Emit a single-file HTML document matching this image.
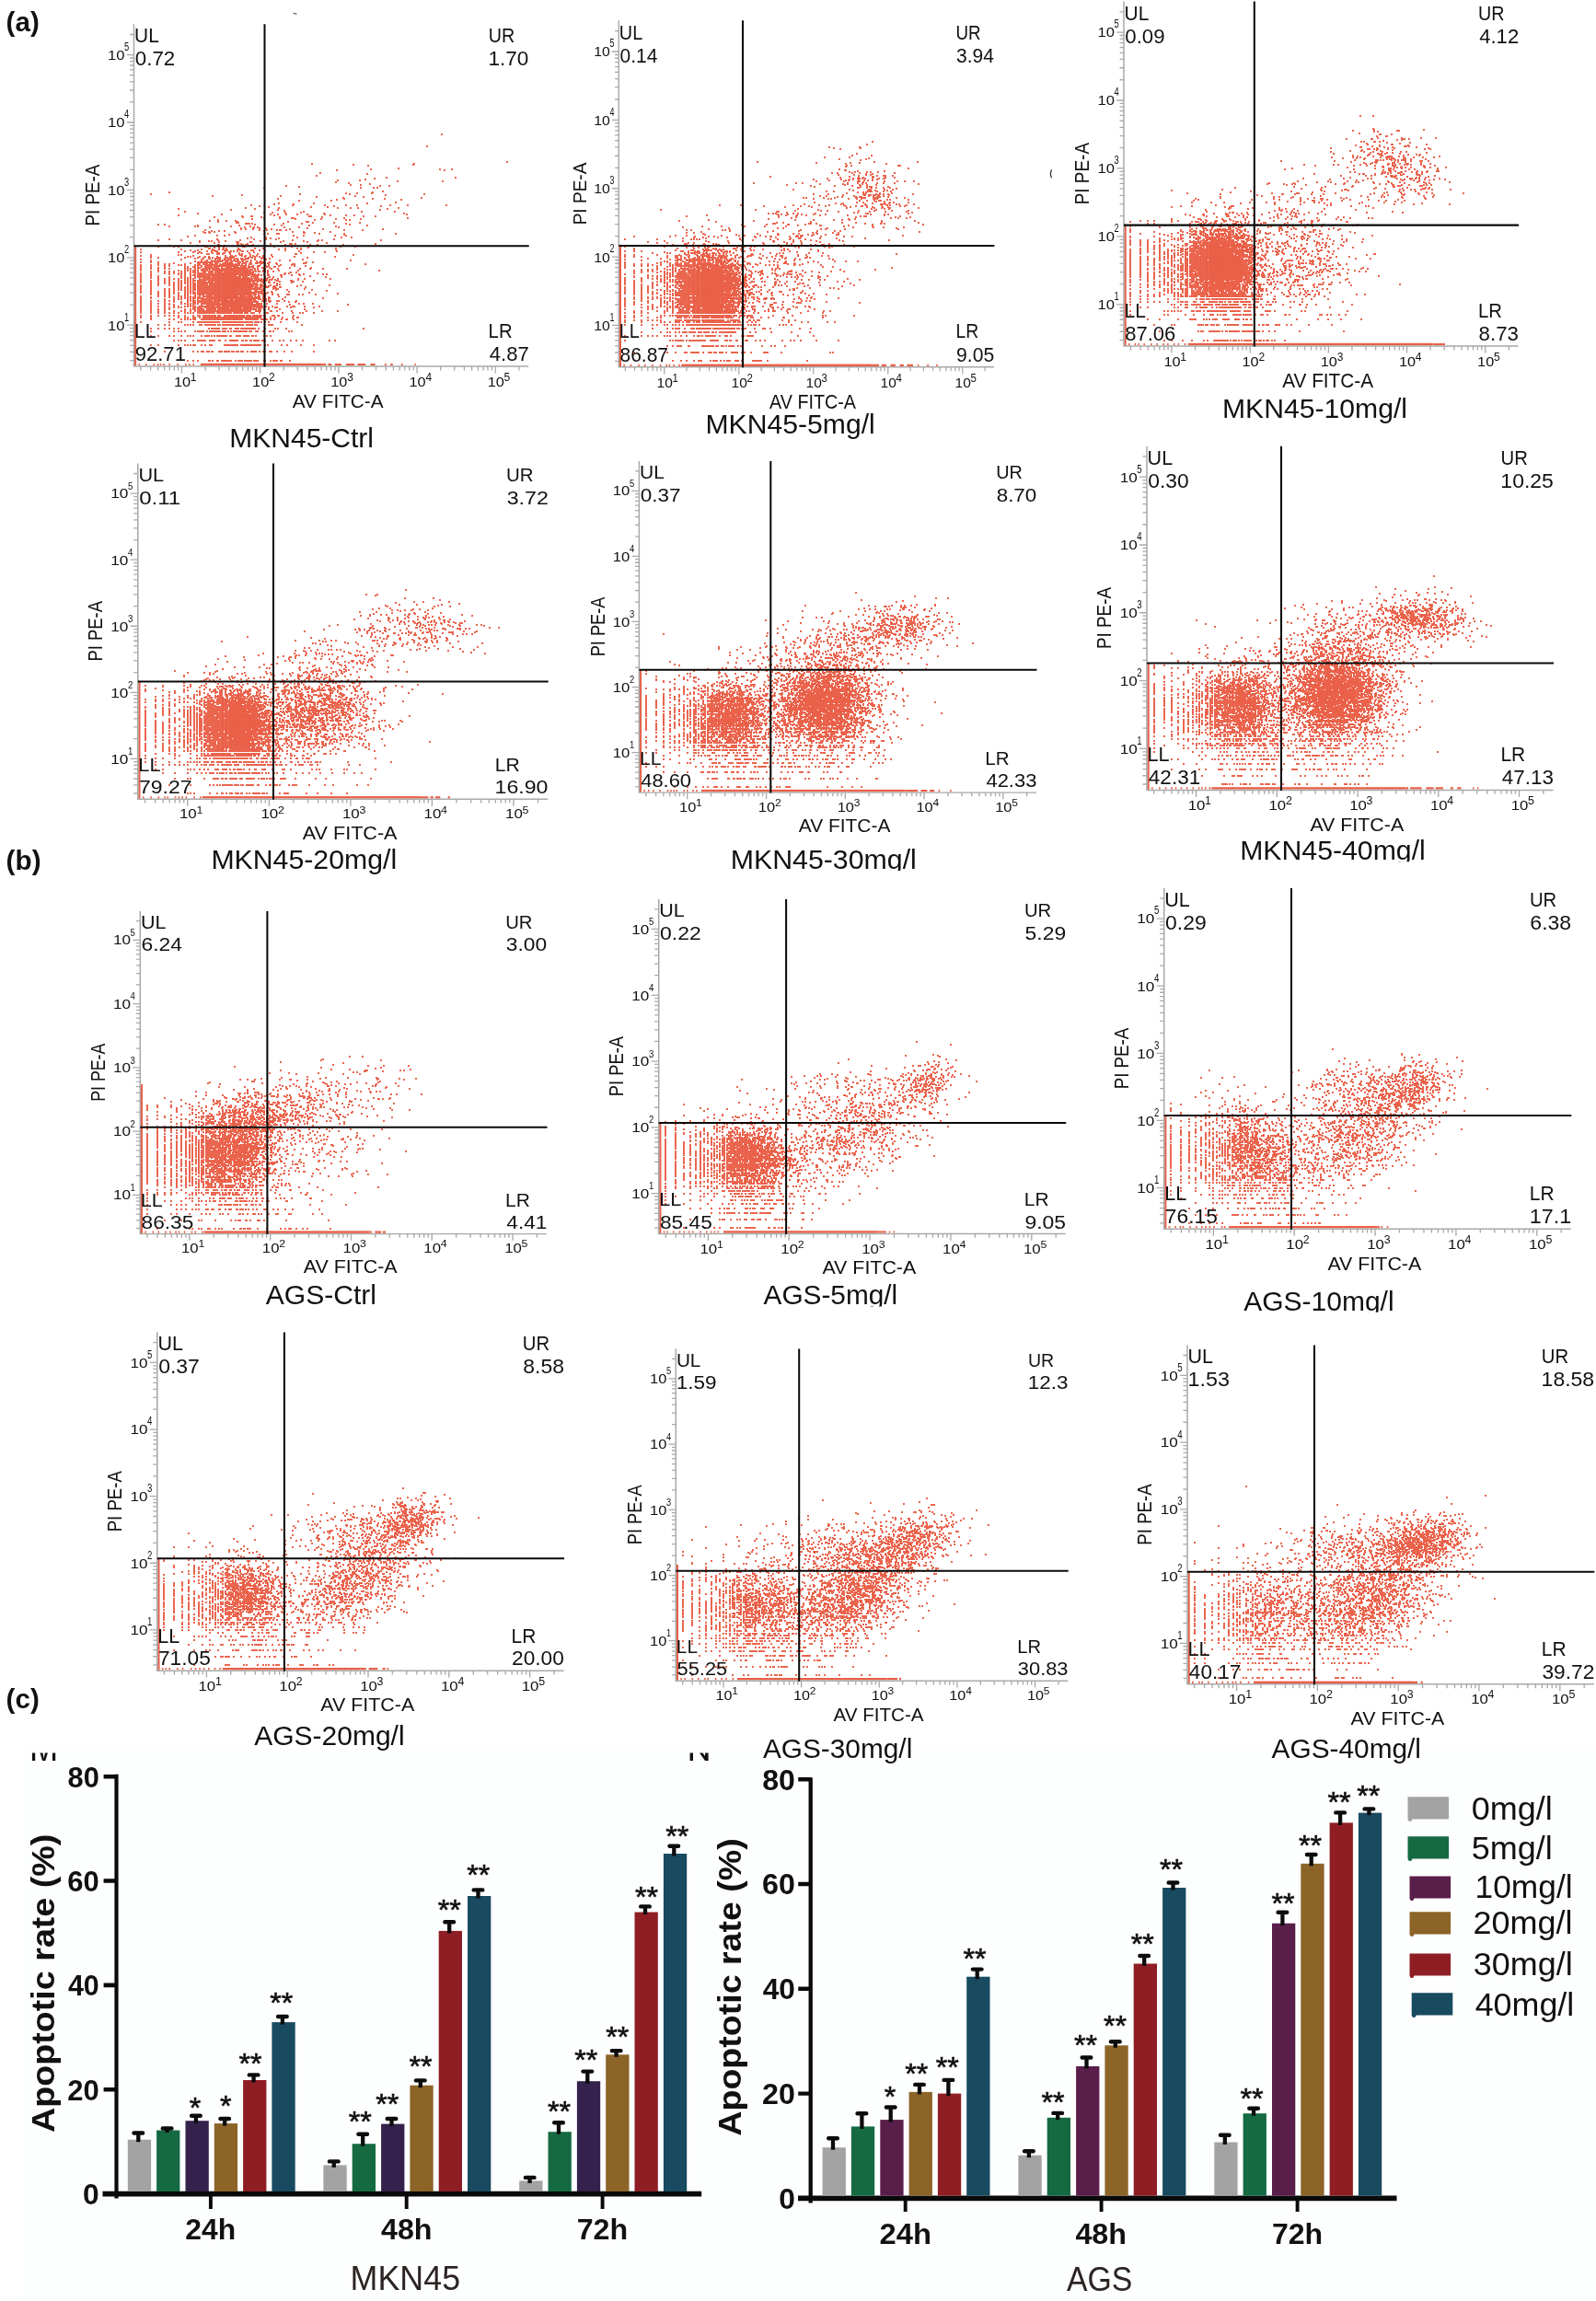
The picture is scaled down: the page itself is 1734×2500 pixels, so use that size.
<!DOCTYPE html>
<html><head><meta charset="utf-8"><title>Figure</title>
<style>html,body{margin:0;padding:0;background:#fff}body{width:1734px;height:2500px;overflow:hidden}svg{display:block;font-family:"Liberation Sans", sans-serif;will-change:transform}</style>
</head><body>
<svg width="1734" height="2500" viewBox="0 0 1734 2500">
<rect width="1734" height="2500" fill="#fff"/>
<defs><g id="tpl">
<path d="M0 0V371.7 H428.7" fill="none" stroke="#a9a9a9" stroke-width="1.5"/>
<path d="M7.4 371.7v4.4M0 365.3h-4.4M18.1 371.7v4.4M0 356.1h-4.4M26.3 371.7v4.4M0 349h-4.4M33.1 371.7v4.4M0 343.2h-4.4M38.8 371.7v4.4M0 338.3h-4.4M43.7 371.7v4.4M0 334h-4.4M48.1 371.7v4.4M0 330.3h-4.4M52 371.7v7.5M0 326.9h-7.8M77.6 371.7v4.4M0 304.8h-4.4M92.6 371.7v4.4M0 291.9h-4.4M103.3 371.7v4.4M0 282.7h-4.4M111.5 371.7v4.4M0 275.6h-4.4M118.3 371.7v4.4M0 269.8h-4.4M124 371.7v4.4M0 264.9h-4.4M128.9 371.7v4.4M0 260.6h-4.4M133.3 371.7v4.4M0 256.9h-4.4M137.2 371.7v7.5M0 253.5h-7.8M162.8 371.7v4.4M0 231.4h-4.4M177.8 371.7v4.4M0 218.5h-4.4M188.5 371.7v4.4M0 209.3h-4.4M196.7 371.7v4.4M0 202.2h-4.4M203.5 371.7v4.4M0 196.4h-4.4M209.2 371.7v4.4M0 191.5h-4.4M214.1 371.7v4.4M0 187.2h-4.4M218.5 371.7v4.4M0 183.5h-4.4M222.4 371.7v7.5M0 180.1h-7.8M248 371.7v4.4M0 158h-4.4M263 371.7v4.4M0 145.1h-4.4M273.7 371.7v4.4M0 135.9h-4.4M281.9 371.7v4.4M0 128.8h-4.4M288.7 371.7v4.4M0 123h-4.4M294.4 371.7v4.4M0 118.1h-4.4M299.3 371.7v4.4M0 113.8h-4.4M303.7 371.7v4.4M0 110.1h-4.4M307.6 371.7v7.5M0 106.7h-7.8M333.2 371.7v4.4M0 84.6h-4.4M348.2 371.7v4.4M0 71.7h-4.4M358.9 371.7v4.4M0 62.5h-4.4M367.1 371.7v4.4M0 55.4h-4.4M373.9 371.7v4.4M0 49.6h-4.4M379.6 371.7v4.4M0 44.7h-4.4M384.5 371.7v4.4M0 40.4h-4.4M388.9 371.7v4.4M0 36.7h-4.4M392.8 371.7v7.5M0 33.3h-7.8M418.4 371.7v4.4M0 11.2h-4.4" fill="none" stroke="#a9a9a9" stroke-width="1.3"/>
<text x="43.4" y="393.3" font-size="15" fill="#111" textLength="18.13" lengthAdjust="spacingAndGlyphs">10</text>
<text x="61.3" y="387.3" font-size="12" fill="#111">1</text>
<text x="-28.5" y="332.3" font-size="15" fill="#111" textLength="18.46" lengthAdjust="spacingAndGlyphs">10</text>
<text x="-10.4" y="322.3" font-size="12" fill="#111" textLength="5.2" lengthAdjust="spacingAndGlyphs">1</text>
<text x="128.6" y="393.3" font-size="15" fill="#111" textLength="18.13" lengthAdjust="spacingAndGlyphs">10</text>
<text x="146.5" y="387.3" font-size="12" fill="#111">2</text>
<text x="-28.5" y="258.9" font-size="15" fill="#111" textLength="18.46" lengthAdjust="spacingAndGlyphs">10</text>
<text x="-10.4" y="248.9" font-size="12" fill="#111" textLength="5.2" lengthAdjust="spacingAndGlyphs">2</text>
<text x="213.8" y="393.3" font-size="15" fill="#111" textLength="18.13" lengthAdjust="spacingAndGlyphs">10</text>
<text x="231.7" y="387.3" font-size="12" fill="#111">3</text>
<text x="-28.5" y="185.5" font-size="15" fill="#111" textLength="18.46" lengthAdjust="spacingAndGlyphs">10</text>
<text x="-10.4" y="175.5" font-size="12" fill="#111" textLength="5.2" lengthAdjust="spacingAndGlyphs">3</text>
<text x="299" y="393.3" font-size="15" fill="#111" textLength="18.13" lengthAdjust="spacingAndGlyphs">10</text>
<text x="316.9" y="387.3" font-size="12" fill="#111">4</text>
<text x="-28.5" y="112.1" font-size="15" fill="#111" textLength="18.46" lengthAdjust="spacingAndGlyphs">10</text>
<text x="-10.4" y="102.1" font-size="12" fill="#111" textLength="5.2" lengthAdjust="spacingAndGlyphs">4</text>
<text x="384.2" y="393.3" font-size="15" fill="#111" textLength="18.13" lengthAdjust="spacingAndGlyphs">10</text>
<text x="402.1" y="387.3" font-size="12" fill="#111">5</text>
<text x="-28.5" y="38.7" font-size="15" fill="#111" textLength="18.46" lengthAdjust="spacingAndGlyphs">10</text>
<text x="-10.4" y="28.7" font-size="12" fill="#111" textLength="5.2" lengthAdjust="spacingAndGlyphs">5</text>
<text x="172.3" y="416.5" font-size="21" fill="#111" textLength="98.79" lengthAdjust="spacingAndGlyphs">AV FITC-A</text>
<g transform="translate(-37.6 185) rotate(-90)"><text x="-34.2" y="0" font-size="21.4" fill="#111" textLength="66.84" lengthAdjust="spacingAndGlyphs">PI PE-A</text></g>
</g></defs>
<rect x="24" y="1899" width="1710" height="601" fill="#fdfefe"/>
<path d="M35 1904.5h3.2v8.5h-3.2z M57 1904.5h3.2v8.5h-3.2z M43.5 1904.5h3l1.2 6 1.2-6h3l-2.6 8.5h-3.2z" fill="#111"/>
<path d="M749.6 1904.5h3.4v8.6h-3.4z M766.2 1904.5h3.4v8.6h-3.6l-6-8.6h3.6l2.4 3.4z" fill="#111"/>
<path d="M126.5 1927.8V2388.5" stroke="#0a0a0a" stroke-width="4.2" fill="none"/>
<path d="M111.5 2383.6H762.2" stroke="#0a0a0a" stroke-width="5.6" fill="none"/>
<path d="M112.6 2270.2H126.5M112.6 2156.9H126.5M112.6 2043.5H126.5M112.6 1930.2H126.5" stroke="#0a0a0a" stroke-width="4.6" fill="none"/>
<path d="M228.9 2383.6V2400M441.7 2383.6V2400M654.6 2383.6V2400" stroke="#0a0a0a" stroke-width="3.9" fill="none"/>
<text x="90.1" y="2395" font-size="31" font-weight="bold" fill="#111" textLength="17.68" lengthAdjust="spacingAndGlyphs">0</text>
<text x="73.3" y="2281.6" font-size="31" font-weight="bold" fill="#111" textLength="34.50" lengthAdjust="spacingAndGlyphs">20</text>
<text x="73.9" y="2168.3" font-size="31" font-weight="bold" fill="#111" textLength="33.84" lengthAdjust="spacingAndGlyphs">40</text>
<text x="73.3" y="2054.9" font-size="31" font-weight="bold" fill="#111" textLength="34.50" lengthAdjust="spacingAndGlyphs">60</text>
<text x="73.5" y="1941.6" font-size="31" font-weight="bold" fill="#111" textLength="34.33" lengthAdjust="spacingAndGlyphs">80</text>
<text x="201.2" y="2433.1" font-size="31.2" font-weight="bold" fill="#111" textLength="54.93" lengthAdjust="spacingAndGlyphs">24h</text>
<text x="414" y="2433.1" font-size="31.2" font-weight="bold" fill="#111" textLength="55.52" lengthAdjust="spacingAndGlyphs">48h</text>
<text x="626.7" y="2433.1" font-size="31.2" font-weight="bold" fill="#111" textLength="55.53" lengthAdjust="spacingAndGlyphs">72h</text>
<g transform="translate(59 2155.2) rotate(-90)"><text x="-161.8" y="0" font-size="34.8" font-weight="bold" fill="#111" textLength="324.38" lengthAdjust="spacingAndGlyphs">Apoptotic rate (%)</text></g>
<text x="380.6" y="2487.6" font-size="37.5" fill="#2b2422" textLength="119.49" lengthAdjust="spacingAndGlyphs">MKN45</text>
<rect x="138.8" y="2324.7" width="25.3" height="56.3" fill="#a3a3a3"/>
<path d="M145.5 2317.5h9.6" stroke="#0c0c0c" stroke-width="4.4" stroke-linecap="round" fill="none"/><path d="M150.3 2317.3V2327.2" stroke="#0c0c0c" stroke-width="4.3" fill="none"/>
<rect x="170.1" y="2314.5" width="25.3" height="66.5" fill="#166a42"/>
<path d="M176.8 2312.5h9.6" stroke="#0c0c0c" stroke-width="4.4" stroke-linecap="round" fill="none"/><path d="M181.6 2312.3V2317" stroke="#0c0c0c" stroke-width="4.3" fill="none"/>
<rect x="201.5" y="2304.2" width="25.3" height="76.8" fill="#34214c"/>
<path d="M208.1 2298.7h9.6" stroke="#0c0c0c" stroke-width="4.4" stroke-linecap="round" fill="none"/><path d="M212.9 2298.5V2306.7" stroke="#0c0c0c" stroke-width="4.3" fill="none"/>
<text x="205.7" y="2301.2" font-size="32.2" fill="#111" stroke="#111" stroke-width=".6">*</text>
<rect x="232.8" y="2307.1" width="25.3" height="73.9" fill="#8c6428"/>
<path d="M239.4 2302h9.6" stroke="#0c0c0c" stroke-width="4.4" stroke-linecap="round" fill="none"/><path d="M244.2 2301.8V2309.6" stroke="#0c0c0c" stroke-width="4.3" fill="none"/>
<text x="239" y="2298.7" font-size="32.2" fill="#111" stroke="#111" stroke-width=".6">*</text>
<rect x="264.1" y="2260" width="25.3" height="121" fill="#8e1e24"/>
<path d="M270.8 2254.4h9.6" stroke="#0c0c0c" stroke-width="4.4" stroke-linecap="round" fill="none"/><path d="M275.6 2254.2V2262.5" stroke="#0c0c0c" stroke-width="4.3" fill="none"/>
<text x="259.6" y="2252.8" font-size="32.2" fill="#111" stroke="#111" stroke-width=".6">**</text>
<rect x="295.4" y="2197.1" width="25.3" height="183.9" fill="#184a60"/>
<path d="M302.1 2191h9.6" stroke="#0c0c0c" stroke-width="4.4" stroke-linecap="round" fill="none"/><path d="M306.9 2190.8V2199.6" stroke="#0c0c0c" stroke-width="4.3" fill="none"/>
<text x="293.3" y="2186.9" font-size="32.2" fill="#111" stroke="#111" stroke-width=".6">**</text>
<rect x="351.4" y="2352.4" width="25.3" height="28.6" fill="#a3a3a3"/>
<path d="M358 2348.4h9.6" stroke="#0c0c0c" stroke-width="4.4" stroke-linecap="round" fill="none"/><path d="M362.8 2348.2V2354.9" stroke="#0c0c0c" stroke-width="4.3" fill="none"/>
<rect x="382.7" y="2329.2" width="25.3" height="51.8" fill="#166a42"/>
<path d="M389.4 2318.8h9.6" stroke="#0c0c0c" stroke-width="4.4" stroke-linecap="round" fill="none"/><path d="M394.2 2318.6V2331.7" stroke="#0c0c0c" stroke-width="4.3" fill="none"/>
<text x="378.8" y="2316.2" font-size="32.2" fill="#111" stroke="#111" stroke-width=".6">**</text>
<rect x="414.1" y="2307.6" width="25.3" height="73.4" fill="#34214c"/>
<path d="M420.7 2302h9.6" stroke="#0c0c0c" stroke-width="4.4" stroke-linecap="round" fill="none"/><path d="M425.5 2301.8V2310.1" stroke="#0c0c0c" stroke-width="4.3" fill="none"/>
<text x="408.2" y="2297.4" font-size="32.2" fill="#111" stroke="#111" stroke-width=".6">**</text>
<rect x="445.4" y="2265.7" width="25.3" height="115.3" fill="#8c6428"/>
<path d="M452 2260.4h9.6" stroke="#0c0c0c" stroke-width="4.4" stroke-linecap="round" fill="none"/><path d="M456.8 2260.2V2268.2" stroke="#0c0c0c" stroke-width="4.3" fill="none"/>
<text x="444.5" y="2256.1" font-size="32.2" fill="#111" stroke="#111" stroke-width=".6">**</text>
<rect x="476.7" y="2097.9" width="25.3" height="283.1" fill="#8e1e24"/>
<path d="M483.4 2088.2h9.6" stroke="#0c0c0c" stroke-width="4.4" stroke-linecap="round" fill="none"/><path d="M488.2 2088V2100.4" stroke="#0c0c0c" stroke-width="4.3" fill="none"/>
<text x="475.8" y="2086.4" font-size="32.2" fill="#111" stroke="#111" stroke-width=".6">**</text>
<rect x="508" y="2060" width="25.3" height="321" fill="#184a60"/>
<path d="M514.7 2053.4h9.6" stroke="#0c0c0c" stroke-width="4.4" stroke-linecap="round" fill="none"/><path d="M519.5 2053.2V2062.5" stroke="#0c0c0c" stroke-width="4.3" fill="none"/>
<text x="507.2" y="2047.6" font-size="32.2" fill="#111" stroke="#111" stroke-width=".6">**</text>
<rect x="564.2" y="2369.4" width="25.3" height="11.6" fill="#a3a3a3"/>
<path d="M570.9 2365.9h9.6" stroke="#0c0c0c" stroke-width="4.4" stroke-linecap="round" fill="none"/><path d="M575.6 2365.7V2371.9" stroke="#0c0c0c" stroke-width="4.3" fill="none"/>
<rect x="595.5" y="2316.2" width="25.3" height="64.8" fill="#166a42"/>
<path d="M602.2 2306.2h9.6" stroke="#0c0c0c" stroke-width="4.4" stroke-linecap="round" fill="none"/><path d="M607 2306V2318.7" stroke="#0c0c0c" stroke-width="4.3" fill="none"/>
<text x="594.9" y="2305" font-size="32.2" fill="#111" stroke="#111" stroke-width=".6">**</text>
<rect x="626.9" y="2261.2" width="25.3" height="119.8" fill="#34214c"/>
<path d="M633.5 2250.6h9.6" stroke="#0c0c0c" stroke-width="4.4" stroke-linecap="round" fill="none"/><path d="M638.3 2250.4V2263.7" stroke="#0c0c0c" stroke-width="4.3" fill="none"/>
<text x="624.2" y="2248.6" font-size="32.2" fill="#111" stroke="#111" stroke-width=".6">**</text>
<rect x="658.2" y="2232.3" width="25.3" height="148.7" fill="#8c6428"/>
<path d="M664.8 2228.1h9.6" stroke="#0c0c0c" stroke-width="4.4" stroke-linecap="round" fill="none"/><path d="M669.6 2227.9V2234.8" stroke="#0c0c0c" stroke-width="4.3" fill="none"/>
<text x="658.3" y="2223.5" font-size="32.2" fill="#111" stroke="#111" stroke-width=".6">**</text>
<rect x="689.5" y="2077.5" width="25.3" height="303.5" fill="#8e1e24"/>
<path d="M696.2 2071.4h9.6" stroke="#0c0c0c" stroke-width="4.4" stroke-linecap="round" fill="none"/><path d="M701 2071.2V2080" stroke="#0c0c0c" stroke-width="4.3" fill="none"/>
<text x="690.1" y="2071.9" font-size="32.2" fill="#111" stroke="#111" stroke-width=".6">**</text>
<rect x="720.9" y="2014" width="25.3" height="367" fill="#184a60"/>
<path d="M727.5 2005.8h9.6" stroke="#0c0c0c" stroke-width="4.4" stroke-linecap="round" fill="none"/><path d="M732.3 2005.6V2016.5" stroke="#0c0c0c" stroke-width="4.3" fill="none"/>
<text x="723.2" y="2006.2" font-size="32.2" fill="#111" stroke="#111" stroke-width=".6">**</text>
<path d="M880.7 1931.2V2393.4" stroke="#0a0a0a" stroke-width="4.3" fill="none"/>
<path d="M867 2388.4H1517.5" stroke="#0a0a0a" stroke-width="5.8" fill="none"/>
<path d="M867.2 2274.6H880.7M867.2 2160.8H880.7M867.2 2047H880.7M867.2 1933.2H880.7" stroke="#0a0a0a" stroke-width="4.4" fill="none"/>
<path d="M983.7 2388.4V2403M1196.6 2388.4V2403M1409.6 2388.4V2403" stroke="#0a0a0a" stroke-width="3.9" fill="none"/>
<text x="846.2" y="2399.8" font-size="31" font-weight="bold" fill="#111" textLength="17.68" lengthAdjust="spacingAndGlyphs">0</text>
<text x="828.1" y="2286" font-size="31" font-weight="bold" fill="#111" textLength="35.90" lengthAdjust="spacingAndGlyphs">20</text>
<text x="828.7" y="2172.2" font-size="31" font-weight="bold" fill="#111" textLength="35.22" lengthAdjust="spacingAndGlyphs">40</text>
<text x="828.1" y="2058.4" font-size="31" font-weight="bold" fill="#111" textLength="35.90" lengthAdjust="spacingAndGlyphs">60</text>
<text x="828.2" y="1944.6" font-size="31" font-weight="bold" fill="#111" textLength="35.72" lengthAdjust="spacingAndGlyphs">80</text>
<text x="955.6" y="2438.1" font-size="31.2" font-weight="bold" fill="#111" textLength="56.42" lengthAdjust="spacingAndGlyphs">24h</text>
<text x="1168.4" y="2438.1" font-size="31.2" font-weight="bold" fill="#111" textLength="55.62" lengthAdjust="spacingAndGlyphs">48h</text>
<text x="1381.9" y="2438.1" font-size="31.2" font-weight="bold" fill="#111" textLength="55.21" lengthAdjust="spacingAndGlyphs">72h</text>
<g transform="translate(805.2 2159.4) rotate(-90)"><text x="-161.3" y="0" font-size="34.8" font-weight="bold" fill="#111" textLength="323.47" lengthAdjust="spacingAndGlyphs">Apoptotic rate (%)</text></g>
<text x="1158.9" y="2489" font-size="37.5" fill="#2b2422" textLength="71.28" lengthAdjust="spacingAndGlyphs">AGS</text>
<rect x="893.6" y="2333.2" width="25.3" height="52.4" fill="#a3a3a3"/>
<path d="M900.2 2323.3h9.6" stroke="#0c0c0c" stroke-width="4.4" stroke-linecap="round" fill="none"/><path d="M905 2323.1V2335.7" stroke="#0c0c0c" stroke-width="4.3" fill="none"/>
<rect x="924.9" y="2310.4" width="25.3" height="75.2" fill="#166a42"/>
<path d="M931.6 2296.2h9.6" stroke="#0c0c0c" stroke-width="4.4" stroke-linecap="round" fill="none"/><path d="M936.4 2296V2312.9" stroke="#0c0c0c" stroke-width="4.3" fill="none"/>
<rect x="956.3" y="2303.1" width="25.3" height="82.5" fill="#5a1e4b"/>
<path d="M962.9 2289.5h9.6" stroke="#0c0c0c" stroke-width="4.4" stroke-linecap="round" fill="none"/><path d="M967.7 2289.3V2305.6" stroke="#0c0c0c" stroke-width="4.3" fill="none"/>
<text x="960.7" y="2289.2" font-size="32.2" fill="#111" stroke="#111" stroke-width=".6">*</text>
<rect x="987.6" y="2272.9" width="25.3" height="112.7" fill="#8c6428"/>
<path d="M994.2 2264.9h9.6" stroke="#0c0c0c" stroke-width="4.4" stroke-linecap="round" fill="none"/><path d="M999 2264.7V2275.4" stroke="#0c0c0c" stroke-width="4.3" fill="none"/>
<text x="983.2" y="2263.6" font-size="32.2" fill="#111" stroke="#111" stroke-width=".6">**</text>
<rect x="1018.9" y="2274.6" width="25.3" height="111" fill="#8e1e24"/>
<path d="M1025.6 2259.9h9.6" stroke="#0c0c0c" stroke-width="4.4" stroke-linecap="round" fill="none"/><path d="M1030.4 2259.7V2277.1" stroke="#0c0c0c" stroke-width="4.3" fill="none"/>
<text x="1016.8" y="2256.6" font-size="32.2" fill="#111" stroke="#111" stroke-width=".6">**</text>
<rect x="1050.2" y="2147.7" width="25.3" height="237.9" fill="#184a60"/>
<path d="M1056.9 2139.6h9.6" stroke="#0c0c0c" stroke-width="4.4" stroke-linecap="round" fill="none"/><path d="M1061.7 2139.4V2150.2" stroke="#0c0c0c" stroke-width="4.3" fill="none"/>
<text x="1046.4" y="2139" font-size="32.2" fill="#111" stroke="#111" stroke-width=".6">**</text>
<rect x="1106.4" y="2341.7" width="25.3" height="43.9" fill="#a3a3a3"/>
<path d="M1113.1 2337.3h9.6" stroke="#0c0c0c" stroke-width="4.4" stroke-linecap="round" fill="none"/><path d="M1117.9 2337.1V2344.2" stroke="#0c0c0c" stroke-width="4.3" fill="none"/>
<rect x="1137.7" y="2300.8" width="25.3" height="84.8" fill="#166a42"/>
<path d="M1144.4 2295.9h9.6" stroke="#0c0c0c" stroke-width="4.4" stroke-linecap="round" fill="none"/><path d="M1149.2 2295.7V2303.3" stroke="#0c0c0c" stroke-width="4.3" fill="none"/>
<text x="1131.4" y="2295.1" font-size="32.2" fill="#111" stroke="#111" stroke-width=".6">**</text>
<rect x="1169.1" y="2245" width="25.3" height="140.6" fill="#5a1e4b"/>
<path d="M1175.7 2235.5h9.6" stroke="#0c0c0c" stroke-width="4.4" stroke-linecap="round" fill="none"/><path d="M1180.5 2235.3V2247.5" stroke="#0c0c0c" stroke-width="4.3" fill="none"/>
<text x="1167.1" y="2233.2" font-size="32.2" fill="#111" stroke="#111" stroke-width=".6">**</text>
<rect x="1200.4" y="2222.3" width="25.3" height="163.3" fill="#8c6428"/>
<path d="M1207 2218.2h9.6" stroke="#0c0c0c" stroke-width="4.4" stroke-linecap="round" fill="none"/><path d="M1211.8 2218V2224.8" stroke="#0c0c0c" stroke-width="4.3" fill="none"/>
<text x="1198.9" y="2212.4" font-size="32.2" fill="#111" stroke="#111" stroke-width=".6">**</text>
<rect x="1231.7" y="2133.5" width="25.3" height="252.1" fill="#8e1e24"/>
<path d="M1238.4 2125h9.6" stroke="#0c0c0c" stroke-width="4.4" stroke-linecap="round" fill="none"/><path d="M1243.2 2124.8V2136" stroke="#0c0c0c" stroke-width="4.3" fill="none"/>
<text x="1228.7" y="2123.4" font-size="32.2" fill="#111" stroke="#111" stroke-width=".6">**</text>
<rect x="1263.1" y="2051" width="25.3" height="334.6" fill="#184a60"/>
<path d="M1269.7 2045.5h9.6" stroke="#0c0c0c" stroke-width="4.4" stroke-linecap="round" fill="none"/><path d="M1274.5 2045.3V2053.5" stroke="#0c0c0c" stroke-width="4.3" fill="none"/>
<text x="1259.9" y="2041.6" font-size="32.2" fill="#111" stroke="#111" stroke-width=".6">**</text>
<rect x="1319.3" y="2327.5" width="25.3" height="58.1" fill="#a3a3a3"/>
<path d="M1326 2319.7h9.6" stroke="#0c0c0c" stroke-width="4.4" stroke-linecap="round" fill="none"/><path d="M1330.8 2319.5V2330" stroke="#0c0c0c" stroke-width="4.3" fill="none"/>
<rect x="1350.6" y="2296.2" width="25.3" height="89.4" fill="#166a42"/>
<path d="M1357.3 2290.7h9.6" stroke="#0c0c0c" stroke-width="4.4" stroke-linecap="round" fill="none"/><path d="M1362.1 2290.5V2298.7" stroke="#0c0c0c" stroke-width="4.3" fill="none"/>
<text x="1347.4" y="2290.9" font-size="32.2" fill="#111" stroke="#111" stroke-width=".6">**</text>
<rect x="1382" y="2089.7" width="25.3" height="295.9" fill="#5a1e4b"/>
<path d="M1388.6 2077.7h9.6" stroke="#0c0c0c" stroke-width="4.4" stroke-linecap="round" fill="none"/><path d="M1393.4 2077.5V2092.2" stroke="#0c0c0c" stroke-width="4.3" fill="none"/>
<text x="1381.5" y="2079.4" font-size="32.2" fill="#111" stroke="#111" stroke-width=".6">**</text>
<rect x="1413.3" y="2024.8" width="25.3" height="360.8" fill="#8c6428"/>
<path d="M1419.9 2015h9.6" stroke="#0c0c0c" stroke-width="4.4" stroke-linecap="round" fill="none"/><path d="M1424.7 2014.8V2027.3" stroke="#0c0c0c" stroke-width="4.3" fill="none"/>
<text x="1411.1" y="2016.2" font-size="32.2" fill="#111" stroke="#111" stroke-width=".6">**</text>
<rect x="1444.6" y="1980.4" width="25.3" height="405.2" fill="#8e1e24"/>
<path d="M1451.3 1969.4h9.6" stroke="#0c0c0c" stroke-width="4.4" stroke-linecap="round" fill="none"/><path d="M1456.1 1969.2V1982.9" stroke="#0c0c0c" stroke-width="4.3" fill="none"/>
<text x="1442.4" y="1968.6" font-size="32.2" fill="#111" stroke="#111" stroke-width=".6">**</text>
<rect x="1475.9" y="1969.6" width="25.3" height="416" fill="#184a60"/>
<path d="M1482.6 1965.4h9.6" stroke="#0c0c0c" stroke-width="4.4" stroke-linecap="round" fill="none"/><path d="M1487.4 1965.2V1972.1" stroke="#0c0c0c" stroke-width="4.3" fill="none"/>
<text x="1474.3" y="1961.6" font-size="32.2" fill="#111" stroke="#111" stroke-width=".6">**</text>
<path d="M1529.5 1952.2h44.6v24.2h-39.6q-.6 2.6-2.6 2.6t-2.4-2.6z" fill="#a3a3a3"/>
<text x="1598.8" y="1976.5" font-size="35.6" fill="#111" textLength="87.99" lengthAdjust="spacingAndGlyphs">0mg/l</text>
<path d="M1529.5 1995.3h44.6v24.2h-39.6q-.6 2.6-2.6 2.6t-2.4-2.6z" fill="#166a42"/>
<text x="1598.8" y="2019.6" font-size="35.6" fill="#111" textLength="87.99" lengthAdjust="spacingAndGlyphs">5mg/l</text>
<path d="M1531.5 2038.4h44.6v24.2h-39.6q-.6 2.6-2.6 2.6t-2.4-2.6z" fill="#5a1e4b"/>
<text x="1602.6" y="2062.2" font-size="35.6" fill="#111" textLength="106.00" lengthAdjust="spacingAndGlyphs">10mg/l</text>
<path d="M1531.5 2077.2h44.6v24.2h-39.6q-.6 2.6-2.6 2.6t-2.4-2.6z" fill="#8c6428"/>
<text x="1600.4" y="2101" font-size="35.6" fill="#111" textLength="108.20" lengthAdjust="spacingAndGlyphs">20mg/l</text>
<path d="M1531.5 2122.4h44.6v24.2h-39.6q-.6 2.6-2.6 2.6t-2.4-2.6z" fill="#8e1e24"/>
<text x="1600.8" y="2146.2" font-size="35.6" fill="#111" textLength="107.83" lengthAdjust="spacingAndGlyphs">30mg/l</text>
<path d="M1533.7 2165.2h44.6v24.2h-39.6q-.6 2.6-2.6 2.6t-2.4-2.6z" fill="#184a60"/>
<text x="1602.7" y="2189.5" font-size="35.6" fill="#111" textLength="107.60" lengthAdjust="spacingAndGlyphs">40mg/l</text>
<text x="828.9" y="1909.6" font-size="29.2" fill="#111" textLength="162.38" lengthAdjust="spacingAndGlyphs">AGS-30mg/l</text>
<text x="1381.6" y="1909.6" font-size="29.2" fill="#111" textLength="162.38" lengthAdjust="spacingAndGlyphs">AGS-40mg/l</text>
<path d="m480 146h0m-16 13h0m87 17h0m-212 2h0m111 0h0m-66 1h0m65 0h0m-49 1h0m33 3h0m-30 1h0m75 0h0m13 0h0m-125 1h0m117 0h0m-135 3h0m51 1h0m-55 2h0m76 2h0m75 0h0m-88 1h0m-10 1h0m-30 1h0m24 0h0m41 1h0m49 0h0m-116 1h0m14 1h0m23 1h0m-21 1h0m11 0h0m-81 1h0m102 0h0m10 0h0m-98 1h0m-38 1h0m105 0h0m14 0h0m4 0h0m6 4h0m-232 1h0m221 0h0m-29 1h0m12 0h0m16 0h0m-240 1h0m162 0h0m54 0h0m81 0h0m-198 1h0m156 0h0m-188 1h0m74 0h0m81 0h0m-42 1h0m51 0h0m-22 1h0m85 0h0m-156 1h0m72 0h0m31 0h0m13 0h0m-52 1h0m70 0h0m-111 1h0m35 0h0m70 2h0m-127 1h0m38 0h0m58 0h0m-101 1h0m21 0h0m-46 1h0m45 0h0m35 0h0m23 0h0m12 0h0m36 0h0m19 0h0m42 0h0m-203 1h0m81 0h0m51 0h0m-122 1h0m46 0h0m18 0h0m-89 1h0m36 0h0m64 0h0m14 0h0m8 0h0m44 0h0m-239 1h0m83 0h0m144 0h0m-170 1h0m51 0h0m111 0h0m-104 1h0m-108 1h0m129 0h0m63 0h0m36 0h0m-142 1h0m9 0h0m14 0h0m17 0h0m-112 1h0m137 0h0m87 0h0m-198 1h0m53 0h0m8 0h0m9 0h0m12 0h0m11 0h0m19 0h0m89 0h0m-248 1h0m104 0h0m61 0h0m17 0h0m9 0h0m-122 1h0m10 0h1m62 0h0m2 0h0m57 0h0m13 0h0m-175 1h0m31 0h0m20 0h0m20 0h0m46 0h0m-63 1h0m17 0h0m13 0h0m2 0h0m55 0h0m69 0h0m-169 1h0m47 0h0m28 0h0m16 0h0m27 0h0m-155 1h0m105 0h0m34 0h0m4 0h0m-152 1h0m18 0h0m10 0h0m-19 1h0m21 0h0m55 0h0m20 0h0m2 0h0m-78 1h0m2 0h0m81 0h0m23 0h0m28 0h0m-124 1h0m2 0h0m2 0h0m3 0h0m34 0h0m20 0h0m48 0h0m-204 1h0m7 0h0m98 0h0m21 0h0m82 0h0m-165 1h0m45 0h0m46 0h0m30 0h0m63 0h0m-215 1h0m28 0h0m3 0h0m36 0h0m21 0h0m93 0h0m-137 1h0m38 0h0m10 0h0m4 0h0m29 0h0m16 0h0m43 0h0m-106 1h0m13 0h0m7 0h0m7 0h0m45 0h0m-72 1h0m5 0h0m8 0h0m20 0h0m20 0h0m36 0h0m65 0h0m-193 1h0m59 0h0m8 0h0m11 0h0m3 0h1m6 0h0m63 0h0m20 0h0m-164 1h0m8 0h0m6 0h0m43 0h0m-66 1h0m6 0h0m6 0h0m22 0h0m63 0h0m12 0h0m29 0h0m-136 1h0m5 0h0m28 0h0m74 0h1m11 0h0m-55 1h0m4 0h0m10 0h0m2 0h0m44 0h0m27 0h0m56 0h0m-181 1h0m125 0h0m-162 1h0m24 0h0m8 0h0m75 0h0m11 0h0m34 0h0m12 0h0m-172 1h0m69 1h0m16 0h0m34 0h0m48 0h0m11 0h0m-113 1h0m25 0h0m9 0h0m-119 1h0m52 0h0m40 0h0m13 0h0m11 0h0m63 0h0m-191 1h0m25 0h0m40 0h0m24 0h0m57 0h0m28 0h0m4 0h0m64 0h0m-197 1h0m10 0h0m3 0h0m15 0h0m38 0h0m25 0h0m22 0h0m15 0h0m-128 1h0m21 0h0m19 0h0m2 0h0m13 0h1m32 0h0m29 0h0m-127 1h0m26 0h0m122 0h0m-97 1h1m3 0h0m7 0h0m25 0h0m21 0h0m2 0h0m4 0h0m87 0h0m-171 1h1m25 0h1m3 0h0m8 0h0m35 0h0m27 0h0m8 0h0m28 0h0m-189 1h0m31 0h0m6 0h0m16 0h0m7 0h0m15 0h0m12 0h0m2 0h0m2 0h0m70 0h0m-173 1h0m17 0h0m5 0h0m29 0h0m2 0h0m39 0h0m2 0h0m32 0h0m19 0h0m53 0h0m16 0h0m-153 1h0m5 0h0m5 0h0m92 0h0m-108 1h1m10 0h0m5 0h0m3 0h0m13 0h0m18 0h0m9 0h0m24 0h0m13 0h0m4 0h0m38 0h0m-212 1h0m44 0h0m22 0h0m12 0h0m7 0h0m4 0h0m18 0h0m43 0h0m24 0h0m38 0h0m-158 1h0m8 0h0m16 0h0m2 0h0m11 0h0m2 0h1m11 0h0m3 0h0m12 0h0m2 0h0m7 0h0m6 0h0m22 0h0m-109 1h0m11 0h0m13 0h0m5 0h0m4 0h0m2 0h0m9 0h0m6 0h0m3 0h0m4 0h0m5 0h1m5 0h0m56 0h0m41 0h0m-213 1h0m41 0h0m16 0h0m7 0h0m13 0h0m19 0h1m26 0h0m65 0h0m12 0h0m-138 1h0m4 0h0m12 0h0m5 0h2m5 0h1m16 0h0m11 0h0m56 0h0m-102 1h0m2 0h0m9 0h0m2 0h0m4 0h0m8 0h0m10 0h0m3 0h0m17 0h0m41 0h1m-158 1h0m30 0h0m3 0h0m64 0h1m10 0h0m23 0h0m89 0h0m-231 1h0m11 0h0m46 0h0m35 0h0m6 0h1m4 0h0m7 0h0m4 0h0m8 0h0m4 0h0m7 0h0m-82 1h0m3 0h0m10 0h0m6 0h0m4 0h0m9 0h0m9 0h0m5 0h2m2 0h0m12 0h0m6 0h0m5 0h0m5 0h0m14 0h0m24 0h0m44 0h0m-200 1h0m8 0h0m29 0h0m14 0h0m6 0h0m6 0h1m3 0h0m6 0h0m2 0h0m7 0h1m3 0h1m2 0h1m16 0h0m4 0h0m11 0h1m48 0h0m-122 1h0m9 0h0m6 0h1m6 0h0m2 0h0m3 0h0m5 0h0m4 0h0m3 0h0m6 0h1m4 0h1m4 0h3m7 0h0m7 0h0m3 0h1m5 0h0m-140 1h0m44 0h0m22 0h0m15 0h0m3 0h0m7 0h1m4 0h0m2 0h0m4 0h0m10 0h1m11 0h0m12 0h0m40 0h0m-165 1h0m61 0h0m5 0h0m9 0h0m3 0h0m3 0h0m2 0h1m3 0h0m3 0h0m4 0h1m4 0h0m10 0h0m31 0h0m11 0h0m66 0h0m-217 1h0m48 0h0m7 0h0m4 0h0m2 0h0m5 0h1m2 0h1m2 0h1m2 0h0m2 0h0m4 0h0m2 0h0m4 0h1m4 0h0m2 0h0m6 0h0m4 0h1m10 0h0m4 0h1m-131 1h0m11 0h0m8 0h0m43 0h0m2 0h0m2 0h0m2 0h0m2 0h0m2 0h0m2 0h1m2 0h0m7 0h0m8 0h2m3 0h2m8 0h1m3 0h0m3 0h0m5 0h0m7 0h0m3 0h0m4 0h1m6 0h0m40 0h0m7 0h0m-151 1h0m18 0h0m10 0h0m4 0h0m2 0h0m2 0h0m3 0h0m2 0h0m4 0h0m2 0h0m7 0h0m2 0h0m3 0h1m2 0h0m8 0h0m5 0h0m2 0h0m6 0h1m5 0h0m2 0h0m4 0h1m3 0h0m3 0h0m9 0h0m30 0h0m2 0h0m-160 1h0m7 0h0m5 0h0m17 0h0m14 0h0m2 0h0m4 0h0m2 0h0m2 0h0m3 0h0m2 0h1m5 0h0m3 0h0m3 0h0m2 0h4m2 0h1m2 0h0m3 0h0m2 0h0m2 0h0m3 0h0m4 0h0m4 0h0m2 0h0m10 0h0m9 0h0m9 0h0m17 0h0m2 0h0m77 0h0m-244 1h0m11 0h0m8 0h0m22 0h0m3 0h0m4 0h0m11 0h0m5 0h0m6 0h0m2 0h0m2 0h0m4 0h0m2 0h1m2 0h0m5 0h0m2 0h0m4 0h3m2 0h2m2 0h0m2 0h0m2 0h0m7 0h0m21 0h0m17 0h0m12 0h0m-164 1h0m26 0h0m5 0h0m17 0h0m14 0h0m4 0h0m4 0h0m4 0h1m2 0h0m4 0h0m2 0h3m2 0h4m2 0h1m3 0h3m2 0h0m6 0h0m2 0h0m2 0h0m4 0h0m5 0h0m5 0h2m6 0h1m3 0h0m11 0h0m17 0h0m12 0h0m-168 1h0m40 0h0m6 0h0m2 0h0m3 0h0m4 0h0m4 0h0m2 0h0m2 0h1m2 0h0m3 0h1m2 0h1m4 0h0m8 0h0m6 0h0m3 0h0m4 0h0m4 0h1m4 0h0m2 0h1m6 0h0m10 0h0m8 0h1m-146 1h0m11 0h0m8 0h0m7 0h0m22 0h0m11 0h0m3 0h0m2 0h0m8 0h0m5 0h1m2 0h1m2 0h0m5 0h0m5 0h3m2 0h0m3 0h0m2 0h0m2 0h1m2 0h0m3 0h2m4 0h1m4 0h0m10 0h0m2 0h0m6 0h0m22 0h0m23 0h0m-185 1h0m11 0h0m15 0h0m5 0h0m17 0h0m3 0h0m3 0h0m14 0h0m2 0h0m2 0h0m2 0h1m3 0h0m3 0h0m3 0h1m4 0h0m2 0h0m3 0h1m2 0h3m4 0h1m4 0h1m4 0h0m2 0h0m8 0h0m3 0h0m7 0h1m7 0h0m7 0h0m24 0h0m11 0h0m14 0h0m26 0h0m-224 1h0m19 0h0m29 0h0m6 0h0m5 0h0m3 0h0m4 0h0m4 0h0m2 0h0m6 0h0m2 0h1m2 0h0m3 0h0m2 0h0m2 0h1m2 0h2m2 0h0m5 0h0m4 0h0m2 0h0m4 0h2m2 0h0m3 0h0m2 0h0m6 0h0m8 0h0m-135 1h0m19 0h0m22 0h0m10 0h0m3 0h0m3 0h0m2 0h0m3 0h0m4 0h0m2 0h0m2 0h0m2 0h0m3 0h0m3 0h0m3 0h0m2 0h3m2 0h1m2 0h0m3 0h0m3 0h1m2 0h5m3 0h0m2 0h1m2 0h0m3 0h0m2 0h0m6 0h0m9 0h0m5 0h0m12 0h0m21 0h0m88 0h0m-248 1h0m8 0h0m7 0h0m5 0h0m5 0h0m8 0h0m4 0h0m6 0h0m3 0h0m2 0h0m9 0h0m6 0h1m2 0h1m5 0h2m3 0h0m4 0h0m2 0h2m2 0h0m2 0h1m2 0h2m2 0h1m2 0h0m2 0h0m2 0h2m3 0h0m3 0h0m3 0h0m3 0h1m4 0h0m2 0h0m3 0h0m6 0h0m-133 1h0m15 0h0m5 0h0m13 0h0m4 0h0m9 0h0m2 0h0m3 0h0m6 0h0m2 0h0m4 0h1m2 0h1m3 0h0m2 0h0m2 0h1m2 0h0m3 0h0m3 0h2m2 0h3m3 0h1m2 0h1m2 0h0m3 0h3m2 0h0m2 0h2m41 0h0m6 0h0m-169 1h0m26 0h0m5 0h0m5 0h0m5 0h0m7 0h0m6 0h0m5 0h0m3 0h0m2 0h0m2 0h0m2 0h0m2 0h0m7 0h1m3 0h0m2 0h3m2 0h9m2 0h5m4 0h0m2 0h0m2 0h1m2 0h1m2 0h0m3 0h0m17 0h0m19 0h0m4 0h0m31 0h0m-192 1h0m11 0h0m20 0h0m10 0h0m3 0h0m4 0h0m6 0h0m5 0h0m3 0h0m2 0h0m2 0h0m2 0h0m2 0h0m2 0h0m2 0h1m2 0h1m2 0h1m2 0h3m2 0h7m2 0h7m2 0h0m2 0h1m2 0h2m7 0h0m2 0h0m2 0h0m4 0h0m6 0h0m22 0h0m16 0h0m5 0h0m21 0h0m4 0h0m-202 1h0m11 0h0m33 0h0m13 0h0m2 0h0m3 0h0m2 0h0m2 0h0m2 0h0m2 0h0m2 0h0m3 0h0m2 0h1m2 0h1m2 0h2m3 0h1m2 0h0m2 0h5m2 0h0m2 0h1m4 0h3m2 0h0m2 0h4m3 0h1m4 0h2m3 0h0m7 0h1m13 0h1m11 0h0m9 0h0m-173 1h0m11 0h0m8 0h0m29 0h0m6 0h0m5 0h0m9 0h0m6 0h1m3 0h0m3 0h0m4 0h1m4 0h0m3 0h0m2 0h2m2 0h1m2 0h0m5 0h1m4 0h0m2 0h0m8 0h0m2 0h0m60 0h0m-184 1h0m31 0h0m13 0h0m4 0h0m6 0h0m5 0h0m3 0h0m2 0h0m2 0h0m2 0h0m2 0h0m2 0h0m2 0h0m4 0h0m2 0h1m2 0h3m2 0h10m2 0h8m3 0h0m2 0h2m5 0h0m5 0h0m2 0h0m8 0h0m5 0h0m4 0h0m9 0h0m48 0h0m-201 1h0m11 0h0m8 0h0m25 0h0m7 0h0m3 0h0m5 0h0m5 0h0m4 0h0m4 0h0m3 0h0m2 0h1m3 0h0m2 0h0m2 0h0m5 0h1m2 0h6m4 0h1m3 0h1m3 0h1m2 0h0m3 0h0m6 0h0m15 0h0m-138 1h0m26 0h0m5 0h0m5 0h0m5 0h0m7 0h0m6 0h0m3 0h0m11 0h0m2 0h0m2 0h0m2 0h1m2 0h1m2 0h1m2 0h3m2 0h11m2 0h18m2 0h0m3 0h2m2 0h0m3 0h0m5 0h1m6 0h0m6 0h0m22 0h0m7 0h0m28 0h0m-187 1h0m22 0h0m7 0h0m3 0h0m3 0h0m10 0h0m2 0h0m2 0h0m2 0h0m2 0h0m2 0h0m4 0h0m2 0h1m2 0h3m2 0h1m2 0h1m2 0h4m2 0h1m2 0h5m2 0h1m2 0h0m2 0h0m4 0h1m9 0h0m4 0h0m4 0h0m3 0h0m2 0h0m4 0h0m25 0h0m-171 1h0m11 0h0m8 0h0m7 0h0m5 0h0m13 0h0m4 0h0m3 0h0m3 0h0m3 0h0m2 0h0m3 0h0m2 0h0m2 0h0m2 0h0m2 0h0m4 0h1m2 0h1m2 0h1m2 0h3m2 0h10m2 0h12m2 0h7m2 0h0m2 0h0m2 0h1m2 0h1m2 0h1m2 0h0m12 0h1m14 0h1m24 0h0m-188 1h0m11 0h0m15 0h0m5 0h0m10 0h0m3 0h0m4 0h0m9 0h0m5 0h0m2 0h0m4 0h0m2 0h0m4 0h0m3 0h1m3 0h0m2 0h0m2 0h1m2 0h0m3 0h3m2 0h7m6 0h4m2 0h0m3 0h1m4 0h0m4 0h0m4 0h0m8 0h0m12 0h0m15 0h0m10 0h0m-176 1h0m11 0h0m8 0h0m17 0h0m5 0h0m10 0h0m3 0h0m3 0h0m5 0h0m2 0h0m2 0h0m2 0h0m2 0h0m2 0h0m2 0h1m2 0h1m3 0h0m2 0h3m2 0h26m2 0h0m2 0h1m3 0h1m10 0h0m6 0h1m5 0h0m19 0h0m-153 1h0m8 0h0m7 0h0m5 0h0m5 0h0m5 0h0m3 0h0m4 0h0m9 0h0m2 0h0m3 0h0m2 0h0m2 0h0m2 0h0m2 0h0m2 0h0m3 0h0m2 0h1m2 0h1m2 0h3m2 0h2m2 0h2m2 0h9m2 0h0m3 0h2m2 0h2m7 0h1m2 0h0m8 0h0m14 0h0m-97 1h0m3 0h0m3 0h0m2 0h0m3 0h0m4 0h0m2 0h0m2 0h0m2 0h0m3 0h0m2 0h1m2 0h1m2 0h0m2 0h1m2 0h6m2 0h2m2 0h8m2 0h4m2 0h0m2 0h0m2 0h1m2 0h1m2 0h0m4 0h1m4 0h0m16 0h0m-151 1h0m11 0h0m8 0h0m12 0h0m5 0h0m5 0h0m3 0h0m7 0h0m3 0h0m5 0h0m3 0h0m2 0h0m2 0h0m4 0h0m2 0h0m3 0h0m2 0h1m2 0h1m2 0h3m2 0h4m2 0h5m2 0h0m3 0h0m2 0h1m2 0h0m2 0h0m2 0h0m5 0h2m2 0h0m5 0h0m3 0h0m2 0h0m3 0h0m6 0h0m7 0h0m26 0h0m31 0h0m-194 1h0m40 0h0m3 0h0m3 0h0m2 0h0m3 0h0m2 0h0m2 0h0m2 0h0m2 0h0m2 0h0m2 0h1m2 0h0m3 0h1m2 0h3m2 0h15m2 0h8m2 0h2m2 0h0m2 0h1m3 0h0m7 0h0m4 0h0m3 0h0m6 0h1m24 0h0m-170 1h0m11 0h0m25 0h0m5 0h0m3 0h0m4 0h0m3 0h0m3 0h0m3 0h0m2 0h0m3 0h0m2 0h0m2 0h0m2 0h0m2 0h0m2 0h0m2 0h1m2 0h1m2 0h1m2 0h3m2 0h23m2 0h7m4 0h2m4 0h1m3 0h0m2 0h0m2 0h0m6 0h0m7 0h1m27 0h0m-168 1h0m25 0h0m5 0h0m3 0h0m4 0h0m3 0h0m6 0h0m2 0h0m3 0h0m2 0h0m2 0h0m2 0h0m2 0h0m2 0h0m2 0h1m3 0h0m2 0h0m3 0h2m3 0h1m2 0h8m2 0h0m2 0h0m2 0h12m2 0h0m2 0h0m4 0h3m18 0h1m-147 1h0m26 0h0m5 0h0m10 0h0m7 0h0m6 0h0m3 0h0m2 0h0m3 0h0m2 0h0m2 0h0m2 0h0m2 0h0m2 0h0m2 0h1m2 0h1m2 0h1m2 0h3m2 0h12m2 0h4m2 0h7m4 0h3m2 0h1m3 0h2m3 0h1m10 0h0m5 0h0m29 0h0m-167 1h0m20 0h0m5 0h0m5 0h0m3 0h0m4 0h0m3 0h0m3 0h0m3 0h0m2 0h0m3 0h0m4 0h0m2 0h0m2 0h0m4 0h1m2 0h1m2 0h1m3 0h1m3 0h11m4 0h3m2 0h3m2 0h0m3 0h0m2 0h0m8 0h0m5 0h1m15 0h0m12 0h0m27 0h0m-186 1h0m11 0h0m15 0h0m5 0h0m5 0h0m12 0h0m3 0h0m6 0h0m5 0h0m2 0h0m2 0h0m2 0h0m2 0h0m2 0h0m2 0h1m2 0h1m2 0h1m2 0h3m3 0h4m2 0h0m2 0h9m2 0h0m2 0h1m3 0h3m2 0h0m5 0h0m8 0h1m69 0h0m-202 1h0m11 0h0m8 0h0m7 0h0m5 0h0m5 0h0m15 0h0m3 0h0m8 0h0m2 0h0m2 0h0m2 0h0m2 0h0m2 0h0m2 0h1m2 0h1m2 0h1m2 0h3m2 0h7m2 0h6m2 0h0m3 0h0m2 0h1m2 0h3m2 0h0m2 0h0m6 0h4m2 0h0m10 0h0m19 0h0m-161 1h0m11 0h0m8 0h0m12 0h0m5 0h0m5 0h0m7 0h0m3 0h0m3 0h0m3 0h0m2 0h0m3 0h0m2 0h0m2 0h0m2 0h0m2 0h0m2 0h0m2 0h1m2 0h1m2 0h1m2 0h3m2 0h0m2 0h13m2 0h0m2 0h1m2 0h5m3 0h2m2 0h1m2 0h0m3 0h0m2 0h1m4 0h0m3 0h0m5 0h0m40 0h0m-172 1h0m15 0h0m5 0h0m5 0h0m15 0h0m3 0h0m3 0h0m2 0h0m3 0h0m2 0h0m6 0h0m2 0h0m2 0h1m2 0h1m2 0h1m2 0h3m2 0h11m2 0h7m2 0h1m5 0h2m2 0h0m2 0h1m8 0h2m3 0h0m7 0h0m71 0h0m-203 1h0m8 0h0m7 0h0m5 0h0m10 0h0m7 0h0m3 0h0m8 0h0m3 0h0m2 0h0m2 0h0m2 0h0m4 0h0m2 0h1m2 0h1m2 0h1m2 0h3m2 0h18m2 0h10m2 0h0m3 0h2m3 0h0m5 0h0m2 0h0m8 0h0m6 0h0m10 0h0m2 0h0m11 0h0m4 0h0m14 0h0m-190 2h0m19 0h0m7 0h0m5 0h0m10 0h0m3 0h0m4 0h0m3 0h0m3 0h0m5 0h0m5 0h0m4 0h0m2 0h0m2 0h0m2 0h1m2 0h0m3 0h1m2 0h3m2 0h17m3 0h3m2 0h0m3 0h0m2 0h3m3 0h0m4 0h1m4 0h0m2 0h0m15 0h0m-150 1h0m11 0h0m20 0h0m5 0h0m8 0h0m4 0h0m3 0h0m3 0h0m3 0h0m5 0h0m2 0h0m4 0h0m4 0h0m2 0h1m2 0h1m2 0h1m2 0h3m2 0h8m2 0h8m3 0h3m2 0h1m2 0h0m3 0h1m3 0h0m2 0h0m2 0h0m5 0h1m5 0h0m18 0h0m-157 1h0m11 0h0m25 0h0m5 0h0m7 0h0m6 0h0m3 0h0m2 0h0m5 0h0m2 0h0m2 0h0m4 0h0m2 0h1m2 0h0m3 0h1m2 0h3m2 0h2m2 0h6m2 0h6m2 0h4m2 0h1m2 0h1m3 0h2m2 0h0m2 0h0m2 0h0m6 0h0m5 0h0m58 0h0m-198 1h0m26 0h0m10 0h0m5 0h0m3 0h0m7 0h0m3 0h0m3 0h0m5 0h0m4 0h0m2 0h0m2 0h0m2 0h0m2 0h1m2 0h1m2 0h1m2 0h3m2 0h6m3 0h3m3 0h6m2 0h0m2 0h1m2 0h8m4 0h0m2 0h0m3 0h0m3 0h0m3 0h0m15 0h0m-154 2h0m11 0h0m8 0h0m7 0h0m5 0h0m5 0h0m15 0h0m3 0h0m3 0h0m2 0h0m3 0h0m2 0h0m2 0h0m2 0h0m2 0h0m2 0h0m2 0h1m2 0h0m3 0h1m2 0h0m2 0h1m2 0h22m2 0h8m3 0h0m2 0h0m7 0h1m3 0h0m3 0h0m2 0h0m7 0h0m2 0h0m6 0h0m13 0h0m-169 1h0m11 0h0m15 0h0m10 0h0m8 0h0m7 0h0m6 0h0m2 0h0m3 0h0m2 0h0m2 0h0m2 0h0m2 0h0m2 0h0m2 0h1m2 0h1m2 0h1m2 0h2m3 0h10m2 0h5m2 0h0m2 0h2m2 0h1m2 0h2m2 0h2m2 0h0m2 0h1m7 0h0m6 0h0m21 0h0m7 0h0m-168 2h0m11 0h0m8 0h0m7 0h0m5 0h0m13 0h0m4 0h0m3 0h0m3 0h0m3 0h0m2 0h0m3 0h0m4 0h0m2 0h0m2 0h0m2 0h0m2 0h1m2 0h1m2 0h1m2 0h0m2 0h1m2 0h23m2 0h0m2 0h4m2 0h0m5 0h0m2 0h1m2 0h0m6 0h0m11 0h0m24 0h0m5 0h0m10 0h0m-187 1h0m11 0h0m15 0h0m5 0h0m5 0h0m15 0h0m3 0h0m3 0h0m9 0h0m6 0h0m2 0h1m2 0h1m2 0h1m2 0h3m2 0h7m2 0h13m2 0h0m2 0h1m2 0h0m2 0h1m2 0h2m2 0h1m2 0h0m2 0h0m31 0h0m63 0h0m-225 2h0m11 0h0m8 0h0m7 0h0m10 0h0m5 0h0m7 0h0m3 0h0m3 0h0m3 0h0m2 0h0m5 0h0m2 0h0m2 0h0m2 0h0m2 0h0m2 0h1m2 0h1m2 0h0m3 0h3m3 0h22m2 0h3m2 0h1m2 0h4m2 0h0m2 0h1m2 0h0m3 0h1m7 0h0m16 0h0m6 0h0m2 0h0m11 0h0m16 0h0m-194 1h0m11 0h0m15 0h0m5 0h0m5 0h0m5 0h0m3 0h0m13 0h0m2 0h0m3 0h0m2 0h0m2 0h0m4 0h0m2 0h0m2 0h1m2 0h1m2 0h1m2 0h0m2 0h1m2 0h7m3 0h5m2 0h4m3 0h5m2 0h1m3 0h0m3 0h0m2 0h0m2 0h0m2 0h0m7 0h0m7 0h2m15 0h0m25 0h0m-188 2h0m11 0h0m8 0h0m7 0h0m5 0h0m17 0h0m6 0h0m3 0h0m2 0h0m3 0h0m2 0h0m2 0h0m2 0h0m4 0h0m2 0h1m2 0h1m2 0h1m3 0h2m2 0h5m2 0h6m2 0h7m2 0h4m2 0h4m2 0h1m3 0h2m4 0h0m5 0h0m12 0h0m27 0h0m-178 2h0m11 0h0m8 0h0m7 0h0m10 0h0m8 0h0m4 0h0m6 0h0m5 0h0m3 0h0m2 0h0m2 0h0m2 0h0m2 0h0m2 0h0m2 0h1m2 0h1m2 0h1m2 0h3m2 0h5m2 0h1m2 0h3m2 0h6m2 0h1m2 0h1m2 0h2m6 0h1m2 0h2m11 0h1m6 0h0m16 0h0m16 0h0m17 0h0m17 0h0m-214 2h0m11 0h0m8 0h0m7 0h0m5 0h0m5 0h0m5 0h0m7 0h0m3 0h0m3 0h0m3 0h0m5 0h0m2 0h0m2 0h0m2 0h0m2 0h0m2 0h0m2 0h1m2 0h1m2 0h0m3 0h0m2 0h1m2 0h2m2 0h0m2 0h4m3 0h0m2 0h3m2 0h2m3 0h3m4 0h1m2 0h0m6 0h0m7 0h0m2 0h0m16 0h0m11 0h0m8 0h0m3 0h0m12 0h0m-188 3h0m11 0h0m8 0h0m7 0h0m5 0h0m5 0h0m5 0h0m7 0h0m9 0h0m5 0h0m2 0h0m4 0h0m2 0h0m2 0h0m2 0h1m2 0h1m2 0h1m3 0h2m5 0h3m2 0h7m2 0h2m2 0h3m3 0h0m2 0h2m3 0h2m2 0h1m2 0h2m3 0h1m8 0h0m2 0h0m4 0h1m16 0h0m-166 2h0m11 0h0m30 0h0m7 0h0m3 0h0m6 0h0m2 0h0m5 0h0m4 0h0m2 0h0m2 0h0m2 0h1m2 0h1m2 0h1m2 0h3m2 0h13m2 0h11m2 0h0m2 0h4m2 0h3m2 0h1m5 0h0m6 0h0m5 0h0m8 0h0m11 0h0m5 0h1m-160 2h0m20 0h0m5 0h0m8 0h0m4 0h0m3 0h0m3 0h0m3 0h0m2 0h0m7 0h0m2 0h0m2 0h0m2 0h0m2 0h1m2 0h1m2 0h1m2 0h3m2 0h4m2 0h4m2 0h6m2 0h2m4 0h0m2 0h0m2 0h1m2 0h0m2 0h2m2 0h0m4 0h2m3 0h1m4 0h0m4 0h0m8 0h0m5 0h1m7 0h0m-166 3h0m31 0h0m10 0h0m3 0h0m13 0h0m5 0h0m2 0h0m2 0h0m2 0h0m2 0h0m2 0h0m2 0h1m2 0h1m2 0h1m2 0h2m4 0h16m2 0h4m2 0h3m2 0h0m2 0h1m3 0h1m2 0h1m3 0h0m4 0h0m4 0h0m13 0h0m18 0h0m-151 3h0m7 0h0m5 0h0m17 0h0m3 0h0m3 0h0m3 0h0m7 0h0m2 0h0m4 0h0m2 0h0m2 0h1m2 0h1m2 0h1m3 0h0m2 0h0m3 0h2m2 0h8m2 0h0m2 0h2m2 0h0m2 0h0m4 0h0m2 0h4m3 0h0m2 0h0m13 0h0m2 0h0m2 0h0m32 0h0m-164 4h0m8 0h0m7 0h0m5 0h0m5 0h0m5 0h0m33 0h0m3 0h1m2 0h1m2 0h2m4 0h0m2 0h0m2 0h0m4 0h1m5 0h3m3 0h1m2 0h5m2 0h5m4 0h0m7 0h0m11 0h0m3 0h0m9 0h0m84 0h0m-231 3h0m25 0h0m5 0h0m3 0h0m4 0h0m11 0h0m3 0h0m2 0h0m2 0h0m2 0h0m4 0h0m3 0h0m2 0h1m2 0h1m2 0h3m3 0h3m3 0h0m3 0h0m3 0h2m2 0h0m2 0h2m2 0h1m2 0h1m3 0h0m2 0h0m5 0h0m2 0h0m6 0h1m6 0h1m3 0h0m17 0h0m3 0h0m-153 5h0m8 0h0m12 0h0m5 0h0m8 0h0m7 0h0m3 0h0m3 0h0m9 0h0m4 0h0m2 0h0m2 0h0m3 0h0m3 0h0m3 0h0m2 0h1m2 0h1m2 0h0m2 0h0m4 0h1m6 0h1m2 0h1m4 0h2m2 0h1m4 0h1m3 0h0m9 0h0m3 0h0m4 0h0m-105 5h0m5 0h0m3 0h0m4 0h0m9 0h0m5 0h0m2 0h0m2 0h0m2 0h0m2 0h0m5 0h0m2 0h1m2 0h0m5 0h1m6 0h0m5 0h6m2 0h0m5 0h1m3 0h1m4 0h1m3 0h2m2 0h1m4 0h1m2 0h0m8 0h0m8 0h0m4 0h0m8 0h0m6 0h0m7 0h0m29 0h0m6 0h0m-200 5h0m8 0h0m22 0h0m7 0h0m3 0h0m3 0h0m3 0h0m2 0h0m7 0h0m4 0h0m5 0h0m2 0h0m14 0h5m2 0h0m2 0h5m4 0h1m2 0h5m2 0h1m2 0h1m2 0h0m2 0h1m2 0h0m5 0h0m3 0h0m15 0h0m6 0h0m15 0h0m14 0h0m-162 7h0m31 0h0m5 0h0m4 0h0m2 0h0m4 0h0m2 0h0m3 0h1m7 0h1m2 0h0m3 0h5m3 0h0m2 0h0m3 0h2m3 0h0m2 0h0m5 0h0m4 0h3m2 0h0m4 0h0m4 0h0m2 0h0m5 0h0m2 0h0m6 0h0m8 0h0m8 0h0m24 0h0m-137 10h0m6 0h0m5 0h0m12 0h1m3 0h0m5 0h1m4 0h0m2 0h2m2 0h0m2 0h0m2 0h0m5 0h0m3 0h0m2 0h0m2 0h0m3 0h0m2 0h5m3 0h0m2 0h0m2 0h0m7 0h1m6 0h0m3 0h0m2 0h0m2 0h0m4 0h1m9 0h0" fill="none" stroke="#ea5f47" stroke-width="1.9" stroke-linecap="square"/>
<rect x="146" y="267.3" width="2.2" height="130.2" fill="#ea5f47"/>
<rect x="217.9" y="394.8" width="132.9" height="2.4" fill="#ea5f47"/>
<path d="M350.8 396h3.4M356.4 396h4M363.7 396h7.1M376 396h9.2M388.4 396h8.8M402.5 396h5.1M417.9 396h1.8M424.2 396h2.6M435.9 396h1.7M450.3 396h1.5M150.5 396h1.6M158 396h1.6M166.6 396h1.6M170.7 396h1.6M173.7 396h1.6M177.1 396h1.6M183.3 396h1.6M192.3 396h1.6M201 396h1.6M205 396h1.6M209.5 396h1.6" stroke="#ea5f47" stroke-width="2.2" fill="none"/>
<g transform="translate(145.5 26.3) scale(1.0000 1.0000)">
<use href="#tpl"/>
<g>
<text x="0.6" y="20" font-size="21.4" fill="#111" textLength="26.66" lengthAdjust="spacingAndGlyphs">UL</text>
<text x="1.3" y="45.1" font-size="21.4" fill="#111" textLength="43.44" lengthAdjust="spacingAndGlyphs">0.72</text>
<text x="385.2" y="20" font-size="21.4" fill="#111" textLength="28.45" lengthAdjust="spacingAndGlyphs">UR</text>
<text x="385" y="45.1" font-size="21.4" fill="#111" textLength="43.91" lengthAdjust="spacingAndGlyphs">1.70</text>
<text x="0.5" y="340.7" font-size="21.4" fill="#111" textLength="23.36" lengthAdjust="spacingAndGlyphs">LL</text>
<text x="1.2" y="365.7" font-size="21.4" fill="#111" textLength="55.24" lengthAdjust="spacingAndGlyphs">92.71</text>
<text x="385.1" y="340.7" font-size="21.4" fill="#111" textLength="26.01" lengthAdjust="spacingAndGlyphs">LR</text>
<text x="386.3" y="365.7" font-size="21.4" fill="#111" textLength="42.97" lengthAdjust="spacingAndGlyphs">4.87</text>
</g></g>
<path d="M287.5 26.3V398.5 M145.5 267.3H574.7" stroke="#0a0a0a" stroke-width="2.05" fill="none"/>
<g><text x="249.3" y="486.4" font-size="29.5" fill="#111" textLength="156.74" lengthAdjust="spacingAndGlyphs">MKN45-Ctrl</text></g>
<path d="m948 154h0m-6 3h0m-41 3h0m33 0h0m-28 1h0m29 0h0m-22 1h0m18 5h0m-5 2h0m21 0h0m-51 2h0m27 0h0m21 1h0m-32 1h0m29 0h0m-6 1h0m-112 2h0m127 0h0m47 0h0m-110 1h0m37 0h0m10 0h0m-15 1h0m44 0h0m-43 2h0m5 0h0m51 0h0m2 0h0m-59 1h0m68 2h0m-75 1h0m6 1h1m13 1h0m29 0h0m-38 1h0m6 0h0m13 0h0m4 0h0m8 0h0m-50 1h0m6 0h0m16 0h0m8 0h0m38 0h0m-31 1h0m7 0h0m-37 1h0m17 0h0m13 0h0m5 0h0m-13 1h0m20 0h0m7 0h0m2 0h0m8 0h0m-133 1h0m86 0h0m25 0h1m-36 1h0m20 0h0m5 0h0m10 0h0m14 0h0m10 0h0m-73 1h0m28 0h0m5 0h0m2 0h0m3 0h0m3 0h0m8 0h0m7 0h0m5 0h1m-77 1h0m30 0h0m9 0h0m4 0h0m26 0h0m-52 1h0m18 0h0m3 0h0m11 0h0m6 0h0m4 0h0m5 0h0m-61 1h0m30 0h0m15 0h0m2 0h0m27 0h0m14 0h0m8 0h0m10 0h0m-55 1h0m-119 1h0m46 0h0m7 0h0m49 0h0m11 0h0m5 0h0m4 0h0m12 0h0m7 0h0m12 0h0m-81 1h0m25 0h0m5 0h0m16 0h0m61 0h0m-143 1h0m63 0h0m16 0h0m8 0h0m10 0h0m-71 1h0m26 0h0m19 0h0m9 0h0m-50 1h0m50 0h0m7 0h0m3 0h2m18 0h0m-33 1h1m9 0h0m5 0h0m5 0h0m8 0h0m7 0h0m7 1h0m-112 1h0m61 0h0m21 0h0m2 0h0m15 0h0m9 0h0m-43 1h0m16 0h0m8 0h0m13 0h0m-66 1h0m8 0h0m37 0h0m2 0h2m6 0h0m7 0h0m8 0h0m-36 1h0m6 0h0m3 0h0m-21 1h0m21 0h0m15 0h0m13 0h0m-85 1h0m16 0h0m38 0h0m2 0h0m12 0h0m4 0h0m4 0h0m5 0h0m27 0h0m-76 1h0m23 0h1m4 0h0m2 0h0m3 0h0m2 0h0m3 0h1m11 0h0m-75 1h0m7 0h0m30 0h0m16 0h0m16 0h0m-50 1h0m5 0h0m15 0h0m4 0h0m2 0h0m13 0h0m4 0h0m2 0h1m9 0h0m-92 1h0m3 0h0m19 0h0m12 0h0m23 0h1m5 0h1m2 0h1m9 0h0m2 0h0m3 0h0m20 0h0m9 0h0m-99 1h0m16 0h0m3 0h0m19 0h0m9 0h0m5 0h0m13 0h2m2 0h0m11 1h0m3 0h0m20 0h0m-53 1h0m8 0h0m8 0h0m5 0h0m2 0h0m-5 1h0m9 0h0m-76 1h0m46 0h0m7 0h0m29 0h0m4 0h0m16 0h0m-79 1h0m8 0h0m32 0h0m13 0h0m5 0h0m-92 1h0m40 0h0m26 0h0m17 0h0m2 0h0m3 0h0m12 0h0m3 0h0m16 0h0m-211 1h0m23 0h0m57 0h0m28 0h0m11 0h0m16 0h0m24 0h0m17 0h0m6 0h0m3 0h0m18 0h0m-155 1h0m40 0h0m9 0h0m18 0h0m22 0h0m11 0h0m6 0h1m5 0h0m36 0h0m5 0h0m-130 1h0m29 0h0m42 0h0m18 0h0m6 0h0m11 0h0m6 0h0m-45 1h0m30 0h0m8 0h0m9 0h0m31 0h0m-131 1h0m80 0h0m14 0h0m5 0h0m-248 1h0m103 0h0m68 0h0m63 0h0m-88 1h0m28 0h0m7 0h0m34 0h0m17 0h0m19 0h0m18 0h0m-143 1h0m2 0h0m65 0h0m34 0h0m17 0h0m23 0h0m-130 1h0m73 0h0m4 0h0m59 0h0m-156 1h0m5 0h0m3 0h0m19 0h0m5 0h0m19 0h0m55 0h0m2 0h0m44 0h0m-142 1h0m4 0h0m7 0h0m15 0h0m13 0h0m13 0h0m49 0h0m15 0h0m4 0h0m-197 1h0m78 0h0m8 0h0m12 0h0m10 0h0m15 0h0m30 0h0m40 0h0m-215 1h0m119 0h0m70 0h0m4 0h0m2 0h0m37 0h0m-132 1h0m19 0h0m65 0h0m43 0h0m16 0h0m-129 1h0m108 0h0m8 0h0m9 0h0m-150 1h0m87 0h0m7 0h0m-159 1h0m94 0h0m20 0h0m22 0h0m9 0h0m8 0h0m-185 1h0m81 0h0m139 0h0m36 0h0m-216 1h0m103 0h0m-37 1h0m7 0h0m64 0h0m15 0h0m28 0h0m40 0h0m-158 1h0m2 0h0m37 0h0m2 0h0m6 0h0m53 0h0m17 0h0m4 0h0m-155 1h0m27 0h0m23 0h1m18 0h0m73 0h0m55 0h0m-136 1h0m24 0h1m30 0h0m-159 1h0m21 0h0m25 0h0m22 0h0m23 0h0m63 0h0m31 0h0m-206 1h0m65 0h0m120 0h0m22 0h0m11 0h0m22 0h0m-190 1h0m53 0h0m6 0h0m48 0h0m75 0h0m-204 1h0m122 0h0m5 0h0m21 0h0m58 0h0m-230 1h0m5 0h0m34 0h0m3 0h0m5 0h0m77 0h0m-77 1h0m47 0h0m28 0h0m20 0h0m19 0h0m6 0h0m-151 1h0m72 0h0m165 0h0m-253 1h0m8 0h0m129 0h0m4 0h0m18 0h0m6 0h0m-147 1h0m59 0h0m22 0h0m17 0h0m6 0h0m20 0h0m-122 1h0m34 0h0m45 0h1m32 0h0m6 0h0m13 0h0m12 0h0m2 0h0m-177 1h0m12 0h0m38 0h0m19 0h0m6 0h0m17 0h0m40 0h0m4 0h0m2 0h0m10 0h0m99 0h0m-292 1h0m39 0h0m27 0h0m15 0h0m6 0h0m44 0h0m12 0h0m5 0h1m20 0h0m7 0h0m2 0h0m25 0h0m25 0h0m9 0h0m-172 1h0m10 0h0m16 0h0m10 0h0m31 0h0m22 0h0m27 0h0m-128 1h0m25 0h0m37 0h0m55 0h0m9 0h1m22 0h0m18 0h0m31 0h0m-261 1h0m35 0h0m37 0h0m3 0h0m3 0h0m3 0h0m44 0h0m33 0h0m8 0h0m13 0h0m17 0h0m-69 1h0m12 0h0m44 0h0m19 0h0m31 0h0m54 0h0m-244 1h0m20 0h0m25 0h0m24 0h0m49 0h1m29 0h0m17 0h0m29 0h0m-212 1h0m66 0h0m71 0h0m11 0h0m10 0h0m29 0h0m-177 1h0m11 0h0m23 0h0m6 0h0m38 0h0m37 0h0m26 0h0m16 0h0m-127 1h0m2 0h0m19 0h0m10 0h0m3 0h0m52 0h0m30 0h0m11 0h0m30 0h0m-170 1h0m22 0h0m11 0h0m2 0h0m14 0h1m65 0h0m9 0h0m26 0h0m5 0h0m7 0h0m2 0h0m22 0h0m-228 1h0m69 0h0m4 0h0m24 0h0m42 0h0m28 0h0m12 0h0m-189 1h0m43 0h0m31 0h0m16 0h0m2 0h0m15 0h0m23 0h0m7 0h0m4 0h0m28 0h1m15 0h0m32 0h0m8 0h0m24 0h0m-182 1h0m13 0h0m7 0h0m35 0h0m5 0h0m62 0h0m33 0h0m-212 1h0m47 0h0m18 0h0m15 0h0m6 0h0m3 0h0m19 0h0m2 0h0m16 0h0m37 0h0m-88 1h0m3 0h0m10 0h1m4 0h0m4 0h0m19 0h0m24 0h0m27 0h0m25 0h0m-192 1h0m45 0h0m17 0h0m2 0h0m13 0h0m3 0h0m2 0h0m2 0h0m7 0h0m3 0h1m16 0h0m16 0h0m3 0h0m30 0h0m3 0h0m37 0h0m-210 1h0m10 0h0m8 0h0m43 0h0m2 0h0m6 0h0m7 0h0m3 0h1m6 0h0m3 0h0m12 0h0m4 0h0m4 0h0m2 0h0m3 0h0m13 0h0m3 0h0m49 0h0m31 0h0m-167 1h0m26 0h0m9 0h0m3 0h0m26 0h1m3 0h0m3 0h0m73 0h0m-157 1h0m16 0h0m3 0h0m16 0h0m7 0h0m2 0h2m3 0h0m2 0h0m4 0h0m3 0h1m6 0h2m5 0h0m16 0h0m40 0h0m10 0h0m4 0h0m28 0h0m15 0h0m-150 1h0m4 0h0m7 0h0m9 0h1m6 0h0m4 0h0m3 0h0m4 0h0m4 0h0m3 0h0m28 0h0m9 0h0m18 0h0m130 0h0m-295 1h0m10 0h0m25 0h0m24 0h0m8 0h0m11 0h0m5 0h0m2 0h0m4 0h0m2 0h0m8 0h0m4 0h0m12 0h0m7 0h0m15 0h0m2 0h0m49 0h0m9 0h0m-187 1h0m36 0h0m9 0h0m2 0h0m4 0h0m9 0h0m9 0h0m5 0h0m3 0h0m3 0h0m2 0h0m3 0h1m6 0h1m2 0h1m2 0h0m3 0h0m9 0h0m14 0h0m2 0h1m13 0h0m14 0h0m5 0h0m2 0h0m17 0h0m26 0h0m7 0h0m-221 1h0m10 0h0m8 0h0m37 0h0m2 0h0m12 0h0m12 0h0m4 0h0m4 0h0m2 0h0m11 0h1m7 0h0m16 0h0m7 0h0m27 0h0m38 0h0m-152 1h0m9 0h0m6 0h0m4 0h0m11 0h0m3 0h0m5 0h0m6 0h1m2 0h0m2 0h1m2 0h0m3 0h0m3 0h2m2 0h0m12 0h0m4 0h0m22 0h0m8 0h0m17 0h0m4 0h0m21 0h1m4 0h0m-176 1h0m14 0h0m18 0h0m4 0h0m4 0h0m5 0h0m4 0h0m2 0h0m5 0h0m3 0h1m6 0h0m4 0h1m3 0h2m4 0h0m4 0h1m6 0h1m11 0h1m19 0h0m15 0h0m11 0h0m11 0h0m37 0h0m-222 1h0m49 0h0m10 0h0m8 0h0m3 0h0m2 0h0m3 0h1m2 0h1m2 0h0m2 0h0m4 0h0m4 0h1m3 0h1m5 0h0m2 0h0m2 0h0m6 0h0m3 0h1m53 0h0m22 0h0m36 0h0m-208 1h0m37 0h0m2 0h0m4 0h0m6 0h0m2 0h0m5 0h1m3 0h3m2 0h0m2 0h2m3 0h0m3 0h0m3 0h0m3 0h0m3 0h0m6 0h0m3 0h0m2 0h0m2 0h0m4 0h1m64 0h0m-141 1h0m3 0h0m17 0h0m7 0h0m2 0h0m2 0h0m2 0h0m4 0h1m2 0h0m8 0h0m8 0h1m2 0h1m2 0h0m4 0h0m4 0h0m7 0h0m3 0h0m7 0h0m27 0h0m5 0h0m13 0h0m30 0h0m23 0h0m12 0h0m13 0h0m-253 1h0m39 0h0m7 0h0m11 0h0m8 0h0m5 0h0m4 0h0m7 0h0m5 0h1m9 0h0m3 0h0m2 0h0m2 0h3m2 0h0m4 0h0m54 0h0m8 0h0m25 0h0m11 0h0m-210 1h0m35 0h0m4 0h0m10 0h0m6 0h0m2 0h0m4 0h0m6 0h0m2 0h0m7 0h0m3 0h2m2 0h0m2 0h0m2 0h0m2 0h0m2 0h2m6 0h0m2 0h0m4 0h0m2 0h0m3 0h1m6 0h0m5 0h0m11 0h0m2 0h0m12 0h0m26 0h0m2 0h0m9 0h0m-174 1h0m8 0h0m7 0h0m24 0h0m10 0h0m6 0h0m9 0h2m4 0h1m2 0h2m2 0h0m2 0h3m3 0h0m9 0h0m3 0h0m8 0h0m8 0h0m10 0h0m3 0h0m6 0h0m35 0h0m8 0h0m8 0h0m-193 1h0m25 0h0m5 0h0m9 0h0m10 0h0m3 0h0m3 0h0m2 0h0m4 0h0m4 0h0m2 0h0m2 0h1m2 0h0m2 0h1m3 0h1m4 0h5m2 0h1m2 0h1m2 0h0m2 0h1m2 0h0m4 0h1m3 0h0m4 0h0m2 0h0m2 0h0m2 0h1m4 0h2m3 0h0m15 0h0m9 0h0m4 0h0m5 0h0m4 0h0m18 0h0m6 0h0m23 0h0m-213 1h0m10 0h0m8 0h0m7 0h0m10 0h0m14 0h0m8 0h0m2 0h0m2 0h0m2 0h0m4 0h0m2 0h1m2 0h0m3 0h1m2 0h2m3 0h0m2 0h1m7 0h0m3 0h0m2 0h2m2 0h0m3 0h0m3 0h0m2 0h0m2 0h0m3 0h0m2 0h1m8 0h0m4 0h0m36 0h0m-120 1h0m6 0h0m9 0h0m4 0h0m5 0h0m4 0h1m4 0h2m3 0h4m3 0h1m2 0h0m2 0h0m3 0h0m2 0h1m2 0h4m5 0h1m2 0h0m4 0h0m2 0h0m17 0h0m76 0h0m11 0h0m-226 1h0m35 0h0m20 0h0m6 0h0m8 0h0m3 0h0m3 0h0m3 0h1m2 0h0m2 0h0m3 0h0m2 0h0m3 0h0m3 0h0m2 0h3m2 0h2m2 0h0m2 0h2m2 0h1m10 0h0m2 0h0m3 0h0m4 0h0m35 0h0m124 0h0m-255 1h0m8 0h0m9 0h0m9 0h0m2 0h0m2 0h0m2 0h0m5 0h0m4 0h0m4 0h1m2 0h0m2 0h6m4 0h1m2 0h6m2 0h0m4 0h0m3 0h3m3 0h1m40 0h0m4 0h0m4 0h0m-150 1h0m7 0h0m5 0h0m5 0h0m11 0h0m3 0h0m3 0h0m3 0h0m4 0h0m4 0h0m2 0h0m2 0h0m2 0h1m2 0h0m2 0h2m3 0h0m2 0h0m3 0h7m2 0h0m2 0h1m2 0h0m3 0h1m3 0h0m4 0h1m11 0h2m4 0h0m5 0h0m28 0h0m74 0h0m38 0h0m-262 1h0m8 0h0m7 0h0m5 0h0m25 0h0m4 0h0m4 0h0m2 0h0m4 0h0m3 0h0m3 0h1m2 0h3m3 0h0m2 0h2m2 0h5m3 0h3m2 0h1m2 0h1m3 0h1m3 0h1m2 0h0m6 0h0m5 0h0m7 0h0m14 0h0m14 0h0m18 0h0m12 0h0m-175 1h0m7 0h0m5 0h0m9 0h0m4 0h0m9 0h0m3 0h0m6 0h0m2 0h0m2 0h0m4 0h1m2 0h0m2 0h2m3 0h0m2 0h0m3 0h2m3 0h1m3 0h5m3 0h2m2 0h2m2 0h1m2 0h0m2 0h0m4 0h0m5 0h0m5 0h0m9 0h0m5 0h0m5 0h0m31 0h0m2 0h1m22 0h0m21 0h0m14 0h0m-228 1h0m8 0h0m17 0h0m11 0h0m6 0h0m7 0h0m4 0h0m6 0h1m2 0h0m2 0h0m2 0h0m2 0h0m2 0h1m2 0h0m2 0h7m2 0h0m2 0h1m3 0h1m2 0h1m3 0h1m6 0h0m3 0h0m4 0h0m4 0h0m20 0h0m4 0h0m28 0h0m9 0h0m10 0h0m15 0h0m-201 1h0m33 0h0m6 0h0m8 0h0m4 0h0m2 0h0m2 0h0m2 0h0m3 0h0m2 0h0m3 0h1m2 0h1m2 0h0m2 0h3m2 0h3m2 0h1m2 0h5m2 0h0m3 0h1m3 0h2m3 0h1m2 0h0m2 0h0m4 0h0m14 0h0m10 0h0m12 0h0m3 0h0m10 0h0m4 0h0m-177 1h0m43 0h0m3 0h0m6 0h0m5 0h0m2 0h0m4 0h0m2 0h0m2 0h0m3 0h0m2 0h0m2 0h2m2 0h3m2 0h3m2 0h0m3 0h5m2 0h7m2 0h0m4 0h3m2 0h0m2 0h0m4 0h0m5 0h1m3 0h0m19 0h0m14 0h0m12 0h0m3 0h0m2 0h0m9 0h1m-166 1h0m24 0h0m8 0h0m2 0h0m2 0h0m8 0h0m5 0h1m3 0h2m4 0h6m2 0h0m3 0h2m3 0h0m2 0h0m2 0h2m3 0h0m2 0h2m2 0h0m3 0h1m2 0h0m10 0h0m4 0h0m2 0h0m10 0h0m18 0h1m6 0h0m15 0h0m-177 1h0m20 0h0m5 0h0m4 0h0m4 0h0m6 0h0m3 0h0m3 0h0m2 0h0m2 0h0m4 0h0m2 0h0m2 0h0m2 0h0m3 0h0m2 0h2m3 0h2m2 0h9m2 0h2m2 0h14m2 0h1m3 0h0m2 0h0m4 0h1m3 0h0m37 0h0m4 0h0m24 0h0m10 0h0m7 0h0m10 0h0m-210 1h0m15 0h0m10 0h0m8 0h0m3 0h0m3 0h0m6 0h0m2 0h0m2 0h0m2 0h0m2 0h0m2 0h0m2 0h0m2 0h1m2 0h0m2 0h2m2 0h0m3 0h0m2 0h6m2 0h5m2 0h13m2 0h0m2 0h0m2 0h1m2 0h0m8 0h4m5 0h0m18 0h0m21 0h0m5 0h0m4 0h0m3 0h0m24 0h0m-212 1h0m18 0h0m7 0h0m18 0h0m3 0h0m11 0h0m4 0h0m2 0h0m4 0h0m3 0h0m2 0h0m2 0h0m2 0h0m2 0h1m2 0h0m2 0h2m2 0h0m2 0h4m3 0h0m2 0h3m2 0h2m4 0h0m3 0h1m4 0h2m3 0h0m3 0h0m5 0h0m19 0h0m61 0h0m-210 1h0m30 0h0m5 0h0m4 0h0m4 0h0m3 0h0m11 0h0m2 0h0m2 0h0m4 0h0m2 0h0m2 0h1m2 0h0m2 0h2m2 0h3m2 0h18m2 0h0m2 0h7m2 0h0m2 0h0m5 0h0m2 0h0m2 0h0m4 0h0m2 0h0m4 0h0m5 0h0m8 0h0m15 0h0m24 0h0m55 0h0m-224 1h0m21 0h0m4 0h0m6 0h0m3 0h0m3 0h0m8 0h0m2 0h0m2 0h0m3 0h0m2 0h0m2 0h2m5 0h0m2 0h1m2 0h2m2 0h0m3 0h3m3 0h0m4 0h2m2 0h1m2 0h1m2 0h0m2 0h0m2 0h3m3 0h0m2 0h0m4 0h0m37 0h0m26 0h0m8 0h0m12 0h0m5 0h0m38 0h0m-255 1h0m10 0h0m33 0h0m6 0h0m3 0h0m7 0h0m4 0h0m2 0h0m4 0h0m3 0h0m2 0h0m2 0h0m2 0h0m2 0h1m3 0h0m2 0h5m2 0h0m3 0h6m2 0h3m4 0h0m2 0h0m2 0h2m3 0h1m2 0h2m4 0h0m2 0h1m-132 1h0m10 0h0m8 0h0m17 0h0m4 0h0m10 0h0m3 0h0m3 0h0m2 0h0m4 0h0m2 0h0m2 0h0m2 0h0m3 0h0m2 0h0m2 0h2m2 0h3m2 0h24m3 0h3m2 0h1m2 0h2m3 0h0m15 0h0m2 0h0m9 0h0m3 0h0m12 0h0m4 0h0m8 0h0m9 0h0m46 0h0m7 0h0m-228 1h0m20 0h0m13 0h0m3 0h0m9 0h0m4 0h0m8 0h0m2 0h0m3 0h0m2 0h2m2 0h3m2 0h0m3 0h2m2 0h0m2 0h0m2 0h1m2 0h2m2 0h2m2 0h0m3 0h7m5 0h1m2 0h0m3 0h0m4 0h0m6 0h0m27 0h0m48 0h0m-211 1h0m10 0h0m33 0h0m3 0h0m11 0h0m4 0h0m4 0h0m5 0h0m2 0h0m2 0h2m2 0h3m2 0h1m2 0h0m3 0h2m3 0h0m4 0h0m2 0h0m3 0h9m3 0h1m6 0h1m9 0h0m32 0h0m10 0h0m16 0h0m3 0h1m51 0h0m-245 1h0m10 0h0m8 0h0m12 0h0m5 0h0m11 0h0m11 0h0m4 0h0m4 0h0m2 0h0m2 0h1m2 0h0m3 0h1m2 0h3m2 0h11m2 0h1m3 0h0m2 0h1m3 0h4m2 0h1m2 0h0m2 0h1m2 0h0m4 0h0m2 0h0m4 0h0m33 0h0m25 0h0m-178 1h0m8 0h0m12 0h0m5 0h0m11 0h0m6 0h0m3 0h0m4 0h0m2 0h0m2 0h0m2 0h0m2 0h0m2 0h1m2 0h0m2 0h0m2 0h0m2 0h3m2 0h6m2 0h22m2 0h3m4 0h1m5 0h1m4 0h0m8 0h0m2 0h0m9 0h0m11 0h0m4 0h0m3 0h0m29 0h0m13 0h0m37 0h0m-231 1h0m7 0h0m5 0h0m13 0h0m6 0h0m6 0h0m4 0h0m4 0h0m2 0h0m2 0h0m2 0h1m2 0h0m2 0h1m3 0h1m2 0h0m2 0h3m2 0h0m2 0h9m2 0h0m2 0h3m2 0h2m4 0h1m2 0h0m3 0h0m4 0h0m6 0h0m2 0h0m7 0h0m37 0h0m19 0h0m41 0h0m-236 1h0m10 0h0m20 0h0m16 0h0m3 0h0m6 0h0m6 0h0m2 0h0m2 0h0m2 0h0m2 0h1m2 0h0m4 0h0m2 0h3m2 0h9m2 0h5m2 0h4m2 0h0m2 0h1m2 0h3m3 0h0m2 0h0m3 0h0m8 0h0m4 0h0m5 0h0m5 0h0m3 0h0m13 0h0m-161 1h0m18 0h0m7 0h0m5 0h0m27 0h0m4 0h0m4 0h0m2 0h0m2 0h1m2 0h0m2 0h2m2 0h0m2 0h1m2 0h1m2 0h11m2 0h5m2 0h1m2 0h4m2 0h0m2 0h0m2 0h0m2 0h2m4 0h0m60 0h0m14 0h0m22 0h0m4 0h0m-227 1h0m10 0h0m8 0h0m28 0h0m13 0h0m4 0h0m2 0h0m2 0h0m2 0h1m2 0h0m2 0h2m2 0h3m2 0h0m2 0h6m2 0h13m7 0h5m2 0h0m3 0h0m2 0h0m13 0h0m45 0h1m48 0h0m-232 1h0m10 0h0m8 0h0m7 0h0m10 0h0m4 0h0m13 0h0m7 0h0m4 0h0m2 0h0m2 0h0m2 0h1m2 0h0m2 0h2m2 0h3m2 0h4m2 0h5m5 0h5m2 0h1m2 0h2m2 0h0m2 0h0m3 0h0m5 0h0m13 0h0m12 0h0m9 0h0m22 0h0m4 0h1m-184 1h0m10 0h0m8 0h0m7 0h0m18 0h0m3 0h0m3 0h0m3 0h0m3 0h0m6 0h0m2 0h0m4 0h0m2 0h1m2 0h0m2 0h2m2 0h3m2 0h3m2 0h1m2 0h10m2 0h0m2 0h2m2 0h1m2 0h0m3 0h0m3 0h2m2 0h1m5 0h1m3 0h2m59 0h0m-193 1h0m10 0h0m8 0h0m7 0h0m5 0h0m13 0h0m6 0h0m6 0h0m4 0h0m2 0h0m2 0h0m2 0h0m2 0h0m2 0h1m2 0h0m2 0h2m2 0h2m3 0h13m2 0h3m2 0h3m5 0h1m2 0h0m7 0h0m4 0h0m8 0h0m10 0h0m3 0h0m9 0h0m13 0h0m2 0h0m-152 1h0m7 0h0m10 0h0m20 0h0m2 0h0m2 0h0m2 0h0m4 0h0m4 0h1m2 0h0m2 0h2m2 0h3m2 0h4m2 0h7m2 0h3m2 0h0m2 0h2m3 0h0m2 0h2m3 0h2m2 0h0m3 0h0m5 0h0m4 0h0m3 0h0m2 0h0m22 0h0m31 0h1m-192 1h0m10 0h0m8 0h0m12 0h0m5 0h0m8 0h0m3 0h0m6 0h0m3 0h0m2 0h0m2 0h0m2 0h0m2 0h0m2 0h0m2 0h0m2 0h1m2 0h0m2 0h2m2 0h3m2 0h0m2 0h4m2 0h4m2 0h3m2 0h1m2 0h5m3 0h0m4 0h0m3 0h0m6 0h0m3 0h0m6 0h1m2 0h0m10 0h0m11 0h0m37 0h0m9 0h0m-195 1h0m8 0h0m12 0h0m13 0h0m6 0h0m3 0h0m3 0h0m2 0h0m4 0h0m2 0h0m2 0h0m2 0h0m2 0h1m2 0h0m2 0h2m2 0h3m2 0h2m2 0h0m2 0h8m2 0h2m2 0h6m2 0h0m2 0h3m3 0h4m3 0h1m3 0h1m5 0h0m4 0h0m8 0h0m24 0h0m11 0h0m36 0h0m-201 1h0m21 0h0m13 0h0m3 0h0m2 0h0m2 0h0m2 0h0m2 0h0m2 0h0m2 0h0m2 0h0m5 0h1m3 0h3m2 0h3m2 0h18m2 0h8m2 0h3m3 0h0m5 0h2m4 0h0m25 0h0m17 0h0m23 0h0m-190 2h0m8 0h0m7 0h0m5 0h0m5 0h0m8 0h0m6 0h0m12 0h0m2 0h0m2 0h0m2 0h0m2 0h1m2 0h0m2 0h2m2 0h0m2 0h1m2 0h14m2 0h4m2 0h2m2 0h0m2 0h2m2 0h0m3 0h0m3 0h0m3 0h0m2 0h0m5 0h0m7 0h0m2 0h0m4 0h0m45 0h0m14 0h0m-203 1h0m10 0h0m15 0h0m5 0h0m5 0h0m4 0h0m4 0h0m3 0h0m6 0h0m3 0h0m6 0h0m2 0h0m2 0h0m4 0h1m2 0h0m2 0h2m2 0h0m2 0h1m2 0h0m2 0h18m2 0h3m2 0h0m2 0h2m2 0h1m2 0h1m3 0h0m3 0h0m8 0h0m10 0h0m8 0h0m2 0h0m5 0h0m2 0h0m28 0h0m9 0h0m4 0h0m30 0h0m-232 1h0m10 0h0m8 0h0m12 0h0m9 0h0m10 0h0m6 0h0m2 0h0m2 0h0m2 0h0m2 0h0m2 0h0m2 0h0m2 0h1m4 0h2m2 0h3m2 0h8m2 0h7m2 0h1m2 0h2m2 0h2m4 0h3m3 0h0m2 0h0m2 0h0m2 0h0m4 0h0m9 0h0m6 0h0m5 0h0m2 0h0m6 0h0m3 0h0m22 0h0m7 0h0m15 0h0m-206 2h0m18 0h0m7 0h0m14 0h0m4 0h0m6 0h0m3 0h0m5 0h0m2 0h0m2 0h0m2 0h0m2 0h0m2 0h0m2 0h1m2 0h0m2 0h2m2 0h3m2 0h6m2 0h3m2 0h0m2 0h1m2 0h2m2 0h2m2 0h4m2 0h1m2 0h0m6 0h1m5 0h2m12 0h0m48 0h0m5 0h0m4 0h0m-191 1h0m15 0h0m18 0h0m3 0h0m6 0h0m5 0h0m2 0h0m2 0h0m6 0h0m2 0h1m2 0h0m2 0h2m2 0h3m2 0h11m2 0h7m2 0h5m2 0h1m4 0h2m4 0h0m2 0h1m2 0h0m3 0h0m15 0h0m26 0h0m11 0h0m36 0h0m-219 1h0m10 0h0m15 0h0m14 0h0m4 0h0m3 0h0m6 0h0m3 0h0m4 0h0m2 0h0m2 0h0m2 0h0m2 0h0m2 0h1m2 0h0m2 0h2m2 0h3m2 0h1m2 0h2m2 0h1m2 0h10m2 0h5m3 0h0m2 0h0m3 0h3m2 0h1m3 0h0m8 0h0m4 0h0m13 0h0m10 0h0m2 0h0m23 0h0m2 0h0m2 0h0m64 0h0m-255 2h0m10 0h0m8 0h0m12 0h0m9 0h0m7 0h0m6 0h0m5 0h0m2 0h0m2 0h0m2 0h0m2 0h0m2 0h0m2 0h1m5 0h1m2 0h3m2 0h10m2 0h4m2 0h6m3 0h4m2 0h2m5 0h1m6 0h0m28 0h2m11 0h0m-171 2h0m25 0h0m5 0h0m9 0h0m4 0h0m6 0h0m3 0h0m3 0h0m2 0h0m4 0h0m4 0h0m2 0h0m2 0h1m2 0h0m2 0h2m2 0h1m2 0h0m2 0h14m2 0h2m2 0h8m2 0h1m2 0h1m2 0h1m2 0h1m6 0h0m4 0h0m5 0h0m2 0h1m9 0h0m8 0h0m25 0h0m13 0h0m4 0h0m-182 1h0m7 0h0m5 0h0m5 0h0m11 0h0m3 0h0m3 0h0m3 0h0m2 0h0m2 0h0m4 0h0m2 0h0m2 0h0m2 0h1m2 0h0m2 0h2m2 0h3m4 0h4m2 0h21m2 0h0m3 0h0m3 0h0m3 0h0m4 0h0m3 0h0m8 0h0m22 0h1m5 0h0m6 0h0m14 0h1m14 0h0m-201 2h0m25 0h0m5 0h0m16 0h0m6 0h0m7 0h0m2 0h0m2 0h0m4 0h0m2 0h1m4 0h2m2 0h3m2 0h0m2 0h0m2 0h3m2 0h2m2 0h3m2 0h2m2 0h1m3 0h3m2 0h0m2 0h0m2 0h0m2 0h1m6 0h0m3 0h0m9 0h2m15 0h0m5 0h0m9 0h0m7 0h0m2 0h0m27 0h0m-196 2h0m8 0h0m17 0h0m8 0h0m3 0h0m6 0h0m7 0h0m2 0h0m2 0h0m2 0h0m2 0h0m2 0h0m3 0h0m2 0h2m2 0h3m2 0h0m2 0h9m2 0h10m2 0h4m2 0h5m2 0h0m2 0h0m3 0h0m6 0h0m3 0h0m6 0h0m11 0h0m4 0h0m5 0h0m2 0h0m13 0h0m23 0h0m17 0h0m7 0h0m-223 2h0m10 0h0m8 0h0m7 0h0m18 0h0m9 0h0m5 0h0m2 0h0m2 0h0m2 0h0m2 0h0m2 0h0m2 0h1m4 0h2m2 0h3m2 0h3m2 0h1m2 0h6m2 0h1m2 0h4m2 0h0m2 0h0m2 0h2m2 0h0m2 0h1m5 0h0m2 0h0m4 0h0m10 0h0m5 0h0m32 0h0m14 0h0m24 0h0m-215 3h0m10 0h0m8 0h0m21 0h0m4 0h0m6 0h0m3 0h0m3 0h0m2 0h0m2 0h0m2 0h0m2 0h0m2 0h0m2 0h0m2 0h0m3 0h0m3 0h1m2 0h3m2 0h20m2 0h2m2 0h6m3 0h3m4 0h2m2 0h1m3 0h3m2 0h0m23 0h0m21 0h0m33 0h0m3 0h0m31 0h0m-249 2h0m10 0h0m15 0h0m10 0h0m4 0h0m18 0h0m2 0h0m2 0h0m4 0h0m2 0h0m3 0h0m4 0h0m2 0h0m2 0h3m3 0h2m2 0h3m3 0h5m2 0h1m2 0h1m2 0h0m3 0h3m2 0h0m2 0h0m7 0h0m4 0h0m5 0h0m4 0h0m2 0h0m9 0h0m8 0h0m16 0h1m42 0h0m-215 3h0m10 0h0m8 0h0m7 0h0m5 0h0m5 0h0m4 0h0m16 0h0m2 0h0m2 0h0m2 0h0m4 0h0m2 0h0m2 0h1m2 0h0m2 0h2m2 0h0m2 0h1m3 0h2m2 0h0m2 0h1m2 0h5m2 0h5m2 0h0m5 0h0m3 0h1m2 0h3m2 0h1m4 0h0m7 0h1m4 0h0m4 0h0m2 0h0m25 0h0m7 0h0m7 0h0m-185 2h0m18 0h0m21 0h0m4 0h0m6 0h0m6 0h0m2 0h0m2 0h0m4 0h0m4 0h0m2 0h1m5 0h0m3 0h3m4 0h1m2 0h1m2 0h8m2 0h0m2 0h2m2 0h0m2 0h2m2 0h1m4 0h0m2 0h0m3 0h0m2 0h0m8 0h0m5 0h0m4 0h0m36 0h0m14 0h0m7 0h0m21 0h0m8 0h0m-228 3h0m18 0h0m12 0h0m5 0h0m8 0h0m3 0h0m6 0h0m3 0h0m4 0h0m4 0h0m4 0h0m2 0h1m2 0h0m2 0h2m2 0h3m2 0h0m2 0h2m2 0h0m2 0h0m2 0h1m2 0h2m2 0h1m2 0h0m2 0h10m2 0h3m2 0h0m2 0h0m2 0h0m2 0h0m6 0h0m3 0h0m3 0h0m2 0h0m4 0h0m22 0h0m4 0h0m3 0h0m6 0h0m-151 4h0m16 0h0m6 0h0m3 0h0m2 0h0m2 0h0m6 0h0m7 0h0m2 0h1m3 0h3m2 0h0m2 0h8m3 0h0m2 0h3m2 0h0m2 0h0m2 0h0m2 0h0m2 0h2m2 0h4m3 0h0m2 0h0m3 0h0m3 0h1m10 0h0m9 0h0m2 0h0m6 0h0m32 0h0m12 0h0m-184 4h0m21 0h0m7 0h0m3 0h0m6 0h0m4 0h0m4 0h0m2 0h0m2 0h0m3 0h0m2 0h0m2 0h2m4 0h1m2 0h0m3 0h1m2 0h0m2 0h0m4 0h1m3 0h0m4 0h0m2 0h0m2 0h0m2 0h0m2 0h7m2 0h0m16 0h0m6 0h0m17 0h0m22 0h0m20 0h0m-201 4h0m18 0h0m7 0h0m5 0h0m5 0h0m8 0h0m3 0h0m3 0h0m6 0h0m6 0h0m6 0h0m8 0h0m4 0h0m2 0h0m3 0h0m4 0h3m2 0h3m2 0h0m5 0h0m6 0h2m4 0h0m12 0h0m2 0h0m4 0h0m2 0h2m2 0h0m49 0h0m17 0h0m-205 5h0m49 0h0m3 0h0m3 0h0m2 0h0m2 0h0m2 0h0m2 0h0m4 0h0m3 0h0m2 0h0m2 0h0m2 0h0m2 0h0m2 0h1m2 0h0m2 0h0m2 0h0m6 0h0m2 0h2m2 0h0m2 0h0m8 0h0m2 0h0m3 0h1m6 0h1m6 0h0m3 0h2m9 0h0m5 0h0m5 0h0m19 0h0m9 0h0m4 0h0m7 0h0m17 0h0m24 0h0m-186 6h0m6 0h0m5 0h0m2 0h0m2 0h0m8 0h1m14 0h4m2 0h0m2 0h0m2 0h2m3 0h0m2 0h0m4 0h0m2 0h0m3 0h0m3 0h0m2 0h0m2 0h1m5 0h0m3 0h0m23 0h0m10 0h0m4 0h0m11 0h0m-164 7h0m33 0h0m3 0h0m9 0h0m10 0h0m2 0h0m5 0h0m2 0h2m2 0h2m5 0h0m6 0h1m2 0h0m3 0h0m2 0h0m4 0h3m4 0h0m6 0h0m2 0h2m2 0h0m5 0h0m3 0h0m7 0h0m14 0h0m2 0h0m2 0h0m15 0h0m53 0h0m3 0h0m-174 9h0m9 0h0m6 0h0m8 0h0m5 0h1m2 0h0m10 0h0m3 0h0m2 0h2m4 0h0m4 0h0m3 0h1m2 0h0m6 0h1m2 0h0m4 0h0m12 0h1m2 0h0m2 0h0m2 0h0m2 0h0m7 0h0m43 0h0" fill="none" stroke="#ea5f47" stroke-width="1.9" stroke-linecap="square"/>
<rect x="672.8" y="267" width="2.2" height="131.3" fill="#ea5f47"/>
<rect x="740.3" y="395.6" width="207.4" height="2.4" fill="#ea5f47"/>
<path d="M947.7 396.8h7.3M957.7 396.8h5.2M967.5 396.8h5.4M977.7 396.8h4.1M985.4 396.8h6.6M996.8 396.8h1.5M1007.3 396.8h1.7M1017.3 396.8h1.5M677.3 396.8h1.6M684.6 396.8h1.6M693.3 396.8h1.6M699.9 396.8h1.6M708.2 396.8h1.6M716.8 396.8h1.6M723.4 396.8h1.6M726.6 396.8h1.6M731.5 396.8h1.6M737.1 396.8h1.6" stroke="#ea5f47" stroke-width="2.2" fill="none"/>
<g transform="translate(672.3 22.3) scale(0.9508 1.0129)">
<use href="#tpl"/>
<g>
<text x="0.6" y="20" font-size="21.4" fill="#111" textLength="26.66" lengthAdjust="spacingAndGlyphs">UL</text>
<text x="1.3" y="45.1" font-size="21.4" fill="#111" textLength="42.97" lengthAdjust="spacingAndGlyphs">0.14</text>
<text x="385.2" y="20" font-size="21.4" fill="#111" textLength="28.45" lengthAdjust="spacingAndGlyphs">UR</text>
<text x="385.8" y="45.1" font-size="21.4" fill="#111" textLength="42.97" lengthAdjust="spacingAndGlyphs">3.94</text>
<text x="0.5" y="340.7" font-size="21.4" fill="#111" textLength="23.36" lengthAdjust="spacingAndGlyphs">LL</text>
<text x="1.2" y="365.7" font-size="21.4" fill="#111" textLength="55.36" lengthAdjust="spacingAndGlyphs">86.87</text>
<text x="385.1" y="340.7" font-size="21.4" fill="#111" textLength="26.01" lengthAdjust="spacingAndGlyphs">LR</text>
<text x="385.7" y="365.7" font-size="21.4" fill="#111" textLength="43.32" lengthAdjust="spacingAndGlyphs">9.05</text>
</g></g>
<path d="M807 22.3V399.3 M672.3 267H1080.4" stroke="#0a0a0a" stroke-width="2.05" fill="none"/>
<g><text x="766.5" y="471.4" font-size="29.5" fill="#111" textLength="184.26" lengthAdjust="spacingAndGlyphs">MKN45-5mg/l</text></g>
<path d="m1478 126h0m14 0h0m0 14h0m1 1h0m54 0h0m-77 1h0m48 0h0m2 0h0m-27 1h0m4 0h0m-20 2h0m22 1h1m12 0h0m-16 2h0m10 0h1m-10 2h0m26 0h0m21 0h0m16 0h0m-97 1h0m27 0h1m34 0h1m5 0h0m-13 1h0m5 0h0m-20 1h0m-24 1h0m3 0h0m11 0h1m5 0h0m8 1h0m25 0h0m-47 1h0m36 0h0m-35 1h0m26 0h1m37 0h0m-77 1h0m26 0h0m31 0h0m-39 1h0m8 0h0m27 0h0m2 0h0m3 0h0m-53 1h1m25 0h0m9 0h0m26 0h0m-93 1h0m50 0h0m12 0h0m7 0h0m37 0h0m-66 1h0m2 0h0m5 0h0m4 0h0m11 0h0m40 0h0m6 0h0m-74 1h0m16 0h0m17 0h0m-46 1h0m12 0h0m21 0h0m-54 1h0m36 0h0m10 0h0m10 0h0m20 0h0m6 0h0m-39 1h0m18 0h0m6 0h0m37 0h0m-101 1h0m48 0h1m3 0h0m4 0h0m16 0h0m-34 1h1m11 0h0m31 0h0m9 0h0m4 0h0m-73 1h0m16 0h0m15 0h1m23 0h0m17 0h0m-67 1h0m17 0h0m16 0h0m2 0h0m2 0h0m8 0h0m44 0h0m-117 1h0m23 0h0m8 0h0m22 0h0m6 0h0m2 0h1m3 0h0m13 0h0m11 0h0m10 0h0m12 0h0m-99 1h0m15 0h0m9 0h0m24 0h0m7 0h0m11 0h0m2 0h0m-45 1h0m25 0h0m3 0h0m2 0h0m3 0h0m18 0h0m16 0h0m-77 1h0m23 0h0m2 0h0m3 0h0m3 0h0m9 0h0m4 0h0m3 0h0m4 0h0m2 0h0m2 0h0m-135 1h0m58 0h0m69 0h0m14 0h0m10 0h0m2 0h0m7 0h0m-84 1h0m26 0h2m19 0h0m4 0h0m8 0h0m-45 1h0m9 0h0m4 0h0m18 0h0m2 0h0m29 0h0m-60 1h0m5 0h0m19 0h1m4 0h0m8 0h0m7 0h2m24 0h0m-137 1h0m32 0h0m5 0h0m24 0h0m30 0h0m8 0h0m10 0h0m3 0h0m4 0h0m11 0h0m-115 1h0m42 0h0m14 0h0m9 0h0m19 0h1m2 0h0m31 0h0m12 0h0m-57 1h1m12 0h0m8 0h0m24 0h1m-84 1h0m39 0h0m12 0h0m3 0h0m4 0h0m5 0h0m6 0h0m15 0h0m6 0h0m17 0h0m-167 1h0m90 0h0m15 0h0m2 0h0m12 0h0m39 0h0m-166 1h0m75 0h0m40 0h0m3 0h0m17 0h0m6 0h0m25 0h0m-59 1h0m6 0h1m0 1h1m5 0h0m11 0h0m13 0h0m11 0h0m10 0h0m2 0h0m-96 1h0m5 0h0m30 0h0m3 0h0m17 0h1m11 0h0m5 0h0m6 0h0m5 0h0m-48 1h0m2 0h0m4 0h0m3 0h0m8 0h2m-93 1h0m49 0h0m4 0h1m12 0h0m7 0h0m7 0h0m17 0h0m14 0h1m5 0h0m-51 1h0m28 0h1m17 0h0m2 0h0m-85 1h0m27 0h0m6 0h0m21 0h2m3 0h1m26 0h0m16 0h0m-53 1h0m6 0h0m2 0h0m2 0h0m13 0h0m23 0h0m-85 1h0m49 0h0m23 0h0m3 0h0m7 0h0m-133 1h0m44 0h0m26 0h0m4 0h0m28 0h0m14 0h0m2 0h0m4 0h0m26 0h0m-119 1h0m77 0h0m4 0h0m7 0h0m9 0h0m6 0h0m10 0h0m12 0h0m-96 1h0m7 0h0m43 0h0m12 0h0m17 0h0m-143 1h0m33 0h0m21 0h0m44 0h0m34 0h0m-111 1h0m15 0h0m27 0h0m3 0h0m16 0h0m17 0h0m12 0h0m19 0h0m7 0h0m28 0h0m-196 1h0m27 0h0m55 0h0m32 0h0m19 0h0m14 0h0m23 0h0m4 0h0m-176 1h0m18 0h0m9 0h0m3 0h0m44 0h0m9 0h0m39 0h0m7 0h0m-108 1h0m21 0h0m94 0h1m9 0h0m8 0h0m16 0h0m3 0h0m5 0h0m-85 1h0m49 0h0m2 0h0m22 0h0m2 0h0m-139 1h0m34 0h0m29 0h0m45 0h1m-173 1h0m94 0h0m59 0h0m34 0h0m20 0h0m4 0h0m-139 1h0m79 0h0m12 0h0m19 0h0m22 0h0m2 0h0m4 0h0m-224 1h0m107 0h0m26 0h0m2 0h0m58 0h0m12 0h0m4 0h0m7 0h0m12 0h0m20 0h0m-303 1h0m163 0h0m22 0h0m7 0h0m60 0h0m-166 1h0m44 0h0m36 0h0m81 0h0m18 0h0m-201 1h0m89 0h0m81 0h0m15 0h0m28 0h0m-260 1h0m92 0h0m27 0h0m2 0h0m40 0h0m42 0h0m11 0h0m37 0h0m15 0h0m34 0h0m-264 1h0m67 0h1m13 0h0m18 0h0m13 0h0m51 0h0m34 0h0m3 0h0m16 0h0m-176 1h0m136 0h0m6 0h0m17 0h0m33 0h0m-187 1h0m64 0h0m44 0h0m68 0h0m-221 1h0m58 0h0m6 0h0m15 0h0m81 0h0m15 0h0m3 0h0m19 0h0m34 0h0m-231 1h0m77 0h0m10 0h0m15 0h0m29 0h0m6 0h0m61 0h0m24 0h0m-249 1h0m85 0h0m37 0h0m14 0h0m2 0h0m23 0h0m89 0h0m-247 1h0m58 0h0m30 0h0m23 0h0m29 0h0m25 0h0m20 0h0m32 0h0m-222 1h0m129 0h0m2 0h0m8 0h0m22 0h0m40 0h0m8 0h0m20 0h0m-127 1h0m14 0h0m103 0h0m-221 1h0m21 0h0m14 0h0m28 0h0m18 0h0m9 0h0m32 0h0m11 0h0m5 0h0m47 0h0m24 0h0m19 0h0m-175 1h0m91 0h0m7 0h0m31 0h0m68 0h0m-160 1h0m28 0h0m102 0h0m21 0h0m39 0h0m-254 1h0m121 0h0m4 0h0m-163 1h0m12 0h0m43 0h2m128 0h0m16 0h0m3 0h0m-214 1h0m58 0h0m5 0h0m1 1h0m24 0h0m29 0h0m102 0h0m-157 1h0m21 0h0m41 0h0m9 0h0m33 0h0m-129 1h0m80 0h0m3 0h0m80 0h0m-88 1h0m7 0h0m12 0h0m6 0h0m-99 1h0m87 0h0m38 0h0m77 0h0m-177 1h0m3 0h1m15 0h0m24 0h0m24 0h0m3 0h0m16 0h0m63 0h0m39 0h0m-205 1h0m13 0h0m12 0h0m5 0h0m59 0h0m3 0h0m21 0h0m-144 1h0m19 0h1m24 0h0m2 0h0m22 0h0m15 0h0m17 0h0m4 0h0m10 0h0m15 0h0m23 0h0m-147 1h0m15 0h0m38 0h0m5 0h0m11 0h0m46 0h0m-97 1h0m22 0h0m2 0h0m53 0h0m16 0h0m3 0h0m-110 1h0m25 0h0m20 0h0m9 0h0m4 0h0m29 0h0m15 0h0m10 0h0m45 0h0m6 0h0m-80 1h0m9 0h0m42 0h0m36 0h0m20 0h0m4 0h0m-218 1h0m29 0h0m2 0h0m24 0h0m8 0h0m17 0h0m44 0h0m6 0h0m49 0h0m-147 1h0m5 0h0m19 0h0m8 0h0m16 0h0m15 0h0m49 0h0m16 0h0m24 0h0m-218 1h0m8 0h0m7 0h0m19 0h0m7 0h0m31 0h0m10 0h1m8 0h0m2 0h0m8 0h0m28 0h0m16 0h0m30 0h0m11 0h1m6 0h0m-204 1h0m45 0h0m22 0h0m4 0h1m2 0h0m5 0h0m13 0h0m10 0h0m13 0h0m2 0h0m3 0h0m9 0h0m6 0h0m49 0h0m14 0h0m37 0h1m-154 1h0m6 0h0m4 0h1m32 0h0m10 0h0m10 0h0m2 0h0m24 0h0m15 0h0m11 0h0m-178 1h0m7 0h0m39 0h0m11 0h1m3 0h0m6 0h0m5 0h0m8 0h0m13 0h0m2 0h1m6 0h0m7 0h0m14 0h0m26 0h0m29 0h0m-171 1h0m19 0h0m29 0h0m31 0h0m7 0h0m6 0h0m20 0h0m55 0h0m17 0h0m37 0h0m-247 1h0m37 0h0m35 0h0m11 0h0m6 0h0m9 0h0m4 0h0m10 0h0m9 0h0m43 0h0m54 0h0m3 0h0m21 0h0m-242 1h0m65 0h0m12 0h0m12 0h1m7 0h0m2 0h0m8 0h0m2 0h0m3 0h0m10 0h0m31 0h0m24 0h0m21 0h0m10 0h0m-176 1h0m33 0h0m14 0h0m10 0h0m18 0h0m5 0h0m6 0h0m2 0h0m30 0h0m12 0h0m2 0h0m7 0h0m19 0h0m-118 1h0m7 0h1m2 0h0m7 0h0m18 0h2m6 0h0m48 0h0m15 0h0m43 0h0m-221 1h0m67 0h0m13 0h0m15 0h0m2 0h1m3 0h0m2 0h0m4 0h2m8 0h0m8 0h0m14 0h0m23 0h0m3 0h0m10 0h0m5 0h0m36 0h0m12 0h0m-173 1h0m10 0h0m15 0h0m3 0h1m3 0h1m4 0h2m2 0h1m3 0h5m4 0h0m3 0h0m7 0h0m5 0h0m11 0h0m27 0h0m3 0h0m34 0h0m2 0h0m25 0h0m-226 1h0m55 0h0m10 0h0m4 0h0m2 0h0m5 0h0m16 0h1m2 0h1m3 0h0m3 0h0m2 0h0m7 0h0m5 0h0m4 0h1m4 0h0m13 0h0m3 0h0m21 0h0m44 0h0m-206 1h0m26 0h0m31 0h0m10 0h0m4 0h1m4 0h1m2 0h1m7 0h0m4 0h0m5 0h0m10 0h1m2 0h0m2 0h1m9 0h0m7 0h0m41 0h0m2 0h0m16 0h0m8 0h1m3 0h0m40 0h0m-187 1h0m10 0h0m15 0h0m3 0h0m7 0h1m15 0h0m6 0h0m9 0h1m22 0h0m6 0h0m5 0h0m92 0h0m-233 1h0m21 0h0m13 0h0m20 0h0m4 0h0m2 0h0m5 0h0m6 0h0m7 0h1m3 0h0m3 0h0m2 0h0m2 0h2m5 0h0m5 0h0m3 0h0m4 0h0m4 0h0m15 0h0m10 0h0m2 0h0m14 0h0m25 0h0m17 0h0m2 0h0m-171 1h0m18 0h0m2 0h0m10 0h0m2 0h0m2 0h1m5 0h0m2 0h0m5 0h0m3 0h0m3 0h0m3 0h1m5 0h0m5 0h0m3 0h2m2 0h0m4 0h1m9 0h0m10 0h0m21 0h0m14 0h0m8 0h0m12 0h0m12 0h0m-161 1h0m39 0h0m2 0h0m2 0h0m5 0h0m5 0h3m3 0h1m6 0h0m2 0h0m5 0h0m7 0h1m2 0h0m3 0h0m2 0h0m64 0h0m22 0h0m15 0h0m33 0h0m-263 1h0m26 0h0m19 0h0m10 0h0m10 0h0m9 0h0m20 0h0m3 0h0m6 0h0m2 0h0m2 0h0m2 0h0m3 0h1m2 0h2m3 0h0m4 0h0m5 0h0m3 0h0m2 0h0m39 0h0m8 0h0m5 0h0m2 0h0m7 0h0m10 0h0m-205 1h0m65 0h0m4 0h0m7 0h0m6 0h0m2 0h0m2 0h0m2 0h0m2 0h0m2 0h1m2 0h2m3 0h0m5 0h5m4 0h0m3 0h1m2 0h0m2 0h0m7 0h0m5 0h0m13 0h0m-115 1h0m16 0h0m4 0h0m3 0h0m2 0h0m14 0h1m2 0h0m2 0h0m11 0h1m4 0h1m3 0h1m2 0h3m4 0h1m2 0h0m5 0h1m2 0h0m2 0h0m2 0h2m5 0h0m8 0h0m39 0h0m3 0h0m8 0h0m3 0h0m4 0h0m21 0h0m-169 1h0m3 0h0m7 0h0m17 0h0m8 0h0m3 0h1m2 0h0m2 0h2m2 0h1m4 0h0m2 0h0m2 0h3m3 0h1m8 0h0m10 0h1m4 0h0m13 0h0m5 0h0m2 0h0m36 0h0m22 0h0m8 0h0m13 0h0m5 0h0m18 0h0m-253 1h0m11 0h0m8 0h0m13 0h0m5 0h0m15 0h0m22 0h0m5 0h0m4 0h1m4 0h1m2 0h0m4 0h0m2 0h2m2 0h0m3 0h0m4 0h1m2 0h1m5 0h0m10 0h0m2 0h0m6 0h0m5 0h1m51 0h0m-192 1h0m41 0h0m16 0h0m8 0h0m4 0h0m5 0h0m3 0h0m3 0h0m2 0h0m6 0h0m5 0h0m2 0h1m2 0h1m3 0h1m3 0h3m2 0h0m10 0h0m2 0h0m4 0h0m5 0h0m5 0h0m7 0h0m27 0h0m9 0h0m20 0h0m21 0h0m14 0h0m-235 1h0m11 0h0m8 0h0m7 0h0m6 0h0m33 0h0m2 0h0m4 0h1m4 0h1m3 0h0m2 0h1m3 0h0m2 0h4m2 0h2m2 0h0m3 0h3m3 0h0m2 0h0m2 0h1m2 0h0m2 0h0m6 0h2m16 0h0m14 0h0m6 0h0m10 0h0m33 0h0m29 0h0m20 0h0m-252 1h0m11 0h0m8 0h0m50 0h0m3 0h0m2 0h0m2 0h0m3 0h1m2 0h2m4 0h0m3 0h0m3 0h2m2 0h2m2 0h0m2 0h0m2 0h0m2 0h0m5 0h0m11 0h0m2 0h0m16 0h0m6 0h0m17 0h0m3 0h0m37 0h0m4 0h0m4 0h0m-213 1h0m11 0h0m8 0h0m18 0h0m23 0h0m2 0h0m9 0h1m4 0h0m4 0h0m2 0h0m2 0h0m2 0h1m2 0h0m2 0h0m2 0h8m2 0h4m2 0h0m2 0h0m2 0h0m3 0h4m3 0h2m14 0h0m13 0h0m8 0h0m6 0h0m5 0h0m21 0h0m11 0h0m17 0h0m-220 1h0m19 0h0m13 0h0m13 0h0m7 0h0m8 0h0m2 0h0m7 0h0m3 0h0m4 0h1m2 0h0m3 0h0m4 0h0m6 0h0m3 0h0m2 0h0m3 0h1m2 0h3m3 0h0m2 0h1m2 0h1m2 0h0m6 0h0m3 0h0m2 0h0m2 0h0m2 0h0m16 0h0m38 0h0m20 0h0m6 0h0m17 0h0m-218 1h0m15 0h0m11 0h0m11 0h0m9 0h0m3 0h0m7 0h0m4 0h1m2 0h0m3 0h0m2 0h1m3 0h1m2 0h11m3 0h4m3 0h1m2 0h4m2 0h3m2 0h2m2 0h0m4 0h0m4 0h0m9 0h0m26 0h0m4 0h0m14 0h0m16 0h0m11 0h0m18 0h0m-212 1h0m13 0h0m16 0h0m17 0h0m4 0h0m2 0h0m3 0h0m3 0h0m3 0h0m3 0h1m3 0h6m2 0h0m2 0h0m2 0h7m4 0h2m2 0h3m2 0h0m3 0h0m2 0h0m3 0h0m5 0h0m4 0h0m13 0h0m5 0h0m7 0h0m2 0h0m11 0h0m42 0h0m-190 1h0m26 0h0m13 0h0m6 0h1m2 0h0m2 0h1m3 0h0m3 0h1m2 0h2m2 0h8m3 0h1m2 0h0m2 0h1m3 0h1m2 0h0m5 0h0m3 0h5m4 0h2m4 0h0m3 0h0m9 0h0m2 0h0m29 0h0m29 0h0m4 0h0m30 0h0m-231 1h0m8 0h0m7 0h0m6 0h0m23 0h0m2 0h0m5 0h0m3 0h0m2 0h0m2 0h0m2 0h1m4 0h0m3 0h1m3 0h1m2 0h1m2 0h5m2 0h1m2 0h2m2 0h1m4 0h0m2 0h0m2 0h3m6 0h1m5 0h0m6 0h0m2 0h0m23 0h0m11 0h0m9 0h0m5 0h0m5 0h0m2 0h0m36 0h0m-226 1h0m11 0h0m15 0h0m15 0h0m16 0h0m3 0h0m2 0h0m5 0h0m2 0h0m2 0h0m3 0h0m2 0h1m2 0h1m2 0h2m2 0h0m2 0h8m3 0h2m2 0h4m2 0h0m3 0h0m2 0h2m3 0h0m3 0h0m4 0h1m2 0h2m2 0h0m2 0h0m8 0h0m17 0h0m6 0h0m12 0h0m9 0h0m16 0h0m-203 1h0m11 0h0m8 0h0m13 0h0m9 0h0m4 0h0m3 0h0m4 0h0m3 0h0m10 0h0m2 0h0m2 0h0m2 0h0m3 0h0m2 0h0m3 0h0m3 0h0m2 0h0m2 0h2m3 0h0m2 0h2m2 0h1m2 0h2m2 0h3m2 0h2m4 0h1m2 0h1m2 0h0m2 0h1m2 0h0m2 0h0m3 0h2m2 0h0m72 0h1m-208 1h0m11 0h0m8 0h0m13 0h0m9 0h0m4 0h0m12 0h0m3 0h0m5 0h0m2 0h0m2 0h0m2 0h1m2 0h0m3 0h0m2 0h1m2 0h2m2 0h0m2 0h0m2 0h0m2 0h7m2 0h6m2 0h0m2 0h1m2 0h0m2 0h2m2 0h1m3 0h1m2 0h0m4 0h1m12 0h0m4 0h1m6 0h0m3 0h0m3 0h1m3 0h0m13 0h0m3 0h0m4 0h0m5 0h1m7 0h0m6 0h1m10 0h0m6 0h0m-221 1h0m19 0h0m7 0h0m6 0h0m5 0h0m4 0h0m14 0h0m7 0h0m5 0h0m2 0h0m3 0h0m2 0h0m2 0h1m2 0h1m2 0h2m3 0h3m2 0h9m2 0h4m2 0h3m3 0h4m2 0h1m5 0h1m2 0h1m2 0h0m16 0h0m10 0h0m6 0h0m25 0h0m26 0h0m-216 1h0m11 0h0m15 0h0m6 0h0m16 0h0m4 0h0m8 0h0m14 0h0m5 0h1m3 0h1m2 0h1m2 0h0m2 0h1m3 0h0m2 0h7m2 0h0m3 0h0m2 0h0m3 0h0m3 0h0m4 0h0m2 0h0m8 0h0m3 0h0m3 0h0m2 0h0m21 0h0m6 0h0m-155 1h0m15 0h0m6 0h0m5 0h0m4 0h0m7 0h0m4 0h0m5 0h0m3 0h0m2 0h0m3 0h0m2 0h0m2 0h0m2 0h1m2 0h0m2 0h1m2 0h1m2 0h2m2 0h15m2 0h4m2 0h0m2 0h0m4 0h3m2 0h0m3 0h0m7 0h1m7 0h0m9 0h0m13 0h1m6 0h0m21 0h0m6 0h0m10 0h0m16 0h0m45 0h1m-266 1h0m32 0h0m16 0h0m4 0h0m3 0h0m5 0h0m2 0h0m3 0h0m2 0h0m2 0h0m2 0h1m2 0h0m3 0h0m2 0h1m2 0h2m2 0h26m3 0h0m3 0h5m2 0h0m2 0h0m5 0h2m2 0h0m7 0h0m4 0h0m12 0h0m16 0h0m5 0h0m13 0h0m64 0h0m-257 1h0m32 0h0m9 0h0m4 0h0m20 0h0m2 0h0m4 0h0m6 0h0m2 0h1m2 0h0m2 0h0m2 0h1m2 0h1m3 0h4m2 0h0m3 0h0m2 0h7m3 0h1m3 0h0m3 0h0m2 0h0m2 0h0m2 0h0m3 0h0m6 0h0m9 0h0m52 0h0m17 0h0m-214 1h0m11 0h0m8 0h0m13 0h0m5 0h0m4 0h0m4 0h0m3 0h0m9 0h0m3 0h0m5 0h0m2 0h0m2 0h0m3 0h0m2 0h0m2 0h0m3 0h1m2 0h2m3 0h17m2 0h7m3 0h3m4 0h3m2 0h0m3 0h0m4 0h1m10 0h0m36 0h0m3 0h0m16 0h0m23 0h0m14 0h0m-238 1h0m11 0h0m21 0h0m16 0h0m17 0h0m2 0h0m2 0h0m2 0h1m2 0h0m2 0h1m2 0h1m2 0h2m2 0h0m3 0h1m2 0h0m2 0h1m2 0h0m2 0h4m2 0h1m3 0h0m3 0h0m2 0h1m3 0h0m3 0h0m8 0h2m2 0h0m6 0h0m2 0h0m64 0h0m12 0h1m-218 1h0m11 0h0m8 0h0m7 0h0m6 0h0m5 0h0m4 0h0m4 0h0m10 0h0m5 0h0m2 0h0m3 0h0m2 0h0m2 0h0m2 0h1m2 0h0m2 0h1m2 0h1m2 0h2m2 0h5m2 0h3m2 0h21m2 0h1m7 0h0m3 0h0m7 0h0m4 0h0m4 0h0m18 0h0m16 0h0m4 0h0m19 0h0m3 0h0m4 0h0m34 0h0m16 0h0m-261 1h0m19 0h0m7 0h0m6 0h0m5 0h0m18 0h0m5 0h0m5 0h0m2 0h0m2 0h0m2 0h1m2 0h0m3 0h0m2 0h0m3 0h1m3 0h1m2 0h0m2 0h7m2 0h5m2 0h5m2 0h0m2 0h2m3 0h0m5 0h0m3 0h0m3 0h0m2 0h0m2 0h0m6 0h0m2 0h0m62 0h0m-206 1h0m11 0h0m8 0h0m7 0h0m6 0h0m13 0h0m3 0h0m4 0h0m3 0h0m7 0h0m3 0h0m2 0h0m2 0h0m2 0h1m2 0h0m2 0h1m2 0h1m2 0h1m3 0h19m2 0h8m2 0h2m3 0h0m2 0h1m3 0h0m2 0h1m11 0h0m8 0h0m14 0h0m7 0h0m2 0h0m2 0h1m12 0h0m7 0h0m3 0h0m16 0h0m2 0h0m-216 1h0m11 0h0m30 0h0m4 0h0m15 0h0m2 0h0m3 0h0m2 0h0m2 0h0m2 0h0m3 0h0m2 0h1m2 0h1m2 0h2m2 0h11m2 0h2m3 0h0m2 0h3m2 0h1m2 0h4m2 0h2m2 0h0m3 0h0m3 0h0m4 0h1m34 0h0m14 0h0m13 0h1m2 0h0m8 0h0m-196 1h0m15 0h0m19 0h0m10 0h0m7 0h0m5 0h0m4 0h1m2 0h0m3 0h0m2 0h0m3 0h1m3 0h7m2 0h0m3 0h0m2 0h7m2 0h0m2 0h2m2 0h0m2 0h2m3 0h0m3 0h0m4 0h0m3 0h0m66 0h0m-198 1h0m11 0h0m8 0h0m7 0h0m11 0h0m4 0h0m4 0h0m10 0h0m5 0h0m2 0h0m3 0h0m2 0h0m2 0h0m2 0h1m2 0h0m2 0h1m2 0h1m2 0h2m2 0h6m2 0h13m2 0h0m2 0h6m2 0h4m2 0h1m3 0h2m4 0h0m4 0h0m29 0h0m15 0h0m3 0h0m2 0h0m3 0h0m4 0h0m11 0h0m20 0h0m-194 1h0m13 0h0m12 0h0m3 0h0m7 0h0m2 0h0m2 0h1m2 0h0m2 0h1m2 0h1m2 0h0m2 0h0m2 0h2m3 0h0m2 0h4m2 0h10m2 0h4m2 0h2m3 0h0m4 0h1m2 0h0m7 0h0m2 0h0m9 0h0m8 0h0m11 0h0m7 0h0m11 0h0m13 0h0m2 0h0m11 0h0m2 0h0m23 0h0m-235 1h0m11 0h0m8 0h0m7 0h0m6 0h0m13 0h0m3 0h0m4 0h0m8 0h0m2 0h0m5 0h0m2 0h0m3 0h0m2 0h0m2 0h1m2 0h1m3 0h1m2 0h1m3 0h12m2 0h0m3 0h2m2 0h1m2 0h3m3 0h3m2 0h0m2 0h0m6 0h0m5 0h0m3 0h1m4 0h0m27 0h0m3 0h0m30 0h0m14 0h0m7 0h1m-183 1h0m7 0h0m3 0h0m2 0h0m3 0h0m2 0h0m3 0h0m2 0h0m2 0h0m2 0h0m3 0h0m2 0h1m2 0h1m2 0h2m2 0h15m2 0h3m2 0h4m2 0h5m2 0h1m2 0h0m3 0h0m4 0h0m11 0h0m6 0h0m3 0h0m16 0h0m2 0h0m5 0h0m6 0h0m33 0h0m3 0h1m-217 1h0m11 0h0m21 0h0m16 0h0m9 0h0m8 0h0m2 0h0m2 0h0m3 0h0m2 0h0m2 0h1m2 0h1m2 0h2m2 0h13m2 0h8m2 0h1m3 0h0m2 0h2m2 0h2m2 0h0m3 0h0m4 0h0m3 0h0m9 0h0m29 0h0m10 0h1m5 0h1m12 0h0m-202 1h0m11 0h0m15 0h0m11 0h0m4 0h0m11 0h0m3 0h0m2 0h0m3 0h0m2 0h0m3 0h0m2 0h0m2 0h0m2 0h0m3 0h0m2 0h0m4 0h0m2 0h2m3 0h3m2 0h5m3 0h1m2 0h6m3 0h0m2 0h1m4 0h0m2 0h0m3 0h1m2 0h1m2 0h2m2 0h0m9 0h0m10 0h0m15 0h1m12 0h0m4 0h0m2 0h0m66 0h0m-234 1h0m7 0h0m6 0h0m9 0h0m11 0h0m3 0h0m2 0h0m3 0h0m7 0h0m2 0h0m2 0h1m2 0h0m2 0h1m2 0h1m2 0h2m2 0h2m2 0h1m2 0h11m2 0h2m2 0h5m2 0h2m3 0h0m9 0h0m2 0h1m2 0h0m20 0h0m36 0h0m20 0h0m6 0h0m2 0h0m4 0h0m7 0h0m20 0h0m7 0h0m-258 1h0m11 0h0m8 0h0m7 0h0m11 0h0m8 0h0m7 0h0m8 0h0m2 0h0m3 0h0m2 0h0m2 0h0m3 0h0m2 0h0m2 0h1m3 0h0m2 0h0m2 0h0m2 0h6m2 0h13m2 0h2m2 0h2m2 0h1m2 0h1m2 0h0m2 0h2m3 0h3m13 0h0m10 0h0m7 0h0m6 0h0m4 0h0m34 0h0m3 0h0m27 0h0m-237 1h0m11 0h0m26 0h0m4 0h0m7 0h0m7 0h0m2 0h0m3 0h0m2 0h0m3 0h0m2 0h0m2 0h0m3 0h0m5 0h0m2 0h1m2 0h2m2 0h8m2 0h5m2 0h6m2 0h6m2 0h3m3 0h0m4 0h0m4 0h1m3 0h0m4 0h0m6 0h0m9 0h0m12 0h0m7 0h0m13 0h0m8 0h0m10 0h0m8 0h1m29 0h0m-244 1h0m11 0h0m21 0h0m16 0h0m12 0h0m5 0h0m2 0h0m2 0h0m2 0h0m3 0h0m2 0h1m2 0h1m2 0h1m3 0h11m2 0h2m2 0h2m2 0h6m2 0h0m3 0h3m2 0h0m2 0h0m2 0h0m2 0h0m3 0h0m6 0h1m20 0h0m6 0h0m38 0h0m6 0h0m8 0h0m32 0h0m7 0h0m-256 1h0m11 0h0m8 0h0m7 0h0m6 0h0m9 0h0m4 0h0m17 0h0m3 0h0m2 0h0m4 0h0m3 0h0m2 0h1m2 0h1m2 0h2m2 0h9m2 0h8m2 0h12m3 0h0m2 0h2m4 0h0m14 0h0m12 0h0m4 0h0m15 0h0m19 0h0m5 0h0m6 0h0m3 0h0m-208 1h0m11 0h0m15 0h0m11 0h0m8 0h0m3 0h0m9 0h0m8 0h0m2 0h0m4 0h1m2 0h0m2 0h1m3 0h0m2 0h2m2 0h2m2 0h2m2 0h2m2 0h4m2 0h19m4 0h0m2 0h0m3 0h0m7 0h0m5 0h0m8 0h0m3 0h0m11 0h0m2 0h0m6 0h0m28 0h0m25 0h0m9 0h0m-236 1h0m11 0h0m8 0h0m7 0h0m11 0h0m4 0h0m4 0h0m7 0h0m3 0h0m5 0h0m2 0h0m3 0h0m2 0h0m2 0h0m3 0h0m4 0h1m2 0h1m2 0h2m3 0h11m2 0h4m2 0h8m2 0h4m3 0h2m2 0h0m3 0h0m10 0h0m3 0h0m2 0h0m5 0h1m14 0h0m9 0h0m3 0h0m21 0h0m27 0h0m2 0h0m-227 1h0m11 0h0m8 0h0m7 0h0m11 0h0m15 0h0m5 0h0m5 0h0m3 0h0m2 0h0m2 0h0m2 0h1m2 0h0m2 0h1m2 0h1m2 0h0m2 0h0m2 0h1m2 0h3m2 0h8m2 0h3m4 0h1m2 0h0m2 0h1m3 0h0m2 0h0m2 0h0m4 0h0m2 0h1m5 0h0m2 0h0m2 0h0m5 0h0m6 0h0m8 0h0m4 0h0m10 0h0m20 0h1m2 0h0m10 0h0m15 0h0m7 0h0m-217 1h0m8 0h0m13 0h0m5 0h0m4 0h0m4 0h0m7 0h0m5 0h0m5 0h0m3 0h0m4 0h0m2 0h1m2 0h0m3 0h0m2 0h1m2 0h2m2 0h6m2 0h16m2 0h0m2 0h1m2 0h3m5 0h1m5 0h0m3 0h0m2 0h0m2 0h0m5 0h0m3 0h0m10 0h0m4 0h0m21 0h0m2 0h0m8 0h0m12 0h0m67 0h0m-270 1h0m11 0h0m8 0h0m7 0h0m15 0h0m11 0h0m3 0h0m2 0h0m10 0h0m2 0h0m2 0h0m5 0h1m2 0h1m2 0h2m2 0h1m2 0h9m2 0h5m2 0h0m2 0h6m2 0h5m3 0h1m2 0h1m3 0h3m9 0h0m2 0h0m4 0h0m3 0h0m21 0h0m10 0h0m3 0h0m28 0h0m-196 2h0m7 0h0m11 0h0m8 0h0m3 0h0m9 0h0m5 0h0m5 0h0m2 0h0m3 0h0m4 0h1m2 0h1m2 0h0m2 0h0m2 0h15m2 0h1m2 0h3m2 0h10m3 0h0m2 0h1m2 0h0m3 0h0m4 0h1m18 0h0m15 0h0m18 0h0m3 0h1m17 0h0m27 0h0m-236 1h0m11 0h0m8 0h0m18 0h0m8 0h0m7 0h0m3 0h0m5 0h0m2 0h0m3 0h0m2 0h0m2 0h0m3 0h0m2 0h0m2 0h1m2 0h1m2 0h0m2 0h0m3 0h0m2 0h3m2 0h15m2 0h0m3 0h1m2 0h0m2 0h6m2 0h0m2 0h0m2 0h0m18 0h0m2 0h0m20 0h0m8 0h2m2 0h0m51 0h0m-234 2h0m19 0h0m7 0h0m6 0h0m5 0h0m8 0h0m3 0h0m4 0h0m8 0h0m2 0h0m5 0h0m2 0h0m2 0h1m4 0h1m2 0h0m3 0h1m3 0h4m2 0h3m2 0h4m4 0h2m3 0h11m3 0h0m3 0h4m2 0h0m23 0h0m4 0h0m18 0h1m3 0h0m-182 1h0m26 0h0m11 0h0m4 0h0m7 0h0m7 0h0m5 0h0m2 0h0m3 0h0m2 0h0m4 0h1m2 0h0m2 0h1m3 0h0m2 0h0m2 0h0m2 0h4m3 0h4m2 0h13m2 0h0m2 0h2m6 0h1m2 0h0m2 0h1m5 0h1m2 0h0m11 0h0m4 0h0m10 0h2m7 0h0m5 0h0m33 0h0m9 0h0m9 0h0m10 0h0m-227 2h0m8 0h0m7 0h0m6 0h0m5 0h0m4 0h0m4 0h0m10 0h0m2 0h0m3 0h0m2 0h0m3 0h0m4 0h0m2 0h1m2 0h0m3 0h0m2 0h1m2 0h2m2 0h1m2 0h9m2 0h7m2 0h10m3 0h0m4 0h1m3 0h2m3 0h0m4 0h1m2 0h0m3 0h0m6 0h0m2 0h0m5 0h0m11 0h0m31 0h0m5 0h0m2 0h0m2 0h0m7 0h2m75 0h0m-293 1h0m19 0h0m7 0h0m6 0h0m9 0h0m4 0h0m3 0h0m7 0h0m5 0h0m2 0h0m3 0h0m2 0h0m2 0h0m2 0h1m2 0h0m5 0h1m2 0h2m3 0h0m2 0h4m2 0h9m2 0h3m2 0h1m2 0h1m3 0h1m4 0h2m2 0h0m13 0h1m27 0h0m7 0h0m3 0h0m4 0h0m2 0h0m2 0h1m12 0h0m41 0h0m-229 2h0m8 0h0m13 0h0m13 0h0m10 0h0m7 0h0m3 0h0m2 0h0m2 0h0m2 0h1m2 0h0m2 0h1m2 0h1m2 0h2m2 0h3m2 0h2m2 0h12m2 0h0m2 0h8m3 0h0m2 0h1m3 0h0m5 0h1m2 0h0m4 0h1m16 0h0m17 0h0m26 0h0m3 0h0m-203 2h0m26 0h0m11 0h0m4 0h0m4 0h0m3 0h0m4 0h0m3 0h0m2 0h0m3 0h0m2 0h0m5 0h0m4 0h0m3 0h0m2 0h1m3 0h0m2 0h2m2 0h5m2 0h1m2 0h6m2 0h3m2 0h0m2 0h8m3 0h0m2 0h1m2 0h0m4 0h0m6 0h0m3 0h4m4 0h0m8 0h0m4 0h0m14 0h0m10 0h0m4 0h0m21 0h0m5 0h0m-203 2h0m8 0h0m18 0h0m4 0h0m4 0h0m12 0h0m3 0h0m2 0h0m5 0h0m2 0h0m3 0h0m2 0h0m2 0h0m3 0h1m2 0h2m2 0h0m2 0h3m2 0h0m3 0h0m2 0h3m3 0h0m2 0h3m2 0h0m5 0h0m3 0h0m2 0h0m3 0h3m8 0h0m4 0h0m3 0h0m2 0h0m4 0h0m24 0h0m18 0h0m3 0h0m5 0h0m5 0h0m-203 2h0m11 0h0m21 0h0m9 0h0m4 0h0m3 0h0m4 0h0m5 0h0m3 0h0m2 0h0m5 0h0m2 0h0m2 0h1m2 0h0m2 0h1m2 0h1m2 0h1m3 0h4m2 0h4m3 0h5m3 0h0m2 0h1m2 0h0m2 0h0m4 0h0m2 0h0m2 0h2m3 0h0m5 0h0m7 0h0m14 0h0m12 0h0m8 0h0m12 0h0m6 0h0m14 0h0m12 0h0m-217 2h0m19 0h0m7 0h0m6 0h0m5 0h0m11 0h0m4 0h0m3 0h0m5 0h0m2 0h0m5 0h0m2 0h0m2 0h1m2 0h0m2 0h1m2 0h1m2 0h2m3 0h0m2 0h2m2 0h0m2 0h11m2 0h1m2 0h5m2 0h1m2 0h2m2 0h0m7 0h2m2 0h1m3 0h0m3 0h0m6 0h0m18 0h0m7 0h0m4 0h0m6 0h0m5 0h0m4 0h0m2 0h0m6 0h0m4 0h0m41 0h0m9 0h0m-255 2h0m11 0h0m8 0h0m7 0h0m6 0h0m16 0h0m4 0h0m3 0h0m2 0h0m3 0h0m2 0h0m3 0h0m2 0h0m2 0h0m2 0h1m5 0h0m2 0h1m3 0h1m2 0h7m2 0h4m2 0h1m2 0h3m2 0h0m2 0h0m2 0h0m2 0h4m2 0h1m2 0h0m2 0h6m2 0h0m4 0h0m2 0h2m15 0h0m13 0h2m8 0h0m11 0h0m9 0h0m11 0h0m-211 3h0m11 0h0m8 0h0m22 0h0m7 0h0m4 0h0m20 0h0m4 0h1m2 0h1m3 0h1m2 0h0m3 0h0m2 0h0m2 0h1m2 0h0m2 0h1m2 0h3m2 0h3m2 0h1m2 0h4m2 0h0m2 0h0m3 0h1m7 0h0m4 0h0m2 0h0m3 0h1m13 0h1m30 0h0m10 0h0m18 0h0m-215 3h0m11 0h0m8 0h0m7 0h0m6 0h0m9 0h0m11 0h0m3 0h0m2 0h0m3 0h0m2 0h0m7 0h0m2 0h0m6 0h0m2 0h1m6 0h3m2 0h1m2 0h0m3 0h3m3 0h0m4 0h2m4 0h4m3 0h0m2 0h1m2 0h0m2 0h1m2 0h0m7 0h0m2 0h0m10 0h1m5 0h0m3 0h0m16 0h0m4 0h0m9 0h0m44 0h0m-231 3h0m45 0h0m3 0h0m7 0h0m5 0h0m2 0h0m5 0h0m2 0h0m2 0h1m2 0h0m2 0h0m4 0h0m2 0h2m2 0h0m2 0h1m4 0h1m2 0h1m3 0h0m2 0h1m2 0h0m3 0h0m2 0h1m2 0h2m2 0h0m6 0h3m3 0h0m2 0h0m3 0h0m8 0h0m6 0h0m3 0h0m2 0h0m13 0h0m18 0h1m7 0h0m10 0h0m39 0h0m-230 3h0m8 0h0m29 0h0m4 0h0m8 0h0m2 0h0m10 0h0m4 0h1m2 0h1m2 0h1m6 0h0m5 0h0m3 0h0m2 0h8m2 0h3m2 0h1m2 0h3m5 0h0m4 0h2m3 0h0m3 0h1m6 0h0m30 0h0m17 0h0m26 0h0m-217 4h0m37 0h0m4 0h0m4 0h0m3 0h0m4 0h0m3 0h0m12 0h0m2 0h0m3 0h0m2 0h0m2 0h0m4 0h0m4 0h0m2 0h0m2 0h0m2 0h1m2 0h1m2 0h0m2 0h0m2 0h1m2 0h1m5 0h3m2 0h0m2 0h1m2 0h0m5 0h1m2 0h0m2 0h1m5 0h0m12 0h0m2 0h0m2 0h1m5 0h0m29 0h0m4 0h0m46 0h0m-236 4h0m37 0h0m4 0h0m19 0h0m9 0h0m11 0h0m7 0h3m5 0h0m3 0h0m3 0h0m2 0h1m8 0h0m2 0h2m2 0h0m2 0h0m3 0h0m2 0h2m2 0h0m2 0h0m5 0h0m6 0h0m2 0h0m5 0h0m19 0h1m4 0h0m33 0h0m2 0h0m6 0h0m4 0h0m9 0h0m7 0h0m-215 5h0m13 0h0m20 0h0m13 0h0m2 0h0m2 0h0m2 0h0m9 0h0m3 0h0m3 0h0m4 0h0m2 0h0m2 0h0m7 0h2m2 0h0m2 0h0m7 0h2m2 0h0m5 0h0m3 0h1m4 0h0m4 0h0m46 0h0m23 0h0m11 0h0m14 0h0m22 0h0m-225 6h0m19 0h0m3 0h0m26 0h0m2 0h1m2 0h0m3 0h2m4 0h1m2 0h0m3 0h0m2 0h0m7 0h0m3 0h1m2 0h1m2 0h2m2 0h1m6 0h1m2 0h1m2 0h0m2 0h1m3 0h0m5 0h0m4 0h1m3 0h2m8 0h0m2 0h0m2 0h0m8 0h0m5 0h0m19 0h0m25 0h0m-187 7h0m42 0h0m3 0h0m2 0h0m7 0h1m2 0h2m2 0h0m2 0h2m3 0h0m4 0h1m3 0h1m2 0h1m2 0h2m2 0h0m4 0h1m2 0h1m2 0h2m2 0h0m2 0h0m3 0h0m2 0h1m4 0h0m7 0h0m6 0h0m27 0h0m48 0h0m-195 10h0m8 0h0m12 0h0m10 0h0m13 0h0m4 0h0m7 0h0m2 0h0m2 0h4m2 0h1m2 0h0m2 0h0m3 0h0m3 0h3m3 0h0m3 0h0m3 0h1m2 0h0m2 0h0m2 0h0m6 0h0m3 0h0m2 0h0m3 0h0m3 0h0m2 0h0m4 0h0m3 0h0m11 0h0" fill="none" stroke="#ea5f47" stroke-width="1.9" stroke-linecap="square"/>
<rect x="1221.5" y="244.6" width="2.2" height="130.9" fill="#ea5f47"/>
<rect x="1290.8" y="372.8" width="265.8" height="2.4" fill="#ea5f47"/>
<path d="M1556.6 374h13.4M1226 374h1.6M1232.6 374h1.6M1236.3 374h1.6M1242.4 374h1.6M1250 374h1.6M1256.3 374h1.6M1263.3 374h1.6M1268 374h1.6M1274.8 374h1.6M1279.7 374h1.6M1286.7 374h1.6" stroke="#ea5f47" stroke-width="2.2" fill="none"/>
<g transform="translate(1221 1.5) scale(0.9998 1.0075)">
<use href="#tpl"/>
<g>
<text x="0.6" y="20" font-size="21.4" fill="#111" textLength="26.66" lengthAdjust="spacingAndGlyphs">UL</text>
<text x="1.3" y="45.1" font-size="21.4" fill="#111" textLength="43.32" lengthAdjust="spacingAndGlyphs">0.09</text>
<text x="385.2" y="20" font-size="21.4" fill="#111" textLength="28.45" lengthAdjust="spacingAndGlyphs">UR</text>
<text x="386.3" y="45.1" font-size="21.4" fill="#111" textLength="42.97" lengthAdjust="spacingAndGlyphs">4.12</text>
<text x="0.5" y="340.7" font-size="21.4" fill="#111" textLength="23.36" lengthAdjust="spacingAndGlyphs">LL</text>
<text x="1.2" y="365.7" font-size="21.4" fill="#111" textLength="55.13" lengthAdjust="spacingAndGlyphs">87.06</text>
<text x="385.1" y="340.7" font-size="21.4" fill="#111" textLength="26.01" lengthAdjust="spacingAndGlyphs">LR</text>
<text x="385.7" y="365.7" font-size="21.4" fill="#111" textLength="43.32" lengthAdjust="spacingAndGlyphs">8.73</text>
</g></g>
<path d="M1362.8 1.5V376.5 M1221 244.6H1650.1" stroke="#0a0a0a" stroke-width="2.05" fill="none"/>
<g><text x="1328" y="453.7" font-size="29.5" fill="#111" textLength="201.00" lengthAdjust="spacingAndGlyphs">MKN45-10mg/l</text></g>
<path d="m441 641h0m-43 5h0m12 0h0m-2 1h0m32 3h0m31 0h0m7 2h0m-28 2h0m10 0h0m28 0h0m-58 1h0m69 1h0m-65 1h0m19 0h0m27 0h0m-61 1h0m57 0h0m-55 1h0m51 0h0m17 0h0m-77 2h0m12 0h0m46 0h0m-65 1h0m44 0h0m7 0h0m-30 1h0m6 0h0m8 0h0m7 0h0m18 0h0m-30 1h0m-44 1h0m18 0h0m53 0h0m-36 1h0m24 0h0m29 0h0m-73 1h0m39 0h0m6 0h0m14 0h0m-63 1h0m12 0h0m6 0h0m20 0h0m4 0h0m58 0h0m-110 1h0m10 0h0m61 0h0m50 0h0m-70 1h0m11 0h0m9 0h0m7 0h0m12 0h0m-60 1h0m10 0h0m12 0h0m16 0h0m6 0h0m11 0h0m-77 1h0m23 0h0m9 0h0m8 0h0m21 0h1m-77 1h0m37 0h0m32 0h0m8 0h0m16 0h0m11 0h0m-79 1h0m12 0h0m5 0h0m5 0h0m40 0h0m10 0h1m-70 1h0m23 0h0m8 0h0m5 0h0m20 0h0m18 0h0m18 0h0m-81 1h0m11 0h0m4 0h0m11 0h0m6 0h0m9 0h0m3 0h0m4 0h0m11 0h0m5 0h0m5 0h0m-42 1h0m3 0h0m20 0h0m5 0h0m16 0h0m5 0h0m2 0h0m-99 1h0m31 0h0m6 0h0m13 0h0m4 0h0m23 0h0m-113 1h0m86 0h0m4 0h0m3 0h0m6 0h0m3 0h0m4 0h0m14 0h0m12 0h0m19 0h0m5 0h0m-165 1h0m47 0h0m39 0h0m18 0h0m27 0h0m11 0h0m26 0h0m-97 1h0m27 0h0m36 0h0m-90 1h0m2 0h0m14 0h0m34 0h1m6 0h0m13 0h0m60 0h0m10 0h0m-152 1h0m12 0h0m4 0h0m13 0h0m23 0h0m21 0h0m3 0h0m15 0h0m2 0h0m14 0h1m2 0h0m6 0h0m4 0h0m-158 1h0m34 0h0m5 0h0m5 0h0m27 0h0m43 0h0m3 0h0m15 0h0m16 0h0m-109 1h0m10 0h0m9 0h0m8 0h0m17 0h0m22 0h0m10 0h0m5 0h0m3 0h0m-144 1h0m68 0h0m14 0h0m6 0h0m25 0h0m23 0h0m37 0h0m14 0h0m-130 1h0m19 0h0m37 0h0m3 0h0m13 0h0m4 0h1m23 0h1m2 0h1m24 0h0m-117 1h0m5 0h0m12 0h0m12 0h1m8 0h0m4 0h0m5 0h0m5 0h0m8 0h0m9 0h0m13 0h0m11 1h0m11 0h0m4 0h0m6 0h0m-109 1h0m29 0h0m11 0h0m6 0h2m17 0h0m-76 1h0m28 0h1m51 0h0m24 0h0m-228 1h0m134 0h0m5 0h0m13 0h0m48 0h0m9 0h0m-140 1h0m75 0h0m22 0h0m20 0h0m7 0h0m7 0h0m5 0h0m11 0h0m-132 1h0m64 0h0m3 0h0m14 0h0m22 0h0m4 0h0m12 0h0m14 0h0m-51 1h0m13 0h0m16 0h0m22 0h0m-165 1h0m26 0h0m13 0h0m5 0h0m40 0h0m2 0h0m3 0h0m40 0h0m19 0h0m6 0h0m10 0h0m-244 1h0m110 0h0m3 0h0m61 0h0m35 0h0m12 0h0m2 0h0m34 0h0m-123 1h0m12 0h0m41 0h0m15 0h0m7 0h0m13 0h0m7 0h0m5 0h0m-135 1h0m3 0h0m35 0h0m32 0h0m20 0h0m25 0h0m34 0h0m35 0h0m-176 1h0m41 0h0m30 0h0m10 0h0m9 0h0m4 0h0m-86 1h0m56 0h0m15 0h0m27 0h0m3 0h0m-97 1h0m52 0h0m6 0h0m19 0h0m35 0h0m-77 1h0m67 0h0m30 0h0m27 0h0m-188 1h0m5 0h0m68 0h0m62 0h0m-10 1h0m20 0h0m24 0h0m-155 1h0m12 0h0m3 0h0m6 0h0m4 0h0m76 0h0m7 0h0m62 0h0m-194 1h0m9 0h0m8 0h0m50 0h0m17 0h0m12 0h0m46 0h0m24 0h0m-155 1h0m42 0h0m17 0h0m19 0h0m93 0h0m-160 1h0m36 0h0m20 0h0m113 0h0m-226 1h0m34 0h0m13 0h0m14 0h0m3 0h0m31 0h0m146 0h0m-183 1h0m9 0h0m4 0h0m4 0h0m-80 1h0m41 0h0m3 0h0m7 0h0m54 0h0m3 0h0m3 0h1m32 0h0m2 0h0m-182 1h0m63 0h0m13 0h0m29 0h0m22 0h0m15 0h0m9 0h0m11 0h0m-142 1h0m37 0h0m13 0h1m51 0h0m-53 1h0m7 0h0m21 0h0m62 0h0m-167 1h0m77 0h0m29 0h0m6 0h0m9 0h0m8 0h0m30 0h0m6 0h0m-136 1h0m135 0h0m4 0h0m-95 1h0m5 0h0m67 0h0m2 0h0m7 0h0m12 0h0m18 0h0m-174 1h0m113 0h0m3 0h0m12 0h0m8 0h0m12 0h0m5 0h0m39 0h0m-121 1h0m8 0h0m3 0h0m7 0h0m31 0h0m12 0h0m9 0h0m4 0h0m-91 1h0m61 0h0m26 0h0m6 0h0m-160 1h0m53 0h0m8 0h0m74 0h0m35 0h0m-62 1h0m29 0h0m4 0h0m24 0h0m6 0h0m-181 1h0m116 0h0m-85 1h0m10 0h0m17 0h0m44 0h0m29 0h0m21 0h0m8 0h0m23 0h0m15 0h0m-132 1h0m3 0h0m32 0h0m9 0h0m13 0h0m13 0h0m-118 1h0m101 0h0m31 0h0m17 0h0m-65 1h0m15 0h0m6 0h0m22 0h0m7 0h0m3 0h0m18 0h0m36 0h0m-243 1h0m46 0h0m103 0h0m4 0h0m2 0h1m2 0h0m23 0h0m5 0h0m-142 1h0m55 0h0m43 0h1m5 0h0m2 0h0m22 0h0m3 0h0m9 0h0m14 0h0m33 0h0m21 0h0m-238 1h0m18 0h0m6 0h0m38 0h0m28 0h0m24 0h0m12 0h0m4 0h0m37 0h0m-139 1h0m26 0h0m5 0h0m27 0h0m17 0h0m8 0h0m25 0h0m5 0h0m15 0h0m6 0h0m6 0h0m-144 1h0m67 0h0m29 0h0m12 0h0m14 0h0m5 0h0m26 0h0m-181 1h0m67 0h0m31 0h0m18 0h0m9 0h0m3 0h0m16 0h0m9 0h0m14 0h0m-167 1h0m52 0h0m72 0h0m2 0h0m9 0h0m2 0h0m21 0h0m7 0h0m10 0h0m28 0h0m-167 1h0m13 0h0m6 0h0m28 0h0m4 0h0m37 0h0m17 0h0m8 0h0m6 0h0m35 0h0m14 0h0m-178 1h0m27 0h0m17 0h0m6 0h0m48 0h0m9 0h1m2 0h0m8 0h1m8 0h0m5 0h0m-134 1h0m15 0h0m11 0h0m12 0h0m31 0h0m19 0h0m13 0h0m22 0h0m5 0h0m7 0h0m-137 1h0m6 0h0m4 0h0m36 0h0m30 0h0m9 0h0m13 0h0m11 0h0m5 0h0m6 0h0m16 0h0m4 0h0m16 0h0m10 0h0m-169 1h0m33 0h0m6 0h0m13 0h0m21 0h0m5 0h0m12 0h0m8 0h0m11 0h0m32 0h0m11 0h0m37 0h0m-174 1h0m5 0h0m19 0h0m4 0h1m12 0h0m17 0h0m13 0h0m10 0h0m16 0h0m16 0h0m6 0h0m4 0h0m12 0h0m8 0h0m5 0h0m14 0h0m-196 1h0m109 0h0m7 0h0m8 0h0m4 0h0m28 0h0m6 0h0m3 0h0m18 0h0m2 0h0m6 0h0m-167 1h0m13 0h0m5 0h0m27 0h0m9 0h0m21 0h0m9 0h0m12 0h0m5 0h0m24 0h0m42 0h0m-184 1h0m53 0h0m4 0h0m21 0h0m6 0h0m6 0h0m16 0h0m11 0h1m5 0h0m20 0h0m4 0h0m100 0h0m-296 1h0m19 0h0m23 0h0m7 0h0m12 0h0m3 0h0m23 0h0m4 0h1m3 0h0m59 0h0m12 0h0m31 0h1m2 0h0m9 0h0m2 0h0m3 0h0m8 0h0m10 0h0m40 0h0m-253 1h0m30 0h0m29 0h0m3 0h0m2 0h1m5 0h0m3 0h0m2 0h0m10 0h0m13 0h0m8 0h0m4 0h0m23 0h1m9 0h0m2 0h0m10 0h0m4 0h0m11 0h0m20 0h1m6 0h0m10 0h0m4 0h0m49 0h0m-233 1h0m13 0h0m7 0h0m39 0h0m14 0h1m13 0h0m8 0h0m2 0h1m7 0h0m7 0h0m4 0h0m5 0h0m6 0h0m4 0h0m17 0h0m7 0h0m4 0h0m4 0h3m49 0h0m-250 1h0m68 0h0m6 0h0m2 0h0m8 0h0m26 0h0m8 0h0m30 0h0m4 0h0m11 0h0m4 0h0m3 0h0m8 0h0m3 0h0m12 0h0m7 0h0m16 0h1m7 0h0m24 0h0m-259 1h0m42 0h0m22 0h0m6 0h0m6 0h0m7 0h0m5 0h0m11 0h1m3 0h0m10 0h1m8 0h0m15 0h0m15 0h0m18 0h0m4 0h0m2 0h0m11 0h0m12 0h1m2 0h0m4 0h0m7 0h0m6 0h0m9 0h0m6 0h0m56 0h0m-271 1h0m23 0h0m4 0h0m24 0h0m4 0h0m2 0h0m5 0h0m2 0h0m4 0h0m5 0h0m5 0h0m3 0h0m2 0h0m2 0h0m5 0h0m4 0h0m11 0h1m17 0h0m8 0h0m4 0h0m2 0h0m9 0h0m16 0h0m2 0h0m4 0h0m2 0h1m2 0h0m2 0h1m5 0h2m7 0h0m50 0h0m-259 1h0m32 0h0m24 0h0m3 0h0m15 0h0m7 0h0m2 0h0m10 0h0m3 0h0m4 0h0m11 0h3m9 0h0m25 0h0m2 0h0m2 0h0m9 0h0m7 0h0m16 0h1m19 0h0m24 0h2m29 0h0m-233 1h0m16 0h0m30 0h0m4 0h0m2 0h0m3 0h0m6 0h0m6 0h0m11 0h0m3 0h0m2 0h0m2 0h0m10 0h1m14 0h0m14 0h0m2 0h0m4 0h0m5 0h0m15 0h1m4 0h1m19 0h0m8 0h0m28 0h0m5 0h0m13 0h0m-223 1h0m27 0h0m5 0h0m12 0h0m5 0h0m2 0h0m12 0h0m6 0h0m7 0h0m3 0h1m9 0h0m4 0h0m4 0h0m27 0h0m3 0h0m3 0h0m3 0h0m5 0h0m20 0h0m11 0h0m2 0h0m9 0h0m12 0h0m18 0h0m44 0h0m-218 1h0m13 0h0m2 0h0m4 0h0m4 0h2m9 0h0m2 0h0m2 0h0m5 0h0m3 0h0m7 0h0m3 0h0m20 0h1m4 0h0m2 0h0m4 0h0m12 0h0m2 0h0m21 0h0m4 0h1m16 0h0m3 0h0m27 0h0m82 0h0m-297 1h0m27 0h0m3 0h0m3 0h0m28 0h0m2 0h0m3 0h1m3 0h0m2 0h0m2 0h0m4 0h0m2 0h0m7 0h0m11 0h0m39 0h1m6 0h1m6 0h0m6 0h0m2 0h1m5 0h0m4 0h0m2 0h0m4 0h0m12 0h0m3 0h0m12 0h0m10 0h0m-219 1h0m7 0h0m20 0h0m22 0h0m2 0h0m6 0h0m3 0h0m2 0h0m2 0h0m5 0h1m5 0h0m7 0h1m2 0h1m7 0h0m5 0h0m3 0h2m7 0h0m2 0h0m13 0h0m8 0h0m11 0h0m5 0h1m10 0h0m9 0h1m2 0h1m5 0h0m2 0h0m2 0h0m6 0h0m7 0h1m16 0h0m29 0h0m-249 1h0m26 0h0m16 0h0m13 0h0m12 0h1m4 0h0m5 0h1m7 0h0m3 0h1m2 0h0m2 0h0m3 0h1m3 0h0m4 0h0m3 0h0m7 0h1m2 0h0m5 0h0m12 0h0m7 0h0m11 0h0m6 0h1m4 0h0m3 0h0m4 0h0m7 0h0m22 0h1m27 0h0m3 0h0m-195 1h0m18 0h0m2 0h0m4 0h0m2 0h0m4 0h0m5 0h0m3 0h0m5 0h0m5 0h0m3 0h1m2 0h0m4 0h0m10 0h0m9 0h0m3 0h0m19 0h0m9 0h0m10 0h0m2 0h0m15 0h0m16 0h1m2 0h0m13 0h0m5 0h1m11 0h0m5 0h0m-209 1h0m16 0h0m7 0h0m4 0h0m8 0h0m7 0h0m11 0h0m4 0h0m2 0h0m4 0h0m3 0h0m2 0h1m4 0h0m2 0h3m2 0h0m2 0h2m3 0h0m3 0h0m3 0h0m2 0h0m2 0h0m6 0h0m9 0h0m20 0h0m10 0h3m7 0h0m3 0h0m11 0h0m2 0h1m4 0h0m2 0h0m22 0h1m3 0h0m15 0h0m4 0h0m-246 1h0m11 0h0m8 0h0m13 0h0m5 0h0m24 0h0m11 0h0m6 0h0m3 0h0m2 0h2m2 0h1m6 0h1m3 0h0m3 0h1m3 0h0m7 0h1m3 0h0m6 0h1m7 0h1m4 0h0m8 0h0m2 0h0m3 0h0m5 0h2m4 0h1m12 0h0m26 0h1m4 0h0m4 0h0m8 0h0m2 0h1m4 0h0m11 0h0m13 0h0m4 0h0m-239 1h0m21 0h0m24 0h0m5 0h0m3 0h0m4 0h0m2 0h0m4 0h0m5 0h0m4 0h0m2 0h0m4 0h0m2 0h0m4 0h0m2 0h0m4 0h0m3 0h0m3 0h0m6 0h2m4 0h0m5 0h0m18 0h0m17 0h0m4 0h0m3 0h1m6 0h0m7 0h0m9 0h0m5 0h2m4 0h0m3 0h0m8 0h1m11 0h1m15 0h0m-228 1h0m8 0h0m23 0h0m17 0h0m2 0h0m3 0h0m8 0h0m2 0h0m4 0h1m2 0h0m3 0h0m3 0h1m3 0h0m2 0h2m2 0h1m3 0h5m2 0h1m2 0h0m6 0h0m2 0h0m20 0h1m27 0h2m5 0h0m3 0h1m2 0h0m11 0h0m3 0h0m16 0h0m70 0h0m-280 1h0m26 0h0m11 0h0m5 0h0m4 0h0m7 0h0m6 0h0m7 0h0m2 0h0m2 0h0m4 0h0m2 0h0m2 0h1m2 0h0m2 0h2m2 0h0m2 0h0m2 0h0m3 0h1m2 0h3m2 0h3m2 0h1m2 0h3m2 0h1m5 0h0m2 0h1m2 0h0m4 0h1m3 0h0m3 0h0m8 0h3m2 0h0m3 0h0m10 0h1m5 0h0m4 0h0m2 0h0m4 0h4m4 0h1m2 0h0m5 0h0m6 0h1m2 0h0m2 0h0m3 0h0m2 0h0m3 0h0m4 0h0m2 0h0m2 0h0m7 0h0m4 0h0m4 0h0m-181 1h0m8 0h0m4 0h0m2 0h0m4 0h0m5 0h0m2 0h0m2 0h2m2 0h1m5 0h1m2 0h0m7 0h0m3 0h2m3 0h0m2 0h0m2 0h0m4 0h1m9 0h1m6 0h0m2 0h0m5 0h1m13 0h0m7 0h0m9 0h1m10 0h0m8 0h0m3 0h0m9 0h0m4 0h1m3 0h0m43 0h0m4 0h0m-233 1h0m6 0h0m27 0h0m11 0h0m2 0h0m2 0h0m4 0h1m4 0h0m2 0h0m2 0h1m3 0h0m2 0h1m2 0h8m4 0h0m9 0h0m2 0h0m3 0h0m9 0h0m13 0h0m5 0h0m7 0h0m8 0h0m3 0h0m2 0h1m2 0h2m9 0h0m4 0h0m6 0h0m4 0h0m6 0h0m3 0h1m7 0h0m2 0h1m4 0h2m3 0h0m8 0h0m11 0h0m11 0h0m-245 1h0m8 0h0m13 0h0m29 0h0m3 0h0m2 0h0m2 0h0m6 0h0m9 0h1m3 0h2m2 0h1m2 0h2m2 0h0m2 0h3m5 0h0m2 0h4m3 0h0m2 0h0m2 0h2m2 0h1m2 0h0m5 0h0m3 0h0m18 0h1m13 0h1m4 0h0m6 0h0m5 0h0m9 0h2m4 0h3m4 0h0m3 0h1m2 0h0m7 0h0m2 0h0m6 0h0m10 0h0m19 0h0m-245 1h0m15 0h0m6 0h0m21 0h0m17 0h0m2 0h0m2 0h0m2 0h0m7 0h2m2 0h2m2 0h2m2 0h0m3 0h2m2 0h4m2 0h0m2 0h3m2 0h0m2 0h1m4 0h3m2 0h0m2 0h0m7 0h0m10 0h1m7 0h0m2 0h0m8 0h0m3 0h0m12 0h0m12 0h0m12 0h0m2 0h1m2 0h0m8 0h0m3 0h0m6 0h1m-226 1h0m11 0h0m31 0h0m4 0h0m3 0h0m4 0h0m11 0h0m4 0h0m2 0h0m2 0h0m2 0h0m4 0h1m2 0h0m3 0h1m2 0h2m3 0h0m4 0h2m3 0h0m3 0h2m2 0h1m2 0h0m5 0h3m3 0h1m2 0h1m4 0h0m11 0h0m2 0h0m9 0h0m6 0h0m5 0h1m2 0h0m8 0h0m5 0h1m2 0h0m2 0h0m3 0h0m12 0h1m4 0h0m6 0h0m3 0h0m8 0h0m7 0h0m8 0h0m-236 1h0m11 0h0m8 0h0m30 0h0m7 0h0m3 0h0m7 0h0m2 0h0m4 0h0m4 0h0m2 0h1m2 0h0m2 0h2m2 0h2m3 0h3m3 0h3m2 0h3m2 0h1m2 0h0m2 0h0m2 0h0m4 0h2m5 0h0m3 0h0m14 0h0m12 0h1m2 0h0m5 0h0m8 0h0m4 0h0m3 0h0m6 0h0m16 0h1m2 0h0m4 0h1m2 0h0m2 0h0m2 0h0m7 0h0m17 0h0m-212 1h0m27 0h0m13 0h0m2 0h0m2 0h0m4 0h0m2 0h0m2 0h1m2 0h0m2 0h2m2 0h2m3 0h0m2 0h3m3 0h9m2 0h4m2 0h1m2 0h0m4 0h0m4 0h0m11 0h0m8 0h0m3 0h0m4 0h0m3 0h0m7 0h0m5 0h3m3 0h0m3 0h0m3 0h4m6 0h1m3 0h0m2 0h0m8 0h1m8 0h0m2 0h0m4 0h0m2 0h1m6 0h0m11 0h1m-222 1h0m18 0h0m5 0h0m7 0h0m7 0h0m3 0h0m11 0h0m2 0h0m2 0h0m4 0h0m6 0h0m4 0h0m4 0h6m3 0h0m2 0h0m2 0h2m6 0h1m7 0h0m4 0h0m2 0h0m28 0h1m3 0h0m2 0h1m8 0h0m5 0h0m8 0h0m3 0h0m6 0h2m40 0h0m-234 1h0m19 0h0m7 0h0m11 0h0m9 0h0m7 0h0m6 0h0m2 0h0m7 0h0m2 0h0m4 0h0m2 0h0m2 0h1m2 0h0m2 0h0m2 0h0m2 0h1m3 0h6m2 0h0m2 0h8m3 0h1m3 0h2m2 0h0m3 0h0m2 0h0m6 0h4m4 0h0m25 0h1m4 0h0m2 0h0m2 0h0m3 0h0m2 0h3m3 0h4m2 0h0m2 0h0m2 0h0m3 0h0m2 0h0m4 0h0m4 0h0m2 0h0m4 0h0m2 0h0m5 0h0m4 0h1m5 0h0m18 0h2m-250 1h0m26 0h0m11 0h0m5 0h0m7 0h0m10 0h0m2 0h0m3 0h0m4 0h0m2 0h0m2 0h0m2 0h0m2 0h0m2 0h0m3 0h0m2 0h0m4 0h2m2 0h4m2 0h25m8 0h0m7 0h1m9 0h0m3 0h0m3 0h1m2 0h0m2 0h0m5 0h2m4 0h0m4 0h0m4 0h1m4 0h0m2 0h0m2 0h0m3 0h0m7 0h0m4 0h0m3 0h1m19 0h0m10 0h0m7 0h0m-221 1h0m7 0h0m16 0h0m4 0h0m3 0h0m4 0h0m11 0h0m8 0h0m2 0h0m2 0h0m2 0h0m3 0h0m2 0h1m4 0h1m4 0h1m2 0h0m2 0h0m2 0h1m2 0h1m2 0h0m5 0h2m2 0h0m2 0h1m9 0h0m5 0h0m2 0h0m5 0h0m10 0h0m5 0h0m10 0h0m3 0h0m3 0h0m12 0h0m6 0h0m16 0h0m2 0h0m7 0h0m2 0h1m2 0h0m8 0h0m-226 1h0m11 0h0m8 0h0m13 0h0m10 0h0m4 0h0m3 0h0m4 0h0m3 0h0m5 0h0m3 0h0m2 0h0m2 0h0m2 0h0m2 0h0m2 0h0m2 0h0m2 0h1m2 0h0m2 0h2m2 0h2m2 0h5m3 0h3m2 0h2m2 0h4m3 0h0m2 0h2m2 0h0m4 0h6m3 0h0m3 0h0m6 0h0m2 0h0m6 0h0m8 0h0m5 0h2m5 0h0m6 0h1m2 0h0m4 0h1m3 0h0m3 0h0m3 0h1m2 0h0m2 0h1m2 0h0m8 0h0m8 0h0m12 0h0m7 0h0m12 0h0m-249 1h0m26 0h0m16 0h0m4 0h0m7 0h0m6 0h0m2 0h0m5 0h0m2 0h0m2 0h0m4 0h0m2 0h0m2 0h1m4 0h2m2 0h1m3 0h2m3 0h0m2 0h3m3 0h4m3 0h0m4 0h0m2 0h1m3 0h1m2 0h0m5 0h0m3 0h0m9 0h0m2 0h1m7 0h0m7 0h0m3 0h0m7 0h0m11 0h0m4 0h1m3 0h1m4 0h0m5 0h0m17 0h1m5 0h0m-220 1h0m11 0h0m8 0h0m7 0h0m16 0h0m7 0h0m4 0h0m3 0h0m3 0h0m2 0h0m5 0h0m2 0h0m2 0h0m2 0h0m2 0h0m4 0h1m2 0h0m2 0h2m2 0h0m2 0h0m3 0h7m2 0h12m2 0h4m2 0h3m3 0h0m3 0h0m2 0h0m4 0h1m2 0h0m7 0h1m13 0h0m4 0h0m3 0h0m2 0h0m4 0h0m8 0h1m3 0h0m2 0h1m8 0h1m6 0h0m4 0h1m6 0h0m2 0h1m5 0h0m7 0h1m3 0h0m7 0h0m-240 1h0m46 0h0m7 0h0m3 0h0m8 0h0m4 0h0m2 0h0m2 0h0m2 0h0m5 0h0m2 0h0m2 0h1m3 0h0m2 0h0m2 0h2m2 0h2m5 0h3m3 0h0m6 0h1m2 0h0m2 0h3m12 0h1m13 0h0m7 0h0m3 0h0m4 0h0m2 0h0m5 0h0m9 0h0m28 0h0m5 0h0m7 0h0m19 0h0m4 0h0m46 0h0m-287 1h0m11 0h0m31 0h0m4 0h0m3 0h0m4 0h0m3 0h0m3 0h0m5 0h0m2 0h0m2 0h0m2 0h0m2 0h0m2 0h0m2 0h0m2 0h1m2 0h0m2 0h2m2 0h2m2 0h13m2 0h9m2 0h1m2 0h1m2 0h2m2 0h0m2 0h2m7 0h1m20 0h0m3 0h0m2 0h0m3 0h0m4 0h2m2 0h0m2 0h0m2 0h0m2 0h1m15 0h0m3 0h0m3 0h1m17 0h1m16 0h0m2 0h0m2 0h0m-242 1h0m32 0h0m14 0h0m3 0h0m7 0h0m3 0h0m9 0h0m2 0h0m2 0h0m2 0h0m4 0h1m2 0h0m2 0h2m3 0h1m2 0h11m3 0h0m2 0h0m2 0h0m2 0h0m3 0h1m2 0h0m2 0h0m8 0h0m2 0h0m3 0h0m3 0h0m8 0h0m8 0h0m9 0h0m8 0h0m9 0h0m3 0h1m8 0h0m3 0h1m4 0h0m4 0h0m9 0h0m2 0h0m5 0h0m6 0h0m3 0h0m22 0h0m-248 1h0m26 0h0m6 0h0m5 0h0m9 0h0m3 0h0m4 0h0m3 0h0m3 0h0m2 0h0m3 0h0m2 0h0m2 0h0m2 0h0m4 0h0m2 0h0m5 0h0m2 0h0m2 0h0m3 0h0m3 0h1m2 0h3m2 0h2m2 0h1m2 0h0m2 0h0m3 0h2m2 0h0m2 0h1m3 0h0m3 0h0m11 0h0m3 0h0m8 0h0m12 0h0m3 0h0m5 0h0m10 0h0m2 0h2m5 0h0m5 0h0m7 0h0m6 0h0m4 0h0m2 0h0m13 0h2m10 0h0m9 0h0m-243 1h0m26 0h0m11 0h0m9 0h0m13 0h0m2 0h0m3 0h0m4 0h0m2 0h0m2 0h0m4 0h0m2 0h0m3 0h0m2 0h0m2 0h0m2 0h2m2 0h0m2 0h0m2 0h0m2 0h1m2 0h4m2 0h0m2 0h0m2 0h1m2 0h1m2 0h3m2 0h1m2 0h0m7 0h1m2 0h0m7 0h0m8 0h0m15 0h0m2 0h0m3 0h2m5 0h0m3 0h1m11 0h1m6 0h0m10 0h0m15 0h1m11 0h0m5 0h0m-240 1h0m11 0h0m15 0h0m6 0h0m14 0h0m3 0h0m4 0h0m3 0h0m5 0h0m5 0h0m2 0h0m2 0h0m2 0h0m2 0h0m2 0h0m2 0h1m2 0h0m2 0h2m2 0h2m2 0h17m2 0h3m2 0h2m2 0h0m2 0h5m3 0h0m2 0h3m6 0h1m5 0h0m3 0h1m3 0h2m4 0h0m2 0h0m3 0h0m2 0h0m3 0h0m3 0h0m3 0h4m2 0h0m3 0h0m4 0h0m2 0h0m3 0h1m3 0h0m4 0h3m3 0h0m2 0h0m2 0h1m7 0h1m17 0h0m2 0h0m18 0h0m3 0h0m17 0h0m-277 1h0m32 0h0m10 0h0m17 0h0m2 0h0m3 0h0m2 0h0m2 0h0m4 0h0m4 0h0m2 0h1m2 0h0m2 0h0m2 0h0m2 0h0m2 0h0m2 0h3m3 0h8m2 0h1m2 0h6m2 0h0m2 0h0m2 0h2m2 0h1m3 0h1m3 0h1m2 0h1m4 0h0m4 0h0m8 0h0m2 0h0m4 0h0m11 0h0m2 0h0m9 0h1m10 0h0m16 0h0m7 0h0m4 0h0m27 0h0m7 0h0m25 0h0m-268 1h0m8 0h0m7 0h0m6 0h0m10 0h0m4 0h0m3 0h0m4 0h0m3 0h0m5 0h0m7 0h0m2 0h0m2 0h0m2 0h0m2 0h0m2 0h1m4 0h2m2 0h2m2 0h0m3 0h11m2 0h0m2 0h0m2 0h9m5 0h0m2 0h2m6 0h0m8 0h0m5 0h0m3 0h0m3 0h0m15 0h0m5 0h0m4 0h0m5 0h0m2 0h0m6 0h1m-192 1h0m11 0h0m8 0h0m30 0h0m4 0h0m3 0h0m3 0h0m2 0h0m3 0h0m2 0h0m2 0h0m2 0h0m4 0h0m2 0h0m2 0h1m2 0h0m2 0h2m2 0h2m2 0h1m2 0h4m4 0h8m2 0h4m2 0h1m2 0h1m2 0h1m2 0h1m28 0h0m6 0h0m7 0h0m7 0h0m2 0h0m3 0h0m13 0h0m4 0h0m12 0h0m11 0h0m12 0h0m-233 1h0m11 0h0m8 0h0m27 0h0m3 0h0m7 0h0m3 0h0m2 0h0m5 0h0m2 0h0m4 0h0m2 0h0m2 0h0m2 0h1m2 0h0m2 0h2m2 0h2m3 0h16m2 0h13m5 0h0m2 0h0m4 0h1m3 0h0m4 0h0m15 0h0m3 0h0m5 0h1m4 0h0m4 0h0m4 0h0m6 0h0m9 0h0m5 0h1m6 0h0m5 0h0m2 0h1m5 0h0m22 0h0m35 0h0m-275 1h0m11 0h0m8 0h0m7 0h0m20 0h0m3 0h0m4 0h0m3 0h0m3 0h0m2 0h0m5 0h0m2 0h0m2 0h0m2 0h0m2 0h0m2 0h0m2 0h1m4 0h2m2 0h2m2 0h6m2 0h10m3 0h4m2 0h1m2 0h3m2 0h0m2 0h0m3 0h1m2 0h1m5 0h0m5 0h1m3 0h0m2 0h0m3 0h0m7 0h1m6 0h0m3 0h0m21 0h0m2 0h1m8 0h1m3 0h0m3 0h0m3 0h0m12 0h0m3 0h0m7 0h0m19 0h0m11 0h0m-265 1h0m11 0h0m15 0h0m11 0h0m5 0h0m4 0h0m7 0h0m3 0h0m3 0h0m2 0h0m3 0h0m2 0h0m2 0h0m4 0h0m2 0h0m2 0h0m2 0h1m2 0h0m2 0h2m2 0h2m2 0h7m3 0h10m2 0h1m3 0h0m2 0h2m3 0h1m2 0h0m2 0h0m3 0h0m3 0h4m2 0h1m6 0h0m14 0h0m2 0h1m5 0h0m2 0h0m8 0h0m2 0h0m5 0h0m3 0h0m6 0h0m28 0h0m8 0h1m28 0h0m-250 1h0m8 0h0m34 0h0m6 0h0m2 0h0m3 0h0m4 0h0m4 0h0m2 0h0m2 0h0m2 0h1m2 0h0m2 0h2m2 0h2m2 0h14m2 0h0m2 0h10m4 0h0m6 0h0m4 0h2m12 0h0m2 0h1m4 0h0m3 0h0m2 0h0m3 0h0m2 0h0m4 0h1m4 0h1m2 0h0m3 0h1m4 0h1m2 0h0m8 0h0m11 0h0m10 0h1m5 0h0m32 0h0m12 0h0m-255 1h0m8 0h0m7 0h0m6 0h0m21 0h0m3 0h0m3 0h0m2 0h0m3 0h0m2 0h0m2 0h0m2 0h0m4 0h0m2 0h0m2 0h1m2 0h0m2 0h2m2 0h0m4 0h7m2 0h4m2 0h1m2 0h2m2 0h0m2 0h0m2 0h5m3 0h0m4 0h0m3 0h0m4 0h0m9 0h0m26 0h2m7 0h0m4 0h0m2 0h0m6 0h2m10 0h0m2 0h0m4 0h0m17 0h0m12 0h0m9 0h0m-248 1h0m11 0h0m8 0h0m23 0h0m4 0h0m7 0h0m8 0h0m3 0h0m2 0h0m2 0h0m2 0h0m2 0h0m2 0h0m2 0h0m2 0h1m2 0h0m2 0h2m2 0h2m2 0h5m2 0h0m2 0h4m3 0h3m2 0h1m4 0h2m3 0h0m4 0h0m2 0h0m2 0h0m2 0h0m2 0h1m2 0h0m3 0h0m3 0h0m7 0h0m18 0h0m10 0h0m14 0h0m3 0h0m6 0h0m4 0h0m11 0h0m7 0h0m22 0h0m10 0h0m14 0h0m-269 1h0m11 0h0m21 0h0m10 0h0m4 0h0m3 0h0m4 0h0m3 0h0m3 0h0m5 0h0m4 0h0m2 0h0m2 0h0m2 0h0m2 0h0m2 0h1m2 0h0m2 0h0m2 0h0m2 0h2m2 0h15m2 0h4m2 0h0m3 0h5m2 0h0m2 0h1m4 0h1m9 0h0m3 0h0m4 0h0m5 0h1m6 0h0m4 0h1m11 0h0m2 0h0m3 0h0m6 0h0m2 0h0m4 0h0m2 0h1m14 0h0m2 0h0m6 0h0m2 0h0m22 0h0m6 0h0m-248 1h0m11 0h0m8 0h0m7 0h0m16 0h0m7 0h0m4 0h0m3 0h0m3 0h0m2 0h0m5 0h0m2 0h0m2 0h0m2 0h0m2 0h0m2 0h0m2 0h1m2 0h0m2 0h1m3 0h2m2 0h8m2 0h0m2 0h17m2 0h0m2 0h2m2 0h0m2 0h0m4 0h1m8 0h0m11 0h0m5 0h0m6 0h0m2 0h0m3 0h0m10 0h1m4 0h0m5 0h0m8 0h0m6 0h0m21 0h0m15 0h0m19 0h0m-259 2h0m11 0h0m8 0h0m13 0h0m5 0h0m5 0h0m4 0h0m3 0h0m7 0h0m3 0h0m5 0h0m2 0h0m2 0h0m4 0h0m2 0h0m2 0h0m2 0h0m3 0h0m2 0h1m3 0h2m2 0h17m3 0h3m2 0h1m2 0h1m3 0h1m2 0h1m4 0h0m3 0h3m2 0h0m3 0h0m18 0h0m3 0h0m8 0h0m16 0h0m3 0h0m34 0h0m8 0h0m-232 1h0m11 0h0m8 0h0m7 0h0m11 0h0m9 0h0m3 0h0m4 0h0m3 0h0m3 0h0m2 0h0m3 0h0m2 0h0m2 0h0m2 0h0m2 0h0m2 0h0m2 0h0m2 0h1m2 0h0m2 0h2m2 0h2m2 0h5m2 0h15m2 0h0m3 0h0m4 0h3m2 0h0m2 0h0m2 0h0m3 0h0m2 0h0m6 0h2m3 0h2m20 0h0m4 0h0m15 0h0m17 0h0m7 0h0m23 0h0m-235 1h0m26 0h0m6 0h0m5 0h0m9 0h0m3 0h0m4 0h0m3 0h0m3 0h0m2 0h0m3 0h0m2 0h0m2 0h0m2 0h0m2 0h0m2 0h0m2 0h0m2 0h1m2 0h0m2 0h2m2 0h1m3 0h28m2 0h1m3 0h1m2 0h0m2 0h0m2 0h0m2 0h0m4 0h1m4 0h0m2 0h0m13 0h0m4 0h0m8 0h1m3 0h0m6 0h0m5 0h2m8 0h2m9 0h0m8 0h0m4 0h0m2 0h0m-220 2h0m11 0h0m26 0h0m5 0h0m4 0h0m3 0h0m4 0h0m6 0h0m5 0h0m4 0h0m2 0h0m4 0h0m2 0h0m2 0h1m2 0h0m2 0h0m2 0h0m2 0h1m3 0h5m2 0h4m2 0h9m2 0h0m3 0h3m10 0h1m7 0h0m20 0h0m3 0h0m5 0h0m3 0h0m2 0h0m8 0h0m6 0h0m5 0h0m3 0h0m9 0h0m11 0h1m3 0h0m5 0h0m5 0h0m10 0h0m-238 1h0m11 0h0m8 0h0m7 0h0m16 0h0m4 0h0m7 0h0m3 0h0m5 0h0m3 0h0m2 0h0m2 0h0m2 0h0m2 0h0m2 0h0m2 0h0m2 0h1m4 0h2m2 0h2m2 0h8m2 0h3m2 0h3m2 0h5m3 0h2m2 0h1m2 0h0m4 0h1m2 0h0m2 0h0m2 0h1m5 0h0m10 0h0m3 0h0m19 0h0m18 0h0m2 0h1m3 0h1m11 0h0m10 0h0m4 0h0m5 0h0m3 0h0m-233 2h0m32 0h0m5 0h0m9 0h0m3 0h0m4 0h0m3 0h0m3 0h0m2 0h0m7 0h0m2 0h0m4 0h0m2 0h0m2 0h1m2 0h0m2 0h2m2 0h2m2 0h2m3 0h5m2 0h1m2 0h0m2 0h1m2 0h8m2 0h0m3 0h1m2 0h0m2 0h0m4 0h0m13 0h0m2 0h0m3 0h0m2 0h1m5 0h0m17 0h1m2 0h0m5 0h1m2 0h0m9 0h0m2 0h0m6 0h0m2 0h0m7 0h0m3 0h0m17 0h0m2 0h0m22 0h0m-257 1h0m11 0h0m8 0h0m7 0h0m11 0h0m5 0h0m4 0h0m3 0h0m4 0h0m3 0h0m3 0h0m5 0h0m2 0h0m2 0h0m2 0h0m2 0h0m2 0h0m2 0h0m2 0h1m2 0h0m2 0h2m2 0h1m3 0h5m2 0h0m2 0h0m2 0h10m2 0h2m2 0h4m4 0h0m5 0h1m2 0h2m3 0h0m2 0h0m2 0h0m10 0h3m7 0h0m2 0h0m9 0h1m12 0h0m10 0h0m4 0h1m6 0h0m4 0h0m7 0h1m4 0h0m15 0h0m-228 2h0m15 0h0m6 0h0m5 0h0m5 0h0m4 0h0m3 0h0m7 0h0m5 0h0m5 0h0m2 0h0m2 0h0m2 0h0m2 0h0m2 0h0m3 0h0m2 0h0m2 0h0m2 0h0m2 0h2m2 0h0m2 0h12m2 0h6m3 0h1m5 0h2m3 0h0m2 0h0m2 0h0m2 0h0m2 0h0m3 0h0m2 0h1m3 0h0m9 0h0m5 0h0m8 0h1m2 0h0m4 0h0m12 0h1m6 0h1m8 0h0m4 0h0m3 0h0m13 0h0m88 0h0m-309 2h0m19 0h0m7 0h0m6 0h0m10 0h0m4 0h0m7 0h0m3 0h0m5 0h0m3 0h0m2 0h0m4 0h0m2 0h0m2 0h0m2 0h0m3 0h0m2 0h0m2 0h2m2 0h0m2 0h0m2 0h4m2 0h20m2 0h0m2 0h0m2 0h0m2 0h1m2 0h2m4 0h0m5 0h0m3 0h0m2 0h0m7 0h0m3 0h0m5 0h0m7 0h0m2 0h0m5 0h0m4 0h1m2 0h1m2 0h0m3 0h2m4 0h1m3 0h0m4 0h0m3 0h0m9 0h0m20 0h0m5 0h0m6 0h0m-243 2h0m11 0h0m8 0h0m23 0h0m7 0h0m4 0h0m3 0h0m8 0h0m2 0h0m2 0h0m2 0h0m2 0h0m2 0h0m2 0h0m2 0h1m2 0h0m2 0h2m2 0h0m2 0h0m2 0h10m2 0h2m2 0h3m2 0h3m2 0h2m4 0h0m5 0h0m3 0h0m2 0h0m2 0h0m3 0h0m4 0h0m3 0h0m4 0h0m7 0h0m3 0h0m14 0h0m4 0h0m8 0h0m8 0h3m25 0h0m15 0h0m7 0h0m17 0h0m-260 2h0m11 0h0m8 0h0m7 0h0m6 0h0m5 0h0m5 0h0m4 0h0m3 0h0m4 0h0m8 0h0m3 0h0m4 0h0m2 0h0m4 0h0m2 0h0m2 0h1m2 0h0m2 0h2m2 0h2m2 0h4m2 0h1m2 0h2m2 0h9m3 0h2m3 0h5m7 0h1m2 0h0m3 0h0m5 0h0m2 0h0m8 0h0m4 0h0m7 0h0m2 0h0m4 0h0m7 0h0m5 0h0m6 0h0m3 0h0m14 0h0m21 0h0m12 0h1m-240 2h0m19 0h0m7 0h0m6 0h0m14 0h0m7 0h0m3 0h0m5 0h0m5 0h0m2 0h0m2 0h0m2 0h0m2 0h0m2 0h0m2 0h1m2 0h0m2 0h2m3 0h0m4 0h0m2 0h4m2 0h5m2 0h1m2 0h0m2 0h1m2 0h5m2 0h0m2 0h3m6 0h0m2 0h0m7 0h0m4 0h0m2 0h0m12 0h0m2 0h0m18 0h0m24 0h0m5 0h1m33 0h0m-243 2h0m19 0h0m7 0h0m6 0h0m10 0h0m4 0h0m3 0h0m7 0h0m5 0h0m3 0h0m4 0h0m2 0h0m2 0h0m2 0h0m2 0h0m2 0h1m2 0h0m2 0h2m2 0h1m3 0h8m2 0h5m2 0h5m2 0h9m3 0h4m3 0h1m2 0h1m3 0h0m4 0h0m4 0h0m5 0h0m10 0h1m7 0h0m16 0h0m13 0h0m15 0h1m32 0h0m-238 3h0m15 0h0m6 0h0m17 0h0m12 0h0m3 0h0m4 0h0m4 0h0m2 0h0m2 0h0m2 0h1m2 0h0m2 0h2m2 0h0m2 0h0m2 0h1m5 0h3m2 0h7m2 0h2m2 0h0m2 0h2m2 0h3m8 0h0m2 0h0m4 0h0m5 0h0m11 0h0m4 0h0m18 0h0m7 0h1m10 0h0m2 0h0m5 0h0m6 0h0m-207 2h0m32 0h0m5 0h0m19 0h0m5 0h0m3 0h0m2 0h0m2 0h0m2 0h0m2 0h0m2 0h0m2 0h0m2 0h1m2 0h0m2 0h2m2 0h2m2 0h1m2 0h0m2 0h0m3 0h3m2 0h11m3 0h1m4 0h0m6 0h1m3 0h1m4 0h0m3 0h1m4 0h0m12 0h1m3 0h0m9 0h1m8 0h0m-180 3h0m11 0h0m8 0h0m13 0h0m17 0h0m7 0h0m3 0h0m5 0h0m2 0h0m4 0h0m4 0h0m2 0h0m2 0h1m2 0h0m2 0h2m2 0h2m2 0h0m2 0h2m2 0h1m2 0h1m2 0h6m2 0h0m3 0h1m6 0h1m4 0h0m2 0h2m2 0h0m5 0h2m2 0h0m2 0h0m2 0h0m7 0h0m6 0h0m6 0h1m6 0h0m4 0h3m72 0h0m-250 4h0m11 0h0m15 0h0m11 0h0m9 0h0m3 0h0m4 0h0m3 0h0m3 0h0m5 0h0m2 0h0m2 0h0m4 0h0m2 0h0m4 0h1m2 0h0m2 0h0m5 0h1m2 0h1m3 0h4m3 0h0m2 0h0m3 0h2m2 0h0m2 0h0m2 0h0m2 0h1m5 0h0m3 0h0m2 0h0m3 0h1m4 0h0m3 0h2m6 0h0m11 0h1m7 0h0m7 0h0m4 0h0m3 0h0m5 0h0m2 0h0m3 0h0m30 0h0m47 0h0m-256 3h0m8 0h0m7 0h0m6 0h0m5 0h0m5 0h0m4 0h0m10 0h0m5 0h0m3 0h0m2 0h0m4 0h0m2 0h0m2 0h0m5 0h0m4 0h0m2 0h0m2 0h2m2 0h2m4 0h2m2 0h0m6 0h0m3 0h2m2 0h5m2 0h3m2 0h4m3 0h0m2 0h0m2 0h0m5 0h1m3 0h0m2 0h0m5 0h0m10 0h0m4 0h1m2 0h1m8 0h0m2 0h0m6 0h0m34 0h0m12 0h0m-222 5h0m8 0h0m27 0h0m3 0h0m4 0h0m6 0h0m5 0h0m4 0h0m8 0h0m2 0h1m5 0h1m2 0h1m4 0h0m4 0h1m3 0h2m2 0h0m3 0h0m6 0h0m6 0h1m7 0h0m2 0h1m8 0h1m10 0h0m2 0h0m7 0h0m23 0h0m5 0h0m3 0h0m13 0h0m14 0h0m3 0h0m31 0h0m-231 4h0m13 0h0m14 0h0m10 0h0m5 0h0m5 0h0m4 0h0m2 0h0m2 0h0m4 0h0m3 0h0m2 0h2m3 0h0m4 0h2m3 0h1m3 0h2m2 0h0m2 0h1m2 0h3m3 0h3m2 0h1m2 0h0m3 0h0m4 0h0m3 0h0m6 0h0m3 0h0m7 0h0m14 0h0m7 0h0m7 0h0m12 0h0m13 0h0m13 0h0m11 0h0m8 0h0m-203 6h0m14 0h0m3 0h0m15 0h0m10 0h0m2 0h0m2 0h1m4 0h1m3 0h1m4 0h1m2 0h2m2 0h0m4 0h2m5 0h3m2 0h1m2 0h0m5 0h0m3 0h0m2 0h1m3 0h0m3 0h0m2 0h0m2 0h1m7 0h2m2 0h1m11 0h0m22 0h0m11 0h0m49 0h0m-219 7h0m23 0h0m21 0h0m4 0h0m4 0h0m3 0h0m3 0h1m2 0h0m2 0h0m2 0h3m3 0h0m2 0h0m2 0h0m3 0h0m2 0h0m4 0h1m2 0h4m5 0h1m8 0h0m4 0h1m5 0h0m2 0h0m3 0h0m10 0h0m4 0h0m2 0h0m2 0h0m14 0h0m17 0h0m9 0h0m26 0h0m12 0h0m-196 9h0m3 0h0m4 0h0m17 0h0m8 0h0m5 0h1m4 0h0m4 0h2m4 0h0m2 0h1m3 0h1m5 0h0m3 0h0m4 0h2m2 0h3m3 0h0m2 0h0m3 0h0m14 0h0m5 0h0m2 0h2m20 0h0m12 0h0m15 0h0m17 0h0" fill="none" stroke="#ea5f47" stroke-width="1.9" stroke-linecap="square"/>
<rect x="150.3" y="740.5" width="2.2" height="127.3" fill="#ea5f47"/>
<rect x="219.7" y="865.1" width="237.2" height="2.4" fill="#ea5f47"/>
<path d="M457 866.3h8.4M467.6 866.3h3.2M472.9 866.3h5.5M486.7 866.3h2.4M154.8 866.3h1.6M163.5 866.3h1.6M171.5 866.3h1.6M178.3 866.3h1.6M181.5 866.3h1.6M189.8 866.3h1.6M193.6 866.3h1.6M197.3 866.3h1.6M201.5 866.3h1.6M210.4 866.3h1.6M217 866.3h1.6" stroke="#ea5f47" stroke-width="2.2" fill="none"/>
<g transform="translate(149.8 503.5) scale(1.0390 0.9814)">
<use href="#tpl"/>
<g>
<text x="0.6" y="20" font-size="21.4" fill="#111" textLength="26.66" lengthAdjust="spacingAndGlyphs">UL</text>
<text x="1.3" y="45.1" font-size="21.4" fill="#111" textLength="43.42" lengthAdjust="spacingAndGlyphs">0.11</text>
<text x="385.2" y="20" font-size="21.4" fill="#111" textLength="28.45" lengthAdjust="spacingAndGlyphs">UR</text>
<text x="385.8" y="45.1" font-size="21.4" fill="#111" textLength="43.44" lengthAdjust="spacingAndGlyphs">3.72</text>
<text x="0.5" y="340.7" font-size="21.4" fill="#111" textLength="23.36" lengthAdjust="spacingAndGlyphs">LL</text>
<text x="1.1" y="365.7" font-size="21.4" fill="#111" textLength="55.47" lengthAdjust="spacingAndGlyphs">79.27</text>
<text x="373.3" y="340.7" font-size="21.4" fill="#111" textLength="26.01" lengthAdjust="spacingAndGlyphs">LR</text>
<text x="373.2" y="365.7" font-size="21.4" fill="#111" textLength="55.70" lengthAdjust="spacingAndGlyphs">16.90</text>
</g></g>
<path d="M297 503.5V868.8 M149.8 740.5H595.7" stroke="#0a0a0a" stroke-width="2.05" fill="none"/>
<g><text x="229.4" y="944.3" font-size="29.5" fill="#111" textLength="201.71" lengthAdjust="spacingAndGlyphs">MKN45-20mg/l</text></g>
<path d="m930 644h0m64 4h0m23 2h0m13 0h0m-94 2h0m45 1h0m-7 1h0m22 3h0m20 0h0m-141 1h0m69 0h0m25 0h0m10 0h0m4 0h0m7 0h0m26 0h0m-65 1h0m10 0h0m2 0h0m3 0h0m13 1h0m3 0h0m2 0h0m10 0h0m-55 1h0m42 0h0m31 0h0m-79 1h0m12 0h0m6 0h0m13 0h0m3 0h0m14 0h1m23 0h0m-27 1h0m10 0h0m16 0h0m-132 1h0m41 0h0m27 0h0m17 0h0m4 0h0m49 0h0m-57 1h0m38 0h0m-86 1h0m47 0h0m3 0h0m65 0h0m9 0h0m-125 1h0m55 0h0m5 0h0m12 0h0m-46 1h0m8 0h0m59 0h0m18 0h0m-55 1h0m5 0h0m3 0h0m2 0h0m26 0h0m22 0h0m-96 1h0m22 0h0m12 0h0m16 0h0m5 0h1m5 0h0m8 0h0m3 0h0m12 0h1m2 0h0m25 0h0m-162 1h0m15 0h0m6 0h0m57 0h0m6 0h0m16 0h1m9 0h0m3 0h1m7 0h2m-33 1h0m2 0h0m23 0h0m3 0h0m-40 1h0m10 0h0m5 0h0m3 0h0m2 0h1m3 0h1m15 0h0m3 0h0m4 0h0m6 0h0m16 0h0m2 0h0m-189 1h0m108 0h0m18 0h0m13 0h0m4 0h0m3 0h1m6 0h0m2 0h0m3 0h0m3 0h0m-137 1h0m39 0h0m6 0h0m32 0h0m16 0h0m10 0h0m2 0h0m18 0h0m10 0h0m4 0h0m16 0h0m8 0h0m7 0h0m-64 1h1m7 0h0m6 0h0m17 0h0m8 0h0m8 0h0m8 0h0m17 0h0m3 0h0m-165 1h0m30 0h0m17 0h0m14 0h0m11 0h0m4 0h0m12 0h0m10 0h1m5 0h0m5 0h1m5 0h0m3 0h0m2 0h0m2 0h0m2 0h0m6 0h0m3 0h0m-93 1h0m16 0h0m18 0h0m10 0h1m7 0h0m6 0h2m2 0h1m13 0h0m3 0h0m8 0h0m4 0h0m8 0h0m11 0h0m22 0h0m-191 1h0m66 0h0m29 0h0m3 0h0m6 0h0m5 0h0m3 0h1m12 0h0m12 0h0m3 0h0m3 0h0m6 0h0m-82 1h0m9 0h0m26 0h0m4 0h0m2 0h0m7 0h0m12 0h0m2 0h0m6 0h0m5 0h0m6 0h0m17 0h0m-114 1h0m30 0h0m27 0h1m10 0h0m2 0h0m3 0h0m7 0h0m4 0h0m19 0h3m9 0h0m19 0h0m-107 1h0m3 0h0m3 0h1m3 0h1m7 0h0m16 0h0m12 0h0m14 0h0m2 0h0m3 0h0m6 0h1m6 0h0m23 0h0m-183 1h0m53 0h0m7 0h0m35 0h0m17 0h0m10 0h0m3 0h1m7 0h0m7 0h0m4 0h0m6 0h0m6 0h0m12 0h0m-159 1h0m29 0h0m7 0h0m17 0h0m10 0h0m3 0h0m13 0h0m10 0h0m3 0h0m8 0h0m2 0h1m5 0h0m15 0h0m13 0h1m3 0h0m11 0h0m7 0h0m-120 1h0m10 0h0m26 0h0m10 0h0m2 0h0m2 0h0m10 0h0m6 0h1m4 0h0m5 0h0m11 0h0m5 0h2m4 0h0m3 0h0m34 0h0m8 0h0m-165 1h0m19 0h0m46 0h0m2 0h0m13 0h0m2 0h0m10 0h1m2 0h0m9 0h1m10 0h0m2 0h0m8 0h0m7 0h0m-89 1h0m12 0h0m30 0h0m6 0h0m3 0h0m2 0h0m2 0h0m25 0h0m2 0h0m-161 1h0m11 0h0m52 0h0m17 0h0m4 0h0m30 0h0m6 0h0m5 0h0m4 0h0m6 0h0m15 0h0m5 0h0m3 0h0m29 0h0m11 0h0m-311 1h0m182 0h0m7 0h0m17 0h0m30 0h0m7 0h0m7 0h0m2 0h0m5 0h0m6 0h0m2 0h0m5 0h0m12 0h0m-115 1h1m28 0h0m5 0h0m10 0h0m17 0h0m3 0h0m3 0h0m2 0h0m3 0h0m7 0h0m6 0h0m4 0h0m6 0h0m9 0h0m3 0h0m20 0h0m2 0h0m7 0h0m-191 1h0m47 0h0m38 0h1m36 0h0m7 0h0m3 0h0m20 0h1m3 0h0m29 0h0m-167 1h0m36 0h0m13 0h1m3 0h0m5 0h0m25 0h0m5 0h2m5 0h0m2 0h0m4 0h0m3 0h0m8 0h0m3 0h0m14 0h0m13 0h1m4 0h0m3 0h0m-150 1h0m16 0h0m10 0h0m14 0h0m23 0h0m3 0h0m9 0h0m2 0h0m4 0h0m9 0h0m3 0h1m3 0h0m14 0h0m3 0h0m17 0h0m58 0h0m-153 1h0m3 0h0m32 0h0m6 0h0m9 0h0m6 0h0m7 0h0m19 0h0m5 0h0m6 0h0m24 0h0m21 0h0m-155 1h0m5 0h0m14 0h0m10 0h0m9 0h0m3 0h0m6 0h0m2 0h0m4 0h0m13 0h0m5 0h0m2 0h0m31 0h0m9 0h0m11 0h0m15 0h0m-139 1h0m53 0h0m17 0h0m9 0h0m27 0h1m8 0h1m13 0h0m2 0h0m-139 1h0m13 0h0m13 0h0m4 0h0m3 0h0m4 0h0m29 0h0m13 0h0m15 0h0m19 0h0m14 0h0m23 0h0m-160 1h0m12 0h0m21 0h0m3 0h0m20 0h0m12 0h0m6 0h1m2 0h0m2 0h0m26 0h0m2 0h0m5 0h0m32 0h0m-165 1h0m43 0h0m7 0h0m19 0h0m3 0h0m33 0h0m8 0h0m11 0h0m5 0h0m5 0h0m11 0h0m3 0h0m11 0h0m21 0h0m46 0h0m-198 1h0m28 0h0m26 0h0m7 0h0m8 0h0m11 0h0m4 0h0m2 0h0m29 0h0m3 0h0m30 0h0m-144 1h0m21 0h0m6 0h0m12 0h0m4 0h0m7 0h0m10 0h0m2 0h0m57 0h0m47 0h0m-196 1h0m10 0h0m37 0h0m6 0h0m4 0h0m20 0h1m10 0h0m31 0h0m10 0h0m9 0h0m15 0h0m9 0h0m45 0h0m-259 1h0m24 0h0m27 0h0m7 0h0m15 0h0m15 0h0m11 0h0m10 0h0m20 0h1m2 0h0m35 0h0m28 0h0m-150 1h0m29 0h0m7 0h0m5 0h0m14 0h0m23 0h0m22 0h0m6 0h0m14 0h0m7 0h1m2 0h0m-175 1h0m140 0h0m7 0h0m11 0h0m9 0h0m38 0h0m8 0h0m-193 1h0m14 0h0m22 0h0m7 0h0m10 0h0m49 0h0m11 0h0m14 0h0m12 0h0m5 0h0m34 0h0m29 0h0m-124 1h0m4 0h0m12 0h0m26 0h0m3 0h0m24 0h0m-99 1h0m5 0h0m28 0h0m3 0h0m7 0h0m20 0h0m19 0h0m-143 1h0m33 0h0m38 0h0m20 0h0m3 0h0m3 0h0m19 0h0m3 0h0m2 0h0m3 0h0m3 0h0m13 0h0m9 0h0m13 0h0m-148 1h0m35 0h0m15 0h0m7 0h0m10 0h1m19 0h0m12 0h0m3 0h0m26 0h0m2 0h0m12 0h0m4 0h0m4 0h0m18 0h0m-132 1h0m21 0h0m11 0h0m6 0h0m2 0h0m6 0h0m9 0h0m4 0h0m28 0h0m24 0h0m10 0h0m4 0h0m23 0h0m-198 1h0m28 0h0m23 0h0m16 0h0m5 0h0m19 0h0m19 0h0m3 0h0m2 0h0m3 0h0m15 0h0m3 0h0m4 0h0m2 0h0m3 0h0m32 0h0m-131 1h0m38 0h0m7 0h0m24 0h1m2 0h0m7 0h0m35 0h0m66 0h0m-190 1h0m5 0h0m30 0h0m2 0h0m10 0h0m10 0h0m6 0h0m15 0h0m6 0h0m4 0h0m3 0h0m11 0h0m6 0h0m-136 1h0m29 0h0m47 0h0m2 0h0m3 0h0m15 0h0m2 0h0m2 0h1m2 0h0m4 0h0m10 0h0m7 0h0m54 0h0m22 0h0m-165 1h0m13 0h0m9 0h0m11 0h0m4 0h0m3 0h0m34 0h0m6 0h0m2 0h0m3 0h0m3 0h1m3 0h0m15 0h1m3 0h0m32 0h0m-159 1h0m15 0h0m13 0h0m7 0h0m4 0h0m23 0h0m9 0h0m14 0h1m4 0h0m8 0h0m8 0h0m4 0h0m16 0h0m13 0h0m-146 1h0m5 0h0m31 0h0m5 0h0m4 0h0m8 0h0m24 0h1m2 0h0m21 0h1m5 0h0m12 0h0m15 0h0m-219 1h0m147 0h0m10 0h0m8 0h0m6 0h0m3 0h0m6 0h0m15 0h0m27 0h0m7 0h0m-166 1h0m9 0h0m59 0h0m9 0h0m10 0h0m16 0h0m7 0h0m11 0h0m13 0h0m12 0h0m5 0h0m8 0h0m-135 1h0m13 0h0m20 0h0m11 0h0m21 0h0m6 0h0m11 0h0m4 0h1m17 0h0m22 0h0m18 0h0m6 0h0m22 0h0m-254 1h0m105 0h0m40 0h1m9 0h0m2 0h0m5 0h0m6 0h0m5 0h0m3 0h0m4 0h1m17 0h0m28 0h0m48 0h0m-269 1h0m98 0h0m8 0h0m12 0h0m26 0h0m4 0h0m2 0h0m4 0h0m13 0h0m2 0h0m3 0h0m4 0h0m3 0h0m7 0h0m8 0h0m12 0h0m-120 1h0m21 0h0m4 0h0m10 0h0m12 0h0m5 0h0m11 0h0m6 0h1m15 0h0m13 0h0m8 0h0m2 0h0m12 0h0m9 0h0m-154 1h0m33 0h0m10 0h0m10 0h0m12 0h0m17 0h0m10 0h0m5 0h0m2 0h0m2 0h0m9 0h0m8 0h0m2 0h0m20 0h0m13 0h0m-167 1h0m4 0h0m16 0h0m21 0h0m16 0h0m15 0h0m20 0h0m2 0h0m10 0h0m2 0h0m2 0h0m5 0h0m12 0h1m6 0h0m2 0h0m3 0h0m11 0h0m17 0h0m-181 1h0m32 0h0m44 0h0m7 0h0m8 0h0m10 0h0m12 0h0m17 0h0m4 0h0m2 0h0m3 0h0m6 0h0m3 0h1m9 0h0m5 0h0m6 0h0m6 0h0m7 0h1m8 0h0m46 0h0m-252 1h0m12 0h0m58 0h0m8 0h0m16 0h0m15 0h1m4 0h0m3 0h0m2 0h0m17 0h0m12 0h0m2 0h0m7 0h0m7 0h3m3 0h0m9 0h0m8 0h0m6 0h0m-245 1h0m52 0h0m79 0h0m25 0h0m5 0h0m3 0h0m5 0h1m6 0h0m32 0h0m2 0h1m4 0h1m5 0h0m2 0h0m4 0h0m10 0h0m7 0h0m5 0h0m27 0h0m-197 1h0m43 0h0m15 0h0m23 0h0m15 0h1m2 0h0m5 0h0m5 0h0m4 0h0m4 0h0m2 0h1m2 0h0m3 0h0m2 0h1m2 0h1m5 0h0m12 0h0m17 0h0m-164 1h0m29 0h0m34 0h2m21 0h0m6 0h0m9 0h0m5 0h1m5 0h0m2 0h0m9 0h0m2 0h0m11 0h0m62 0h0m-278 1h0m45 0h0m3 0h0m31 0h0m7 0h0m11 0h0m17 0h0m27 0h0m12 0h0m3 0h0m11 0h0m4 0h0m8 0h0m5 0h0m2 0h0m3 0h0m4 0h1m6 0h0m4 0h0m6 0h1m5 0h0m6 0h0m4 0h0m11 0h0m-120 1h0m30 0h1m7 0h0m14 0h0m17 0h0m4 0h0m8 0h1m2 0h0m4 0h0m3 0h1m14 0h0m2 0h0m28 0h0m-217 1h0m51 0h0m31 0h0m14 0h0m4 0h0m11 0h1m2 0h0m14 0h0m5 0h0m2 0h0m8 0h0m3 0h0m6 0h0m9 0h0m2 0h0m2 0h0m12 0h1m4 0h0m2 0h0m12 0h0m14 0h0m-235 1h0m37 0h0m34 0h0m6 0h0m16 0h0m2 0h0m49 0h1m12 0h1m10 0h1m2 0h0m4 0h1m4 0h0m2 0h6m3 0h1m2 0h1m2 0h3m2 0h0m2 0h1m2 0h0m3 0h1m4 0h0m2 0h0m-187 1h0m11 0h0m2 0h0m25 0h0m21 0h0m20 0h0m13 0h0m19 0h0m3 0h0m9 0h0m3 0h0m2 0h0m6 0h1m9 0h0m3 0h0m4 0h1m3 0h0m4 0h1m3 0h0m4 0h1m5 0h0m8 0h0m2 0h0m3 0h0m8 0h0m3 0h0m19 0h0m-205 1h0m46 0h0m46 0h0m16 0h0m3 0h0m7 0h0m3 0h0m7 0h1m5 0h0m3 0h0m2 0h0m2 0h1m4 0h0m2 0h0m8 0h2m9 0h0m9 0h0m5 0h0m9 0h1m-232 1h0m20 0h0m10 0h0m16 0h0m61 0h0m22 0h0m7 0h0m6 0h0m6 0h0m8 0h0m11 0h0m5 0h0m3 0h0m2 0h0m5 0h1m3 0h1m3 0h0m6 0h0m6 0h0m5 0h0m8 0h0m3 0h0m2 0h0m3 0h1m7 0h0m-231 1h0m34 0h0m45 0h0m9 0h0m11 0h0m6 0h0m17 0h0m9 0h0m10 0h0m5 0h0m5 0h0m5 0h1m4 0h0m7 0h0m3 0h0m2 0h0m9 0h1m2 0h0m4 0h0m3 0h0m4 0h0m4 0h0m2 0h1m3 0h0m3 0h0m2 0h0m5 0h1m12 0h0m11 0h0m-232 1h0m33 0h0m31 0h0m4 0h0m27 0h0m23 0h0m6 0h0m4 0h0m3 0h0m11 0h1m5 0h0m3 0h1m3 0h0m7 0h2m3 0h0m5 0h2m2 0h3m5 0h2m6 0h0m3 0h0m7 0h0m6 0h2m6 0h0m-216 1h0m7 0h0m28 0h0m23 0h0m5 0h0m7 0h0m5 0h0m20 0h0m15 0h0m14 0h0m13 0h0m5 0h0m4 0h0m4 0h0m2 0h0m6 0h0m8 0h0m2 0h1m4 0h1m3 0h2m10 0h0m2 0h2m9 0h0m7 0h0m35 0h0m5 0h0m-201 1h0m13 0h0m2 0h0m16 0h0m41 0h0m2 0h0m13 0h2m3 0h0m3 0h0m3 0h2m2 0h2m3 0h1m5 0h0m4 0h0m3 0h2m5 0h1m2 0h0m2 0h0m7 0h0m5 0h0m5 0h1m2 0h1m2 0h0m9 0h1m6 0h0m2 0h0m5 0h0m18 0h0m-232 1h0m43 0h0m9 0h0m4 0h0m5 0h0m12 0h0m49 0h0m8 0h0m9 0h0m3 0h0m3 0h1m4 0h0m2 0h1m3 0h0m4 0h1m2 0h0m4 0h0m4 0h1m3 0h0m2 0h1m4 0h2m2 0h1m4 0h0m2 0h0m6 0h0m9 0h0m10 0h0m17 0h0m-194 1h0m14 0h1m3 0h0m24 0h0m2 0h0m2 0h0m10 0h0m14 0h0m6 0h0m2 0h0m4 0h0m14 0h0m3 0h0m2 0h0m2 0h0m5 0h0m2 0h0m3 0h1m2 0h0m6 0h0m2 0h0m2 0h1m7 0h0m2 0h0m10 0h0m2 0h0m2 0h0m5 0h0m3 0h0m10 0h0m11 0h0m5 0h0m7 0h0m-206 1h0m5 0h0m2 0h0m7 0h0m6 0h0m3 0h0m4 0h0m4 0h0m7 0h0m2 0h0m2 0h1m8 0h0m2 0h0m4 0h0m19 0h0m4 0h0m10 0h0m7 0h0m5 0h0m3 0h0m2 0h0m2 0h0m2 0h0m3 0h0m2 0h0m4 0h0m2 0h1m7 0h0m2 0h0m4 0h1m2 0h0m2 0h0m2 0h0m2 0h0m6 0h0m8 0h0m2 0h0m5 0h0m2 0h0m16 0h1m-201 1h0m31 0h0m28 0h0m2 0h0m10 0h0m5 0h0m13 0h0m16 0h0m11 0h0m4 0h0m4 0h0m3 0h0m2 0h0m2 0h1m2 0h0m5 0h1m3 0h1m3 0h3m2 0h1m3 0h2m2 0h1m3 0h0m5 0h0m3 0h0m3 0h0m2 0h0m3 0h0m10 0h0m22 0h0m-222 1h0m10 0h0m11 0h0m12 0h0m3 0h0m15 0h0m2 0h0m7 0h0m5 0h0m4 0h0m8 0h0m27 0h0m4 0h0m10 0h0m2 0h2m8 0h0m5 0h0m3 0h2m3 0h0m5 0h0m6 0h0m4 0h0m2 0h0m2 0h2m4 0h0m3 0h0m2 0h2m3 0h0m4 0h1m10 0h0m10 0h1m4 0h0m2 0h0m-241 1h0m41 0h0m11 0h0m2 0h0m6 0h0m31 0h0m2 0h1m8 0h0m22 0h0m8 0h0m20 0h0m2 0h0m6 0h0m3 0h1m9 0h0m7 0h0m3 0h0m3 0h0m2 0h2m6 0h1m6 0h1m2 0h0m3 0h0m4 0h0m2 0h0m2 0h2m2 0h0m7 0h1m4 0h0m4 0h0m42 0h0m-268 1h0m8 0h0m7 0h0m5 0h0m5 0h0m9 0h0m12 0h0m10 0h0m5 0h0m18 0h0m11 0h0m12 0h1m14 0h0m9 0h0m5 0h0m8 0h0m4 0h0m4 0h0m4 0h0m7 0h0m2 0h0m5 0h1m3 0h0m3 0h0m2 0h0m3 0h1m2 0h1m4 0h0m2 0h0m4 0h0m3 0h3m2 0h4m3 0h0m3 0h0m4 0h0m13 0h0m5 0h0m-201 1h0m16 0h0m17 0h0m5 0h0m18 0h0m4 0h2m6 0h1m37 0h1m6 0h0m4 0h0m3 0h3m3 0h2m2 0h0m4 0h0m5 0h0m2 0h0m4 0h2m2 0h2m3 0h0m3 0h1m3 0h0m2 0h0m3 0h0m2 0h0m3 0h0m4 0h5m4 0h2m5 0h0m8 0h0m20 0h0m19 0h0m-253 1h0m34 0h0m2 0h0m2 0h0m3 0h0m7 0h0m3 0h0m11 0h0m4 0h0m9 0h0m9 0h0m11 0h0m3 0h0m4 0h0m23 0h1m6 0h0m9 0h0m5 0h3m2 0h1m5 0h0m2 0h0m3 0h2m2 0h0m3 0h1m2 0h1m4 0h0m2 0h0m5 0h2m2 0h0m7 0h0m2 0h0m2 0h3m8 0h0m2 0h0m4 0h0m7 0h0m8 0h0m-246 1h0m30 0h0m11 0h0m10 0h0m18 0h0m3 0h1m4 0h0m3 0h0m3 0h0m2 0h0m3 0h0m3 0h0m2 0h1m2 0h0m11 0h0m19 0h0m21 0h0m8 0h1m4 0h0m2 0h0m2 0h0m2 0h2m3 0h1m2 0h1m4 0h0m2 0h2m2 0h0m3 0h6m2 0h1m2 0h0m6 0h2m3 0h0m2 0h0m4 0h0m4 0h0m3 0h1m6 0h0m7 0h0m5 0h0m-205 1h0m24 0h0m7 0h1m2 0h1m11 0h0m2 0h0m3 0h0m5 0h0m9 0h0m27 0h0m8 0h0m7 0h0m5 0h0m4 0h0m3 0h1m2 0h0m2 0h1m7 0h0m6 0h2m2 0h2m3 0h4m2 0h1m2 0h0m12 0h2m10 0h0m-209 1h0m22 0h0m7 0h0m4 0h0m5 0h0m7 0h0m3 0h0m5 0h0m5 0h0m2 0h1m3 0h1m2 0h0m2 0h0m2 0h0m4 0h0m5 0h0m2 0h1m3 0h0m7 0h0m18 0h2m13 0h0m2 0h1m7 0h0m2 0h0m2 0h0m12 0h2m3 0h2m2 0h2m3 0h1m5 0h0m2 0h2m2 0h0m4 0h1m3 0h1m2 0h0m2 0h1m3 0h1m2 0h0m2 0h2m2 0h0m7 0h0m10 0h2m3 0h0m6 0h0m2 0h0m2 0h0m13 0h1m-243 1h0m10 0h0m9 0h0m15 0h0m4 0h0m3 0h0m5 0h0m4 0h0m4 0h0m6 0h0m2 0h0m3 0h0m2 0h0m8 0h0m3 0h0m2 0h0m8 0h0m5 0h0m3 0h0m5 0h0m3 0h0m5 0h0m4 0h0m8 0h0m8 0h0m4 0h0m3 0h0m2 0h0m3 0h1m2 0h1m2 0h0m2 0h2m2 0h0m2 0h0m3 0h6m2 0h5m2 0h1m2 0h2m3 0h0m2 0h0m3 0h1m3 0h3m2 0h1m3 0h3m3 0h0m2 0h0m-233 1h0m19 0h0m52 0h0m3 0h0m3 0h0m2 0h0m4 0h0m3 0h0m2 0h0m3 0h0m2 0h1m8 0h0m9 0h0m12 0h0m5 0h1m2 0h0m6 0h1m2 0h0m14 0h0m9 0h0m3 0h1m3 0h0m3 0h1m2 0h1m3 0h1m2 0h1m2 0h2m2 0h1m2 0h0m2 0h0m4 0h0m2 0h1m3 0h0m6 0h2m3 0h1m3 0h1m3 0h1m3 0h0m7 0h0m5 0h0m16 0h0m5 0h0m11 0h0m12 0h0m-284 1h0m31 0h0m5 0h0m24 0h0m2 0h0m7 0h0m3 0h0m2 0h0m3 0h0m3 0h0m2 0h0m17 0h0m5 0h0m32 0h1m11 0h0m18 0h1m3 0h0m5 0h1m3 0h1m2 0h1m2 0h0m2 0h2m2 0h1m3 0h0m3 0h2m2 0h2m2 0h4m2 0h1m6 0h1m4 0h1m6 0h0m5 0h0m6 0h0m-242 1h0m19 0h0m7 0h0m26 0h0m8 0h0m2 0h0m5 0h0m2 0h0m2 0h1m4 0h0m4 0h0m4 0h0m2 0h0m6 0h0m3 0h0m2 0h0m2 0h0m2 0h0m3 0h0m4 0h3m3 0h1m8 0h2m22 0h0m4 0h0m3 0h0m2 0h0m6 0h0m3 0h1m2 0h2m3 0h0m3 0h2m2 0h1m4 0h0m3 0h0m2 0h0m2 0h1m2 0h0m5 0h0m5 0h0m2 0h0m3 0h1m3 0h2m3 0h2m5 0h1m3 0h0m2 0h1m9 0h1m-243 1h0m19 0h0m12 0h0m14 0h0m7 0h0m8 0h0m14 0h0m2 0h1m2 0h1m3 0h0m5 0h2m3 0h0m3 0h0m2 0h0m2 0h0m2 0h5m5 0h1m5 0h0m2 0h0m4 0h0m2 0h0m10 0h0m11 0h0m2 0h0m5 0h0m2 0h0m3 0h2m5 0h0m2 0h2m2 0h4m2 0h0m3 0h0m2 0h0m3 0h4m4 0h3m2 0h2m4 0h7m3 0h4m2 0h0m8 0h0m2 0h1m7 0h0m3 0h0m8 0h0m10 0h0m11 0h0m-271 1h0m31 0h0m5 0h0m35 0h0m6 0h0m3 0h0m2 0h1m6 0h1m4 0h0m2 0h0m3 0h0m3 0h0m2 0h0m5 0h1m2 0h2m3 0h0m5 0h1m7 0h0m4 0h0m10 0h0m4 0h0m3 0h0m9 0h0m2 0h1m3 0h0m5 0h1m3 0h1m3 0h0m2 0h1m2 0h1m2 0h3m3 0h0m3 0h1m2 0h0m5 0h0m5 0h0m2 0h1m2 0h0m2 0h1m2 0h0m23 0h0m37 0h0m-279 1h0m11 0h0m8 0h0m29 0h0m4 0h0m5 0h0m5 0h0m5 0h0m4 0h1m2 0h0m2 0h1m2 0h1m6 0h7m2 0h0m4 0h0m2 0h1m3 0h0m5 0h0m2 0h0m20 0h0m2 0h0m3 0h0m13 0h0m3 0h0m8 0h0m5 0h1m5 0h2m2 0h4m2 0h1m4 0h0m2 0h2m2 0h0m2 0h3m2 0h0m2 0h5m2 0h0m2 0h1m2 0h1m3 0h3m2 0h0m2 0h2m3 0h0m3 0h0m2 0h0m3 0h0m3 0h0m4 0h0m10 0h0m-255 1h0m36 0h0m5 0h0m7 0h0m6 0h0m8 0h0m5 0h0m2 0h0m2 0h1m2 0h0m2 0h1m2 0h0m5 0h0m2 0h0m3 0h2m4 0h1m3 0h1m3 0h0m2 0h1m3 0h0m2 0h2m2 0h0m5 0h0m2 0h0m4 0h0m2 0h0m17 0h1m2 0h0m2 0h0m2 0h1m3 0h1m4 0h0m2 0h0m2 0h0m2 0h0m2 0h2m4 0h2m3 0h3m2 0h0m2 0h0m3 0h5m2 0h1m2 0h2m2 0h2m2 0h2m3 0h1m2 0h2m2 0h0m2 0h0m3 0h1m6 0h0m2 0h0m2 0h0m44 0h0m-280 1h0m11 0h0m8 0h0m7 0h0m22 0h0m14 0h0m10 0h0m4 0h0m3 0h0m3 0h2m5 0h0m3 0h4m3 0h0m3 0h0m2 0h1m7 0h0m2 0h0m2 0h1m3 0h0m4 0h0m10 0h0m5 0h1m20 0h0m3 0h0m2 0h0m3 0h2m3 0h2m2 0h0m2 0h0m2 0h0m2 0h3m3 0h2m3 0h3m2 0h11m2 0h3m2 0h2m2 0h2m3 0h0m3 0h0m4 0h1m80 0h0m-314 1h0m71 0h0m8 0h0m3 0h0m14 0h0m6 0h0m2 0h1m5 0h2m11 0h0m16 0h0m15 0h0m4 0h1m3 0h1m7 0h0m4 0h0m4 0h1m2 0h0m6 0h0m6 0h1m6 0h0m6 0h0m6 0h0m2 0h0m28 0h0m3 0h1m-246 1h0m11 0h0m8 0h0m17 0h0m12 0h0m4 0h0m5 0h0m5 0h0m5 0h0m2 0h0m3 0h0m2 0h0m2 0h1m3 0h0m3 0h0m5 0h2m2 0h1m4 0h0m2 0h0m2 0h5m2 0h1m6 0h0m2 0h0m2 0h0m7 0h1m12 0h0m3 0h0m10 0h2m3 0h0m6 0h0m4 0h1m2 0h2m2 0h0m2 0h2m3 0h1m2 0h3m2 0h0m2 0h1m2 0h2m4 0h0m2 0h0m4 0h2m3 0h2m2 0h1m3 0h0m2 0h0m3 0h0m2 0h0m4 0h0m6 0h0m8 0h0m-233 1h0m8 0h0m12 0h0m10 0h0m7 0h0m6 0h0m10 0h0m3 0h0m4 0h1m2 0h0m3 0h0m2 0h0m3 0h2m2 0h0m2 0h0m2 0h0m2 0h0m2 0h0m2 0h3m2 0h0m2 0h1m4 0h1m2 0h0m5 0h0m8 0h0m17 0h0m3 0h0m8 0h0m4 0h0m2 0h2m3 0h1m5 0h0m2 0h0m3 0h1m2 0h4m4 0h0m3 0h2m3 0h0m2 0h1m2 0h0m3 0h0m2 0h8m3 0h0m4 0h0m3 0h0m5 0h0m3 0h1m2 0h0m4 0h0m5 0h0m4 0h0m2 0h1m5 0h0m3 0h0m-256 1h0m11 0h0m30 0h0m4 0h0m3 0h0m4 0h0m2 0h0m3 0h0m3 0h0m7 0h0m2 0h0m2 0h1m2 0h0m3 0h0m3 0h0m2 0h2m4 0h0m2 0h1m5 0h3m2 0h1m3 0h0m2 0h2m7 0h0m5 0h0m6 0h0m3 0h0m6 0h0m2 0h1m5 0h0m5 0h1m2 0h2m3 0h0m4 0h0m5 0h2m3 0h0m2 0h0m2 0h0m2 0h0m4 0h3m2 0h2m2 0h4m2 0h8m2 0h3m2 0h0m2 0h0m3 0h0m2 0h0m2 0h0m5 0h0m8 0h0m13 0h0m2 0h0m5 0h0m27 0h0m-269 1h0m30 0h0m13 0h0m6 0h0m4 0h0m3 0h0m2 0h0m2 0h0m11 0h1m4 0h0m5 0h0m3 0h0m20 0h0m26 0h0m9 0h0m4 0h0m3 0h1m5 0h0m13 0h0m4 0h1m2 0h0m4 0h1m3 0h0m3 0h0m2 0h1m5 0h0m2 0h0m3 0h0m3 0h1m3 0h0m5 0h0m3 0h1m7 0h0m22 0h0m-252 1h0m11 0h0m8 0h0m7 0h0m5 0h0m10 0h0m13 0h0m8 0h0m7 0h0m2 0h1m2 0h0m2 0h1m2 0h1m2 0h0m2 0h0m2 0h1m3 0h0m2 0h0m2 0h1m3 0h0m3 0h2m2 0h1m2 0h1m4 0h0m3 0h0m2 0h0m11 0h0m4 0h0m2 0h0m5 0h1m14 0h0m4 0h0m2 0h2m2 0h0m2 0h1m2 0h4m2 0h3m2 0h2m2 0h0m2 0h1m2 0h1m2 0h1m3 0h3m2 0h0m3 0h2m3 0h4m5 0h0m8 0h1m2 0h1m2 0h0m2 0h0m2 0h1m3 0h0m13 0h0m-200 1h0m3 0h0m7 0h0m7 0h1m7 0h1m7 0h0m6 0h2m5 0h0m5 0h0m8 0h1m4 0h0m2 0h0m2 0h0m6 0h0m11 0h0m12 0h0m3 0h0m3 0h1m8 0h1m5 0h0m2 0h0m3 0h0m2 0h0m2 0h0m2 0h0m2 0h1m2 0h0m4 0h2m3 0h0m5 0h1m7 0h0m2 0h0m2 0h1m5 0h1m12 0h0m6 0h0m7 0h0m3 0h0m-249 1h0m31 0h0m5 0h0m5 0h0m7 0h0m4 0h0m2 0h0m6 0h0m2 0h0m2 0h0m5 0h0m2 0h1m2 0h0m2 0h1m2 0h0m3 0h1m3 0h4m3 0h0m2 0h1m2 0h2m2 0h0m2 0h1m3 0h0m2 0h2m2 0h0m3 0h0m8 0h1m8 0h0m5 0h0m8 0h0m3 0h0m6 0h0m4 0h4m2 0h0m2 0h0m2 0h4m2 0h1m2 0h5m5 0h6m4 0h3m3 0h0m2 0h3m5 0h3m4 0h1m4 0h0m3 0h0m5 0h0m3 0h0m15 0h0m2 0h0m-255 1h0m31 0h0m14 0h0m9 0h0m8 0h0m2 0h0m5 0h0m3 0h0m2 0h0m2 0h1m2 0h0m3 0h0m4 0h0m3 0h0m4 0h1m2 0h2m2 0h0m2 0h1m5 0h0m13 0h0m31 0h1m4 0h2m4 0h1m11 0h0m2 0h5m2 0h1m3 0h1m2 0h0m2 0h0m2 0h2m3 0h0m9 0h4m2 0h0m2 0h0m2 0h1m3 0h0m4 0h0m11 0h0m4 0h0m-231 1h0m8 0h0m7 0h0m10 0h0m5 0h0m4 0h0m3 0h0m4 0h0m2 0h0m6 0h0m4 0h0m3 0h0m2 0h0m2 0h0m3 0h0m2 0h1m2 0h1m2 0h0m4 0h0m2 0h2m3 0h0m3 0h0m3 0h3m2 0h1m2 0h3m2 0h0m2 0h1m2 0h0m3 0h0m2 0h0m7 0h0m3 0h3m17 0h0m3 0h1m2 0h0m4 0h0m6 0h1m6 0h0m5 0h2m2 0h1m2 0h10m3 0h2m3 0h9m2 0h0m2 0h0m2 0h4m4 0h0m5 0h0m2 0h1m2 0h0m3 0h0m3 0h0m10 0h1m14 0h0m-269 1h0m11 0h0m15 0h0m5 0h0m14 0h0m3 0h0m6 0h0m13 0h0m4 0h1m7 0h1m2 0h0m4 0h0m2 0h1m2 0h1m2 0h1m2 0h1m3 0h1m4 0h0m2 0h0m5 0h0m4 0h0m2 0h0m2 0h0m11 0h0m4 0h0m7 0h0m6 0h0m9 0h0m3 0h0m2 0h1m5 0h1m2 0h0m5 0h0m2 0h1m2 0h0m2 0h3m6 0h0m4 0h2m3 0h0m3 0h1m5 0h1m3 0h0m6 0h1m2 0h0m8 0h0m2 0h0m5 0h0m15 0h0m16 0h0m-259 1h0m15 0h0m22 0h0m4 0h0m10 0h0m2 0h0m3 0h0m12 0h1m2 0h2m4 0h1m2 0h1m2 0h0m3 0h1m2 0h0m2 0h1m5 0h0m5 0h2m6 0h0m5 0h0m10 0h0m8 0h0m12 0h0m2 0h0m9 0h0m3 0h0m3 0h0m5 0h0m3 0h1m2 0h1m2 0h0m2 0h0m6 0h0m5 0h0m2 0h0m2 0h0m3 0h0m2 0h0m2 0h0m8 0h0m6 0h0m7 0h2m6 0h0m3 0h0m78 0h0m-321 1h0m11 0h0m8 0h0m7 0h0m10 0h0m5 0h0m4 0h0m3 0h0m6 0h0m3 0h0m3 0h0m2 0h0m5 0h0m2 0h0m2 0h1m2 0h0m2 0h1m2 0h0m3 0h2m2 0h10m3 0h4m2 0h0m2 0h1m2 0h1m3 0h0m2 0h0m2 0h1m5 0h0m3 0h0m8 0h0m7 0h0m3 0h0m2 0h0m3 0h0m4 0h0m7 0h3m5 0h0m4 0h1m2 0h2m3 0h2m3 0h5m6 0h9m4 0h2m2 0h1m2 0h3m7 0h0m12 0h0m18 0h0m9 0h0m-266 1h0m11 0h0m20 0h0m14 0h0m7 0h0m10 0h0m2 0h0m8 0h0m4 0h1m2 0h1m3 0h1m2 0h1m3 0h0m3 0h0m2 0h0m5 0h0m2 0h0m3 0h0m3 0h0m8 0h0m2 0h0m4 0h0m4 0h1m24 0h1m5 0h0m2 0h1m2 0h0m5 0h1m7 0h1m5 0h1m2 0h0m3 0h0m3 0h0m3 0h1m2 0h1m2 0h1m3 0h0m3 0h0m2 0h0m3 0h0m6 0h0m9 0h1m12 0h0m9 0h0m25 0h0m-273 1h0m19 0h0m22 0h0m4 0h0m3 0h0m4 0h0m19 0h0m5 0h1m2 0h1m3 0h1m2 0h4m4 0h5m2 0h1m6 0h0m2 0h0m14 0h1m4 0h0m15 0h0m3 0h0m2 0h0m6 0h0m2 0h0m4 0h1m12 0h2m3 0h1m3 0h0m2 0h0m2 0h3m4 0h4m2 0h1m3 0h0m2 0h2m4 0h0m4 0h2m2 0h0m3 0h0m23 0h0m-227 1h0m7 0h0m5 0h0m10 0h0m4 0h0m7 0h0m2 0h0m6 0h0m4 0h0m5 0h0m2 0h0m5 0h1m2 0h1m3 0h1m3 0h0m3 0h0m2 0h1m2 0h0m3 0h0m3 0h1m3 0h2m9 0h1m3 0h0m8 0h0m5 0h1m9 0h1m11 0h1m5 0h0m3 0h0m4 0h0m2 0h0m2 0h2m4 0h4m5 0h3m3 0h0m3 0h5m2 0h0m4 0h1m3 0h0m5 0h1m6 0h0m3 0h0m7 0h1m20 0h0m-213 1h0m4 0h0m9 0h0m6 0h0m4 0h0m7 0h1m2 0h0m2 0h0m3 0h0m4 0h0m3 0h4m3 0h1m3 0h1m7 0h0m2 0h1m2 0h0m2 0h0m4 0h0m2 0h0m4 0h0m16 0h0m2 0h0m10 0h0m14 0h0m4 0h1m4 0h0m4 0h0m2 0h0m2 0h0m5 0h2m3 0h0m3 0h1m3 0h1m3 0h2m2 0h0m2 0h2m2 0h1m4 0h0m2 0h0m3 0h0m2 0h1m4 0h0m3 0h0m-232 1h0m19 0h0m12 0h0m10 0h0m4 0h0m3 0h0m4 0h0m5 0h0m3 0h0m2 0h0m5 0h0m2 0h0m2 0h1m2 0h0m8 0h0m2 0h0m2 0h1m5 0h0m2 0h2m3 0h4m4 0h0m2 0h0m2 0h0m5 0h0m5 0h0m10 0h0m17 0h0m7 0h0m6 0h2m3 0h0m10 0h0m2 0h1m2 0h1m6 0h6m2 0h0m2 0h1m2 0h1m5 0h0m2 0h2m7 0h1m2 0h0m2 0h0m4 0h0m3 0h0m6 0h0m48 0h0m-284 1h0m36 0h0m9 0h0m12 0h0m3 0h0m12 0h0m4 0h1m2 0h1m2 0h2m2 0h0m2 0h5m2 0h0m2 0h2m2 0h2m6 0h0m8 0h0m4 0h0m6 0h0m3 0h0m6 0h0m15 0h0m5 0h0m5 0h0m5 0h0m2 0h0m4 0h0m2 0h1m3 0h2m2 0h1m2 0h0m2 0h0m6 0h1m2 0h6m4 0h1m2 0h0m3 0h0m2 0h1m8 0h1m3 0h0m2 0h0m5 0h1m-235 1h0m11 0h0m8 0h0m7 0h0m10 0h0m9 0h0m7 0h0m2 0h0m10 0h0m3 0h0m2 0h0m2 0h1m2 0h0m2 0h0m3 0h1m2 0h2m2 0h4m2 0h3m2 0h3m2 0h0m3 0h2m5 0h1m2 0h1m3 0h0m2 0h1m7 0h1m4 0h0m9 0h0m4 0h2m6 0h0m11 0h1m3 0h0m3 0h0m5 0h0m5 0h0m2 0h1m2 0h1m4 0h1m7 0h0m10 0h1m4 0h0m13 0h0m9 0h0m2 0h2m-242 1h0m41 0h0m7 0h0m4 0h0m8 0h0m4 0h0m3 0h0m2 0h0m2 0h1m4 0h1m6 0h0m3 0h0m3 0h7m2 0h0m3 0h1m4 0h2m3 0h0m3 0h0m2 0h0m3 0h0m3 0h0m17 0h0m6 0h0m4 0h0m2 0h0m6 0h0m2 0h1m6 0h0m2 0h0m2 0h0m2 0h1m2 0h1m2 0h1m3 0h1m2 0h0m3 0h0m2 0h0m3 0h0m3 0h2m3 0h1m2 0h0m3 0h1m4 0h1m2 0h0m2 0h1m5 0h0m3 0h1m2 0h0m6 0h0m9 0h0m14 0h0m-258 1h0m19 0h0m12 0h0m10 0h0m7 0h0m4 0h0m5 0h0m7 0h0m3 0h0m2 0h0m3 0h0m2 0h0m5 0h1m2 0h0m2 0h0m2 0h1m2 0h7m6 0h0m3 0h1m2 0h3m3 0h0m2 0h1m3 0h1m3 0h0m21 0h0m5 0h1m5 0h0m9 0h0m2 0h0m2 0h0m4 0h1m3 0h0m7 0h2m2 0h2m4 0h0m2 0h2m2 0h0m2 0h1m2 0h0m2 0h0m2 0h0m2 0h0m2 0h0m3 0h1m6 0h0m3 0h0m2 0h2m2 0h0m5 0h0m5 0h0m2 0h0m25 0h0m-269 1h0m11 0h0m8 0h0m17 0h0m12 0h0m6 0h0m3 0h0m3 0h0m2 0h0m2 0h0m3 0h0m4 0h1m4 0h0m3 0h1m2 0h0m4 0h0m2 0h0m2 0h3m2 0h0m3 0h0m3 0h1m2 0h1m2 0h6m3 0h0m5 0h0m5 0h0m3 0h2m4 0h0m4 0h0m2 0h0m13 0h0m12 0h0m4 0h0m7 0h0m2 0h1m2 0h0m2 0h0m2 0h0m6 0h1m3 0h4m2 0h2m3 0h1m2 0h0m2 0h0m4 0h0m3 0h0m3 0h1m5 0h0m6 0h3m-237 1h0m11 0h0m15 0h0m5 0h0m5 0h0m5 0h0m7 0h0m4 0h0m2 0h0m6 0h0m2 0h0m5 0h0m4 0h1m2 0h0m2 0h1m3 0h0m3 0h1m7 0h0m2 0h1m6 0h5m3 0h0m2 0h0m8 0h0m3 0h0m2 0h0m19 0h0m8 0h2m2 0h0m3 0h0m3 0h1m5 0h0m2 0h0m2 0h0m9 0h2m4 0h2m2 0h1m2 0h2m6 0h1m3 0h2m5 0h0m4 0h0m5 0h2m11 0h0m2 0h0m27 0h0m-251 1h0m8 0h0m7 0h0m10 0h0m9 0h0m7 0h0m2 0h0m3 0h0m5 0h0m5 0h0m2 0h0m2 0h1m2 0h0m2 0h1m2 0h1m3 0h1m2 0h1m3 0h2m2 0h2m2 0h2m2 0h1m2 0h0m2 0h0m2 0h0m2 0h0m4 0h1m6 0h0m3 0h0m5 0h0m11 0h1m6 0h0m3 0h3m5 0h0m4 0h1m12 0h1m3 0h1m4 0h0m4 0h0m4 0h0m2 0h0m2 0h1m4 0h2m2 0h0m4 0h0m2 0h0m3 0h0m4 0h0m5 0h1m4 0h0m7 0h0m5 0h0m10 0h0m9 0h0m40 0h0m-300 1h0m11 0h0m15 0h0m5 0h0m10 0h0m4 0h0m7 0h0m5 0h0m3 0h0m2 0h0m2 0h0m3 0h0m2 0h0m2 0h1m2 0h0m2 0h1m2 0h0m3 0h2m3 0h2m2 0h1m3 0h0m3 0h0m2 0h5m3 0h3m3 0h0m2 0h0m3 0h1m3 0h0m15 0h0m5 0h1m9 0h1m10 0h0m3 0h3m2 0h0m5 0h3m2 0h1m3 0h4m3 0h0m3 0h0m6 0h0m5 0h1m2 0h2m2 0h1m2 0h3m7 0h0m7 0h0m7 0h1m12 0h0m18 0h0m-272 2h0m11 0h0m8 0h0m12 0h0m17 0h0m4 0h0m8 0h0m2 0h0m2 0h0m3 0h0m2 0h0m3 0h0m4 0h0m3 0h0m3 0h0m2 0h0m2 0h2m3 0h0m3 0h1m3 0h0m4 0h0m3 0h0m3 0h0m2 0h0m8 0h0m3 0h0m3 0h0m12 0h0m5 0h0m2 0h0m2 0h0m7 0h0m5 0h0m4 0h0m4 0h0m2 0h0m6 0h1m3 0h1m7 0h0m3 0h1m2 0h0m2 0h6m3 0h0m2 0h1m2 0h5m2 0h0m4 0h0m3 0h1m5 0h0m6 0h0m10 0h0m2 0h0m14 0h0m-259 1h0m11 0h0m15 0h0m15 0h0m11 0h0m5 0h0m3 0h0m2 0h0m2 0h0m3 0h0m2 0h0m2 0h1m4 0h1m5 0h2m3 0h2m3 0h1m2 0h1m3 0h1m2 0h3m2 0h0m3 0h1m7 0h1m3 0h0m3 0h1m7 0h1m8 0h0m4 0h0m2 0h0m9 0h1m4 0h1m2 0h0m2 0h0m2 0h0m2 0h0m3 0h1m11 0h1m4 0h0m2 0h3m5 0h0m3 0h2m2 0h0m5 0h0m6 0h1m27 0h0m3 0h0m-250 1h0m11 0h0m8 0h0m7 0h0m15 0h0m11 0h0m2 0h0m13 0h0m2 0h0m3 0h0m2 0h0m5 0h0m3 0h2m2 0h1m6 0h0m3 0h0m2 0h0m2 0h2m3 0h0m2 0h2m3 0h0m3 0h0m5 0h0m11 0h0m3 0h0m5 0h0m7 0h0m2 0h0m4 0h1m9 0h0m6 0h0m2 0h0m5 0h0m2 0h1m4 0h1m7 0h0m6 0h0m3 0h0m2 0h0m7 0h0m3 0h1m5 0h1m6 0h0m2 0h1m7 0h0m2 0h0m12 0h0m15 0h0m-237 2h0m26 0h0m2 0h0m8 0h0m2 0h0m3 0h0m4 0h1m4 0h1m3 0h0m3 0h1m2 0h3m2 0h4m2 0h0m3 0h0m2 0h0m3 0h0m3 0h0m3 0h0m2 0h1m5 0h0m5 0h1m9 0h0m3 0h0m4 0h0m4 0h0m3 0h0m4 0h0m2 0h0m2 0h1m6 0h4m2 0h1m11 0h3m2 0h2m6 0h0m2 0h0m2 0h0m2 0h0m2 0h3m2 0h0m6 0h0m3 0h0m2 0h1m2 0h0m4 0h1m5 0h1m2 0h0m11 0h1m-235 1h0m8 0h0m22 0h0m7 0h0m4 0h0m2 0h0m6 0h0m2 0h0m2 0h0m3 0h0m2 0h0m3 0h0m2 0h0m2 0h1m5 0h2m2 0h1m2 0h2m7 0h0m2 0h2m2 0h1m3 0h1m2 0h0m2 0h1m3 0h0m3 0h0m3 0h1m6 0h0m3 0h0m16 0h0m5 0h0m3 0h0m4 0h2m4 0h0m5 0h0m5 0h2m2 0h2m2 0h1m6 0h0m2 0h2m5 0h2m2 0h0m2 0h1m4 0h3m2 0h0m2 0h0m3 0h0m5 0h0m4 0h0m9 0h0m18 0h0m-222 2h0m5 0h0m4 0h0m3 0h0m6 0h0m3 0h0m3 0h0m4 0h0m3 0h0m5 0h0m2 0h0m3 0h0m3 0h0m2 0h2m2 0h1m4 0h0m2 0h0m2 0h2m2 0h0m2 0h1m4 0h0m2 0h1m5 0h0m16 0h0m3 0h0m9 0h0m4 0h0m3 0h0m9 0h0m7 0h0m2 0h0m4 0h0m3 0h0m2 0h1m2 0h0m3 0h1m5 0h0m2 0h0m5 0h0m2 0h1m3 0h1m2 0h0m9 0h4m9 0h0m7 0h0m-222 2h0m8 0h0m7 0h0m5 0h0m5 0h0m5 0h0m4 0h0m3 0h0m6 0h0m3 0h0m3 0h0m2 0h0m2 0h0m3 0h0m4 0h0m3 0h0m5 0h1m2 0h2m3 0h0m3 0h0m2 0h2m3 0h1m3 0h1m3 0h0m4 0h1m2 0h2m3 0h1m2 0h0m2 0h0m6 0h1m15 0h0m4 0h1m3 0h1m5 0h0m2 0h0m2 0h0m2 0h0m2 0h0m14 0h1m3 0h0m3 0h1m2 0h2m2 0h2m2 0h0m3 0h1m3 0h1m5 0h1m6 0h0m2 0h0m3 0h1m2 0h0m3 0h0m22 0h0m-251 1h0m11 0h0m8 0h0m12 0h0m14 0h0m3 0h0m4 0h0m5 0h0m5 0h0m5 0h0m2 0h0m2 0h1m7 0h1m4 0h0m2 0h0m3 0h3m3 0h1m2 0h1m5 0h2m2 0h0m6 0h0m12 0h0m3 0h0m4 0h0m8 0h0m7 0h0m7 0h0m11 0h0m6 0h0m6 0h0m2 0h1m2 0h2m4 0h1m2 0h0m3 0h0m4 0h0m2 0h0m3 0h0m3 0h0m2 0h2m6 0h0m2 0h0m2 0h1m3 0h0m5 0h0m5 0h0m3 0h0m15 0h0m12 0h0m9 0h0m-248 2h0m15 0h0m4 0h0m7 0h0m2 0h0m3 0h0m5 0h0m2 0h0m3 0h0m4 0h0m5 0h1m6 0h0m3 0h1m2 0h0m2 0h0m2 0h0m3 0h3m3 0h1m2 0h1m3 0h1m4 0h1m2 0h0m4 0h0m2 0h1m3 0h0m2 0h1m6 0h0m13 0h0m17 0h0m9 0h4m6 0h0m2 0h1m5 0h0m4 0h1m2 0h1m3 0h2m7 0h0m2 0h0m12 0h0m39 0h0m11 0h0m-277 2h0m11 0h0m8 0h0m12 0h0m5 0h0m9 0h0m3 0h0m4 0h0m2 0h0m6 0h0m2 0h0m2 0h0m3 0h0m2 0h0m3 0h0m2 0h0m2 0h1m3 0h0m8 0h4m2 0h1m3 0h0m2 0h3m7 0h2m4 0h1m36 0h0m5 0h1m5 0h1m12 0h0m2 0h1m2 0h0m8 0h0m2 0h0m4 0h1m5 0h0m3 0h0m9 0h2m2 0h0m2 0h0m14 0h0m4 0h0m6 0h1m2 0h1m8 0h0m2 0h0m-258 2h0m19 0h0m7 0h0m5 0h0m5 0h0m5 0h0m7 0h0m4 0h0m2 0h0m3 0h0m3 0h0m2 0h0m2 0h0m3 0h0m2 0h0m2 0h0m3 0h0m2 0h1m2 0h1m2 0h0m4 0h4m2 0h0m2 0h0m2 0h2m4 0h0m4 0h0m2 0h0m5 0h0m2 0h3m3 0h0m6 0h0m2 0h0m6 0h0m6 0h0m3 0h0m2 0h0m3 0h1m6 0h0m7 0h0m5 0h0m4 0h0m8 0h0m5 0h0m3 0h3m10 0h1m6 0h0m2 0h0m3 0h0m11 0h0m12 0h0m8 0h0m3 0h0m20 0h0m-248 3h0m22 0h0m11 0h0m5 0h0m3 0h0m2 0h0m2 0h0m5 0h0m2 0h0m6 0h0m3 0h0m2 0h0m2 0h0m2 0h1m6 0h3m2 0h0m3 0h1m3 0h1m2 0h1m8 0h1m3 0h0m2 0h0m8 0h0m4 0h0m10 0h0m8 0h0m4 0h0m9 0h2m5 0h0m2 0h0m3 0h2m8 0h1m3 0h0m8 0h0m4 0h0m3 0h0m4 0h0m2 0h1m6 0h0m6 0h0m27 0h0m-253 2h0m19 0h0m7 0h0m5 0h0m5 0h0m9 0h0m7 0h0m8 0h0m2 0h0m2 0h0m3 0h0m4 0h1m2 0h0m3 0h0m2 0h0m5 0h0m3 0h1m2 0h0m2 0h0m2 0h0m2 0h2m6 0h0m4 0h0m2 0h0m3 0h0m2 0h1m2 0h0m2 0h1m5 0h0m5 0h0m2 0h0m6 0h0m12 0h1m3 0h0m10 0h0m14 0h0m8 0h4m2 0h3m4 0h0m4 0h2m3 0h0m3 0h0m8 0h0m5 0h1m7 0h0m2 0h0m16 0h0m2 0h0m-242 3h0m20 0h0m5 0h0m16 0h0m2 0h0m3 0h0m5 0h0m5 0h0m2 0h0m2 0h0m3 0h0m2 0h1m2 0h1m3 0h1m2 0h2m3 0h1m2 0h1m2 0h1m3 0h1m4 0h0m2 0h0m6 0h0m5 0h1m8 0h0m5 0h0m6 0h0m5 0h0m9 0h0m6 0h0m2 0h0m2 0h0m7 0h0m3 0h0m5 0h1m7 0h0m8 0h0m6 0h1m2 0h0m14 0h0m8 0h0m9 0h0m14 0h0m11 0h0m-259 3h0m11 0h0m15 0h0m19 0h0m7 0h0m2 0h0m3 0h0m5 0h0m10 0h0m2 0h0m15 0h1m5 0h0m4 0h0m3 0h0m5 0h1m2 0h0m9 0h0m15 0h0m4 0h0m15 0h0m7 0h0m18 0h0m12 0h0m2 0h0m2 0h0m8 0h0m19 0h0m2 0h1m2 0h0m16 0h0m2 0h0m6 0h0m3 0h0m-234 3h0m17 0h0m16 0h0m5 0h0m3 0h0m4 0h0m3 0h0m2 0h0m7 0h0m3 0h0m4 0h0m3 0h2m9 0h2m5 0h1m2 0h0m2 0h1m7 0h0m4 0h0m2 0h0m2 0h0m12 0h0m8 0h0m2 0h0m3 0h0m3 0h0m8 0h0m2 0h0m3 0h0m3 0h0m2 0h0m3 0h0m3 0h0m6 0h0m3 0h0m11 0h1m3 0h0m7 0h0m10 0h0m3 0h0m11 0h0m6 0h0m14 0h0m6 0h0m-239 4h0m7 0h0m22 0h0m4 0h0m17 0h0m2 0h0m5 0h0m10 0h0m11 0h1m2 0h0m2 0h0m5 0h0m2 0h1m2 0h0m2 0h0m3 0h0m3 0h0m12 0h0m11 0h0m9 0h0m2 0h0m6 0h0m4 0h0m7 0h0m6 0h1m3 0h0m5 0h0m6 0h0m3 0h0m2 0h0m6 0h0m2 0h0m3 0h0m10 0h0m6 0h0m2 0h0m11 0h0m12 0h0m11 0h0m6 0h0m-266 4h0m36 0h0m9 0h0m3 0h0m12 0h0m12 0h0m2 0h0m2 0h0m3 0h1m10 0h0m2 0h0m2 0h0m5 0h0m2 0h4m3 0h1m2 0h0m5 0h0m2 0h1m9 0h0m2 0h0m2 0h0m6 0h0m5 0h0m5 0h1m6 0h0m2 0h0m4 0h0m19 0h0m9 0h0m7 0h0m3 0h0m2 0h0m2 0h1m9 0h0m11 0h0m23 0h0m6 0h0m4 0h0m-257 4h0m11 0h0m8 0h0m35 0h0m8 0h0m7 0h0m3 0h0m4 0h1m5 0h0m2 0h0m2 0h0m3 0h0m6 0h0m3 0h1m2 0h0m5 0h0m2 0h0m10 0h1m3 0h5m2 0h1m4 0h0m13 0h1m3 0h0m4 0h1m2 0h0m4 0h0m3 0h0m2 0h0m7 0h0m3 0h0m7 0h0m4 0h0m6 0h0m3 0h0m2 0h0m10 0h0m9 0h2m24 0h0m-225 6h0m12 0h0m14 0h0m15 0h0m2 0h0m5 0h0m2 0h0m3 0h0m2 0h0m3 0h0m9 0h0m2 0h0m5 0h2m4 0h1m6 0h0m8 0h0m3 0h1m3 0h0m10 0h0m16 0h0m7 0h0m5 0h0m8 0h0m2 0h1m6 0h1m16 0h0m4 0h0m14 0h1m-145 7h0m5 0h0m2 0h0m2 0h1m12 0h1m5 0h1m3 0h0m2 0h0m2 0h0m3 0h1m6 0h3m3 0h0m3 0h0m5 0h0m7 0h0m4 0h0m8 0h0m4 0h0m2 0h0m4 0h0m17 0h0m4 0h0m13 0h0m3 0h0m7 0h0m3 0h0m5 0h0m11 0h0m10 0h0m21 0h1m-220 9h0m14 0h0m9 0h0m8 0h0m5 0h0m7 0h0m2 0h1m5 0h0m7 0h0m10 0h3m7 0h2m9 0h0m4 0h0m6 0h0m6 0h0m6 0h0m3 0h0m7 0h0m2 0h2m41 0h0m16 0h0m11 0h0m10 0h0" fill="none" stroke="#ea5f47" stroke-width="1.9" stroke-linecap="square"/>
<rect x="694.9" y="727.8" width="2.2" height="132.8" fill="#ea5f47"/>
<rect x="762.2" y="857.9" width="221.3" height="2.4" fill="#ea5f47"/>
<path d="M983.5 859.1h13.6M1000.4 859.1h7M1009.9 859.1h5.3M1019.7 859.1h1.5M1032.2 859.1h1.5M699.4 859.1h1.6M703.9 859.1h1.6M709.1 859.1h1.6M716.4 859.1h1.6M724.8 859.1h1.6M728.3 859.1h1.6M731.4 859.1h1.6M734.4 859.1h1.6M742.5 859.1h1.6M745.9 859.1h1.6M752.3 859.1h1.6M756.2 859.1h1.6M761.8 859.1h1.6" stroke="#ea5f47" stroke-width="2.2" fill="none"/>
<g transform="translate(694.4 501) scale(1.0068 0.9688)">
<use href="#tpl"/>
<g>
<text x="0.6" y="20" font-size="21.4" fill="#111" textLength="26.66" lengthAdjust="spacingAndGlyphs">UL</text>
<text x="1.3" y="45.1" font-size="21.4" fill="#111" textLength="43.44" lengthAdjust="spacingAndGlyphs">0.37</text>
<text x="385.2" y="20" font-size="21.4" fill="#111" textLength="28.45" lengthAdjust="spacingAndGlyphs">UR</text>
<text x="385.7" y="45.1" font-size="21.4" fill="#111" textLength="43.21" lengthAdjust="spacingAndGlyphs">8.70</text>
<text x="0.5" y="340.7" font-size="21.4" fill="#111" textLength="23.36" lengthAdjust="spacingAndGlyphs">LL</text>
<text x="1.8" y="365.7" font-size="21.4" fill="#111" textLength="54.45" lengthAdjust="spacingAndGlyphs">48.60</text>
<text x="373.3" y="340.7" font-size="21.4" fill="#111" textLength="26.01" lengthAdjust="spacingAndGlyphs">LR</text>
<text x="374.5" y="365.7" font-size="21.4" fill="#111" textLength="54.56" lengthAdjust="spacingAndGlyphs">42.33</text>
</g></g>
<path d="M837.3 501V861.6 M694.4 727.8H1126.5" stroke="#0a0a0a" stroke-width="2.05" fill="none"/>
<clipPath id="c5"><rect x="0" y="0" width="1734" height="946"/></clipPath>
<g clip-path="url(#c5)"><text x="793.7" y="943.7" font-size="29.5" fill="#111" textLength="202.12" lengthAdjust="spacingAndGlyphs">MKN45-30mg/l</text></g>
<path d="m1558 626h0m-63 12h0m64 0h0m18 1h0m-61 1h0m36 0h0m-25 2h0m40 1h0m-28 1h0m12 0h0m-52 1h0m60 0h0m-44 1h0m27 0h0m31 0h0m-51 1h0m19 0h0m57 1h0m-85 1h0m-17 1h0m33 1h0m19 0h1m11 0h0m-80 1h0m24 0h0m20 0h0m13 0h0m3 0h0m13 0h0m13 0h0m4 0h0m-123 1h0m11 0h0m48 0h0m26 0h0m39 0h0m-113 1h0m100 0h0m23 0h0m-123 1h0m38 0h0m20 0h0m15 0h0m4 0h0m3 0h0m12 0h0m10 0h0m8 0h0m13 0h0m19 0h0m-169 1h0m47 0h0m11 0h0m-73 1h0m85 0h0m42 0h0m10 0h0m2 0h1m19 0h0m-168 1h0m94 0h0m21 0h0m10 0h1m3 0h1m17 0h1m-64 1h0m20 0h0m3 0h0m13 0h0m12 0h0m7 0h0m10 0h0m26 0h0m-168 1h0m27 0h0m25 0h0m4 0h0m32 0h0m13 0h0m3 0h0m5 0h0m6 0h0m9 0h0m17 0h0m11 0h0m6 0h0m-176 1h0m64 0h0m40 0h0m5 0h1m7 0h0m9 0h0m4 0h1m19 0h0m2 0h0m5 0h1m10 0h0m15 0h0m5 0h0m-167 1h0m30 0h0m51 0h1m28 0h0m14 0h0m9 0h1m3 0h0m2 0h0m7 0h0m15 0h0m11 0h0m-129 1h0m41 0h0m5 0h1m3 0h0m3 0h0m8 0h1m9 0h0m8 0h1m3 0h0m5 0h2m5 0h0m9 0h0m8 0h0m10 0h0m-137 1h0m31 0h0m4 0h0m5 0h0m12 0h0m11 0h0m3 0h0m4 0h0m9 0h0m5 0h0m5 0h0m3 0h0m8 0h1m6 0h0m10 0h1m6 0h0m7 0h0m2 0h0m11 0h0m-145 1h0m59 0h0m10 0h0m2 0h1m5 0h0m7 0h0m3 0h0m2 0h0m2 0h0m3 0h1m11 0h0m10 0h1m7 0h1m2 0h0m-59 1h0m2 0h0m4 0h0m4 0h0m2 0h0m6 0h0m23 0h0m3 0h0m6 0h0m16 0h0m-148 1h0m23 0h0m23 0h0m20 0h0m6 0h1m13 0h0m2 0h0m11 0h0m3 0h2m2 0h0m5 0h0m9 0h0m8 0h1m29 0h0m4 0h0m-171 1h0m23 0h1m17 0h0m13 0h0m9 0h0m4 0h0m30 0h0m4 0h4m7 0h1m9 0h5m2 0h0m2 0h0m2 0h0m12 0h0m3 0h0m2 0h1m-83 1h0m24 0h0m7 0h0m3 0h0m2 0h0m2 0h0m3 0h0m3 0h1m2 0h0m7 0h0m2 0h0m2 0h0m6 0h0m8 0h0m2 0h0m7 0h1m13 0h0m-156 1h0m19 0h0m34 0h1m35 0h0m2 0h0m4 0h0m5 0h0m6 0h0m3 0h0m3 0h0m3 0h0m2 0h0m3 0h2m7 0h0m5 0h1m2 0h0m5 0h0m-118 1h0m14 0h0m4 0h0m28 0h0m7 0h0m5 0h0m2 0h0m4 0h0m2 0h0m4 0h0m3 0h1m6 0h3m4 0h1m10 0h0m2 0h0m5 0h0m13 0h0m14 0h0m3 0h0m5 0h0m-182 1h0m47 0h0m11 0h0m10 0h0m21 0h0m7 0h0m7 0h0m6 0h0m5 0h1m2 0h2m6 0h1m2 0h0m2 0h0m7 0h0m2 0h1m4 0h0m4 0h0m6 0h0m3 0h0m3 0h0m18 0h1m12 0h0m-184 1h0m13 0h0m61 0h0m2 0h2m18 0h0m2 0h0m5 0h0m9 0h1m3 0h3m2 0h0m3 0h0m6 0h1m4 0h0m6 0h0m4 0h1m21 0h0m2 0h0m4 0h0m-290 1h0m66 0h0m20 0h0m43 0h0m8 0h0m2 0h0m10 0h0m15 0h0m17 0h0m12 0h0m9 0h0m14 0h0m5 0h0m11 0h1m4 0h1m4 0h0m4 0h3m2 0h0m4 0h0m11 0h0m2 0h0m4 0h0m9 0h0m-130 1h0m37 0h0m9 0h0m4 0h0m18 0h0m5 0h1m4 0h0m4 0h0m2 0h2m4 0h0m2 0h0m3 0h0m4 0h0m5 0h0m6 0h0m9 0h0m20 0h0m12 0h0m7 0h0m-210 1h0m51 0h0m27 0h0m16 0h1m4 0h0m5 0h0m4 0h0m9 0h0m3 0h0m6 0h1m9 0h0m4 0h0m12 0h0m7 0h0m12 0h0m4 0h0m7 0h0m-201 1h0m23 0h0m34 0h0m5 0h0m22 0h0m44 0h0m4 0h0m6 0h0m9 0h0m4 0h0m2 0h0m10 0h2m2 0h0m6 0h0m5 0h0m23 0h1m2 0h0m4 0h0m9 0h0m-287 1h0m119 0h0m11 0h0m6 0h0m5 0h0m6 0h0m5 0h0m23 0h0m21 0h0m5 0h0m12 0h0m7 0h0m4 0h1m3 0h3m3 0h1m3 0h0m2 0h0m6 0h0m2 0h0m7 0h1m5 0h0m7 0h0m3 0h0m2 0h0m-124 1h0m2 0h0m12 0h0m3 0h0m4 0h0m13 0h0m3 0h0m3 0h0m7 0h0m3 0h0m3 0h0m3 0h0m8 0h1m11 0h1m2 0h0m5 0h0m3 0h0m2 0h0m9 0h1m2 0h0m7 0h0m8 0h1m2 0h0m3 0h0m34 0h0m-179 1h0m13 0h0m35 0h0m9 0h0m11 0h0m11 0h0m11 0h1m8 0h0m9 0h0m3 0h0m8 0h0m6 0h0m4 0h0m2 0h0m3 0h0m26 0h0m24 0h0m-300 1h0m110 0h1m18 0h0m6 0h1m20 0h0m26 0h0m18 0h0m7 0h0m3 0h0m14 0h0m5 0h0m12 0h0m4 0h0m9 0h0m16 0h0m-168 1h0m16 0h0m18 0h0m6 0h0m22 0h0m33 0h0m30 0h0m5 0h0m3 0h0m3 0h2m2 0h0m6 0h0m4 0h0m-126 1h0m4 0h0m27 0h0m7 0h0m16 0h0m9 0h0m13 0h0m5 0h0m9 0h0m2 0h0m5 0h0m38 0h0m24 0h0m-181 1h1m24 0h0m19 0h0m5 0h0m16 0h0m21 0h1m8 0h0m9 0h1m2 0h0m37 0h1m11 0h0m-153 1h0m16 0h0m3 0h0m2 0h0m45 0h0m14 0h1m22 0h0m11 0h0m7 0h0m-128 1h0m21 0h0m3 0h0m34 0h0m21 0h0m9 0h0m11 0h0m15 0h0m7 0h0m5 0h0m2 0h0m11 0h0m3 0h0m10 0h0m13 0h0m14 0h0m-167 1h1m25 0h0m7 0h0m7 0h0m2 0h0m7 0h0m10 0h0m15 0h0m2 0h1m3 0h0m12 0h0m8 0h0m10 0h0m10 0h1m20 0h0m2 0h0m-169 1h0m15 0h0m15 0h0m3 0h1m13 0h0m2 0h0m15 0h0m2 0h0m10 0h0m16 0h0m10 0h0m4 0h0m3 0h1m29 0h0m3 0h0m7 0h0m9 0h0m25 0h0m-175 1h1m40 0h0m8 0h0m12 0h0m7 0h0m9 0h0m6 0h0m21 0h0m4 0h0m6 0h0m14 0h0m13 0h0m4 0h0m6 0h0m3 0h1m4 0h0m6 0h0m3 0h0m-180 1h0m8 0h0m16 0h0m9 0h0m33 0h0m21 0h1m4 0h0m14 0h0m9 0h0m9 0h0m54 0h0m-140 1h0m2 0h0m18 0h0m18 0h0m8 0h0m2 0h0m32 0h1m10 0h0m22 0h0m3 0h0m11 0h0m30 0h0m13 0h0m-243 1h0m49 0h0m24 0h0m13 0h0m35 0h1m2 0h0m4 0h0m2 0h0m14 0h0m11 0h0m19 0h0m7 0h1m9 0h0m8 0h0m49 0h0m-266 1h0m90 0h2m15 0h0m6 0h0m14 0h0m11 0h0m5 0h0m19 0h0m15 0h0m6 0h0m19 0h0m42 0h0m-203 1h0m8 0h0m5 0h0m28 0h0m6 0h0m21 0h0m7 0h0m8 0h0m10 0h0m6 0h0m16 0h0m21 0h0m23 0h0m13 0h0m11 0h0m-140 1h0m15 0h0m2 0h0m11 0h0m21 0h0m3 0h0m32 0h0m27 0h0m29 0h0m-158 1h0m17 0h0m24 0h0m7 0h2m2 0h1m3 0h0m8 0h0m28 0h0m3 0h0m11 0h0m74 0h0m-176 1h0m10 0h0m13 0h1m8 0h0m3 0h1m2 0h0m3 0h2m5 0h0m3 0h1m45 0h0m14 0h0m29 0h0m42 0h0m-258 1h0m57 0h0m34 0h0m14 0h0m31 0h0m52 0h0m-146 1h0m33 0h0m13 0h1m17 0h0m5 0h1m21 0h0m20 0h0m15 0h0m2 0h0m-110 1h0m4 0h0m19 0h0m2 0h0m7 0h1m5 0h0m2 0h1m10 0h0m18 0h0m3 0h0m9 0h0m17 0h0m26 0h0m-217 1h0m102 0h0m3 0h0m4 0h0m4 0h0m37 0h0m6 0h0m12 0h0m9 0h0m5 0h0m12 0h0m31 0h0m31 0h0m-233 1h0m68 0h0m18 0h0m14 0h0m7 0h0m9 0h0m2 0h0m24 0h0m36 0h1m5 0h0m7 0h0m9 0h0m-148 1h0m2 0h0m38 0h0m3 0h0m2 0h0m6 0h0m9 0h0m4 0h1m8 0h0m31 0h0m11 0h0m37 0h0m15 0h0m14 0h0m32 0h0m-286 1h0m47 0h0m67 0h1m5 0h2m3 0h0m9 0h0m5 0h0m2 0h1m10 0h0m9 0h1m2 0h0m2 0h0m4 0h0m15 0h0m24 0h0m5 0h0m-223 1h0m28 0h0m22 0h0m39 0h0m4 0h0m40 0h0m2 0h0m7 0h0m2 0h0m7 0h1m4 0h0m6 0h1m2 0h0m8 0h0m5 0h0m3 0h0m10 0h0m19 0h0m27 0h0m-153 1h0m11 0h0m19 0h0m10 0h0m6 0h0m6 0h0m17 0h0m8 0h0m2 0h0m5 0h0m9 0h0m4 0h0m2 0h0m24 0h0m6 0h0m2 0h0m-160 1h0m4 0h0m7 0h0m11 0h0m36 0h0m4 0h0m7 0h0m3 0h0m11 0h0m7 0h0m12 0h0m5 0h0m3 0h0m8 0h0m13 0h0m-121 1h0m11 0h0m24 0h0m6 0h0m7 0h0m4 0h0m7 0h0m3 0h0m6 0h0m4 0h1m20 0h0m6 0h0m2 0h0m5 0h0m4 0h0m14 0h0m7 0h0m4 0h0m4 0h0m19 0h0m-223 1h0m87 0h0m8 0h0m4 0h0m13 0h0m20 0h1m5 0h0m6 0h0m6 0h2m2 0h0m2 0h0m16 0h0m2 0h0m5 0h0m7 0h0m49 0h0m19 0h0m-284 1h0m57 0h0m34 0h0m25 0h0m14 0h0m4 0h0m21 0h0m3 0h0m5 0h0m8 0h0m5 0h0m8 0h0m10 0h0m6 0h0m5 0h0m3 0h0m7 0h0m10 0h0m9 0h0m13 0h0m-208 1h0m72 0h0m3 0h1m26 0h0m14 0h0m2 0h0m2 0h0m3 0h2m2 0h0m6 0h0m14 0h0m6 0h0m3 0h1m12 0h0m7 0h0m47 0h0m-165 1h0m22 0h0m18 0h0m32 0h0m5 0h0m5 0h1m27 0h0m2 0h1m30 0h0m-203 1h0m42 0h0m15 0h0m19 0h0m20 0h0m18 0h0m9 0h3m2 0h0m10 0h0m2 0h1m8 0h0m6 0h0m10 0h0m3 0h1m6 0h0m2 0h1m11 0h0m50 0h0m-182 1h0m37 0h0m13 0h0m2 0h0m3 0h0m3 0h0m6 0h0m12 0h0m4 0h0m8 0h0m8 0h0m10 0h0m7 0h0m10 0h0m2 0h0m5 0h1m2 0h0m3 0h0m36 0h0m12 0h0m-239 1h0m34 0h0m7 0h0m49 0h0m3 0h0m12 0h0m12 0h1m3 0h0m9 0h0m4 0h0m2 0h0m11 0h0m4 0h0m6 0h0m2 0h0m5 0h0m3 0h0m9 0h0m5 0h0m12 0h0m-185 1h0m34 0h0m42 0h1m23 0h0m23 0h0m5 0h0m6 0h0m15 0h0m2 0h1m4 0h2m2 0h0m40 0h0m13 0h0m-173 1h0m4 0h0m46 0h1m7 0h0m6 0h0m3 0h0m2 0h0m10 0h2m12 0h1m4 0h0m4 0h0m4 0h0m3 0h1m12 0h0m2 0h0m3 0h0m12 0h0m3 0h0m13 0h0m-235 1h0m46 0h0m15 0h0m6 0h0m7 0h0m15 0h0m2 0h0m7 0h0m42 0h1m2 0h0m2 0h0m11 0h0m2 0h0m6 0h0m11 0h0m7 0h0m2 0h0m13 0h0m6 0h0m11 0h0m5 0h0m10 0h0m-229 1h0m11 0h0m48 0h0m2 0h0m2 0h0m2 0h0m4 0h0m24 0h0m21 0h0m25 0h0m14 0h0m5 0h0m2 0h0m2 0h0m2 0h1m6 0h0m7 0h1m3 0h0m10 0h1m2 0h0m6 0h0m2 0h0m8 0h0m3 0h0m9 0h0m22 0h0m-192 1h0m13 0h0m2 0h0m8 0h0m33 0h0m4 0h0m4 0h0m6 0h0m6 0h0m2 0h0m2 0h0m3 0h0m6 0h0m3 0h0m19 0h1m3 0h0m13 0h0m2 0h0m8 0h0m15 0h0m3 0h2m6 0h0m12 0h0m4 0h0m-135 1h0m16 0h0m10 0h0m7 0h0m3 0h0m10 0h0m2 0h1m2 0h0m6 0h1m5 0h0m3 0h0m2 0h1m3 0h0m9 0h1m5 0h0m3 0h0m5 0h3m2 0h0m3 0h0m12 0h0m2 0h0m16 0h0m10 0h0m34 0h0m-259 1h0m57 0h0m26 0h0m23 0h0m2 0h0m7 0h0m11 0h1m7 0h0m7 0h0m5 0h0m2 0h0m2 0h0m5 0h0m2 0h0m5 0h0m2 0h0m3 0h1m9 0h1m11 0h0m6 0h0m6 0h0m4 0h0m6 0h0m28 0h0m-281 1h0m11 0h0m59 0h0m13 0h0m4 0h0m9 0h0m45 0h0m10 0h0m3 0h0m9 0h0m11 0h0m7 0h1m4 0h0m2 0h2m3 0h0m2 0h1m10 0h0m3 0h0m6 0h0m5 0h3m8 0h0m8 0h0m6 0h0m17 0h0m-262 1h0m121 0h0m3 0h0m18 0h0m4 0h0m7 0h0m17 0h0m4 0h0m2 0h0m3 0h1m2 0h0m2 0h0m4 0h0m2 0h0m7 0h2m3 0h2m2 0h0m23 0h0m9 0h0m8 0h0m3 0h0m7 0h0m26 0h0m-245 1h0m15 0h0m22 0h0m6 0h0m14 0h0m25 0h0m26 0h0m6 0h0m11 0h1m20 0h0m2 0h0m2 0h0m3 0h0m6 0h3m10 0h3m3 0h0m2 0h0m30 0h0m10 0h1m-258 1h0m19 0h0m7 0h0m16 0h0m10 0h0m42 0h0m5 0h0m25 0h0m18 0h0m24 0h0m5 0h0m3 0h0m5 0h0m3 0h0m3 0h0m2 0h1m9 0h0m5 0h1m3 0h1m3 0h0m3 0h0m3 0h0m3 0h0m4 0h0m3 0h0m-135 1h0m3 0h0m15 0h0m4 0h0m13 0h0m19 0h0m9 0h0m7 0h0m2 0h0m3 0h0m5 0h1m2 0h1m6 0h0m4 0h1m3 0h0m2 0h0m7 0h2m2 0h0m2 0h0m2 0h1m4 0h1m4 0h1m3 0h0m3 0h0m10 0h1m17 0h0m-214 1h0m35 0h0m22 0h0m50 0h0m2 0h1m15 0h1m4 0h0m7 0h0m3 0h0m3 0h1m7 0h0m4 0h0m4 0h0m2 0h1m3 0h0m2 0h1m6 0h0m5 0h0m15 0h0m3 0h0m7 0h0m14 0h0m-192 1h0m89 0h0m6 0h0m5 0h0m6 0h0m3 0h0m5 0h0m2 0h1m6 0h0m3 0h0m2 0h0m2 0h2m2 0h0m4 0h0m2 0h2m2 0h0m2 0h0m3 0h1m5 0h1m3 0h0m3 0h0m8 0h0m31 0h0m3 0h0m-230 1h0m12 0h0m3 0h0m9 0h0m13 0h0m3 0h0m3 0h0m5 0h0m5 0h0m4 0h0m11 0h1m11 0h0m6 0h0m5 0h0m6 0h0m10 0h0m14 0h0m5 0h0m3 0h0m3 0h1m2 0h0m6 0h0m2 0h0m2 0h0m2 0h0m2 0h1m2 0h0m2 0h1m2 0h0m2 0h0m2 0h0m2 0h1m2 0h0m11 0h0m6 0h1m4 0h0m2 0h0m5 0h0m6 0h0m25 0h0m5 0h1m2 0h0m-252 1h0m18 0h0m15 0h0m9 0h0m25 0h0m15 0h0m7 0h0m4 0h0m14 0h0m8 0h0m7 0h0m31 0h0m3 0h0m6 0h0m5 0h0m4 0h0m6 0h0m3 0h0m2 0h2m2 0h1m3 0h1m3 0h1m2 0h2m5 0h0m5 0h1m4 0h0m-233 1h0m46 0h0m28 0h0m20 0h1m4 0h0m21 0h0m39 0h0m8 0h0m3 0h0m2 0h0m6 0h1m2 0h0m3 0h0m3 0h1m8 0h0m5 0h5m4 0h0m2 0h0m8 0h1m3 0h0m3 0h0m6 0h0m4 0h0m11 0h0m-248 1h0m32 0h0m38 0h0m10 0h0m6 0h0m4 0h0m9 0h0m5 0h0m10 0h0m6 0h0m27 0h0m4 0h0m13 0h1m2 0h1m4 0h0m2 0h0m4 0h1m7 0h0m2 0h2m2 0h1m4 0h0m4 0h0m4 0h2m4 0h0m3 0h0m3 0h0m3 0h0m2 0h0m2 0h0m4 0h0m4 0h0m10 0h0m6 0h0m2 0h0m3 0h0m16 0h0m-250 1h0m27 0h0m20 0h0m6 0h0m5 0h0m9 0h0m10 0h0m5 0h1m8 0h0m3 0h1m5 0h0m4 0h1m7 0h0m14 0h0m2 0h0m6 0h1m4 0h0m7 0h0m5 0h0m6 0h1m9 0h0m2 0h0m2 0h0m3 0h1m4 0h0m2 0h0m8 0h0m6 0h0m3 0h0m3 0h0m9 0h0m3 0h0m6 0h0m11 0h0m10 0h0m-248 1h0m38 0h0m14 0h0m7 0h0m10 0h0m13 0h0m15 0h0m10 0h0m17 0h0m23 0h0m2 0h0m3 0h0m5 0h0m2 0h0m5 0h0m2 0h0m2 0h0m4 0h0m4 0h4m2 0h1m5 0h1m2 0h1m2 0h0m2 0h3m2 0h2m3 0h1m3 0h0m2 0h0m2 0h0m2 0h3m4 0h0m3 0h0m6 0h1m-186 1h0m3 0h0m11 0h0m17 0h0m4 0h0m6 0h0m4 0h0m7 0h0m2 0h0m4 0h0m39 0h0m2 0h0m3 0h0m5 0h0m4 0h1m6 0h1m2 0h0m4 0h0m3 0h0m3 0h0m2 0h1m3 0h0m2 0h0m2 0h1m3 0h3m2 0h0m2 0h1m3 0h0m5 0h0m2 0h0m6 0h0m21 0h0m3 0h0m17 0h0m-257 1h0m15 0h0m20 0h0m15 0h0m7 0h0m4 0h0m14 0h0m6 0h1m13 0h0m4 0h2m2 0h0m6 0h1m16 0h0m4 0h0m2 0h0m6 0h0m5 0h1m2 0h0m5 0h0m2 0h0m3 0h0m2 0h2m2 0h0m3 0h2m2 0h3m3 0h0m6 0h0m5 0h3m3 0h0m2 0h1m2 0h0m5 0h1m2 0h0m11 0h0m6 0h2m11 0h0m14 0h0m17 0h0m-235 1h0m30 0h0m4 0h0m6 0h0m4 0h1m8 0h0m8 0h1m4 0h0m25 0h0m12 0h0m11 0h0m2 0h0m4 0h0m2 0h2m4 0h0m2 0h1m2 0h1m3 0h1m2 0h0m3 0h1m3 0h0m2 0h0m3 0h1m2 0h1m2 0h1m3 0h1m7 0h0m2 0h0m4 0h4m2 0h0m4 0h0m3 0h1m4 0h0m5 0h0m6 0h0m2 0h0m5 0h0m-205 1h0m7 0h0m10 0h0m2 0h0m2 0h0m10 0h0m6 0h1m2 0h2m2 0h1m5 0h1m3 0h0m3 0h0m2 0h0m3 0h0m40 0h0m8 0h0m14 0h1m4 0h1m2 0h1m5 0h0m2 0h1m4 0h2m6 0h0m2 0h0m2 0h3m3 0h1m3 0h0m4 0h1m3 0h0m6 0h0m4 0h0m14 0h0m4 0h0m-233 1h0m27 0h0m17 0h0m3 0h0m6 0h0m7 0h1m7 0h0m12 0h0m4 0h0m2 0h0m2 0h0m3 0h2m6 0h0m2 0h1m11 0h0m16 0h0m8 0h0m10 0h1m2 0h4m3 0h0m4 0h1m2 0h1m2 0h0m2 0h1m3 0h0m4 0h0m2 0h2m2 0h0m3 0h0m2 0h0m4 0h3m4 0h0m2 0h1m2 0h0m10 0h0m2 0h0m15 0h1m5 0h0m7 0h0m9 0h0m19 0h0m-280 1h0m21 0h0m17 0h0m9 0h0m5 0h0m5 0h0m2 0h0m2 0h0m5 0h0m8 0h2m5 0h0m6 0h2m4 0h0m4 0h0m4 0h0m19 0h0m15 0h0m3 0h0m9 0h0m2 0h0m2 0h1m3 0h0m2 0h2m5 0h0m2 0h1m2 0h1m3 0h2m2 0h3m2 0h0m2 0h0m2 0h1m5 0h2m5 0h0m2 0h1m2 0h0m2 0h1m3 0h0m3 0h0m2 0h2m2 0h0m3 0h0m3 0h0m2 0h0m4 0h0m11 0h0m6 0h0m13 0h0m-240 1h0m26 0h0m3 0h0m9 0h0m6 0h0m7 0h0m11 0h0m3 0h0m3 0h0m8 0h1m8 0h0m5 0h0m3 0h0m33 0h0m3 0h0m3 0h1m5 0h0m5 0h0m6 0h0m3 0h0m2 0h0m2 0h1m3 0h0m2 0h0m3 0h1m2 0h4m3 0h0m2 0h1m6 0h0m2 0h0m2 0h0m2 0h0m2 0h0m8 0h0m2 0h0m2 0h0m5 0h0m4 0h1m33 0h0m-279 1h0m32 0h0m10 0h0m10 0h0m6 0h0m14 0h0m2 0h0m2 0h0m9 0h2m4 0h0m3 0h1m7 0h0m8 0h0m2 0h0m3 0h0m33 0h0m2 0h0m12 0h1m2 0h0m4 0h1m5 0h0m3 0h1m4 0h0m7 0h0m5 0h3m2 0h0m2 0h2m3 0h1m4 0h1m2 0h1m3 0h0m2 0h0m4 0h1m2 0h0m6 0h0m5 0h0m3 0h0m3 0h0m3 0h1m6 0h1m8 0h0m-253 1h0m21 0h0m14 0h0m10 0h0m7 0h0m3 0h0m10 0h0m6 0h0m4 0h0m3 0h0m4 0h0m6 0h0m5 0h0m3 0h0m2 0h0m5 0h0m5 0h0m3 0h1m4 0h0m11 0h0m2 0h0m5 0h0m3 0h0m9 0h0m6 0h0m3 0h1m4 0h1m2 0h2m2 0h2m4 0h3m2 0h2m3 0h2m3 0h0m2 0h0m2 0h3m2 0h5m3 0h0m2 0h0m2 0h0m2 0h0m2 0h2m2 0h0m5 0h0m7 0h1m5 0h0m7 0h0m3 0h0m7 0h0m-263 1h0m56 0h0m14 0h0m10 0h0m3 0h0m2 0h1m3 0h1m2 0h0m6 0h0m4 0h0m6 0h0m4 0h0m7 0h0m6 0h1m11 0h0m11 0h0m5 0h0m9 0h0m2 0h0m4 0h0m2 0h0m4 0h1m2 0h1m7 0h2m2 0h0m3 0h3m2 0h0m4 0h4m5 0h0m5 0h0m6 0h1m13 0h0m3 0h0m9 0h0m5 0h0m5 0h0m-257 1h0m19 0h0m30 0h0m7 0h0m2 0h0m10 0h0m2 0h0m2 0h0m4 0h1m3 0h0m2 0h1m3 0h1m3 0h0m3 0h0m2 0h0m3 0h1m2 0h0m4 0h0m9 0h0m2 0h0m5 0h0m12 0h0m3 0h0m2 0h0m3 0h1m3 0h0m6 0h0m5 0h0m13 0h0m2 0h0m2 0h2m2 0h0m2 0h0m3 0h0m2 0h2m3 0h1m3 0h6m2 0h0m3 0h0m2 0h5m2 0h2m3 0h1m3 0h0m2 0h2m4 0h2m2 0h2m9 0h1m9 0h0m7 0h1m22 0h0m-274 1h0m31 0h0m7 0h0m12 0h0m2 0h0m5 0h0m6 0h0m3 0h0m2 0h0m3 0h0m9 0h2m3 0h0m4 0h0m3 0h1m8 0h0m2 0h0m2 0h0m2 0h0m8 0h0m4 0h0m5 0h1m6 0h0m19 0h0m3 0h0m8 0h0m3 0h0m3 0h1m2 0h1m2 0h0m3 0h0m2 0h1m2 0h2m2 0h1m3 0h0m3 0h0m2 0h5m6 0h2m9 0h0m3 0h0m7 0h0m6 0h0m-243 1h0m11 0h0m47 0h0m3 0h0m5 0h0m2 0h0m2 0h0m4 0h0m2 0h1m2 0h1m3 0h0m2 0h0m2 0h0m4 0h4m3 0h1m9 0h0m5 0h0m7 0h0m11 0h0m10 0h1m7 0h0m5 0h1m4 0h0m9 0h1m3 0h0m2 0h0m3 0h2m5 0h4m3 0h1m2 0h15m3 0h0m3 0h2m4 0h0m2 0h0m2 0h0m2 0h1m2 0h0m9 0h0m15 0h0m4 0h0m-258 1h0m19 0h0m7 0h0m6 0h0m14 0h0m10 0h0m7 0h0m9 0h0m2 0h0m2 0h0m3 0h1m2 0h0m3 0h0m2 0h0m2 0h0m3 0h0m2 0h1m2 0h2m5 0h1m14 0h1m8 0h0m6 0h0m18 0h1m4 0h1m4 0h0m3 0h3m2 0h2m2 0h0m5 0h1m2 0h0m6 0h0m2 0h0m8 0h0m4 0h0m2 0h0m2 0h0m2 0h1m4 0h4m3 0h0m3 0h0m3 0h0m4 0h0m2 0h1m2 0h1m15 0h0m2 0h0m12 0h0m-254 1h0m26 0h0m9 0h0m12 0h0m12 0h0m2 0h0m2 0h0m6 0h0m5 0h0m6 0h1m2 0h0m2 0h0m14 0h0m2 0h0m13 0h0m25 0h0m7 0h3m9 0h0m3 0h0m6 0h1m5 0h0m3 0h2m2 0h1m3 0h1m2 0h1m3 0h1m2 0h1m2 0h1m2 0h2m3 0h0m2 0h0m2 0h0m2 0h0m3 0h1m5 0h1m4 0h1m6 0h0m4 0h0m-247 1h0m19 0h0m18 0h0m9 0h0m3 0h0m7 0h0m2 0h0m3 0h0m2 0h0m3 0h0m2 0h0m8 0h1m2 0h1m2 0h1m2 0h1m3 0h0m4 0h0m2 0h0m5 0h0m2 0h2m2 0h3m4 0h0m3 0h1m2 0h0m2 0h1m8 0h1m4 0h0m3 0h0m5 0h0m5 0h0m3 0h1m4 0h0m3 0h1m2 0h0m2 0h1m3 0h0m3 0h0m3 0h2m3 0h0m2 0h2m2 0h5m3 0h7m2 0h3m2 0h2m3 0h2m2 0h2m5 0h3m4 0h4m2 0h0m9 0h1m11 0h0m4 0h0m7 0h0m-268 1h0m37 0h0m15 0h0m16 0h0m2 0h0m4 0h0m2 0h1m3 0h0m2 0h1m2 0h1m3 0h0m2 0h1m2 0h4m4 0h0m14 0h0m32 0h1m13 0h0m2 0h0m3 0h0m7 0h0m4 0h0m4 0h2m4 0h1m2 0h3m3 0h1m6 0h2m4 0h0m3 0h0m2 0h3m2 0h0m2 0h0m3 0h0m4 0h3m17 0h0m7 0h1m-257 1h0m42 0h0m16 0h0m5 0h0m7 0h0m4 0h0m2 0h1m2 0h1m3 0h0m3 0h1m2 0h0m2 0h0m3 0h0m2 0h1m4 0h3m7 0h0m2 0h0m8 0h0m5 0h1m3 0h2m10 0h0m5 0h1m2 0h0m3 0h1m12 0h0m3 0h3m6 0h3m3 0h0m2 0h1m2 0h3m2 0h1m2 0h1m2 0h1m2 0h3m2 0h1m3 0h0m2 0h1m2 0h1m2 0h0m5 0h0m9 0h0m7 0h0m8 0h0m8 0h0m-257 1h0m26 0h0m6 0h0m14 0h0m3 0h0m3 0h0m6 0h0m8 0h0m4 0h0m4 0h0m6 0h0m5 0h0m5 0h0m2 0h1m4 0h0m2 0h5m3 0h3m5 0h0m7 0h0m2 0h0m23 0h0m17 0h0m2 0h1m2 0h0m4 0h1m3 0h1m2 0h0m2 0h1m5 0h6m2 0h0m2 0h0m5 0h2m2 0h1m2 0h0m3 0h0m4 0h2m3 0h0m3 0h0m2 0h1m4 0h0m3 0h1m4 0h1m11 0h0m-241 1h0m8 0h0m7 0h0m16 0h0m4 0h0m12 0h0m10 0h0m2 0h0m2 0h0m7 0h0m3 0h0m7 0h0m5 0h1m3 0h0m2 0h1m4 0h2m10 0h0m3 0h1m7 0h1m18 0h0m6 0h0m13 0h1m5 0h3m2 0h4m2 0h0m2 0h2m2 0h4m3 0h4m3 0h0m2 0h0m4 0h8m2 0h1m2 0h4m3 0h1m6 0h0m4 0h0m4 0h0m3 0h0m42 0h0m-243 1h0m3 0h0m3 0h0m4 0h0m7 0h0m3 0h0m2 0h0m9 0h0m2 0h0m6 0h1m6 0h0m3 0h0m2 0h0m3 0h0m6 0h0m3 0h0m4 0h0m16 0h0m4 0h0m4 0h0m20 0h1m18 0h1m5 0h0m3 0h4m3 0h2m2 0h1m3 0h0m6 0h3m2 0h0m2 0h1m3 0h0m9 0h0m3 0h0m4 0h0m8 0h0m5 0h2m-216 1h0m5 0h0m9 0h0m3 0h0m3 0h0m4 0h0m2 0h0m5 0h0m3 0h0m2 0h0m2 0h0m6 0h0m3 0h0m3 0h1m6 0h1m2 0h0m2 0h0m4 0h0m3 0h0m3 0h0m5 0h1m3 0h0m3 0h0m2 0h2m13 0h0m5 0h0m11 0h0m5 0h0m2 0h1m6 0h0m3 0h0m2 0h1m2 0h0m2 0h1m2 0h0m2 0h5m2 0h0m2 0h1m6 0h0m3 0h1m2 0h8m2 0h3m3 0h0m2 0h1m2 0h0m4 0h0m4 0h0m2 0h0m2 0h2m2 0h0m3 0h0m10 0h0m6 0h0m13 0h0m-258 1h0m8 0h0m7 0h0m6 0h0m14 0h0m3 0h0m17 0h0m6 0h0m2 0h0m3 0h0m3 0h0m3 0h0m2 0h2m2 0h0m2 0h2m2 0h4m3 0h0m2 0h0m3 0h0m3 0h0m2 0h0m11 0h0m6 0h0m7 0h0m9 0h0m8 0h0m4 0h0m4 0h0m2 0h0m5 0h0m3 0h0m2 0h1m2 0h0m3 0h3m3 0h4m2 0h1m2 0h1m2 0h0m2 0h2m2 0h7m3 0h4m4 0h2m2 0h2m16 0h0m2 0h0m10 0h0m-255 1h0m19 0h0m18 0h0m5 0h0m4 0h0m3 0h0m7 0h0m2 0h0m3 0h0m2 0h0m3 0h0m4 0h0m4 0h0m2 0h1m5 0h0m3 0h1m3 0h0m2 0h3m2 0h2m4 0h0m2 0h0m2 0h0m2 0h0m3 0h1m2 0h0m3 0h0m3 0h0m17 0h0m2 0h0m3 0h2m2 0h0m4 0h0m3 0h0m4 0h6m2 0h0m2 0h0m3 0h0m4 0h0m7 0h2m2 0h0m2 0h1m2 0h1m2 0h4m3 0h0m2 0h0m4 0h1m2 0h0m2 0h5m2 0h0m3 0h0m2 0h0m11 0h1m2 0h0m10 0h0m-247 1h0m11 0h0m45 0h0m5 0h0m2 0h0m5 0h0m8 0h0m3 0h0m6 0h0m4 0h1m2 0h0m2 0h2m3 0h0m6 0h0m3 0h0m2 0h0m3 0h0m8 0h0m18 0h0m3 0h0m13 0h0m10 0h1m2 0h0m4 0h1m2 0h4m4 0h1m2 0h0m5 0h0m4 0h2m3 0h1m3 0h0m3 0h1m7 0h0m5 0h0m9 0h0m2 0h1m9 0h0m-241 1h0m19 0h0m33 0h0m4 0h0m5 0h0m2 0h0m3 0h0m2 0h0m4 0h0m4 0h1m2 0h1m2 0h1m6 0h4m2 0h5m2 0h2m2 0h0m2 0h0m2 0h0m3 0h0m6 0h1m2 0h1m5 0h0m3 0h1m4 0h0m4 0h0m14 0h0m4 0h0m2 0h0m2 0h2m2 0h0m2 0h1m3 0h1m2 0h1m3 0h3m2 0h3m3 0h3m2 0h0m2 0h7m3 0h0m2 0h1m4 0h0m2 0h1m2 0h1m5 0h0m2 0h1m4 0h1m2 0h0m5 0h0m4 0h1m6 0h0m9 0h0m4 0h0m-264 1h0m11 0h0m8 0h0m18 0h0m5 0h0m4 0h0m6 0h0m9 0h0m2 0h0m3 0h0m2 0h0m2 0h0m2 0h0m2 0h0m3 0h0m2 0h1m2 0h1m2 0h2m2 0h2m3 0h4m5 0h0m3 0h0m2 0h2m3 0h1m9 0h1m18 0h3m2 0h0m7 0h0m2 0h0m2 0h0m7 0h0m4 0h0m2 0h5m3 0h1m2 0h7m3 0h1m2 0h1m2 0h4m2 0h4m3 0h1m2 0h4m2 0h3m5 0h0m2 0h0m3 0h0m2 0h0m5 0h0m6 0h1m18 0h0m37 0h0m-291 1h0m26 0h0m5 0h0m7 0h0m14 0h0m3 0h0m2 0h0m2 0h0m2 0h0m4 0h1m2 0h1m6 0h1m3 0h0m3 0h0m4 0h4m2 0h2m4 0h0m7 0h0m3 0h1m4 0h0m11 0h0m13 0h0m6 0h1m4 0h0m6 0h0m3 0h0m2 0h1m4 0h0m2 0h0m4 0h1m2 0h0m4 0h2m2 0h0m2 0h0m2 0h5m2 0h3m7 0h1m2 0h0m2 0h0m4 0h0m2 0h0m2 0h0m5 0h3m10 0h0m10 0h0m16 0h0m-270 1h0m11 0h0m8 0h0m7 0h0m16 0h0m7 0h0m3 0h0m4 0h0m2 0h0m3 0h0m2 0h0m3 0h0m2 0h0m2 0h0m2 0h0m2 0h0m3 0h0m2 0h1m2 0h1m2 0h0m4 0h0m2 0h3m2 0h0m3 0h3m2 0h3m2 0h0m2 0h1m2 0h0m8 0h2m4 0h0m6 0h0m14 0h0m7 0h0m5 0h0m2 0h1m5 0h0m6 0h2m2 0h2m2 0h5m3 0h6m3 0h2m2 0h1m2 0h2m3 0h2m3 0h4m6 0h3m2 0h0m5 0h0m3 0h0m10 0h0m13 0h0m27 0h0m-278 1h0m8 0h0m13 0h0m29 0h0m11 0h0m4 0h1m2 0h0m3 0h0m4 0h1m3 0h3m3 0h0m2 0h0m3 0h0m4 0h0m2 0h0m2 0h1m8 0h0m6 0h0m2 0h0m3 0h0m7 0h0m6 0h0m11 0h0m2 0h0m8 0h3m3 0h0m8 0h0m2 0h3m2 0h0m4 0h2m2 0h0m2 0h1m2 0h1m2 0h0m4 0h2m2 0h0m3 0h0m10 0h0m6 0h1m3 0h0m2 0h0m10 0h0m7 0h0m25 0h0m-275 1h0m11 0h0m38 0h0m9 0h0m8 0h0m2 0h0m4 0h0m4 0h0m3 0h0m4 0h0m2 0h0m4 0h4m2 0h0m3 0h0m3 0h0m3 0h0m3 0h0m14 0h0m9 0h0m13 0h0m11 0h0m2 0h0m4 0h0m2 0h0m3 0h0m8 0h0m3 0h1m2 0h0m2 0h0m3 0h1m3 0h1m2 0h1m3 0h1m7 0h0m5 0h0m2 0h0m7 0h1m3 0h0m2 0h0m3 0h0m4 0h0m10 0h1m5 0h0m-246 1h0m11 0h0m8 0h0m18 0h0m5 0h0m16 0h0m3 0h0m2 0h0m3 0h0m4 0h0m2 0h0m2 0h0m3 0h0m2 0h0m3 0h1m2 0h2m2 0h2m3 0h1m2 0h0m3 0h0m2 0h7m2 0h3m2 0h1m2 0h1m8 0h2m5 0h0m7 0h0m4 0h0m5 0h0m2 0h2m3 0h0m9 0h3m2 0h1m2 0h2m2 0h3m2 0h0m2 0h2m2 0h4m3 0h0m3 0h0m2 0h0m2 0h6m2 0h2m3 0h3m2 0h0m2 0h2m2 0h1m2 0h0m2 0h0m2 0h0m8 0h0m2 0h0m2 0h0m6 0h0m8 0h0m-261 1h0m19 0h0m23 0h0m4 0h0m3 0h0m9 0h0m3 0h0m2 0h0m5 0h0m2 0h0m7 0h0m2 0h0m3 0h1m6 0h0m2 0h0m3 0h0m3 0h2m2 0h0m3 0h0m4 0h0m3 0h0m3 0h0m3 0h0m8 0h0m7 0h0m9 0h0m8 0h0m5 0h0m2 0h0m10 0h0m2 0h0m5 0h0m3 0h0m2 0h0m4 0h2m4 0h0m3 0h3m3 0h0m2 0h0m2 0h0m3 0h2m2 0h1m5 0h0m3 0h1m2 0h0m6 0h0m9 0h0m3 0h0m-219 1h0m7 0h0m20 0h0m3 0h0m14 0h0m5 0h0m2 0h0m2 0h0m4 0h1m2 0h1m2 0h1m3 0h0m6 0h0m3 0h0m5 0h1m6 0h2m3 0h0m7 0h1m3 0h0m2 0h0m10 0h0m4 0h0m13 0h1m3 0h0m3 0h0m8 0h0m8 0h3m5 0h0m2 0h1m3 0h0m3 0h7m4 0h0m2 0h1m4 0h0m4 0h0m4 0h0m4 0h0m4 0h0m5 0h0m4 0h0m2 0h0m7 0h0m2 0h0m-246 1h0m11 0h0m8 0h0m13 0h0m14 0h0m6 0h0m9 0h0m13 0h0m3 0h0m2 0h1m6 0h1m3 0h0m2 0h0m6 0h1m4 0h2m2 0h0m4 0h0m2 0h1m2 0h0m27 0h0m12 0h0m3 0h0m4 0h0m5 0h0m10 0h0m4 0h0m2 0h0m2 0h1m3 0h0m2 0h0m5 0h0m3 0h2m3 0h0m6 0h0m2 0h1m5 0h0m3 0h0m2 0h1m4 0h0m5 0h0m10 0h0m2 0h0m2 0h0m-247 1h0m11 0h0m8 0h0m13 0h0m10 0h0m4 0h0m3 0h0m3 0h0m4 0h0m2 0h0m3 0h0m2 0h0m3 0h0m2 0h0m2 0h0m2 0h0m2 0h0m3 0h0m3 0h0m2 0h1m2 0h2m2 0h6m2 0h0m2 0h0m3 0h4m2 0h2m6 0h0m3 0h3m9 0h0m3 0h0m8 0h0m4 0h0m3 0h0m2 0h1m3 0h0m4 0h0m3 0h0m2 0h2m7 0h0m2 0h4m3 0h6m3 0h0m2 0h1m2 0h3m2 0h0m2 0h2m4 0h3m2 0h6m3 0h0m3 0h2m3 0h0m4 0h0m2 0h0m3 0h0m3 0h0m2 0h3m10 0h0m13 0h0m4 0h0m-275 1h0m11 0h0m21 0h0m14 0h0m22 0h0m9 0h0m6 0h0m3 0h1m4 0h0m2 0h0m5 0h1m3 0h0m4 0h0m3 0h1m4 0h0m2 0h1m2 0h0m6 0h0m4 0h0m11 0h0m8 0h0m4 0h0m3 0h0m6 0h0m4 0h0m7 0h0m2 0h0m4 0h1m3 0h0m2 0h0m4 0h0m2 0h0m2 0h5m2 0h0m2 0h1m2 0h1m8 0h0m5 0h3m3 0h0m4 0h0m5 0h0m4 0h0m4 0h0m3 0h0m-244 1h0m11 0h0m8 0h0m7 0h0m6 0h0m10 0h0m4 0h0m3 0h0m7 0h0m2 0h0m3 0h0m2 0h0m3 0h0m8 0h0m5 0h1m2 0h1m2 0h1m5 0h2m4 0h1m4 0h0m11 0h1m10 0h1m10 0h1m15 0h1m6 0h0m3 0h0m3 0h0m6 0h1m4 0h0m2 0h0m2 0h0m2 0h1m7 0h3m2 0h0m3 0h1m2 0h2m2 0h0m4 0h0m4 0h1m2 0h3m3 0h1m3 0h0m3 0h1m13 0h0m21 0h0m10 0h0m-273 1h0m11 0h0m8 0h0m7 0h0m6 0h0m5 0h0m5 0h0m14 0h0m5 0h0m5 0h0m2 0h0m2 0h0m4 0h0m2 0h1m2 0h1m2 0h1m2 0h2m3 0h0m4 0h0m6 0h1m3 0h0m2 0h0m4 0h0m3 0h2m2 0h0m3 0h0m5 0h0m4 0h0m15 0h0m7 0h0m2 0h0m10 0h1m3 0h0m4 0h2m2 0h4m3 0h1m2 0h4m5 0h0m2 0h8m2 0h2m5 0h0m6 0h2m7 0h0m5 0h0m14 0h0m5 0h0m10 0h0m-262 1h0m11 0h0m45 0h0m2 0h0m3 0h0m2 0h0m5 0h0m6 0h0m5 0h1m2 0h0m3 0h2m2 0h0m4 0h1m4 0h0m2 0h1m2 0h1m2 0h2m2 0h0m3 0h0m7 0h0m29 0h0m6 0h0m7 0h1m4 0h0m2 0h1m5 0h0m3 0h2m3 0h1m5 0h0m5 0h1m2 0h1m2 0h2m4 0h1m2 0h0m9 0h2m12 0h0m5 0h0m15 0h0m18 0h0m-244 1h0m11 0h0m5 0h0m4 0h0m3 0h0m3 0h0m4 0h0m2 0h0m3 0h0m5 0h0m4 0h0m4 0h0m2 0h1m2 0h0m13 0h1m2 0h3m3 0h5m2 0h0m5 0h3m8 0h0m3 0h1m3 0h0m18 0h0m7 0h0m2 0h0m8 0h0m4 0h0m2 0h1m2 0h0m3 0h0m2 0h0m4 0h3m3 0h1m2 0h0m2 0h0m2 0h1m4 0h1m2 0h1m3 0h0m3 0h1m2 0h2m4 0h2m3 0h0m10 0h0m2 0h0m7 0h0m9 0h0m14 0h0m5 0h0m-273 1h0m11 0h0m26 0h0m12 0h0m3 0h0m4 0h0m5 0h0m5 0h0m2 0h0m4 0h0m2 0h0m2 0h1m2 0h1m9 0h4m2 0h0m2 0h1m3 0h0m3 0h1m4 0h1m3 0h0m3 0h0m12 0h0m9 0h0m9 0h0m4 0h1m9 0h0m12 0h0m4 0h0m2 0h0m2 0h1m3 0h4m5 0h1m2 0h0m2 0h0m2 0h2m2 0h0m2 0h0m4 0h1m6 0h2m3 0h0m11 0h0m3 0h0m14 0h0m9 0h0m-259 1h0m11 0h0m21 0h0m17 0h0m7 0h0m5 0h0m2 0h0m3 0h0m2 0h0m9 0h0m2 0h1m2 0h1m2 0h2m3 0h3m3 0h2m5 0h0m3 0h0m2 0h5m4 0h0m2 0h0m2 0h1m5 0h0m33 0h0m2 0h0m5 0h2m4 0h0m5 0h6m3 0h0m2 0h0m2 0h1m2 0h1m3 0h0m2 0h1m2 0h2m2 0h0m2 0h1m3 0h0m2 0h0m3 0h2m2 0h1m2 0h0m3 0h0m3 0h0m14 0h0m-234 1h0m8 0h0m7 0h0m11 0h0m5 0h0m4 0h0m6 0h0m16 0h0m6 0h0m2 0h1m2 0h1m3 0h0m6 0h0m3 0h0m2 0h0m2 0h1m2 0h1m2 0h0m2 0h1m3 0h1m7 0h2m12 0h0m25 0h0m3 0h0m11 0h0m8 0h2m3 0h0m5 0h1m2 0h1m3 0h3m2 0h0m4 0h0m2 0h1m5 0h2m4 0h0m3 0h1m2 0h0m2 0h0m4 0h1m2 0h0m3 0h0m4 0h0m7 0h0m6 0h0m-241 1h0m8 0h0m30 0h0m7 0h0m2 0h0m3 0h0m5 0h0m8 0h0m2 0h0m4 0h0m3 0h0m2 0h2m2 0h0m2 0h1m3 0h2m2 0h1m3 0h0m2 0h1m2 0h0m2 0h0m6 0h0m6 0h0m10 0h3m2 0h2m7 0h0m4 0h1m4 0h0m3 0h0m4 0h0m2 0h0m10 0h0m5 0h0m3 0h1m2 0h2m3 0h0m2 0h0m5 0h0m6 0h1m2 0h0m7 0h0m2 0h2m3 0h0m6 0h2m4 0h0m2 0h0m3 0h1m7 0h0m6 0h0m-251 2h0m11 0h0m8 0h0m13 0h0m5 0h0m9 0h0m3 0h0m12 0h0m5 0h0m2 0h0m2 0h0m6 0h1m2 0h1m2 0h0m4 0h1m2 0h0m2 0h1m4 0h0m3 0h1m2 0h0m2 0h1m2 0h0m3 0h0m3 0h0m2 0h0m2 0h0m4 0h1m16 0h0m3 0h0m3 0h0m3 0h0m10 0h0m12 0h0m10 0h1m2 0h1m6 0h0m5 0h0m2 0h0m3 0h2m2 0h0m3 0h7m3 0h1m3 0h0m4 0h0m2 0h1m3 0h0m2 0h1m33 0h0m-266 1h0m19 0h0m7 0h0m6 0h0m5 0h0m5 0h0m7 0h0m3 0h0m4 0h0m5 0h0m5 0h0m2 0h0m4 0h0m2 0h0m2 0h1m3 0h0m2 0h1m2 0h2m2 0h0m3 0h1m4 0h4m3 0h0m6 0h0m12 0h0m3 0h0m2 0h0m3 0h0m11 0h0m3 0h0m14 0h0m9 0h1m3 0h0m5 0h0m2 0h3m2 0h0m2 0h1m2 0h0m2 0h0m2 0h0m2 0h0m4 0h4m2 0h0m2 0h1m7 0h0m4 0h0m4 0h0m3 0h1m3 0h0m3 0h0m7 0h0m5 0h0m-218 1h0m6 0h0m5 0h0m5 0h0m4 0h0m15 0h0m2 0h0m3 0h0m2 0h0m2 0h0m4 0h0m2 0h1m2 0h1m2 0h0m5 0h0m2 0h0m2 0h2m3 0h1m2 0h0m4 0h0m3 0h4m7 0h0m17 0h0m6 0h0m25 0h0m2 0h0m8 0h1m2 0h2m2 0h0m6 0h1m2 0h1m3 0h2m4 0h0m2 0h1m2 0h0m2 0h0m2 0h0m17 0h1m2 0h1m-231 1h0m11 0h0m15 0h0m6 0h0m5 0h0m5 0h0m4 0h0m3 0h0m3 0h0m6 0h0m3 0h0m5 0h0m4 0h0m2 0h0m2 0h0m6 0h0m3 0h0m7 0h0m2 0h3m2 0h0m2 0h0m4 0h0m2 0h0m2 0h0m6 0h1m3 0h0m20 0h0m9 0h0m3 0h0m3 0h0m5 0h0m4 0h0m7 0h1m4 0h0m3 0h0m6 0h0m4 0h0m4 0h0m4 0h0m4 0h1m3 0h0m2 0h2m2 0h0m2 0h0m9 0h0m6 0h0m9 0h0m2 0h0m19 0h0m-236 2h0m13 0h0m5 0h0m15 0h0m4 0h0m2 0h0m3 0h0m2 0h0m3 0h0m2 0h0m2 0h0m4 0h0m5 0h0m3 0h0m4 0h1m2 0h1m2 0h2m2 0h0m2 0h0m6 0h0m2 0h0m2 0h1m5 0h0m2 0h0m7 0h0m7 0h0m3 0h0m6 0h0m3 0h0m13 0h1m6 0h0m7 0h0m3 0h0m2 0h0m2 0h1m3 0h1m4 0h0m2 0h2m2 0h1m3 0h0m4 0h0m2 0h1m4 0h0m6 0h4m6 0h2m6 0h0m10 0h0m20 0h0m-260 1h0m19 0h0m13 0h0m10 0h0m7 0h0m7 0h0m7 0h0m3 0h0m2 0h0m2 0h0m2 0h0m2 0h0m2 0h1m2 0h1m2 0h0m7 0h0m3 0h1m2 0h1m2 0h0m3 0h0m3 0h0m4 0h0m4 0h0m2 0h0m3 0h0m3 0h0m7 0h1m2 0h0m4 0h0m2 0h1m4 0h1m2 0h0m12 0h0m7 0h1m4 0h2m6 0h4m3 0h0m2 0h1m2 0h1m2 0h0m2 0h0m3 0h1m5 0h0m2 0h1m6 0h1m6 0h0m5 0h1m46 0h0m-270 2h0m26 0h0m6 0h0m17 0h0m12 0h0m5 0h0m2 0h0m2 0h0m7 0h0m3 0h0m3 0h0m2 0h2m4 0h0m2 0h1m3 0h1m4 0h2m3 0h1m2 0h1m2 0h0m2 0h0m8 0h0m9 0h0m6 0h0m9 0h0m7 0h0m9 0h0m2 0h0m5 0h1m2 0h0m4 0h0m2 0h1m3 0h1m4 0h0m3 0h0m2 0h0m2 0h0m3 0h0m4 0h0m4 0h1m4 0h1m3 0h0m2 0h1m7 0h0m6 0h0m10 0h0m13 0h0m5 0h0m30 0h0m-289 1h0m11 0h0m15 0h0m6 0h0m5 0h0m5 0h0m16 0h0m3 0h0m2 0h0m3 0h0m4 0h0m7 0h0m3 0h0m2 0h1m2 0h0m7 0h3m2 0h0m2 0h5m4 0h0m2 0h1m3 0h0m5 0h1m6 0h0m2 0h0m10 0h1m2 0h0m7 0h0m11 0h0m9 0h0m4 0h0m5 0h1m3 0h0m15 0h0m3 0h1m2 0h1m2 0h0m3 0h0m2 0h0m3 0h0m6 0h2m3 0h0m5 0h0m2 0h0m12 0h0m17 0h0m-260 2h0m26 0h0m6 0h0m5 0h0m12 0h0m7 0h0m5 0h0m9 0h0m2 0h0m4 0h1m8 0h0m2 0h0m6 0h4m2 0h2m2 0h0m2 0h0m4 0h0m5 0h0m5 0h0m3 0h0m7 0h0m6 0h0m6 0h0m5 0h1m6 0h0m2 0h0m8 0h1m7 0h0m3 0h2m7 0h0m10 0h2m2 0h0m4 0h0m2 0h1m2 0h0m8 0h0m9 0h1m5 0h0m3 0h0m7 0h0m3 0h0m4 0h0m39 0h0m-285 2h0m19 0h0m13 0h0m5 0h0m5 0h0m4 0h0m3 0h0m19 0h0m8 0h1m3 0h0m2 0h1m2 0h0m2 0h0m2 0h1m3 0h0m3 0h0m3 0h1m6 0h3m5 0h0m3 0h0m3 0h0m4 0h0m4 0h0m9 0h0m25 0h0m7 0h0m3 0h0m3 0h0m2 0h0m6 0h0m2 0h2m2 0h0m2 0h0m3 0h0m3 0h2m4 0h0m5 0h0m2 0h1m9 0h2m12 0h0m2 0h1m5 0h0m3 0h0m5 0h0m3 0h0m24 0h0m-277 1h0m26 0h0m6 0h0m17 0h0m3 0h0m4 0h0m5 0h0m2 0h0m9 0h0m2 0h0m5 0h0m3 0h1m2 0h0m2 0h0m3 0h0m2 0h0m6 0h0m9 0h1m2 0h0m7 0h4m6 0h1m2 0h0m4 0h0m7 0h0m2 0h1m12 0h0m3 0h1m14 0h0m2 0h0m3 0h0m5 0h0m3 0h1m2 0h1m2 0h0m3 0h0m6 0h0m3 0h1m9 0h0m6 0h0m7 0h0m2 0h1m6 0h0m3 0h0m2 0h1m4 0h0m-228 2h0m7 0h0m20 0h0m3 0h0m9 0h0m3 0h0m5 0h0m2 0h0m2 0h0m2 0h0m4 0h1m3 0h0m3 0h0m6 0h0m4 0h1m5 0h1m2 0h0m2 0h0m3 0h0m2 0h1m6 0h0m3 0h0m3 0h0m10 0h0m6 0h0m13 0h1m5 0h0m2 0h0m10 0h0m11 0h0m3 0h0m6 0h1m3 0h0m4 0h0m3 0h0m4 0h0m6 0h0m8 0h0m11 0h0m7 0h0m20 0h0m8 0h0m6 0h0m-270 2h0m11 0h0m8 0h0m44 0h0m3 0h0m2 0h0m4 0h0m4 0h1m3 0h0m7 0h0m2 0h0m4 0h2m4 0h0m4 0h2m4 0h1m3 0h0m2 0h0m8 0h0m2 0h1m6 0h0m2 0h0m24 0h0m3 0h0m9 0h1m2 0h0m4 0h0m2 0h0m5 0h0m6 0h1m4 0h0m4 0h0m2 0h0m10 0h1m4 0h0m3 0h0m11 0h0m14 0h0m4 0h0m10 0h0m-239 3h0m7 0h0m6 0h0m5 0h0m5 0h0m4 0h0m15 0h0m5 0h0m4 0h0m2 0h0m5 0h0m2 0h1m2 0h0m4 0h0m3 0h3m2 0h1m3 0h0m5 0h0m5 0h0m2 0h0m2 0h1m2 0h1m3 0h0m2 0h1m7 0h2m2 0h1m4 0h0m2 0h0m14 0h0m5 0h0m6 0h1m4 0h1m2 0h0m3 0h0m3 0h0m2 0h0m2 0h0m6 0h0m2 0h2m3 0h0m2 0h0m3 0h1m4 0h1m3 0h0m3 0h0m6 0h0m8 0h0m3 0h0m8 0h1m4 0h0m-243 2h0m37 0h0m19 0h0m18 0h0m2 0h0m3 0h0m3 0h0m4 0h0m3 0h2m3 0h0m6 0h0m4 0h0m3 0h1m2 0h0m2 0h0m3 0h1m10 0h0m2 0h0m2 0h0m7 0h0m9 0h0m3 0h0m4 0h0m5 0h0m3 0h0m2 0h1m4 0h2m3 0h1m7 0h2m3 0h0m6 0h0m4 0h0m3 0h0m3 0h1m12 0h0m14 0h0m24 0h0m10 0h0m8 0h0m-271 3h0m26 0h0m16 0h0m4 0h0m3 0h0m3 0h0m4 0h0m2 0h0m3 0h0m7 0h0m2 0h0m6 0h1m3 0h0m3 0h0m2 0h1m3 0h1m3 0h0m2 0h0m4 0h0m4 0h1m3 0h1m5 0h0m5 0h0m2 0h0m6 0h0m2 0h0m3 0h1m2 0h0m6 0h0m9 0h0m21 0h0m10 0h1m2 0h0m9 0h0m9 0h0m6 0h0m2 0h0m3 0h1m12 0h0m6 0h0m5 0h0m6 0h0m3 0h0m-234 2h0m21 0h0m14 0h0m12 0h0m3 0h0m2 0h0m3 0h0m6 0h0m2 0h0m2 0h0m3 0h0m3 0h1m4 0h0m2 0h0m2 0h1m2 0h3m9 0h0m8 0h2m3 0h2m8 0h0m5 0h0m7 0h0m4 0h0m9 0h0m9 0h0m5 0h0m3 0h0m9 0h0m5 0h1m3 0h2m6 0h2m9 0h0m15 0h0m6 0h0m18 0h0m-247 3h0m32 0h0m5 0h0m9 0h0m6 0h0m6 0h0m5 0h0m5 0h0m4 0h0m4 0h0m4 0h0m10 0h0m2 0h0m6 0h1m15 0h0m6 0h0m2 0h0m9 0h0m3 0h0m5 0h0m7 0h0m9 0h0m3 0h0m2 0h2m2 0h0m8 0h0m3 0h0m12 0h2m2 0h1m3 0h2m2 0h0m2 0h0m18 0h0m7 0h1m5 0h0m6 0h0m11 0h0m4 0h0m7 0h0m-260 4h0m42 0h0m10 0h0m20 0h0m4 0h0m3 0h0m10 0h1m5 0h0m5 0h0m3 0h0m5 0h2m3 0h0m5 0h1m4 0h0m10 0h0m2 0h0m3 0h0m13 0h0m4 0h0m5 0h0m4 0h0m2 0h0m3 0h0m15 0h0m5 0h1m4 0h0m17 0h0m7 0h0m4 0h0m7 0h0m19 0h0m60 0h0m-259 4h0m7 0h0m14 0h0m4 0h0m5 0h1m3 0h0m6 0h0m7 0h0m5 0h0m3 0h0m4 0h1m5 0h0m2 0h0m3 0h0m5 0h0m3 0h0m4 0h0m4 0h0m10 0h1m2 0h0m3 0h0m14 0h0m2 0h2m3 0h0m2 0h0m2 0h1m2 0h0m3 0h2m8 0h0m2 0h0m3 0h0m2 0h0m5 0h1m6 0h0m4 0h0m12 0h0m15 0h0m4 0h0m3 0h0m10 0h0m11 0h0m-251 4h0m7 0h0m26 0h0m11 0h0m3 0h0m4 0h0m6 0h0m9 0h0m5 0h1m4 0h1m2 0h0m9 0h0m9 0h0m3 0h0m2 0h1m2 0h0m4 0h0m2 0h0m3 0h0m20 0h0m3 0h0m5 0h1m8 0h0m5 0h0m12 0h0m25 0h0m2 0h0m19 0h0m6 0h1m-208 5h0m14 0h0m26 0h0m2 0h0m5 0h0m8 0h0m3 0h0m3 0h0m3 0h0m3 0h0m4 0h2m8 0h0m4 0h1m4 0h0m2 0h1m5 0h0m11 0h0m14 0h0m2 0h0m6 0h0m11 0h0m14 0h0m5 0h1m3 0h1m7 0h0m3 0h0m5 0h0m5 0h0m9 0h0m8 0h0m10 0h0m3 0h0m-229 6h0m30 0h0m7 0h0m14 0h0m2 0h0m2 0h0m8 0h0m7 0h0m4 0h0m2 0h0m2 0h2m6 0h0m7 0h0m3 0h2m5 0h0m6 0h0m2 0h1m8 0h0m11 0h2m2 0h1m10 0h0m4 0h0m4 0h1m4 0h0m2 0h1m8 0h0m6 0h0m3 0h0m9 0h0m24 0h0m-179 7h0m24 0h0m9 0h0m2 0h0m4 0h4m12 0h0m5 0h0m5 0h0m15 0h0m27 0h0m5 0h0m13 0h0m5 0h0m5 0h0m13 0h0m4 0h0m6 0h0m13 0h0m3 0h1m6 0h0m-159 9h0m2 0h1m2 0h0m3 0h0m3 0h0m9 0h0m3 0h1m2 0h0m4 0h0m12 0h0m2 0h0m3 0h0m2 0h0m2 0h0m4 0h0m2 0h0m9 0h0m13 0h0m4 0h1m8 0h0m16 0h0m14 0h1m10 0h2m4 0h0m5 0h0m4 0h0m9 0h0" fill="none" stroke="#ea5f47" stroke-width="1.9" stroke-linecap="square"/>
<rect x="1246.5" y="720.4" width="2.2" height="137.5" fill="#ea5f47"/>
<rect x="1316.2" y="855.2" width="211.5" height="2.4" fill="#ea5f47"/>
<path d="M1527.7 856.4h2.4M1532.1 856.4h12.5M1549.3 856.4h8.4M1559.6 856.4h8.5M1575.8 856.4h3.2M1583.3 856.4h4.3M1600.1 856.4h1.5M1605 856.4h1.5M1251 856.4h1.6M1259 856.4h1.6M1265.8 856.4h1.6M1272.4 856.4h1.6M1276.7 856.4h1.6M1282.6 856.4h1.6M1288.7 856.4h1.6M1295.5 856.4h1.6M1301.8 856.4h1.6M1305.2 856.4h1.6M1308.9 856.4h1.6M1313.6 856.4h1.6" stroke="#ea5f47" stroke-width="2.2" fill="none"/>
<g transform="translate(1246 484.7) scale(1.0299 1.0054)">
<use href="#tpl"/>
<g>
<text x="0.6" y="20" font-size="21.4" fill="#111" textLength="26.66" lengthAdjust="spacingAndGlyphs">UL</text>
<text x="1.3" y="45.1" font-size="21.4" fill="#111" textLength="43.09" lengthAdjust="spacingAndGlyphs">0.30</text>
<text x="373.4" y="20" font-size="21.4" fill="#111" textLength="28.45" lengthAdjust="spacingAndGlyphs">UR</text>
<text x="373.2" y="45.1" font-size="21.4" fill="#111" textLength="55.82" lengthAdjust="spacingAndGlyphs">10.25</text>
<text x="0.5" y="340.7" font-size="21.4" fill="#111" textLength="23.36" lengthAdjust="spacingAndGlyphs">LL</text>
<text x="1.8" y="365.7" font-size="21.4" fill="#111" textLength="54.67" lengthAdjust="spacingAndGlyphs">42.31</text>
<text x="373.3" y="340.7" font-size="21.4" fill="#111" textLength="26.01" lengthAdjust="spacingAndGlyphs">LR</text>
<text x="374.5" y="365.7" font-size="21.4" fill="#111" textLength="54.56" lengthAdjust="spacingAndGlyphs">47.13</text>
</g></g>
<path d="M1392 484.7V858.9 M1246 720.4H1688" stroke="#0a0a0a" stroke-width="2.05" fill="none"/>
<clipPath id="c6"><rect x="0" y="0" width="1734" height="936.2"/></clipPath>
<g clip-path="url(#c6)"><text x="1347.2" y="934.1" font-size="29.5" fill="#111" textLength="201.61" lengthAdjust="spacingAndGlyphs">MKN45-40mg/l</text></g>
<path d="m380 1148h0m14 0h0m-43 3h0m-2 1h0m65 0h0m-109 2h0m68 1h0m-11 2h0m38 1h0m17 0h0m27 0h0m-189 1h0m94 1h0m65 0h0m-6 1h0m-48 1h0m20 0h0m66 0h0m-141 1h0m92 0h0m2 0h0m36 0h0m4 0h0m-43 1h1m19 0h0m-32 1h0m4 0h0m-95 1h0m21 0h0m32 0h0m-24 1h0m51 0h0m18 0h0m-57 3h0m-28 1h0m48 0h0m24 0h0m31 0h0m-125 1h0m64 0h0m63 0h0m23 0h0m18 0h0m-191 1h0m8 0h0m8 0h0m27 0h0m11 0h1m18 0h0m76 0h0m29 0h0m-116 1h0m-49 1h0m2 0h0m64 0h0m26 0h0m47 0h0m-185 1h0m123 0h0m9 0h0m28 0h0m23 0h0m-185 1h0m59 0h0m49 0h0m19 0h0m15 0h0m30 0h0m32 0h0m-191 1h0m80 0h0m14 0h0m22 0h0m20 0h0m6 0h0m28 0h0m-105 1h0m56 0h0m48 0h0m-101 1h0m8 0h0m7 0h0m11 0h0m23 0h1m8 0h0m40 0h0m3 0h0m25 0h0m-195 1h0m28 0h0m34 0h0m11 0h0m14 0h0m13 0h0m82 0h0m-109 1h0m63 0h0m45 0h0m-143 1h0m29 0h0m7 0h0m31 0h0m15 0h0m19 0h0m24 0h0m44 0h0m-191 1h0m15 0h0m28 0h0m30 0h0m42 0h0m-67 1h0m31 0h0m14 0h0m10 0h1m30 0h0m-175 1h0m56 0h0m64 0h0m17 0h0m18 0h0m24 0h0m10 0h0m7 0h0m4 0h0m-189 1h0m53 0h0m2 0h0m2 0h0m55 0h0m8 0h0m21 0h0m11 0h0m27 0h0m-144 1h0m2 0h0m5 0h0m3 0h0m25 0h0m35 0h0m-48 1h0m3 0h0m9 0h0m9 0h0m23 0h0m12 0h0m14 0h0m7 0h0m9 0h0m9 0h0m49 0h0m6 0h0m27 0h0m-234 1h0m18 0h0m18 0h0m17 0h1m12 0h0m22 0h0m3 0h0m30 0h1m-133 1h0m59 0h0m13 0h0m3 0h0m7 0h0m2 0h1m4 0h0m7 0h0m17 0h2m2 0h0m6 0h0m31 0h0m-123 1h0m17 0h0m5 0h0m4 0h0m8 0h0m23 0h0m10 0h0m5 0h0m15 0h0m4 0h0m41 0h0m-197 1h0m66 0h1m18 0h0m2 0h0m7 0h0m8 0h0m3 0h0m46 0h0m6 0h0m2 0h0m4 0h0m17 0h0m47 0h0m18 0h0m-203 1h0m32 0h1m3 0h0m17 0h0m42 0h0m18 0h0m52 0h0m25 0h1m4 0h0m7 0h0m-226 1h0m35 0h0m24 0h0m5 0h0m52 0h1m25 0h0m5 0h0m5 0h0m11 0h0m32 0h0m-156 1h0m3 0h0m25 0h0m5 0h0m19 0h0m2 0h0m22 0h0m13 0h0m12 0h0m4 0h1m9 0h0m29 0h0m20 0h0m-214 1h0m46 0h0m6 0h0m8 0h0m12 0h1m11 0h1m8 0h1m12 0h0m10 0h0m14 0h0m3 0h0m36 0h0m25 0h0m2 0h0m-166 1h0m20 0h0m30 0h1m2 0h0m10 0h0m18 0h0m2 0h0m3 0h1m4 0h3m7 0h0m17 0h2m30 0h0m-164 1h0m32 0h0m2 0h0m3 0h0m27 0h0m8 0h0m5 0h0m13 0h0m11 0h0m48 0h0m15 0h0m6 0h0m56 0h0m-222 1h0m26 0h0m7 0h0m31 0h0m7 0h0m2 0h0m7 0h0m5 0h0m3 0h2m5 0h0m11 0h0m11 0h0m15 0h0m3 0h0m7 0h0m31 0h0m-219 1h0m11 0h0m15 0h0m59 0h0m6 0h0m13 0h1m9 0h0m26 0h0m16 0h0m2 0h1m2 0h1m13 0h0m14 0h0m34 0h0m7 0h0m-230 1h0m26 0h0m11 0h0m12 0h0m7 0h0m8 0h0m14 0h0m11 0h0m7 0h0m10 0h0m3 0h0m5 0h0m2 0h1m10 0h0m14 0h0m9 0h0m17 0h0m77 0h0m-233 1h0m15 0h0m38 0h0m18 0h0m6 0h1m2 0h0m16 0h0m5 0h0m5 0h2m4 0h0m8 0h0m11 0h1m23 0h1m7 0h0m6 0h0m8 0h1m3 0h0m22 0h0m4 0h0m16 0h0m-234 1h0m32 0h0m14 0h0m13 0h0m11 0h0m11 0h0m14 0h0m9 0h0m17 0h1m3 0h2m6 0h0m12 0h0m12 0h0m18 0h0m8 0h0m55 0h0m26 0h0m-215 1h0m21 0h0m30 0h1m29 0h0m15 0h0m16 0h0m9 0h0m10 0h0m19 0h0m47 0h0m-246 1h0m32 0h0m17 0h0m4 0h0m29 0h0m4 0h0m3 0h0m4 0h0m3 0h1m9 0h1m7 0h0m3 0h0m3 0h1m3 0h0m9 0h0m3 0h0m2 0h0m10 0h0m27 0h0m10 0h0m17 0h0m4 0h0m60 0h0m19 0h0m-226 1h0m5 0h0m22 0h0m4 0h0m4 0h0m6 0h0m6 0h0m8 0h0m7 0h1m2 0h3m3 0h0m5 0h0m6 0h0m8 0h1m8 0h0m15 0h0m29 0h0m-191 1h0m21 0h0m46 0h0m4 0h0m4 0h0m7 0h0m2 0h1m3 0h0m4 0h0m2 0h1m9 0h0m4 0h0m2 0h0m5 0h1m4 0h0m5 0h0m5 0h0m9 0h0m11 0h1m2 0h1m39 0h0m19 0h0m-174 1h0m7 0h0m5 0h0m24 0h0m3 0h1m2 0h0m3 0h0m3 0h0m2 0h0m2 0h0m4 0h0m4 0h0m6 0h0m3 0h0m5 0h0m7 0h0m7 0h0m20 0h0m6 0h1m15 0h0m43 0h0m-173 1h0m12 0h0m7 0h0m11 0h0m3 0h0m2 0h1m9 0h0m2 0h0m4 0h0m5 0h0m4 0h0m5 0h0m4 0h0m9 0h0m4 0h0m7 0h0m11 0h0m3 0h0m4 0h0m16 0h0m5 0h0m4 0h0m15 0h0m37 0h0m-196 1h0m9 0h0m7 0h0m17 0h0m6 0h0m2 0h0m23 0h0m5 0h0m2 0h0m12 0h0m7 0h0m10 0h1m6 0h1m3 0h0m2 0h0m6 0h0m6 0h0m21 0h0m22 0h0m4 0h1m8 0h0m-207 1h0m15 0h0m40 0h0m16 0h0m2 0h0m5 0h0m2 0h0m2 0h0m2 0h0m10 0h2m6 0h0m2 0h0m9 0h0m9 0h0m6 0h1m6 0h0m2 0h0m3 0h0m4 0h0m3 0h0m3 0h0m4 0h0m2 0h0m2 0h0m5 0h0m14 0h0m18 0h0m44 0h0m-250 1h0m19 0h0m40 0h0m2 0h0m3 0h0m2 0h0m2 0h0m2 0h0m2 0h0m9 0h0m9 0h0m9 0h0m2 0h0m11 0h0m18 0h0m3 0h0m3 0h0m5 0h0m4 0h0m13 0h0m16 0h0m17 0h0m16 0h0m6 0h0m26 0h0m-220 1h0m13 0h0m21 0h0m3 0h0m5 0h0m21 0h0m3 0h0m4 0h0m5 0h0m2 0h0m4 0h0m2 0h0m6 0h0m5 0h0m2 0h1m3 0h0m2 0h1m3 0h1m4 0h0m5 0h0m8 0h0m4 0h0m2 0h0m12 0h0m7 0h0m3 0h0m6 0h0m2 0h0m19 0h0m10 0h0m7 0h0m51 0h0m-207 1h0m7 0h0m6 0h0m9 0h1m2 0h0m20 0h0m2 0h0m3 0h0m6 0h0m8 0h0m4 0h0m3 0h0m3 0h0m4 0h0m2 0h0m3 0h0m22 0h0m11 0h1m24 0h0m-200 1h0m11 0h0m15 0h0m11 0h0m5 0h0m17 0h0m5 0h0m4 0h0m2 0h0m2 0h0m7 0h0m2 0h0m12 0h1m9 0h0m6 0h0m3 0h1m4 0h0m4 0h1m5 0h0m3 0h2m11 0h0m2 0h0m7 0h0m9 0h1m13 0h0m33 0h0m-208 1h0m49 0h0m15 0h0m4 0h0m14 0h0m8 0h0m3 0h1m2 0h0m2 0h0m2 0h0m3 0h0m9 0h0m3 0h0m3 0h0m12 0h0m7 0h0m2 0h0m9 0h0m2 0h0m3 0h0m3 0h0m2 0h0m7 0h0m15 0h0m-134 1h0m20 0h0m2 0h0m6 0h0m7 0h1m7 0h0m5 0h0m4 0h1m2 0h0m2 0h0m3 0h0m2 0h0m3 0h1m6 0h0m6 0h1m5 0h0m3 0h1m2 0h0m2 0h0m4 0h0m2 0h0m8 0h0m5 0h0m13 0h0m10 0h0m15 0h0m4 0h0m58 0h0m-231 1h0m27 0h0m3 0h0m3 0h0m7 0h0m2 0h0m2 0h0m2 0h0m6 0h0m3 0h1m2 0h0m9 0h2m4 0h0m2 0h0m11 0h0m2 0h0m5 0h1m7 0h1m5 0h0m2 0h0m2 0h0m15 0h0m14 0h0m8 0h0m10 0h0m30 0h0m-177 1h0m9 0h0m15 0h0m3 0h0m4 0h0m2 0h0m9 0h0m5 0h0m5 0h0m13 0h0m4 0h0m2 0h2m7 0h0m2 0h0m3 0h1m7 0h0m2 0h0m4 0h0m13 0h0m-149 1h0m32 0h0m5 0h0m12 0h0m12 0h0m5 0h0m4 0h0m2 0h0m6 0h0m7 0h1m5 0h0m2 0h3m2 0h0m2 0h0m5 0h0m5 0h1m3 0h0m6 0h3m2 0h1m6 0h1m6 0h0m11 0h0m9 0h0m12 0h0m3 0h0m35 0h0m5 0h0m-158 1h0m5 0h0m3 0h0m12 0h0m3 0h0m2 0h0m4 0h0m6 0h0m2 0h0m2 0h1m2 0h1m2 0h0m14 0h0m2 0h0m5 0h0m3 0h3m5 0h0m5 0h1m2 0h0m4 0h0m5 0h0m14 0h0m-127 1h0m16 0h0m6 0h0m23 0h0m2 0h0m2 0h0m3 0h0m4 0h0m13 0h0m2 0h0m5 0h0m2 0h0m3 0h0m14 0h0m3 0h0m10 0h0m35 0h0m-180 1h0m11 0h0m8 0h0m7 0h0m6 0h0m14 0h0m26 0h0m2 0h0m2 0h0m2 0h1m5 0h2m4 0h0m4 0h0m2 0h1m4 0h1m4 0h0m6 0h0m5 0h0m28 0h0m-145 1h0m19 0h0m7 0h0m11 0h0m12 0h0m4 0h0m8 0h0m3 0h0m2 0h0m2 0h0m8 0h0m2 0h1m7 0h0m2 0h0m3 0h0m2 0h0m6 0h0m2 0h0m2 0h0m2 0h1m3 0h0m3 0h0m5 0h2m3 0h1m3 0h1m5 0h2m5 0h0m16 0h0m5 0h1m36 0h0m46 0h0m-243 1h0m42 0h0m4 0h0m7 0h0m8 0h0m3 0h0m4 0h0m2 0h0m4 0h0m2 0h0m5 0h0m5 0h0m3 0h1m12 0h0m2 0h0m2 0h1m2 0h0m10 0h0m8 0h0m31 0h0m29 0h0m14 0h0m-201 1h0m11 0h0m8 0h0m7 0h0m16 0h0m11 0h0m6 0h0m2 0h0m3 0h0m2 0h0m4 0h0m2 0h0m4 0h0m3 0h0m3 0h0m2 0h0m9 0h0m2 0h0m2 0h0m3 0h2m4 0h0m3 0h0m2 0h2m2 0h1m2 0h0m2 0h1m4 0h0m2 0h1m4 0h1m3 0h0m2 0h0m15 0h0m3 0h0m4 0h0m16 0h0m19 0h0m26 0h0m34 0h0m-244 1h0m15 0h0m6 0h0m5 0h0m16 0h0m6 0h0m5 0h0m20 0h0m2 0h0m5 0h0m2 0h1m5 0h0m2 0h0m2 0h0m4 0h0m5 0h0m2 0h0m21 0h1m28 0h1m-154 1h0m8 0h0m7 0h0m11 0h0m5 0h0m11 0h0m3 0h0m8 0h0m2 0h0m2 0h0m6 0h0m5 0h0m7 0h0m3 0h0m4 0h0m2 0h1m4 0h0m4 0h0m2 0h2m3 0h0m7 0h0m5 0h0m2 0h0m2 0h0m2 0h0m5 0h0m2 0h0m8 0h0m22 0h0m14 0h0m18 0h0m10 0h0m-197 1h0m15 0h0m11 0h0m5 0h0m4 0h0m10 0h0m5 0h0m5 0h0m2 0h0m2 0h0m2 0h0m2 0h0m4 0h1m3 0h0m2 0h0m4 0h0m2 0h1m4 0h0m2 0h0m2 0h0m3 0h0m2 0h0m6 0h0m5 0h1m3 0h1m4 0h0m5 0h2m3 0h0m8 0h0m7 0h0m36 0h0m-174 1h0m21 0h0m10 0h0m7 0h0m7 0h0m8 0h0m4 0h0m2 0h0m2 0h0m7 0h0m2 0h0m4 0h0m6 0h0m8 0h0m12 0h1m7 0h0m17 0h0m9 0h0m16 0h0m16 0h0m51 0h0m-228 1h0m19 0h0m23 0h0m4 0h0m10 0h0m12 0h0m4 0h0m7 0h0m5 0h0m9 0h0m4 0h0m4 0h0m3 0h1m3 0h0m3 0h0m3 0h1m4 0h1m10 0h0m-130 1h0m11 0h0m31 0h0m17 0h0m13 0h0m2 0h0m5 0h0m3 0h0m7 0h0m2 0h0m4 0h1m7 0h0m2 0h1m2 0h0m4 0h0m3 0h1m3 0h0m5 0h0m10 0h0m8 0h0m4 0h0m11 0h0m9 0h0m9 0h0m7 0h0m10 0h0m-181 1h0m15 0h0m6 0h0m5 0h0m5 0h0m4 0h0m3 0h0m12 0h0m3 0h0m6 0h0m6 0h0m2 0h0m6 0h1m3 0h0m3 0h0m3 0h0m2 0h0m3 0h0m3 0h1m3 0h0m6 0h0m5 0h0m2 0h0m2 0h0m3 0h0m4 0h1m40 0h0m19 0h0m40 0h0m18 0h0m-246 1h0m11 0h0m8 0h0m18 0h0m5 0h0m4 0h0m3 0h0m4 0h0m6 0h0m2 0h0m9 0h0m2 0h0m2 0h0m8 0h0m2 0h0m2 0h0m2 0h3m3 0h0m6 0h1m5 0h1m3 0h0m2 0h1m4 0h0m2 0h0m9 0h0m2 0h0m3 0h0m2 0h0m9 0h0m22 0h0m30 0h0m22 0h0m-218 1h0m11 0h0m21 0h0m10 0h0m7 0h0m4 0h0m11 0h0m2 0h0m8 0h0m4 0h0m6 0h0m2 0h0m2 0h0m6 0h0m6 0h0m3 0h0m5 0h0m5 0h0m5 0h0m6 0h0m8 0h1m6 0h0m20 0h0m68 0h0m-227 1h0m11 0h0m8 0h0m13 0h0m5 0h0m12 0h0m4 0h0m8 0h0m3 0h0m6 0h0m4 0h0m2 0h0m2 0h1m2 0h1m2 0h1m3 0h2m3 0h0m6 0h0m2 0h0m2 0h0m3 0h0m2 0h1m5 0h1m3 0h0m5 0h0m21 0h2m11 0h0m12 0h0m9 0h0m6 0h0m29 0h0m18 0h0m32 0h0m-237 1h0m11 0h0m16 0h0m6 0h0m2 0h0m3 0h0m4 0h0m2 0h0m9 0h0m2 0h0m3 0h0m2 0h0m8 0h0m4 0h3m2 0h3m3 0h0m3 0h0m3 0h0m4 0h0m3 0h0m5 0h1m48 0h0m16 0h0m3 0h0m16 0h0m2 0h0m8 0h0m-221 1h0m11 0h0m8 0h0m7 0h0m11 0h0m9 0h0m3 0h0m7 0h0m3 0h0m2 0h0m5 0h0m2 0h0m4 0h0m7 0h0m3 0h0m3 0h1m2 0h1m4 0h0m2 0h1m2 0h3m5 0h0m3 0h0m6 0h0m2 0h1m5 0h1m6 0h0m4 0h0m8 0h1m9 0h0m8 0h0m29 0h0m47 0h0m-236 1h0m19 0h0m13 0h0m10 0h0m4 0h0m3 0h0m4 0h0m8 0h0m3 0h0m2 0h0m2 0h0m2 0h0m2 0h0m2 0h0m2 0h0m3 0h0m2 0h1m4 0h0m2 0h2m6 0h1m2 0h0m4 0h0m3 0h0m3 0h1m20 0h1m12 0h0m4 0h0m19 0h0m13 0h0m-168 1h0m21 0h0m5 0h0m5 0h0m11 0h0m3 0h0m3 0h0m2 0h0m3 0h0m2 0h0m8 0h0m2 0h0m5 0h1m2 0h2m2 0h0m3 0h0m2 0h1m2 0h1m2 0h1m4 0h0m3 0h1m6 0h0m5 0h0m2 0h0m3 0h0m2 0h0m47 0h0m13 0h0m29 0h0m-215 1h0m26 0h0m11 0h0m16 0h0m6 0h0m5 0h0m4 0h0m2 0h0m2 0h0m2 0h0m4 0h1m5 0h1m9 0h4m8 0h0m3 0h0m6 0h0m2 0h0m2 0h0m17 0h0m3 0h1m16 0h0m27 0h0m-183 1h0m11 0h0m15 0h0m6 0h0m5 0h0m5 0h0m7 0h0m7 0h0m3 0h0m5 0h0m2 0h0m2 0h0m8 0h0m2 0h0m3 0h1m2 0h1m3 0h0m3 0h0m6 0h0m9 0h0m3 0h1m2 0h1m8 0h0m4 0h0m3 0h0m10 0h0m23 0h0m31 0h1m41 0h0m-234 1h0m11 0h0m8 0h0m7 0h0m6 0h0m5 0h0m5 0h0m4 0h0m7 0h0m6 0h0m5 0h0m2 0h0m2 0h0m2 0h0m2 0h0m2 0h0m4 0h1m3 0h0m2 0h0m2 0h0m2 0h2m3 0h0m2 0h0m2 0h1m3 0h1m2 0h5m2 0h1m5 0h0m2 0h0m4 0h0m7 0h0m3 0h0m2 0h0m22 0h0m43 0h1m28 0h0m-218 1h0m15 0h0m6 0h0m10 0h0m4 0h0m3 0h0m7 0h0m5 0h0m5 0h0m8 0h0m2 0h0m3 0h0m7 0h0m2 0h1m7 0h5m3 0h0m2 0h0m2 0h1m5 0h1m4 0h0m9 0h0m74 0h0m-202 1h0m11 0h0m8 0h0m18 0h0m5 0h0m4 0h0m3 0h0m7 0h0m3 0h0m5 0h0m4 0h0m2 0h0m6 0h0m2 0h0m4 0h0m4 0h0m2 0h0m2 0h0m3 0h0m2 0h0m2 0h0m2 0h1m2 0h0m4 0h0m2 0h1m2 0h1m2 0h1m2 0h0m2 0h0m8 0h1m2 0h0m6 0h0m3 0h0m13 0h0m65 0h0m-217 1h0m11 0h0m15 0h0m6 0h0m5 0h0m5 0h0m4 0h0m3 0h0m4 0h0m3 0h0m3 0h0m2 0h0m3 0h0m2 0h0m2 0h0m2 0h0m2 0h0m2 0h0m2 0h0m2 0h1m2 0h1m2 0h2m8 0h3m2 0h0m2 0h0m3 0h0m2 0h1m2 0h0m4 0h1m2 0h0m2 0h0m3 0h2m3 0h0m4 0h1m3 0h1m9 0h0m46 0h0m-190 1h0m19 0h0m7 0h0m6 0h0m5 0h0m5 0h0m7 0h0m4 0h0m3 0h0m5 0h0m3 0h0m4 0h0m2 0h0m2 0h0m2 0h0m4 0h1m2 0h0m3 0h2m3 0h1m5 0h2m2 0h0m2 0h1m3 0h0m3 0h1m3 0h0m4 0h0m2 0h1m2 0h2m2 0h0m2 0h0m8 0h0m3 0h0m10 0h0m21 0h0m11 0h0m35 0h0m16 0h0m3 0h0m-234 1h0m19 0h0m13 0h0m5 0h0m5 0h0m4 0h0m3 0h0m4 0h0m3 0h0m5 0h0m3 0h0m2 0h0m2 0h0m4 0h0m2 0h0m4 0h1m2 0h1m2 0h0m2 0h0m3 0h1m3 0h0m2 0h1m3 0h0m3 0h4m3 0h0m3 0h1m2 0h1m3 0h0m10 0h1m4 0h0m8 0h1m17 0h0m27 0h0m3 0h0m39 0h0m24 0h0m-253 1h0m19 0h0m23 0h0m4 0h0m3 0h0m10 0h0m5 0h0m2 0h0m2 0h0m4 0h0m4 0h0m2 0h0m11 0h2m3 0h0m7 0h0m3 0h1m2 0h0m6 0h0m2 0h0m6 0h0m9 0h0m5 0h0m17 0h0m-152 1h0m11 0h0m8 0h0m7 0h0m6 0h0m5 0h0m5 0h0m4 0h0m3 0h0m4 0h0m3 0h0m3 0h0m2 0h0m3 0h0m2 0h0m2 0h0m2 0h0m2 0h0m2 0h0m2 0h0m3 0h0m2 0h1m2 0h1m3 0h2m6 0h0m2 0h1m3 0h4m2 0h0m3 0h3m3 0h0m2 0h0m7 0h1m15 0h0m8 0h0m30 0h0m19 0h0m4 0h0m9 0h0m69 0h0m-281 1h0m11 0h0m21 0h0m10 0h0m4 0h0m3 0h0m4 0h0m3 0h0m3 0h0m2 0h0m3 0h0m2 0h0m2 0h0m2 0h0m2 0h0m2 0h0m2 0h0m2 0h1m2 0h1m2 0h1m3 0h2m3 0h2m2 0h2m2 0h2m2 0h2m2 0h2m2 0h1m5 0h0m2 0h0m4 0h0m9 0h1m52 0h0m18 0h0m23 0h0m-228 1h0m11 0h0m15 0h0m20 0h0m7 0h0m6 0h0m2 0h0m3 0h0m8 0h0m2 0h0m2 0h0m2 0h1m2 0h1m3 0h0m3 0h2m3 0h0m9 0h0m3 0h1m2 0h0m2 0h0m3 0h0m5 0h0m2 0h0m17 0h0m45 0h0m15 0h0m-197 1h0m11 0h0m15 0h0m6 0h0m5 0h0m5 0h0m7 0h0m7 0h0m5 0h0m5 0h0m2 0h0m2 0h0m2 0h0m2 0h0m2 0h0m2 0h0m3 0h1m3 0h1m2 0h0m8 0h0m2 0h0m2 0h2m3 0h0m5 0h0m4 0h0m3 0h0m2 0h0m10 0h0m11 0h0m12 0h1m14 0h0m28 0h0m-195 1h0m11 0h0m8 0h0m7 0h0m6 0h0m5 0h0m9 0h0m3 0h0m4 0h0m3 0h0m3 0h0m2 0h0m3 0h0m2 0h0m2 0h0m2 0h0m4 0h0m2 0h0m2 0h0m3 0h1m2 0h0m2 0h0m5 0h0m2 0h2m2 0h1m3 0h1m2 0h2m3 0h0m3 0h0m3 0h0m2 0h2m4 0h1m10 0h1m4 0h0m5 0h0m14 0h0m15 0h0m12 0h0m14 0h0m-199 1h0m26 0h0m16 0h0m4 0h0m3 0h0m7 0h0m5 0h0m7 0h0m2 0h0m2 0h0m2 0h0m4 0h0m3 0h1m2 0h0m2 0h0m3 0h0m5 0h0m2 0h0m2 0h0m2 0h0m2 0h0m4 0h1m2 0h1m5 0h0m11 0h0m-126 1h0m11 0h0m8 0h0m7 0h0m6 0h0m10 0h0m4 0h0m3 0h0m4 0h0m3 0h0m3 0h0m2 0h0m3 0h0m2 0h0m2 0h0m2 0h0m2 0h0m2 0h0m2 0h0m2 0h1m2 0h1m2 0h1m3 0h1m2 0h0m2 0h1m2 0h0m2 0h0m2 0h4m2 0h0m2 0h0m2 0h2m3 0h0m3 0h0m9 0h0m4 0h0m4 0h0m11 0h0m35 0h0m22 0h0m8 0h0m-211 1h0m11 0h0m21 0h0m14 0h0m10 0h0m3 0h0m5 0h0m6 0h0m4 0h0m4 0h0m13 0h0m2 0h1m4 0h0m8 0h3m5 0h0m3 0h1m8 0h1m-116 1h0m8 0h0m7 0h0m23 0h0m17 0h0m8 0h0m2 0h0m3 0h0m2 0h1m2 0h1m5 0h0m5 0h0m2 0h0m4 0h1m3 0h0m2 0h0m5 0h4m3 0h1m7 0h0m2 0h0m2 0h0m13 0h0m7 0h0m-151 1h0m11 0h0m8 0h0m7 0h0m11 0h0m12 0h0m4 0h0m3 0h0m5 0h0m3 0h0m2 0h0m16 0h0m2 0h0m2 0h0m3 0h0m2 0h0m2 0h0m2 0h0m3 0h4m32 0h0m32 0h0m-155 1h0m8 0h0m13 0h0m5 0h0m5 0h0m7 0h0m4 0h0m3 0h0m3 0h0m5 0h0m4 0h0m2 0h0m2 0h0m2 0h0m2 0h0m2 0h1m2 0h0m7 0h0m2 0h1m7 0h3m4 0h1m3 0h0m3 0h0m2 0h0m31 0h0m42 0h0m5 0h0m-192 1h0m19 0h0m7 0h0m6 0h0m5 0h0m5 0h0m4 0h0m3 0h0m4 0h0m3 0h0m3 0h0m2 0h0m3 0h0m2 0h0m2 0h0m2 0h0m2 0h0m2 0h0m2 0h0m2 0h1m2 0h1m3 0h1m2 0h3m3 0h7m2 0h1m2 0h0m3 0h1m2 0h0m3 0h1m2 0h1m3 0h0m3 0h0m2 0h0m14 0h0m4 0h1m12 0h0m7 0h0m21 0h0m24 0h0m7 0h0m-217 1h0m11 0h0m8 0h0m7 0h0m11 0h0m16 0h0m6 0h0m2 0h0m5 0h0m4 0h0m4 0h0m2 0h0m2 0h0m3 0h1m4 0h0m2 0h1m6 0h0m4 0h0m2 0h0m4 0h0m2 0h1m6 0h1m10 0h0m7 0h0m3 0h1m2 0h1m2 0h0m26 0h0m-167 1h0m11 0h0m8 0h0m7 0h0m11 0h0m5 0h0m4 0h0m7 0h0m3 0h0m3 0h0m7 0h0m4 0h0m2 0h0m4 0h0m2 0h1m2 0h1m2 0h0m5 0h2m4 0h1m2 0h0m2 0h1m2 0h1m5 0h1m4 0h1m7 0h1m11 0h0m4 0h0m11 0h0m21 0h0m30 0h0m55 0h0m-244 1h0m8 0h0m7 0h0m6 0h0m5 0h0m5 0h0m4 0h0m3 0h0m10 0h0m7 0h0m2 0h0m4 0h0m4 0h0m5 0h1m2 0h0m7 0h0m3 0h0m3 0h1m2 0h2m4 0h1m2 0h0m2 0h0m3 0h2m3 0h0m2 0h0m9 0h0m2 0h0m4 0h1m21 0h0m3 0h0m2 0h0m-163 1h0m11 0h0m15 0h0m6 0h0m10 0h0m14 0h0m3 0h0m5 0h0m2 0h0m2 0h0m2 0h0m2 0h0m2 0h0m2 0h0m2 0h0m3 0h1m2 0h2m2 0h0m3 0h0m5 0h0m2 0h0m3 0h1m2 0h0m2 0h0m3 0h1m5 0h0m4 0h0m6 0h0m-125 1h0m32 0h0m5 0h0m5 0h0m4 0h0m10 0h0m5 0h0m3 0h0m2 0h0m2 0h0m4 0h0m2 0h0m2 0h0m2 0h1m3 0h0m2 0h1m3 0h0m5 0h0m2 0h0m4 0h3m4 0h0m7 0h0m4 0h1m32 0h0m20 0h0m-170 2h0m11 0h0m8 0h0m13 0h0m14 0h0m3 0h0m4 0h0m3 0h0m3 0h0m2 0h0m5 0h0m4 0h0m2 0h0m2 0h0m2 0h0m5 0h0m3 0h0m2 0h0m4 0h1m4 0h1m3 0h0m5 0h0m2 0h0m3 0h1m2 0h0m5 0h0m4 0h0m4 0h0m7 0h1m13 0h0m10 0h0m7 0h1m29 0h0m22 0h0m-215 1h0m11 0h0m8 0h0m7 0h0m11 0h0m5 0h0m4 0h0m3 0h0m4 0h0m6 0h0m5 0h0m6 0h0m2 0h0m2 0h0m4 0h1m2 0h0m4 0h0m4 0h2m4 0h1m7 0h2m2 0h0m2 0h1m2 0h1m8 0h0m6 0h0m2 0h0m4 0h0m6 0h0m45 0h0m28 0h0m5 0h0m-217 1h0m11 0h0m8 0h0m7 0h0m11 0h0m5 0h0m4 0h0m7 0h0m3 0h0m3 0h0m2 0h0m7 0h0m4 0h0m4 0h0m2 0h0m3 0h0m3 0h2m2 0h0m2 0h0m4 0h0m3 0h1m2 0h0m3 0h0m3 0h0m6 0h0m7 0h0m4 0h0m4 0h0m5 0h0m6 0h0m2 0h0m46 0h0m26 0h0m-212 1h0m11 0h0m8 0h0m7 0h0m6 0h0m5 0h0m5 0h0m4 0h0m3 0h0m4 0h0m3 0h0m3 0h0m2 0h0m3 0h0m4 0h0m2 0h0m2 0h0m4 0h0m3 0h0m2 0h1m3 0h0m3 0h3m4 0h0m2 0h0m2 0h0m2 0h0m5 0h0m3 0h1m7 0h0m4 0h0m8 0h0m20 0h0m5 0h0m7 0h0m77 0h0m-238 1h0m11 0h0m15 0h0m16 0h0m4 0h0m7 0h0m3 0h0m3 0h0m2 0h0m3 0h0m4 0h0m2 0h0m2 0h0m2 0h0m2 0h0m2 0h1m2 0h1m2 0h0m6 0h1m2 0h1m2 0h0m2 0h0m2 0h3m10 0h0m4 0h0m3 0h0m2 0h0m10 0h0m5 0h0m28 0h0m5 0h1m57 0h0m-228 2h0m11 0h0m15 0h0m6 0h0m10 0h0m4 0h0m3 0h0m7 0h0m3 0h0m2 0h0m3 0h0m2 0h0m2 0h0m4 0h0m4 0h0m2 0h1m2 0h1m2 0h0m11 0h0m3 0h1m2 0h2m2 0h1m5 0h0m3 0h2m3 0h0m3 0h0m4 0h0m6 0h0m2 0h0m2 0h0m3 0h0m9 0h1m31 0h0m8 0h0m36 0h0m-224 1h0m11 0h0m8 0h0m7 0h0m6 0h0m10 0h0m4 0h0m7 0h0m6 0h0m2 0h0m7 0h0m6 0h0m2 0h0m5 0h1m2 0h0m2 0h0m8 0h1m3 0h3m5 0h1m6 0h2m2 0h1m9 0h0m18 0h0m9 0h0m68 0h0m18 0h0m21 0h0m-261 2h0m11 0h0m15 0h0m6 0h0m5 0h0m9 0h0m10 0h0m3 0h0m5 0h0m2 0h0m2 0h0m4 0h0m4 0h0m2 0h0m3 0h1m2 0h0m4 0h1m6 0h2m4 0h0m3 0h1m4 0h0m3 0h1m5 0h0m10 0h1m14 0h0m36 0h0m18 0h0m11 0h0m15 0h0m-223 1h0m19 0h0m7 0h0m11 0h0m5 0h0m4 0h0m3 0h0m10 0h0m5 0h0m2 0h0m2 0h0m2 0h0m2 0h0m2 0h0m2 0h0m2 0h1m2 0h0m3 0h0m4 0h3m2 0h0m4 0h1m3 0h0m14 0h1m2 0h1m3 0h0m2 0h0m-124 2h0m19 0h0m13 0h0m10 0h0m4 0h0m3 0h0m4 0h0m6 0h0m2 0h0m9 0h0m4 0h0m2 0h0m2 0h1m5 0h0m5 0h1m4 0h0m4 0h0m2 0h2m9 0h0m3 0h0m4 0h0m8 0h1m-127 1h0m11 0h0m15 0h0m6 0h0m5 0h0m5 0h0m4 0h0m3 0h0m7 0h0m3 0h0m7 0h0m4 0h0m2 0h0m2 0h0m2 0h0m2 0h1m2 0h1m2 0h2m2 0h0m2 0h1m4 0h3m3 0h0m4 0h2m3 0h1m8 0h0m7 0h1m3 0h0m7 0h0m6 0h0m3 0h0m-146 2h0m11 0h0m8 0h0m7 0h0m6 0h0m5 0h0m5 0h0m4 0h0m3 0h0m4 0h0m3 0h0m3 0h0m2 0h0m3 0h0m2 0h0m4 0h0m2 0h0m4 0h0m2 0h1m2 0h1m2 0h2m2 0h3m4 0h0m6 0h0m5 0h1m4 0h1m3 0h0m7 0h0m2 0h0m6 0h0m-130 2h0m11 0h0m8 0h0m7 0h0m6 0h0m10 0h0m7 0h0m4 0h0m3 0h0m5 0h0m3 0h0m2 0h0m2 0h0m2 0h0m4 0h0m5 0h0m2 0h0m15 0h0m3 0h0m3 0h2m6 0h1m3 0h0m16 0h0m12 0h0m4 0h0m5 0h0m3 0h0m22 0h0m-165 2h0m15 0h0m6 0h0m5 0h0m5 0h0m4 0h0m3 0h0m7 0h0m5 0h0m5 0h0m2 0h0m2 0h0m4 0h0m5 0h0m2 0h1m3 0h1m2 0h1m2 0h0m2 0h2m6 0h0m3 0h2m6 0h0m3 0h0m3 0h1m3 0h2m2 0h0m12 0h0m8 0h0m4 0h0m5 0h0m-136 2h0m13 0h0m10 0h0m11 0h0m3 0h0m5 0h0m3 0h0m2 0h0m2 0h0m2 0h0m2 0h0m2 0h0m4 0h0m3 0h1m3 0h1m2 0h0m2 0h1m2 0h0m4 0h0m4 0h0m2 0h0m2 0h1m3 0h2m3 0h0m4 0h0m18 0h0m4 0h0m2 0h0m23 0h0m20 0h0m66 0h0m-251 3h0m11 0h0m15 0h0m11 0h0m16 0h0m3 0h0m8 0h0m2 0h0m6 0h0m2 0h0m2 0h0m5 0h0m3 0h0m2 0h0m4 0h1m4 0h0m3 0h0m2 0h0m6 0h0m2 0h0m2 0h0m5 0h0m3 0h0m5 0h1m10 0h0m6 0h0m15 0h1m35 0h0m-191 3h0m11 0h0m8 0h0m7 0h0m6 0h0m10 0h0m7 0h0m4 0h0m3 0h0m3 0h0m5 0h0m2 0h0m4 0h0m2 0h0m2 0h0m2 0h0m2 0h0m4 0h0m3 0h0m3 0h2m3 0h0m3 0h0m2 0h0m7 0h1m4 0h0m4 0h0m4 0h2m4 0h0m15 0h0m28 0h0m7 0h0m52 0h0m-226 2h0m11 0h0m8 0h0m7 0h0m20 0h0m3 0h0m4 0h0m8 0h0m9 0h0m2 0h0m2 0h0m5 0h0m3 0h0m2 0h2m3 0h0m4 0h0m2 0h0m2 0h0m2 0h1m3 0h0m10 0h0m5 0h0m6 0h0m20 0h0m28 0h1m27 0h0m-200 4h0m42 0h0m4 0h0m3 0h0m7 0h0m12 0h0m4 0h0m7 0h0m2 0h1m2 0h0m4 0h0m2 0h1m6 0h0m3 0h0m2 0h2m4 0h0m7 0h0m4 0h0m6 0h1m5 0h0m9 0h0m5 0h0m4 0h0m8 0h0m20 0h1m-178 3h0m19 0h0m7 0h0m11 0h0m12 0h0m7 0h0m3 0h0m5 0h0m4 0h0m4 0h0m2 0h0m5 0h0m6 0h0m11 0h0m2 0h0m3 0h2m2 0h1m2 0h0m3 0h0m3 0h0m4 0h1m6 0h0m5 0h0m2 0h0m19 0h1m38 0h0m-190 4h0m26 0h0m6 0h0m5 0h0m5 0h0m11 0h0m3 0h0m8 0h0m14 0h1m2 0h0m3 0h0m2 0h0m2 0h3m3 0h0m2 0h0m2 0h0m3 0h0m6 0h1m5 0h2m3 0h0m4 0h1m54 0h0m39 0h0m-216 5h0m32 0h0m5 0h0m5 0h0m7 0h0m4 0h0m3 0h0m8 0h0m2 0h0m4 0h0m2 0h0m6 0h1m6 0h0m4 0h0m2 0h0m6 0h1m3 0h0m2 0h1m3 0h0m3 0h0m5 0h0m4 0h0m8 0h0m2 0h0m8 0h0m5 0h0m8 0h0m8 0h0m29 0h0m-187 5h0m26 0h0m6 0h0m14 0h0m13 0h0m5 0h0m4 0h0m11 0h0m3 0h0m6 0h0m12 0h1m3 0h0m5 0h0m6 0h2m4 0h0m3 0h0m8 0h0m8 0h0m2 0h0m12 0h0m2 0h0m24 0h0m10 0h0m-171 7h0m18 0h0m19 0h0m3 0h0m15 0h0m17 0h0m5 0h0m3 0h0m2 0h0m6 0h1m4 0h0m8 0h0m2 0h0m5 0h0m24 0h0m46 0h0m-186 9h0m35 0h0m3 0h0m7 0h0m3 0h0m7 0h0m2 0h0m6 0h0m4 0h0m3 0h0m13 0h0m7 0h1m3 0h1m3 0h1m2 0h0m8 0h0m10 0h0m15 0h0m5 0h0m4 0h0m2 0h0m6 0h0m7 0h0m5 0h0m25 0h0" fill="none" stroke="#ea5f47" stroke-width="1.9" stroke-linecap="square"/>
<rect x="152.8" y="1178" width="2.2" height="162.1" fill="#ea5f47"/>
<rect x="221.6" y="1337.4" width="180" height="2.4" fill="#ea5f47"/>
<path d="M401.6 1338.6h2.3M407.4 1338.6h6.9M415.9 1338.6h3.1M157.3 1338.6h1.6M165.5 1338.6h1.6M171.5 1338.6h1.6M179.2 1338.6h1.6M184.2 1338.6h1.6M190.3 1338.6h1.6M193.7 1338.6h1.6M199.7 1338.6h1.6M207.7 1338.6h1.6M211.5 1338.6h1.6M219.2 1338.6h1.6" stroke="#ea5f47" stroke-width="2.2" fill="none"/>
<g transform="translate(152.3 990) scale(1.0303 0.9432)">
<use href="#tpl"/>
<g>
<text x="0.6" y="20" font-size="21.4" fill="#111" textLength="26.66" lengthAdjust="spacingAndGlyphs">UL</text>
<text x="1.1" y="45.1" font-size="21.4" fill="#111" textLength="43.21" lengthAdjust="spacingAndGlyphs">6.24</text>
<text x="385.2" y="20" font-size="21.4" fill="#111" textLength="28.45" lengthAdjust="spacingAndGlyphs">UR</text>
<text x="385.8" y="45.1" font-size="21.4" fill="#111" textLength="43.09" lengthAdjust="spacingAndGlyphs">3.00</text>
<text x="0.5" y="340.7" font-size="21.4" fill="#111" textLength="23.36" lengthAdjust="spacingAndGlyphs">LL</text>
<text x="1.2" y="365.7" font-size="21.4" fill="#111" textLength="55.13" lengthAdjust="spacingAndGlyphs">86.35</text>
<text x="385.1" y="340.7" font-size="21.4" fill="#111" textLength="26.01" lengthAdjust="spacingAndGlyphs">LR</text>
<text x="386.3" y="365.7" font-size="21.4" fill="#111" textLength="42.86" lengthAdjust="spacingAndGlyphs">4.41</text>
</g></g>
<path d="M290.4 990V1341.1 M152.3 1224.8H594.5" stroke="#0a0a0a" stroke-width="2.05" fill="none"/>
<g><text x="288.7" y="1417.1" font-size="29.5" fill="#111" textLength="120.26" lengthAdjust="spacingAndGlyphs">AGS-Ctrl</text></g>
<path d="m996 1132h0m37 3h0m-19 11h0m-30 1h0m35 0h0m2 1h0m-99 3h0m106 0h0m11 1h0m-24 1h0m-7 1h0m12 0h0m-109 1h0m119 0h0m-21 1h0m-4 1h0m12 0h0m3 0h0m-73 1h0m45 0h0m6 0h0m2 0h0m12 1h0m2 0h0m5 0h0m16 0h0m-52 1h0m50 0h0m-70 1h0m53 0h0m14 0h0m-22 1h2m5 0h0m8 0h0m-30 1h0m10 0h0m4 0h0m21 0h0m-82 1h0m48 0h0m44 0h0m-114 1h0m90 0h0m4 0h0m-31 1h0m19 0h0m10 0h0m15 0h0m-140 1h0m13 0h0m39 0h1m37 0h0m9 0h0m16 0h0m6 0h0m11 0h0m21 0h0m-134 1h0m36 0h0m38 0h0m6 0h0m7 0h0m14 0h1m11 0h0m7 0h0m5 0h0m-161 1h0m14 0h0m4 0h0m87 0h0m22 0h0m2 0h0m6 0h1m2 0h0m13 0h0m28 0h0m-193 1h0m48 0h0m22 0h0m51 0h0m22 0h0m4 0h0m10 0h0m17 0h0m3 0h0m-152 1h0m34 0h0m43 0h0m26 0h0m7 0h0m5 0h0m11 0h1m10 0h0m3 0h0m-126 1h0m22 0h0m44 0h0m22 0h0m10 0h0m3 0h1m3 0h0m3 0h1m6 0h1m5 0h0m-214 1h0m85 0h0m5 0h0m58 0h0m2 0h0m12 0h0m9 0h0m11 0h0m6 0h0m8 0h0m5 0h0m6 0h0m10 0h0m-105 1h0m17 0h0m4 0h0m8 0h0m23 0h0m5 0h0m7 0h0m3 0h0m8 0h0m5 0h0m2 0h0m14 0h1m15 0h0m-149 1h0m28 0h0m10 0h1m75 0h0m11 0h0m8 0h0m11 0h0m3 0h0m33 0h0m-196 1h0m62 0h0m24 0h0m41 0h0m17 0h0m3 0h0m7 0h0m-159 1h0m16 0h0m12 0h0m22 0h0m21 0h1m34 0h0m5 0h0m24 0h0m3 0h0m8 0h0m16 0h0m-159 1h0m33 0h0m49 0h0m26 0h0m2 0h0m6 0h0m11 0h0m5 0h0m6 0h0m3 0h0m2 0h1m4 0h0m2 0h2m11 0h0m-104 1h0m34 0h0m26 0h0m8 0h0m5 0h0m5 0h0m7 0h0m3 0h0m7 0h0m3 0h0m13 0h0m-167 1h0m25 0h0m19 0h0m29 0h0m58 0h0m3 0h0m4 0h0m2 0h0m3 0h0m15 0h0m-223 1h0m80 0h0m38 0h0m6 0h1m19 0h0m28 0h0m8 0h0m12 0h1m2 0h0m10 0h0m6 0h0m-120 1h0m18 0h0m55 0h0m25 0h0m13 0h0m10 0h0m4 0h0m2 0h0m2 0h1m-189 1h0m31 0h0m58 0h0m22 0h0m11 0h0m2 0h0m15 0h0m8 0h0m30 0h0m10 0h0m8 0h0m-187 1h0m80 0h0m15 0h0m14 0h0m22 0h0m15 0h0m4 0h0m5 0h0m2 0h1m3 0h2m2 0h0m2 0h0m10 0h0m2 0h0m4 0h0m-220 1h0m80 0h0m67 0h0m38 0h0m6 0h1m2 0h0m16 0h0m-160 1h0m102 0h0m21 0h0m8 0h0m9 0h0m6 0h0m2 0h0m4 0h0m12 0h0m-139 1h0m4 0h0m52 0h0m5 0h0m6 0h1m15 0h0m19 0h0m18 0h0m6 0h0m4 0h2m42 0h0m-241 1h0m42 0h0m34 0h0m35 0h0m31 0h0m52 0h0m7 0h0m-83 1h0m7 0h0m11 0h0m48 0h0m10 0h0m12 0h0m-128 1h0m27 0h1m11 0h0m15 0h0m4 0h0m20 0h0m9 0h1m10 0h1m2 0h0m-135 1h0m64 0h0m44 0h0m19 0h0m8 0h0m14 0h1m5 0h0m8 0h0m-150 1h0m27 0h0m5 0h0m9 0h0m19 0h0m52 0h0m10 0h0m5 0h0m8 0h0m45 0h0m-174 1h0m17 0h1m33 0h0m29 0h0m18 0h0m19 0h0m21 0h0m4 0h0m-177 1h0m35 0h0m17 0h0m33 0h0m24 0h0m33 0h0m2 0h0m28 0h0m30 0h0m-193 1h0m52 0h0m11 0h0m13 0h0m38 0h0m21 0h0m7 0h0m3 0h0m8 0h0m15 0h0m10 0h0m-133 1h0m14 0h0m14 0h0m49 0h0m10 0h0m14 0h0m-147 1h0m24 0h0m3 0h0m11 0h0m12 0h0m7 0h0m4 0h0m18 0h0m34 0h0m14 0h1m6 0h0m8 0h0m9 0h0m19 0h0m-215 1h0m77 0h0m55 0h1m30 0h0m6 0h0m17 0h0m12 0h0m14 0h0m-106 1h0m15 0h0m2 0h0m11 0h0m4 0h1m3 0h0m3 0h0m20 0h0m37 0h0m7 0h0m-269 1h0m72 0h0m25 0h0m25 0h0m36 0h0m23 0h0m32 0h0m5 0h0m5 0h0m5 0h1m57 0h0m-155 1h0m24 0h0m2 0h0m30 0h0m5 0h0m14 0h0m6 0h0m2 0h0m12 0h0m6 0h0m35 0h0m-81 1h1m27 0h0m29 0h1m7 0h0m-168 1h0m6 0h0m44 0h0m9 0h0m18 0h0m17 0h0m5 0h0m2 0h0m7 0h0m4 0h0m4 0h0m4 0h0m10 0h0m2 0h0m37 0h0m18 0h0m-252 1h0m114 0h0m4 0h0m30 0h0m24 0h0m34 0h0m11 0h1m7 0h0m4 0h0m-221 1h0m21 0h0m54 0h0m18 0h0m20 0h0m18 0h0m46 0h0m31 0h0m26 0h0m2 0h0m-174 1h0m26 0h0m11 0h0m38 0h0m13 0h0m4 0h0m3 0h0m4 0h0m20 0h0m20 0h0m35 0h0m-240 1h0m104 0h0m26 0h0m12 0h0m11 0h1m10 0h0m8 0h0m8 0h0m6 0h0m8 0h0m18 0h0m-120 1h0m39 0h0m8 0h0m14 0h1m6 0h0m5 0h0m31 0h0m49 0h0m-176 1h0m10 0h0m35 0h0m12 0h0m19 0h1m4 0h0m8 0h1m8 0h0m13 0h0m3 0h0m2 0h0m5 0h0m10 0h1m9 0h0m4 0h0m2 0h0m30 0h0m8 0h0m-203 1h0m40 0h0m73 0h0m6 0h0m15 0h0m8 0h0m3 0h0m17 0h0m32 0h0m2 0h0m-236 1h0m9 0h0m25 0h0m12 0h0m35 0h0m10 0h0m2 0h0m14 0h0m30 0h0m23 0h0m51 0h0m42 0h0m-286 1h0m42 0h0m22 0h0m78 0h0m18 0h0m6 0h0m9 0h0m2 0h0m10 0h0m4 0h1m12 0h1m7 0h0m6 0h0m4 0h0m3 0h0m-169 1h0m119 0h0m14 0h0m7 0h0m2 0h0m8 0h0m7 0h0m12 0h0m25 0h1m-225 1h0m27 0h0m5 0h0m2 0h0m18 0h0m56 0h0m10 0h0m40 0h0m11 0h1m5 0h0m14 0h0m3 0h0m6 0h0m-191 1h0m40 0h0m8 0h1m44 0h0m18 0h0m2 0h0m12 0h0m7 0h0m5 0h0m7 0h0m95 0h0m-175 1h0m11 0h0m58 0h0m42 0h0m4 0h0m19 0h0m-209 1h0m17 0h0m16 0h0m82 0h1m17 0h0m22 0h0m16 0h0m5 0h0m12 0h0m-219 1h0m16 0h0m15 0h0m64 0h0m87 0h0m12 0h0m3 0h0m16 0h0m6 0h0m69 0h0m-299 1h0m93 0h0m12 0h0m77 0h0m6 0h1m13 0h0m10 0h0m8 0h0m12 0h1m-213 1h0m30 0h0m56 0h0m21 0h0m61 0h1m9 0h0m20 0h0m-198 1h0m44 0h0m9 0h0m10 0h0m6 0h0m3 0h0m5 0h0m67 0h0m3 0h0m47 0h0m5 0h0m9 0h0m10 0h0m6 0h0m11 0h0m10 0h0m-254 1h0m45 0h0m11 0h0m27 0h0m28 0h0m23 0h1m12 0h0m19 0h0m23 0h0m19 0h0m5 0h0m3 0h0m8 0h0m16 0h0m-195 1h0m51 0h0m17 0h0m21 0h0m3 0h0m22 0h0m3 0h0m6 0h0m20 0h1m10 0h0m11 0h0m4 0h0m3 0h0m31 0h1m10 0h0m7 0h0m-277 1h0m33 0h0m20 0h0m9 0h0m2 0h0m32 0h0m12 0h0m48 0h0m32 0h0m119 0h0m-296 1h0m42 0h0m6 0h0m3 0h0m5 0h0m9 0h0m2 0h0m36 0h0m8 0h0m3 0h0m54 0h0m11 0h0m2 0h0m8 0h0m24 0h0m11 0h0m6 0h0m3 0h0m-244 1h0m11 0h0m31 0h0m11 0h0m3 0h0m15 0h0m9 0h0m12 0h0m3 0h1m5 0h1m3 0h0m6 0h0m4 0h0m76 0h0m2 0h0m6 0h0m5 0h0m14 0h0m19 0h0m5 0h0m-222 1h0m42 0h0m14 0h0m8 0h0m19 0h0m6 0h0m5 0h0m6 0h0m2 0h0m11 0h0m30 0h0m32 0h0m5 0h0m3 0h0m12 0h0m2 0h0m3 0h0m3 0h0m10 0h0m4 0h0m2 0h0m-239 1h0m11 0h0m22 0h0m9 0h0m14 0h0m17 0h0m5 0h0m6 0h0m17 0h0m2 0h0m5 0h0m3 0h0m62 0h1m13 0h0m2 0h0m6 0h0m5 0h0m19 0h0m10 0h0m15 0h0m3 0h0m33 0h0m4 0h0m-242 1h0m17 0h0m14 0h0m5 0h0m21 0h0m53 0h0m9 0h0m24 0h0m10 0h0m3 0h0m23 0h0m9 0h0m6 0h0m28 0h0m-264 1h0m27 0h0m11 0h0m18 0h0m6 0h0m7 0h0m2 0h0m2 0h0m2 0h0m3 0h0m6 0h0m2 0h0m10 0h0m9 0h0m3 0h0m2 0h0m5 0h0m38 0h0m17 0h0m3 0h0m12 0h1m13 0h0m13 0h0m11 0h0m3 0h0m2 0h0m37 0h0m-265 1h0m11 0h0m9 0h0m18 0h0m8 0h0m23 0h0m2 0h0m4 0h0m6 0h0m3 0h0m5 0h0m3 0h0m10 0h0m11 0h0m2 0h0m5 0h0m33 0h0m12 0h0m24 0h0m14 0h0m12 0h0m2 0h1m12 0h0m11 0h0m3 0h0m3 0h0m-247 1h0m11 0h0m9 0h0m13 0h0m9 0h0m11 0h0m18 0h0m7 0h0m3 0h0m15 0h1m4 0h0m8 0h0m5 0h0m23 0h0m28 0h0m62 0h0m12 0h0m19 0h0m-258 1h0m11 0h0m22 0h0m5 0h0m8 0h0m21 0h0m9 0h0m4 0h0m4 0h0m2 0h1m2 0h0m2 0h0m3 0h0m3 0h0m4 0h0m13 0h0m5 0h0m11 0h1m20 0h0m28 0h0m8 0h0m18 0h0m6 0h1m4 0h0m7 0h0m3 0h1m2 0h0m7 0h0m23 0h0m-259 1h0m27 0h0m6 0h0m13 0h0m16 0h0m7 0h0m2 0h0m2 0h0m8 0h0m7 0h0m4 0h0m2 0h0m14 0h0m44 0h0m4 0h0m21 0h0m14 0h0m12 0h0m47 0h0m22 0h0m13 0h0m-274 1h0m16 0h0m6 0h0m5 0h0m18 0h0m15 0h0m10 0h0m6 0h0m2 0h0m12 0h3m2 0h2m5 0h0m6 0h0m32 0h0m7 0h0m28 0h0m9 0h0m21 0h0m17 0h0m6 0h0m-228 1h0m16 0h0m23 0h0m14 0h0m5 0h0m2 0h0m4 0h0m3 0h0m2 0h1m2 0h0m3 0h1m2 0h0m7 0h0m2 0h0m2 0h2m5 0h0m4 0h0m2 0h1m5 0h0m3 0h0m15 0h0m5 0h0m6 0h0m4 0h0m13 0h0m2 0h0m4 0h1m11 0h0m3 0h0m3 0h1m12 0h0m3 0h0m4 0h0m7 0h0m5 0h0m3 0h0m42 0h0m3 0h0m21 0h0m-279 1h0m31 0h0m4 0h0m4 0h0m6 0h0m6 0h0m5 0h0m4 0h0m5 0h0m5 0h0m2 0h1m3 0h0m4 0h0m4 0h0m3 0h0m2 0h0m6 0h1m4 0h0m2 0h0m2 0h0m7 0h0m65 0h1m14 0h0m22 0h1m21 0h0m10 0h0m17 0h0m-273 1h0m42 0h0m8 0h0m3 0h0m6 0h0m3 0h0m2 0h0m5 0h0m2 0h0m2 0h0m5 0h0m6 0h0m2 0h0m2 0h0m3 0h0m4 0h1m5 0h0m2 0h0m2 0h0m6 0h0m3 0h0m2 0h0m5 0h0m5 0h0m5 0h0m12 0h0m3 0h0m18 0h0m6 0h1m2 0h0m19 0h0m4 0h0m35 0h0m7 0h0m8 0h0m31 0h0m-266 1h0m16 0h0m6 0h0m9 0h0m20 0h0m2 0h0m3 0h0m11 0h0m3 0h0m2 0h1m2 0h0m2 0h1m2 0h1m3 0h0m2 0h0m5 0h0m2 0h0m2 0h2m61 0h0m7 0h0m5 0h0m5 0h0m3 0h0m11 0h0m37 0h0m-237 1h0m27 0h0m11 0h0m8 0h0m4 0h0m14 0h0m7 0h0m2 0h0m5 0h0m8 0h1m6 0h2m2 0h1m19 0h0m9 0h0m5 0h0m22 0h0m6 0h0m10 0h0m2 0h0m5 0h0m4 0h1m2 0h0m8 0h0m5 0h0m2 0h0m7 0h0m7 0h0m3 0h0m9 0h0m5 0h0m20 0h0m-238 1h0m9 0h0m18 0h0m4 0h0m8 0h0m6 0h0m6 0h0m5 0h0m4 0h0m2 0h0m3 0h0m4 0h1m2 0h1m5 0h0m2 0h0m10 0h0m3 0h3m8 0h0m4 0h0m2 0h0m16 0h0m2 0h0m11 0h0m16 0h0m16 0h0m4 0h0m3 0h0m4 0h0m2 0h0m3 0h0m6 0h1m22 0h0m6 0h0m3 0h0m27 0h0m-263 1h0m20 0h0m18 0h0m8 0h0m4 0h0m3 0h0m6 0h0m3 0h0m2 0h0m5 0h0m6 0h1m2 0h0m5 0h0m3 0h0m2 0h1m2 0h3m3 0h0m4 0h0m3 0h1m3 0h0m3 0h0m2 0h1m4 0h0m26 0h0m21 0h0m29 0h0m8 0h0m7 0h0m26 0h0m12 0h0m-247 1h0m11 0h0m9 0h0m13 0h0m26 0h0m12 0h0m2 0h0m7 0h1m11 0h0m5 0h0m3 0h0m18 0h0m52 0h0m6 0h0m10 0h0m4 0h0m6 0h0m51 0h0m-247 1h0m11 0h0m9 0h0m7 0h0m6 0h0m5 0h0m12 0h0m3 0h0m6 0h0m5 0h0m3 0h0m2 0h0m2 0h0m2 0h0m2 0h1m2 0h0m2 0h1m2 0h0m3 0h2m3 0h1m2 0h3m4 0h1m2 0h0m7 0h2m3 0h0m2 0h0m6 0h0m2 0h0m15 0h0m19 0h0m7 0h0m9 0h0m3 0h0m2 0h0m18 0h0m8 0h0m3 0h0m30 0h0m47 0h0m-287 1h0m11 0h0m16 0h0m26 0h0m3 0h0m6 0h0m2 0h0m3 0h0m4 0h0m2 0h0m2 0h0m5 0h1m2 0h1m3 0h0m4 0h1m2 0h0m2 0h2m2 0h5m5 0h1m7 0h0m5 0h0m12 0h0m14 0h0m4 0h1m16 0h0m8 0h0m6 0h0m2 0h0m8 0h0m6 0h0m6 0h0m9 0h0m20 0h0m5 0h1m31 0h0m2 0h0m-263 1h0m9 0h0m7 0h0m11 0h0m21 0h0m3 0h0m2 0h0m14 0h0m3 0h0m2 0h0m3 0h0m2 0h1m4 0h1m5 0h0m2 0h0m4 0h0m3 0h0m5 0h0m13 0h0m58 0h0m7 0h0m5 0h0m-196 1h0m11 0h0m9 0h0m7 0h0m11 0h0m18 0h0m6 0h0m5 0h0m2 0h0m2 0h0m2 0h0m2 0h1m2 0h0m3 0h0m2 0h1m3 0h1m4 0h0m2 0h7m3 0h1m4 0h3m3 0h2m3 0h0m2 0h0m6 0h0m6 0h0m13 0h1m3 0h0m6 0h0m3 0h0m7 0h0m2 0h0m14 0h0m9 0h0m5 0h0m4 0h0m7 0h0m5 0h0m3 0h0m7 0h0m12 0h0m-235 1h0m11 0h0m9 0h0m7 0h0m11 0h0m4 0h0m8 0h0m3 0h0m3 0h0m6 0h0m2 0h0m3 0h0m2 0h0m2 0h0m2 0h0m2 0h0m3 0h0m2 0h1m2 0h1m2 0h0m2 0h1m2 0h3m3 0h6m6 0h0m2 0h0m4 0h0m4 0h0m6 0h0m2 0h1m13 0h0m10 0h0m8 0h0m8 0h0m4 0h0m8 0h0m5 0h0m2 0h0m3 0h0m43 0h0m11 0h0m10 0h0m-253 1h0m38 0h0m26 0h0m9 0h0m2 0h0m6 0h0m2 0h1m2 0h0m2 0h1m5 0h0m2 0h2m7 0h0m2 0h1m3 0h1m23 0h0m8 0h0m4 0h0m17 0h0m15 0h0m3 0h0m18 0h0m23 0h0m14 0h0m13 0h0m-230 1h0m7 0h0m15 0h0m4 0h0m7 0h0m6 0h0m3 0h0m5 0h0m4 0h0m4 0h0m3 0h0m2 0h1m2 0h1m2 0h1m6 0h0m3 0h0m6 0h0m2 0h2m9 0h1m2 0h1m13 0h0m5 0h0m3 0h0m14 0h0m29 0h0m60 0h0m-243 1h0m11 0h0m9 0h0m7 0h0m6 0h0m5 0h0m4 0h0m4 0h0m7 0h0m3 0h0m6 0h0m2 0h0m5 0h0m2 0h0m2 0h0m2 0h1m2 0h0m2 0h1m2 0h1m2 0h3m2 0h6m2 0h0m3 0h1m2 0h0m3 0h1m2 0h1m2 0h0m3 0h3m7 0h1m3 0h1m2 0h0m2 0h0m10 0h0m5 0h0m36 0h0m20 0h0m40 0h0m-247 1h0m11 0h0m9 0h0m7 0h0m19 0h0m18 0h0m5 0h0m2 0h0m2 0h0m3 0h0m2 0h0m6 0h0m2 0h1m2 0h0m2 0h1m4 0h0m8 0h1m2 0h1m2 0h1m2 0h0m3 0h0m3 0h0m2 0h1m3 0h1m4 0h0m28 0h0m5 0h0m32 0h0m19 0h0m-214 1h0m11 0h0m9 0h0m7 0h0m6 0h0m5 0h0m8 0h0m4 0h0m3 0h0m6 0h0m3 0h0m2 0h0m3 0h0m2 0h0m2 0h0m2 0h0m2 0h1m2 0h0m2 0h1m2 0h1m2 0h3m2 0h2m2 0h6m6 0h1m2 0h0m3 0h0m2 0h1m8 0h0m3 0h0m19 0h0m7 0h0m18 0h0m7 0h0m8 0h0m2 0h0m12 0h0m3 0h0m2 0h1m26 0h0m3 0h0m-235 1h0m11 0h0m9 0h0m18 0h0m8 0h0m7 0h0m6 0h0m8 0h0m8 0h1m4 0h0m3 0h1m2 0h3m3 0h0m2 0h1m2 0h0m2 0h2m3 0h0m2 0h0m2 0h1m4 0h0m9 0h0m5 0h0m20 0h0m2 0h0m4 0h1m25 0h0m10 0h0m5 0h0m2 0h0m4 0h0m6 0h0m21 0h0m-227 1h0m11 0h0m9 0h0m7 0h0m6 0h0m5 0h0m4 0h0m8 0h0m3 0h0m3 0h0m6 0h0m2 0h0m3 0h0m4 0h0m5 0h0m2 0h0m5 0h1m2 0h0m3 0h0m2 0h0m2 0h1m2 0h0m4 0h0m3 0h0m7 0h0m2 0h0m3 0h0m2 0h0m14 0h0m6 0h0m68 0h0m42 0h0m-247 1h0m33 0h0m5 0h0m12 0h0m3 0h0m3 0h0m3 0h0m5 0h0m3 0h0m2 0h0m2 0h0m4 0h1m2 0h0m2 0h0m3 0h0m3 0h1m2 0h0m2 0h4m2 0h1m3 0h0m4 0h0m4 0h0m4 0h0m5 0h0m4 0h1m7 0h0m21 0h0m32 0h0m54 0h0m9 0h0m46 0h0m-292 1h0m11 0h0m27 0h0m4 0h0m14 0h0m11 0h0m2 0h0m4 0h0m2 0h0m3 0h0m2 0h1m2 0h1m2 0h1m4 0h4m7 0h2m2 0h0m2 0h0m2 0h1m2 0h0m7 0h0m4 0h0m4 0h0m4 0h0m19 0h0m65 0h0m38 0h1m-255 1h0m20 0h0m18 0h0m4 0h0m4 0h0m4 0h0m6 0h0m3 0h0m5 0h0m3 0h0m2 0h0m6 0h0m3 0h0m5 0h0m4 0h2m2 0h4m3 0h0m3 0h0m2 0h0m2 0h0m2 0h2m4 0h0m6 0h0m5 0h0m4 0h1m2 0h0m3 0h0m2 0h0m12 0h0m84 0h0m18 0h0m-250 1h0m11 0h0m9 0h0m7 0h0m6 0h0m5 0h0m4 0h0m4 0h0m4 0h0m3 0h0m6 0h0m5 0h0m3 0h0m2 0h0m2 0h0m2 0h0m2 0h1m2 0h0m2 0h1m2 0h0m3 0h3m2 0h12m2 0h0m3 0h3m2 0h0m2 0h3m2 0h2m4 0h1m2 0h1m5 0h0m2 0h0m4 0h0m10 0h1m15 0h1m16 0h0m24 0h0m4 0h0m39 0h0m-231 1h0m13 0h0m5 0h0m4 0h0m4 0h0m7 0h0m6 0h0m5 0h0m3 0h0m4 0h0m2 0h0m2 0h1m2 0h0m2 0h1m2 0h1m2 0h1m2 0h0m3 0h1m2 0h0m3 0h0m2 0h0m2 0h0m2 0h1m6 0h0m2 0h0m2 0h0m5 0h1m3 0h1m3 0h0m6 0h0m5 0h0m2 0h0m16 0h0m12 0h1m16 0h0m-186 1h0m20 0h0m7 0h0m15 0h0m4 0h0m7 0h0m9 0h0m2 0h0m5 0h0m2 0h0m4 0h1m2 0h0m2 0h1m3 0h0m2 0h2m4 0h0m3 0h2m2 0h0m2 0h1m2 0h1m4 0h0m6 0h0m2 0h0m8 0h0m2 0h0m6 0h0m3 0h0m13 0h0m5 0h0m30 0h0m49 0h0m-233 1h0m11 0h0m9 0h0m13 0h0m5 0h0m29 0h0m2 0h0m2 0h0m2 0h0m2 0h1m2 0h0m3 0h0m3 0h0m2 0h3m3 0h2m2 0h0m2 0h3m2 0h0m5 0h0m5 0h0m4 0h0m2 0h2m14 0h0m4 0h0m5 0h0m9 0h0m18 0h0m5 0h0m5 0h0m14 0h0m3 0h0m13 0h0m10 0h0m14 0h0m12 0h0m-247 2h0m11 0h0m9 0h0m7 0h0m6 0h0m5 0h0m4 0h0m4 0h0m4 0h0m14 0h0m3 0h0m6 0h0m2 0h1m2 0h0m3 0h0m2 0h0m3 0h1m4 0h6m6 0h0m2 0h0m2 0h0m2 0h2m2 0h0m2 0h0m2 0h0m2 0h0m4 0h0m2 0h0m5 0h0m3 0h0m3 0h0m7 0h0m17 0h0m14 0h0m24 0h0m10 0h0m36 0h0m-233 1h0m16 0h0m6 0h0m5 0h0m4 0h0m4 0h0m7 0h0m3 0h0m3 0h0m3 0h0m2 0h0m3 0h0m2 0h0m2 0h0m4 0h1m2 0h0m3 0h0m2 0h1m2 0h3m2 0h0m2 0h2m2 0h0m2 0h0m2 0h0m2 0h2m3 0h0m4 0h0m4 0h0m3 0h0m3 0h0m4 0h0m2 0h0m7 0h0m66 0h0m6 0h0m19 0h0m-226 1h0m27 0h0m6 0h0m9 0h0m4 0h0m4 0h0m6 0h0m3 0h0m3 0h0m5 0h0m4 0h0m2 0h0m2 0h1m4 0h1m2 0h1m3 0h2m2 0h0m2 0h0m2 0h1m2 0h0m2 0h0m4 0h3m4 0h0m2 0h0m2 0h0m2 0h1m3 0h2m8 0h1m4 0h1m2 0h3m13 0h0m9 0h1m28 0h0m5 0h0m2 0h0m-200 1h0m11 0h0m9 0h0m13 0h0m5 0h0m8 0h0m7 0h0m3 0h0m3 0h0m3 0h0m5 0h0m2 0h0m2 0h0m4 0h0m3 0h0m3 0h0m3 0h0m2 0h0m3 0h0m5 0h2m3 0h2m3 0h4m3 0h0m3 0h1m3 0h2m2 0h0m8 0h0m5 0h0m12 0h0m3 0h0m39 0h0m9 0h0m9 0h0m-207 1h0m11 0h0m9 0h0m13 0h0m5 0h0m4 0h0m11 0h0m9 0h0m2 0h0m3 0h0m2 0h0m4 0h0m2 0h1m4 0h1m2 0h1m2 0h0m2 0h1m2 0h2m2 0h4m3 0h0m3 0h0m3 0h1m4 0h0m6 0h0m2 0h0m3 0h0m11 0h0m3 0h0m8 0h0m18 0h1m14 0h0m13 0h1m18 0h0m7 0h0m-218 1h0m11 0h0m9 0h0m7 0h0m6 0h0m5 0h0m4 0h0m8 0h0m3 0h0m6 0h0m3 0h0m2 0h0m3 0h0m2 0h0m2 0h0m2 0h0m2 0h0m3 0h0m2 0h0m3 0h1m3 0h2m2 0h4m2 0h0m2 0h1m2 0h0m3 0h0m4 0h0m2 0h0m2 0h0m6 0h0m9 0h0m7 0h0m3 0h0m5 0h0m37 0h0m9 0h0m8 0h0m3 0h0m-200 2h0m11 0h0m22 0h0m5 0h0m4 0h0m4 0h0m4 0h0m9 0h0m3 0h0m5 0h0m2 0h0m2 0h0m2 0h0m2 0h0m3 0h0m2 0h1m2 0h1m2 0h2m3 0h7m6 0h3m3 0h1m4 0h1m15 0h0m3 0h0m12 0h0m2 0h0m4 0h0m13 0h0m3 0h0m23 0h0m14 0h0m9 0h0m5 0h0m11 0h0m-230 1h0m11 0h0m31 0h0m11 0h0m3 0h0m3 0h0m3 0h0m2 0h0m7 0h0m2 0h0m2 0h1m2 0h0m2 0h1m2 0h1m3 0h0m6 0h0m2 0h0m3 0h0m2 0h0m4 0h0m2 0h0m2 0h0m2 0h0m5 0h0m2 0h0m4 0h0m3 0h0m8 0h0m10 0h0m2 0h0m43 0h0m7 0h0m30 0h0m23 0h0m-247 2h0m11 0h0m16 0h0m11 0h0m4 0h0m4 0h0m4 0h0m3 0h0m6 0h0m8 0h0m2 0h0m2 0h0m4 0h1m7 0h1m3 0h1m3 0h0m7 0h2m3 0h0m2 0h3m2 0h0m4 0h0m3 0h3m3 0h0m3 0h0m2 0h0m11 0h0m2 0h0m21 0h0m7 0h0m7 0h0m-176 1h0m11 0h0m9 0h0m7 0h0m11 0h0m4 0h0m4 0h0m10 0h0m8 0h0m3 0h0m2 0h0m2 0h0m2 0h0m2 0h1m2 0h0m2 0h0m3 0h1m2 0h1m2 0h0m2 0h0m3 0h1m2 0h0m3 0h0m3 0h0m2 0h1m3 0h1m4 0h0m5 0h4m4 0h0m18 0h1m10 0h1m32 0h0m9 0h0m19 0h0m-217 2h0m11 0h0m9 0h0m7 0h0m6 0h0m5 0h0m4 0h0m8 0h0m3 0h0m3 0h0m6 0h0m2 0h0m3 0h0m4 0h0m2 0h0m2 0h1m2 0h0m2 0h1m2 0h1m2 0h2m3 0h0m2 0h2m2 0h1m3 0h0m2 0h0m7 0h0m7 0h0m2 0h0m2 0h0m6 0h1m2 0h0m6 0h0m8 0h0m38 0h0m10 0h0m3 0h0m-195 1h0m11 0h0m9 0h0m7 0h0m6 0h0m5 0h0m4 0h0m4 0h0m4 0h0m6 0h0m3 0h0m3 0h0m2 0h0m3 0h0m4 0h0m2 0h0m2 0h1m2 0h0m3 0h0m7 0h1m2 0h2m2 0h0m3 0h1m3 0h0m5 0h0m4 0h0m2 0h1m4 0h0m9 0h1m8 0h1m7 0h0m28 0h0m48 0h0m-220 2h0m20 0h0m13 0h0m5 0h0m15 0h0m3 0h0m6 0h0m2 0h0m3 0h0m2 0h0m4 0h0m5 0h0m2 0h1m5 0h0m2 0h1m5 0h0m2 0h1m4 0h0m2 0h0m4 0h2m6 0h0m3 0h0m2 0h0m6 0h0m35 0h0m3 0h0m-164 2h0m11 0h0m9 0h0m26 0h0m13 0h0m5 0h0m3 0h0m6 0h0m5 0h0m3 0h0m2 0h0m3 0h0m2 0h1m3 0h1m3 0h2m2 0h2m3 0h1m2 0h0m3 0h1m4 0h0m4 0h0m15 0h0m9 0h1m5 0h0m3 0h0m5 0h0m17 0h1m-165 2h0m16 0h0m6 0h0m5 0h0m4 0h0m4 0h0m4 0h0m3 0h0m3 0h0m6 0h0m5 0h0m2 0h0m2 0h0m2 0h0m2 0h1m2 0h0m2 0h1m2 0h0m3 0h3m2 0h0m2 0h0m3 0h0m3 0h1m4 0h1m3 0h0m3 0h0m2 0h4m2 0h0m4 0h0m21 0h0m10 0h0m8 0h0m14 0h0m5 0h0m8 0h0m4 0h0m-193 2h0m11 0h0m16 0h0m6 0h0m5 0h0m12 0h0m9 0h0m3 0h0m2 0h0m3 0h0m6 0h0m2 0h1m2 0h0m3 0h0m2 0h1m2 0h1m4 0h3m2 0h0m4 0h1m2 0h0m2 0h0m2 0h3m4 0h0m3 0h1m6 0h0m2 0h0m5 0h0m17 0h0m-148 3h0m11 0h0m9 0h0m7 0h0m6 0h0m5 0h0m4 0h0m4 0h0m4 0h0m6 0h0m6 0h0m5 0h0m4 0h0m5 0h0m5 0h0m3 0h0m2 0h0m3 0h0m4 0h0m4 0h0m3 0h0m5 0h1m2 0h1m2 0h0m2 0h2m2 0h0m6 0h0m10 0h0m6 0h0m3 0h0m4 0h0m12 0h0m12 0h0m13 0h0m5 0h0m22 0h0m-210 2h0m11 0h0m16 0h0m19 0h0m7 0h0m3 0h0m11 0h0m2 0h0m4 0h0m3 0h0m2 0h0m3 0h0m2 0h0m5 0h1m3 0h1m2 0h0m6 0h0m2 0h0m2 0h0m2 0h1m3 0h0m4 0h1m2 0h0m6 0h0m29 0h0m10 0h0m10 0h0m57 0h0m-230 3h0m38 0h0m12 0h0m12 0h0m2 0h0m5 0h0m2 0h0m2 0h0m2 0h0m3 0h0m2 0h1m3 0h0m2 0h1m2 0h0m2 0h0m3 0h0m2 0h0m4 0h0m17 0h0m7 0h0m20 0h0m7 0h0m5 0h0m-156 3h0m20 0h0m7 0h0m15 0h0m4 0h0m7 0h0m3 0h0m15 0h0m4 0h1m2 0h0m2 0h0m3 0h0m4 0h0m4 0h0m2 0h1m2 0h0m6 0h0m3 0h0m2 0h0m5 0h0m3 0h1m2 0h0m7 0h1m10 0h2m29 0h1m6 0h0m37 0h0m-211 3h0m11 0h0m27 0h0m4 0h0m11 0h0m11 0h0m9 0h0m3 0h0m4 0h1m2 0h1m3 0h2m2 0h0m2 0h0m5 0h0m2 0h0m3 0h0m10 0h0m15 0h0m7 0h0m5 0h0m7 0h0m3 0h0m-150 4h0m27 0h0m11 0h0m12 0h0m21 0h0m2 0h0m3 0h0m7 0h0m3 0h0m3 0h0m4 0h3m9 0h0m3 0h0m3 0h0m2 0h0m2 0h1m5 0h2m2 0h2m23 0h0m24 0h0m26 0h0m-200 4h0m20 0h0m26 0h0m16 0h0m7 0h0m4 0h0m10 0h1m4 0h0m4 0h0m4 0h0m2 0h0m2 0h0m8 0h2m3 0h0m5 0h2m7 0h1m6 0h0m5 0h0m12 0h0m9 0h0m33 0h0m-166 5h0m11 0h0m12 0h0m9 0h0m5 0h0m3 0h0m2 0h0m6 0h0m12 0h2m3 0h0m3 0h0m2 0h0m7 0h1m2 0h0m7 0h3m18 0h0m3 0h0m29 0h0m-117 5h0m9 0h0m5 0h0m3 0h0m2 0h0m2 0h0m2 0h0m2 0h0m5 0h0m6 0h1m2 0h0m4 0h1m2 0h0m2 0h1m4 0h0m2 0h0m2 0h0m2 0h5m15 0h3m4 0h0m12 0h0m2 0h0m10 0h0m-133 7h0m32 0h0m3 0h0m2 0h0m7 0h0m7 0h0m3 0h0m5 0h2m6 0h0m2 0h0m4 0h0m2 0h1m6 0h0m10 0h0m2 0h0m3 0h0m3 0h0m3 0h0m19 0h1m9 0h0m-139 9h0m33 0h0m6 0h0m12 0h0m2 0h0m5 0h0m3 0h0m6 0h0m2 0h0m2 0h0m2 0h0m2 0h0m2 0h0m15 0h1m5 0h1m4 0h0m3 0h1m7 0h0m14 0h0" fill="none" stroke="#ea5f47" stroke-width="1.9" stroke-linecap="square"/>
<rect x="716.2" y="1220" width="2.2" height="120" fill="#ea5f47"/>
<rect x="786" y="1337.3" width="167.8" height="2.4" fill="#ea5f47"/>
<path d="M953.8 1338.5h9M965.7 1338.5h1.5M970.6 1338.5h1.5M720.7 1338.5h1.6M724.1 1338.5h1.6M730.9 1338.5h1.6M737.6 1338.5h1.6M742.5 1338.5h1.6M747.7 1338.5h1.6M752 1338.5h1.6M760.2 1338.5h1.6M767 1338.5h1.6M771.8 1338.5h1.6M775.6 1338.5h1.6M779.5 1338.5h1.6" stroke="#ea5f47" stroke-width="2.2" fill="none"/>
<g transform="translate(715.7 976.9) scale(1.0313 0.9782)">
<use href="#tpl"/>
<g>
<text x="0.6" y="20" font-size="21.4" fill="#111" textLength="26.66" lengthAdjust="spacingAndGlyphs">UL</text>
<text x="1.3" y="45.1" font-size="21.4" fill="#111" textLength="43.44" lengthAdjust="spacingAndGlyphs">0.22</text>
<text x="385.2" y="20" font-size="21.4" fill="#111" textLength="28.45" lengthAdjust="spacingAndGlyphs">UR</text>
<text x="385.8" y="45.1" font-size="21.4" fill="#111" textLength="43.32" lengthAdjust="spacingAndGlyphs">5.29</text>
<text x="0.5" y="340.7" font-size="21.4" fill="#111" textLength="23.36" lengthAdjust="spacingAndGlyphs">LL</text>
<text x="1.2" y="365.7" font-size="21.4" fill="#111" textLength="55.13" lengthAdjust="spacingAndGlyphs">85.45</text>
<text x="385.1" y="340.7" font-size="21.4" fill="#111" textLength="26.01" lengthAdjust="spacingAndGlyphs">LR</text>
<text x="385.7" y="365.7" font-size="21.4" fill="#111" textLength="43.32" lengthAdjust="spacingAndGlyphs">9.05</text>
</g></g>
<path d="M854.1 976.9V1341 M715.7 1220H1158.3" stroke="#0a0a0a" stroke-width="2.05" fill="none"/>
<clipPath id="c8"><rect x="0" y="0" width="1734" height="1419.5"/></clipPath>
<g clip-path="url(#c8)"><text x="829.5" y="1417.2" font-size="29.5" fill="#111" textLength="145.75" lengthAdjust="spacingAndGlyphs">AGS-5mg/l</text></g>
<path d="m1448 1140h0m75 5h0m0 1h0m19 0h0m-16 3h0m8 0h0m49 0h0m-122 1h0m99 1h0m-72 1h0m38 0h0m-71 1h0m81 0h0m8 0h0m45 0h0m-115 1h0m61 0h0m7 0h0m19 0h0m-10 1h0m-91 1h0m7 0h0m72 0h0m33 0h0m-96 1h0m73 0h0m-22 1h0m3 0h0m2 0h0m6 0h0m5 0h0m2 0h0m12 0h0m-84 1h0m19 0h0m17 0h0m24 0h0m-11 1h0m3 0h1m25 0h0m5 0h0m-89 1h0m18 0h0m37 0h0m2 0h0m32 0h0m-114 1h0m10 0h0m47 0h0m25 0h1m-211 1h0m97 0h0m31 0h0m53 0h0m3 0h0m23 0h0m2 0h0m13 0h0m2 0h0m11 0h0m39 0h0m-141 1h0m13 0h0m4 0h0m15 0h0m42 0h0m35 0h0m17 0h0m7 0h0m-176 1h0m40 0h0m4 0h0m28 0h0m9 0h0m47 0h0m4 0h1m3 0h0m2 0h0m4 0h0m7 0h0m6 0h0m-55 1h0m22 0h0m12 0h0m5 0h0m2 0h0m16 0h1m-119 1h0m27 0h0m2 0h0m7 0h0m5 0h0m7 0h0m22 0h0m7 0h0m4 0h1m3 0h0m7 0h0m20 0h0m12 0h0m8 0h0m13 0h0m-149 1h0m6 0h0m5 0h0m40 0h0m26 0h0m8 0h0m11 0h0m4 0h1m14 0h0m4 0h0m-100 1h0m2 0h0m5 0h0m37 0h0m10 0h0m4 0h0m3 0h0m8 0h0m8 0h0m4 0h0m4 0h0m3 0h0m5 0h0m18 0h0m4 0h0m-232 1h0m124 0h0m7 0h1m14 0h0m6 0h0m7 0h0m5 0h0m3 0h1m9 0h0m3 0h0m18 0h0m5 0h0m6 0h0m8 0h0m18 0h0m10 0h0m-281 1h0m23 0h0m124 0h1m36 0h0m3 0h0m7 0h0m12 0h0m5 0h0m19 0h0m2 0h0m9 0h0m2 0h0m9 0h0m5 0h0m15 0h0m-142 1h0m54 0h0m24 0h0m12 0h0m12 0h0m27 0h0m-123 1h0m8 0h0m7 0h0m13 0h0m23 0h0m9 0h0m7 0h0m9 0h0m8 0h0m3 0h0m4 0h2m8 0h0m3 0h1m3 0h1m3 0h0m3 0h1m3 0h0m-107 1h0m37 0h0m3 0h0m3 0h0m21 0h0m3 0h0m4 0h0m14 0h0m6 0h0m2 0h0m-119 1h0m27 0h0m4 0h0m10 0h0m11 0h0m10 0h0m9 0h0m7 0h0m4 0h0m4 0h0m2 0h1m3 0h0m28 0h1m20 0h0m-107 1h0m9 0h0m19 0h0m5 0h0m4 0h0m8 0h1m3 0h0m12 0h0m4 0h0m6 0h0m3 0h0m5 0h0m5 0h1m3 0h2m5 0h0m14 0h0m-136 1h0m16 0h0m10 0h0m3 0h0m15 0h0m7 0h0m2 0h0m2 0h0m17 0h0m19 0h1m12 0h1m5 0h0m3 0h0m2 0h1m7 0h1m4 0h0m-237 1h0m101 0h0m5 0h0m5 0h0m6 0h0m2 0h0m6 0h0m27 0h0m19 0h1m4 0h0m16 0h1m6 0h0m5 0h0m7 0h0m3 0h0m2 0h0m8 0h0m14 0h0m-211 1h0m59 0h0m18 0h0m14 0h0m3 0h0m14 0h0m19 0h0m8 0h0m21 0h1m2 0h0m8 0h0m5 0h0m8 0h0m2 0h0m3 0h0m2 0h0m5 0h0m14 0h0m17 0h0m3 0h0m-152 1h0m11 0h0m13 0h0m20 0h0m18 0h0m21 0h0m5 0h0m6 0h0m12 0h0m8 0h0m17 0h0m2 0h0m-214 1h0m30 0h0m50 0h0m5 0h0m61 0h1m17 0h0m11 0h0m7 0h0m12 0h0m2 0h0m5 0h0m4 0h1m5 0h0m4 0h0m2 0h0m-159 1h0m17 0h0m36 0h0m20 0h0m7 0h0m11 0h0m9 0h0m10 0h0m7 0h0m4 0h0m6 0h0m7 0h0m4 0h1m8 0h0m5 0h0m9 0h0m17 0h0m-147 1h0m18 0h0m10 0h0m6 0h0m9 0h0m4 0h0m12 0h0m2 0h0m9 0h0m7 0h0m2 0h0m9 0h0m5 0h1m4 0h0m2 0h0m3 0h0m6 0h1m2 0h0m70 0h0m-189 1h0m30 0h0m11 0h0m4 0h0m13 0h0m4 0h0m12 0h0m2 0h0m3 0h0m10 0h0m16 0h0m18 0h0m4 0h0m6 0h0m2 0h0m2 0h0m-254 1h0m24 0h0m109 0h0m12 0h0m9 0h0m15 0h0m8 0h0m2 0h0m11 0h0m6 0h0m10 0h0m3 0h1m4 0h0m3 0h0m4 0h0m5 0h1m3 0h0m2 0h0m4 0h0m11 0h0m18 0h0m-133 1h0m18 0h0m6 0h0m21 0h0m6 0h0m2 0h0m7 0h0m15 0h0m3 0h0m8 0h0m4 0h0m2 0h0m5 0h0m3 0h0m3 0h1m-241 1h0m13 0h0m121 0h0m9 0h0m18 0h0m9 0h0m8 0h0m13 0h0m10 0h0m8 0h0m7 0h1m3 0h1m5 0h0m6 0h0m3 0h1m5 0h0m5 0h0m6 0h0m6 0h0m-199 1h0m80 0h0m26 0h0m36 0h0m2 0h0m3 0h1m3 0h0m7 0h1m9 0h0m4 0h0m5 0h0m13 0h0m26 0h0m-185 1h0m61 0h0m9 0h0m4 0h0m17 0h0m6 0h0m8 0h0m2 0h1m3 0h0m3 0h1m3 0h0m10 0h0m4 0h0m10 0h0m-120 1h0m24 0h0m19 0h0m11 0h0m28 0h0m2 0h1m12 0h1m7 0h2m2 0h0m5 0h1m3 0h0m3 0h0m4 0h0m14 0h0m-246 1h0m37 0h0m144 0h0m7 0h0m7 0h0m4 0h1m10 0h0m2 0h0m2 0h0m11 0h0m7 0h0m9 0h0m-252 1h0m95 0h0m43 0h0m22 0h2m24 0h1m5 0h1m6 0h0m4 0h2m14 0h1m3 0h0m5 0h0m6 0h1m13 0h0m10 0h1m-244 1h0m14 0h0m79 0h0m12 0h0m8 0h0m38 0h0m2 0h0m8 0h0m7 0h1m5 0h0m7 0h0m3 0h0m3 0h1m7 0h0m12 0h0m7 0h0m7 0h0m6 0h0m32 0h1m18 0h0m-251 1h0m89 0h0m3 0h0m39 0h0m5 0h0m27 0h0m2 0h0m7 0h0m10 0h0m3 0h0m4 0h0m3 0h1m2 0h1m2 0h0m3 0h0m3 0h2m4 0h0m2 0h0m11 0h0m-223 1h0m15 0h0m31 0h0m22 0h0m25 0h0m37 0h0m3 0h0m8 0h1m19 0h0m11 0h0m3 0h0m13 0h0m4 0h0m6 0h0m9 0h0m5 0h0m19 0h0m8 0h0m-140 1h0m4 0h0m9 0h0m7 0h1m18 0h1m7 0h1m3 0h0m18 0h0m5 0h0m6 0h0m3 0h0m5 0h0m4 0h1m10 0h0m4 0h0m17 0h0m-233 1h0m16 0h0m36 0h0m2 0h0m65 0h0m16 0h0m9 0h0m9 0h0m3 0h0m6 0h0m19 0h0m11 0h0m5 0h0m9 0h0m5 0h0m8 0h0m-136 1h0m19 0h0m5 0h0m13 0h0m29 0h0m3 0h0m13 0h0m16 0h0m5 0h1m2 0h0m16 0h0m2 0h0m2 0h0m3 0h0m-271 1h0m75 0h0m102 0h0m30 0h0m5 0h0m3 0h0m18 0h0m5 0h0m11 0h0m11 0h0m4 0h0m6 0h0m5 0h0m-264 1h0m48 0h0m109 0h1m22 0h0m11 0h0m5 0h0m20 0h0m2 0h0m7 0h0m7 0h0m2 0h3m10 0h2m2 0h0m-220 1h0m39 0h0m17 0h0m30 0h0m17 0h0m24 0h0m8 0h0m11 0h0m7 0h0m8 0h0m7 0h0m5 0h0m7 0h0m8 0h0m19 0h0m15 0h0m-208 1h0m11 0h0m4 0h0m24 0h0m72 0h0m25 0h0m12 0h0m13 0h0m11 0h0m9 0h1m6 0h0m2 0h1m3 0h0m10 0h0m2 0h1m2 0h0m23 0h0m-212 1h0m98 0h0m4 0h0m48 0h0m18 0h1m5 0h0m-250 1h0m53 0h0m25 0h0m6 0h0m9 0h0m41 0h0m25 0h0m5 0h0m22 0h0m14 0h0m14 0h0m11 0h3m3 0h0m2 0h0m2 0h1m9 0h0m19 0h0m2 0h0m8 0h0m-274 1h0m62 0h0m9 0h0m4 0h0m6 0h0m45 0h0m29 0h0m18 0h0m2 0h0m14 0h0m15 0h0m4 0h0m10 0h0m17 0h1m11 0h0m12 0h0m8 0h0m2 0h0m-207 1h0m26 0h0m5 0h0m20 0h0m17 0h0m31 0h0m7 0h0m4 0h0m7 0h0m23 0h0m4 0h0m10 0h2m8 0h0m2 0h1m9 0h0m8 0h0m34 0h0m-280 1h0m78 0h0m2 0h1m95 0h0m7 0h0m5 0h0m19 0h0m17 0h0m6 0h0m14 0h0m21 0h0m16 0h0m2 0h0m36 0h0m-277 1h0m20 0h0m13 0h0m5 0h0m11 0h0m96 0h0m6 0h0m4 0h0m15 0h1m13 0h0m7 0h0m12 0h0m54 0h0m-288 1h0m203 0h0m8 0h0m2 0h0m9 0h0m18 0h0m12 0h0m33 0h0m3 0h0m-249 1h0m6 0h0m47 0h0m63 0h0m19 0h0m5 0h0m4 0h0m13 0h0m3 0h1m5 0h0m9 0h1m7 0h0m6 0h0m12 0h0m5 0h0m19 0h0m-264 1h0m27 0h0m18 0h0m11 0h0m16 0h0m70 0h0m32 0h0m5 0h0m8 0h0m7 0h0m27 0h0m10 0h0m2 0h0m12 0h1m4 0h0m10 0h0m-260 1h0m9 0h0m13 0h0m5 0h0m38 0h0m2 0h0m15 0h0m18 0h0m61 0h0m21 0h0m14 0h0m31 0h0m3 0h0m3 0h1m23 0h0m3 0h0m3 0h0m22 0h0m-263 1h0m5 0h0m26 0h0m9 0h0m114 0h0m8 0h0m27 0h0m3 0h0m14 0h0m14 0h0m39 0h0m-265 1h0m15 0h0m14 0h0m6 0h0m2 0h0m3 0h0m16 0h0m22 0h0m30 0h0m27 0h0m19 0h0m15 0h0m2 0h0m6 0h0m4 0h0m5 0h0m5 0h0m4 0h0m8 0h0m6 0h0m12 0h0m-248 1h0m38 0h0m12 0h0m17 0h0m8 0h0m5 0h0m11 0h0m10 0h0m16 0h0m7 0h0m37 0h0m3 0h0m32 0h0m10 0h0m21 0h0m2 0h0m5 0h0m5 0h0m6 0h0m19 0h0m12 0h0m7 0h0m-263 1h0m49 0h0m2 0h0m12 0h0m5 0h0m8 0h0m2 0h0m2 0h0m47 0h0m19 0h0m30 0h0m8 0h0m11 0h0m8 0h0m12 0h0m-185 1h0m21 0h0m2 0h0m2 0h0m20 0h0m23 0h0m21 0h0m45 0h0m7 0h0m12 0h0m5 0h0m19 0h0m3 0h1m-220 1h0m22 0h0m23 0h0m3 0h0m5 0h0m5 0h0m6 0h0m13 0h0m5 0h0m3 0h0m39 0h0m28 0h0m15 0h0m7 0h0m5 0h0m10 0h0m10 0h0m10 0h0m11 0h0m8 0h0m2 0h0m43 0h0m-264 1h0m26 0h0m30 0h0m4 0h0m4 0h0m5 0h0m5 0h1m8 0h0m7 0h0m11 0h0m16 0h0m39 0h0m7 0h0m6 0h0m18 0h0m5 0h0m3 0h0m9 0h0m9 0h0m7 0h0m3 0h0m3 0h0m9 0h0m26 0h0m11 0h0m-265 1h0m11 0h0m4 0h0m8 0h0m9 0h0m17 0h0m2 0h0m2 0h1m2 0h0m32 0h0m33 0h0m5 0h0m14 0h0m4 0h0m3 0h0m2 0h0m2 0h0m12 0h0m32 0h0m5 0h0m3 0h0m12 0h0m11 0h0m3 0h0m28 0h0m-246 1h0m33 0h0m5 0h0m16 0h0m3 0h0m8 0h0m2 0h0m6 0h0m8 0h0m23 0h0m32 0h0m25 0h0m9 0h2m5 0h1m7 0h0m2 0h1m4 0h0m-188 1h0m22 0h0m9 0h0m2 0h0m13 0h0m3 0h0m29 0h0m44 0h0m4 0h0m4 0h0m15 0h1m19 0h0m6 0h0m2 0h0m8 0h1m13 0h0m6 0h0m3 0h0m21 0h0m21 0h0m-288 1h0m20 0h0m7 0h0m11 0h0m15 0h0m3 0h0m8 0h0m11 0h1m21 0h0m10 0h0m7 0h0m7 0h0m8 0h0m11 0h0m6 0h0m6 0h0m31 0h0m23 0h0m9 0h0m27 0h0m14 0h0m14 0h0m-270 1h0m33 0h0m38 0h0m4 0h0m5 0h1m3 0h0m23 0h0m26 0h0m7 0h0m36 0h0m4 0h0m5 0h0m8 0h0m3 0h0m26 0h1m2 0h0m18 0h0m2 0h0m28 0h0m9 0h0m-271 1h0m22 0h0m23 0h0m6 0h0m13 0h1m2 0h0m2 0h1m2 0h0m4 0h0m4 0h0m34 0h0m29 0h0m2 0h0m13 0h0m15 0h0m6 0h1m3 0h0m4 0h1m9 0h0m5 0h0m4 0h0m32 0h1m32 0h0m-282 1h0m33 0h0m13 0h0m29 0h1m2 0h0m3 0h0m2 0h0m8 0h1m2 0h0m13 0h0m30 0h0m17 0h0m17 0h0m6 0h0m7 0h0m35 0h0m9 0h0m3 0h0m8 0h0m5 0h0m4 0h0m16 0h0m11 0h1m-249 1h0m6 0h0m9 0h0m4 0h0m18 0h0m12 0h0m8 0h0m2 0h0m15 0h0m10 0h0m10 0h0m17 0h0m13 0h0m11 0h0m16 0h1m4 0h0m23 0h0m14 0h0m4 0h0m7 0h0m13 0h0m72 0h0m-305 1h0m22 0h0m36 0h0m4 0h0m2 0h0m3 0h0m3 0h0m15 0h0m7 0h0m5 0h0m3 0h0m3 0h0m6 0h0m54 0h0m8 0h0m3 0h0m10 0h0m3 0h0m4 0h0m9 0h0m27 0h0m31 0h0m-269 1h0m27 0h0m32 0h0m5 0h0m12 0h0m7 0h0m8 0h0m10 0h0m12 0h0m9 0h0m20 0h0m18 0h0m12 0h0m8 0h0m23 0h0m8 0h0m9 0h0m13 0h0m11 0h0m-233 1h0m9 0h0m7 0h0m15 0h0m8 0h0m9 0h0m3 0h0m16 0h0m5 0h0m5 0h0m4 0h0m2 0h0m3 0h0m37 0h0m27 0h0m8 0h0m15 0h0m2 0h0m7 0h0m2 0h0m19 0h1m12 0h0m4 0h0m28 0h0m-239 1h0m7 0h0m11 0h0m8 0h0m7 0h0m3 0h0m13 0h0m6 0h0m5 0h1m3 0h0m5 0h0m4 0h0m72 0h0m13 0h0m7 0h2m6 0h0m7 0h0m12 0h0m2 0h0m7 0h0m7 0h1m13 0h0m15 0h0m6 0h0m-263 1h0m11 0h0m9 0h0m18 0h0m4 0h0m4 0h0m16 0h0m2 0h0m3 0h0m2 0h0m4 0h0m3 0h0m7 0h1m5 0h0m5 0h0m23 0h0m44 0h0m22 0h0m4 0h0m5 0h0m6 0h0m3 0h0m12 0h1m6 0h0m9 0h0m13 0h0m43 0h0m-285 1h0m11 0h0m9 0h0m18 0h0m4 0h0m8 0h0m31 0h0m2 0h0m9 0h1m8 0h0m15 0h0m8 0h0m2 0h0m19 0h0m2 0h0m8 0h0m7 0h1m18 0h0m9 0h0m4 0h0m4 0h0m5 0h0m3 0h0m3 0h0m7 0h0m21 0h0m6 0h0m13 0h0m15 0h0m-271 1h0m38 0h0m4 0h0m20 0h0m7 0h0m2 0h0m5 0h0m2 0h0m3 0h0m8 0h0m3 0h1m6 0h0m2 0h0m5 0h0m3 0h0m2 0h0m2 0h1m2 0h1m41 0h1m6 0h0m10 0h0m7 0h0m2 0h0m13 0h1m4 0h0m2 0h1m4 0h0m5 0h1m3 0h0m2 0h0m15 0h0m6 0h0m8 0h0m3 0h0m-252 1h0m20 0h0m7 0h0m11 0h0m12 0h0m17 0h0m4 0h0m4 0h1m2 0h0m5 0h1m5 0h0m4 0h0m21 0h0m5 0h0m2 0h0m17 0h1m15 0h0m2 0h0m12 0h0m12 0h1m2 0h0m14 0h1m24 0h0m3 0h0m14 0h0m2 0h0m9 0h0m-250 1h0m33 0h0m5 0h0m8 0h0m10 0h0m8 0h0m3 0h0m2 0h0m2 0h0m5 0h0m2 0h0m5 0h0m4 0h2m2 0h1m13 0h1m2 0h0m14 0h0m5 0h0m22 0h0m12 0h0m2 0h0m6 0h0m9 0h0m6 0h1m4 0h0m3 0h1m5 0h0m2 0h0m2 0h0m6 0h0m3 0h0m7 0h0m5 0h0m14 0h0m2 0h0m27 0h0m-233 1h0m13 0h0m7 0h0m16 0h0m6 0h1m4 0h0m9 0h0m3 0h2m3 0h0m14 0h0m29 0h0m31 0h0m27 0h0m3 0h1m31 0h0m33 0h0m-266 1h0m11 0h0m9 0h0m18 0h0m8 0h0m21 0h0m6 0h0m3 0h0m8 0h0m7 0h0m6 0h1m5 0h1m3 0h0m15 0h0m9 0h1m9 0h0m6 0h1m13 0h0m3 0h0m2 0h0m8 0h0m7 0h1m16 0h0m10 0h0m6 0h0m2 0h0m19 0h0m31 0h0m-246 1h0m13 0h0m9 0h0m11 0h0m6 0h0m3 0h0m2 0h0m3 0h0m2 0h0m2 0h0m9 0h1m2 0h0m4 0h1m3 0h1m2 0h0m5 0h0m6 0h1m5 0h0m7 0h1m8 0h0m5 0h0m29 0h0m11 0h0m3 0h0m11 0h0m7 0h0m4 0h0m3 0h0m24 0h0m6 0h0m45 0h0m-264 1h0m9 0h0m51 0h0m4 0h0m3 0h0m10 0h0m5 0h0m8 0h0m9 0h0m9 0h0m7 0h0m15 0h0m10 0h0m3 0h0m7 0h0m18 0h0m2 0h0m17 0h1m19 0h0m-218 1h0m11 0h0m9 0h0m7 0h0m6 0h0m9 0h0m4 0h0m4 0h0m3 0h0m11 0h0m3 0h0m2 0h0m6 0h1m2 0h0m3 0h0m2 0h1m2 0h0m3 0h0m2 0h0m2 0h0m2 0h0m7 0h0m2 0h0m4 0h1m3 0h0m10 0h0m5 0h1m8 0h0m17 0h0m8 0h0m11 0h0m6 0h0m13 0h0m2 0h0m12 0h0m3 0h0m10 0h0m22 0h0m9 0h0m-229 1h0m18 0h0m4 0h0m17 0h0m5 0h0m9 0h0m13 0h0m3 0h0m2 0h0m2 0h0m12 0h0m45 0h0m40 0h0m13 0h0m34 0h0m-204 1h0m20 0h0m3 0h0m3 0h0m10 0h0m4 0h0m2 0h0m9 0h0m5 0h0m4 0h0m2 0h0m4 0h0m5 0h0m7 0h0m4 0h0m12 0h0m6 0h0m12 0h0m10 0h0m29 0h0m3 0h0m7 0h0m4 0h0m13 0h0m15 0h0m-226 1h0m11 0h0m27 0h0m4 0h0m4 0h0m10 0h0m3 0h0m5 0h0m5 0h0m2 0h0m5 0h0m2 0h0m3 0h0m2 0h1m3 0h1m6 0h1m2 0h0m10 0h0m15 0h0m6 0h0m2 0h0m6 0h0m20 0h0m4 0h0m16 0h0m15 0h0m2 0h0m2 0h0m7 0h1m6 0h0m6 0h0m9 0h0m8 0h0m4 0h0m7 0h0m12 0h0m-244 1h0m9 0h0m7 0h0m6 0h0m9 0h0m17 0h0m3 0h0m2 0h0m11 0h0m6 0h0m2 0h0m4 0h1m3 0h0m5 0h0m12 0h0m47 0h0m62 0h0m-217 1h0m46 0h0m7 0h0m3 0h0m6 0h0m5 0h0m2 0h0m7 0h0m7 0h1m5 0h0m16 0h0m9 0h0m3 0h0m5 0h0m2 0h0m11 0h0m50 0h1m23 0h0m19 0h0m16 0h0m-244 1h0m11 0h0m9 0h0m22 0h0m4 0h0m4 0h0m3 0h0m3 0h0m3 0h0m3 0h0m2 0h0m7 0h0m5 0h0m2 0h0m2 0h1m2 0h0m4 0h0m2 0h0m2 0h1m7 0h0m7 0h0m2 0h0m2 0h1m2 0h0m6 0h0m3 0h0m12 0h0m19 0h0m9 0h0m13 0h0m18 0h0m11 0h0m9 0h0m6 0h0m24 0h0m3 0h0m2 0h0m-248 1h0m11 0h0m9 0h0m7 0h0m19 0h0m10 0h0m11 0h0m6 0h0m2 0h1m4 0h1m5 0h1m2 0h0m8 0h0m4 0h1m13 0h0m2 0h1m12 0h0m18 0h0m11 0h0m29 0h0m9 0h0m19 0h0m6 0h0m21 0h0m-243 1h0m27 0h0m6 0h0m20 0h0m6 0h0m3 0h0m7 0h0m2 0h0m2 0h0m2 0h0m8 0h0m3 0h0m2 0h0m7 0h0m10 0h1m11 0h0m11 0h0m16 0h1m39 0h0m4 0h1m25 0h0m5 0h0m7 0h0m4 0h0m12 0h0m-242 1h0m20 0h0m13 0h0m5 0h0m18 0h0m6 0h0m5 0h0m2 0h0m12 0h0m5 0h1m2 0h0m2 0h3m2 0h1m3 0h0m4 0h1m2 0h0m17 0h0m5 0h0m7 0h0m19 0h0m9 0h0m23 0h0m3 0h0m16 0h0m10 0h0m14 0h0m34 0h0m-264 1h0m11 0h0m9 0h0m7 0h0m19 0h0m4 0h0m6 0h0m3 0h0m3 0h0m5 0h0m2 0h0m4 0h0m3 0h0m2 0h0m2 0h0m3 0h1m4 0h0m9 0h1m4 0h0m9 0h0m2 0h0m2 0h0m7 0h0m17 0h0m5 0h0m33 0h0m10 0h0m2 0h0m4 0h0m10 0h0m9 0h0m-212 1h0m11 0h0m16 0h0m11 0h0m4 0h0m8 0h0m6 0h0m3 0h0m3 0h0m5 0h0m2 0h0m2 0h0m2 0h0m3 0h0m7 0h1m2 0h2m4 0h0m2 0h0m5 0h0m5 0h0m3 0h0m6 0h0m8 0h1m6 0h0m18 0h0m3 0h1m3 0h0m12 0h0m3 0h0m23 0h0m2 0h0m7 0h0m3 0h0m3 0h0m8 0h0m12 0h0m3 0h0m6 0h0m15 0h0m-230 1h0m22 0h0m4 0h0m10 0h0m6 0h0m16 0h0m3 0h0m7 0h0m5 0h0m5 0h0m6 0h0m8 0h0m7 0h0m5 0h0m29 0h0m6 0h1m22 0h0m13 0h0m3 0h0m5 0h0m11 0h0m7 0h1m2 0h0m3 0h0m-227 1h0m11 0h0m9 0h0m26 0h0m10 0h0m3 0h0m12 0h0m4 0h0m17 0h0m3 0h2m5 0h0m3 0h1m8 0h3m4 0h0m14 0h0m23 0h2m17 0h0m2 0h1m5 0h0m14 0h0m2 0h0m20 0h0m67 0h0m-288 1h0m11 0h0m9 0h0m7 0h0m6 0h0m5 0h0m8 0h0m7 0h0m3 0h0m3 0h0m3 0h0m2 0h0m3 0h0m6 0h0m2 0h1m8 0h0m4 0h0m8 0h1m7 0h0m7 0h2m2 0h0m16 0h0m8 0h0m42 0h0m9 0h1m23 0h0m2 0h0m5 0h0m2 0h0m17 0h0m-240 1h0m11 0h0m9 0h0m22 0h0m4 0h0m4 0h0m3 0h0m3 0h0m3 0h0m8 0h0m4 0h0m2 0h0m2 0h1m2 0h0m3 0h0m5 0h3m5 0h0m3 0h0m4 0h1m3 0h0m8 0h1m10 0h0m3 0h0m4 0h0m40 0h0m12 0h0m3 0h0m5 0h0m5 0h0m4 0h2m-182 1h0m7 0h0m19 0h0m16 0h0m5 0h0m2 0h0m2 0h0m2 0h0m3 0h0m4 0h1m3 0h0m3 0h0m4 0h0m3 0h0m2 0h0m8 0h0m7 0h0m3 0h0m5 0h0m7 0h0m5 0h0m26 0h0m12 0h0m8 0h0m8 0h0m7 0h0m8 0h0m5 0h0m8 0h0m5 0h0m15 0h0m5 0h0m9 0h0m7 0h0m-254 1h0m20 0h0m7 0h0m6 0h0m5 0h0m8 0h0m4 0h0m12 0h0m5 0h0m4 0h0m5 0h0m2 0h0m2 0h1m5 0h0m17 0h0m7 0h0m20 0h0m36 0h0m15 0h0m6 0h0m7 0h0m12 0h0m3 0h0m-198 1h0m9 0h0m7 0h0m11 0h0m8 0h0m13 0h0m3 0h0m9 0h0m2 0h0m2 0h1m4 0h1m10 0h0m9 0h1m5 0h0m13 0h5m7 0h0m9 0h0m2 0h0m4 0h0m11 0h1m3 0h0m6 0h0m9 0h0m3 0h0m2 0h0m2 0h1m18 0h0m3 0h0m6 0h0m4 0h0m15 0h0m3 0h0m3 0h0m-236 1h0m27 0h0m19 0h0m13 0h0m8 0h0m2 0h0m4 0h0m3 0h0m12 0h0m3 0h2m2 0h2m2 0h0m2 0h0m4 0h0m3 0h0m2 0h1m2 0h1m5 0h0m2 0h0m7 0h0m2 0h0m11 0h0m19 0h0m10 0h0m6 0h0m25 0h0m28 0h0m19 0h0m-248 1h0m11 0h0m9 0h0m13 0h0m5 0h0m8 0h0m13 0h0m8 0h0m6 0h0m2 0h1m2 0h0m5 0h1m7 0h0m6 0h0m4 0h1m3 0h0m3 0h1m2 0h0m10 0h0m10 0h0m15 0h0m32 0h0m2 0h0m35 0h0m2 0h1m6 0h1m3 0h0m17 0h0m-245 2h0m11 0h0m9 0h0m7 0h0m6 0h0m5 0h0m12 0h0m3 0h0m3 0h0m3 0h0m3 0h0m2 0h0m5 0h0m4 0h0m3 0h0m2 0h0m5 0h1m4 0h1m2 0h5m7 0h2m2 0h2m5 0h1m10 0h0m3 0h0m14 0h0m3 0h0m5 0h1m6 0h0m20 0h0m12 0h0m6 0h0m18 0h0m43 0h0m-256 1h0m11 0h0m22 0h0m5 0h0m4 0h0m14 0h0m3 0h0m5 0h0m5 0h0m2 0h0m5 0h0m4 0h0m9 0h0m2 0h0m4 0h0m2 0h0m3 0h0m3 0h0m2 0h0m5 0h1m8 0h1m33 0h0m7 0h0m4 0h0m35 0h0m6 0h0m-205 2h0m33 0h0m5 0h0m4 0h0m8 0h0m12 0h0m2 0h0m3 0h0m2 0h0m12 0h0m2 0h0m3 0h0m2 0h1m2 0h0m4 0h1m3 0h0m9 0h0m8 0h0m9 0h0m4 0h1m3 0h0m2 0h0m8 0h0m3 0h0m8 0h0m5 0h0m18 0h0m5 0h0m15 0h0m22 0h0m7 0h0m4 0h0m4 0h0m17 0h0m13 0h0m-264 1h0m11 0h0m27 0h0m8 0h0m4 0h0m3 0h0m11 0h0m3 0h0m2 0h0m2 0h0m4 0h1m2 0h0m3 0h0m2 0h0m4 0h0m5 0h3m2 0h0m2 0h0m3 0h1m3 0h0m6 0h0m11 0h0m10 0h0m3 0h0m3 0h0m10 0h0m6 0h0m9 0h0m6 0h0m4 0h0m2 0h0m7 0h0m8 0h0m2 0h0m2 0h0m6 0h0m12 0h0m7 0h0m21 0h0m-241 2h0m11 0h0m9 0h0m7 0h0m11 0h0m15 0h0m11 0h0m12 0h0m4 0h0m3 0h0m4 0h1m4 0h2m2 0h0m2 0h1m6 0h2m7 0h0m11 0h0m3 0h0m7 0h0m2 0h0m11 0h0m8 0h1m7 0h0m15 0h0m3 0h0m5 0h0m44 0h0m-220 1h0m16 0h0m15 0h0m4 0h0m4 0h0m3 0h0m3 0h0m8 0h0m9 0h0m2 0h1m2 0h0m8 0h0m2 0h1m2 0h0m5 0h0m5 0h0m3 0h1m3 0h0m5 0h1m2 0h0m13 0h1m6 0h0m2 0h0m5 0h0m3 0h0m8 0h0m2 0h1m5 0h0m4 0h0m30 0h0m9 0h0m2 0h0m6 0h0m21 0h0m-234 2h0m11 0h0m9 0h0m7 0h0m11 0h0m8 0h0m10 0h0m3 0h0m8 0h0m6 0h0m5 0h0m8 0h0m2 0h1m5 0h0m3 0h0m2 0h0m3 0h0m6 0h0m2 0h1m6 0h0m6 0h0m3 0h0m2 0h0m8 0h0m13 0h1m6 0h0m4 0h0m6 0h0m4 0h0m3 0h0m13 0h0m5 0h0m3 0h0m15 0h0m2 0h0m-178 2h0m13 0h0m4 0h0m3 0h0m14 0h0m4 0h0m5 0h0m7 0h0m8 0h2m2 0h0m2 0h0m3 0h0m3 0h1m4 0h0m7 0h0m4 0h0m2 0h0m2 0h0m2 0h0m10 0h0m2 0h0m13 0h0m2 0h0m3 0h0m12 0h0m12 0h0m4 0h0m8 0h0m-191 2h0m33 0h0m9 0h0m4 0h0m4 0h0m21 0h0m7 0h0m2 0h0m3 0h0m6 0h0m2 0h2m12 0h0m2 0h0m5 0h1m3 0h1m5 0h0m8 0h0m4 0h0m6 0h0m23 0h0m20 0h0m5 0h0m5 0h0m6 0h0m8 0h0m16 0h1m3 0h0m-216 2h0m9 0h0m13 0h0m5 0h0m4 0h0m4 0h0m4 0h0m3 0h0m3 0h0m3 0h0m5 0h0m3 0h0m2 0h0m4 0h0m5 0h0m2 0h1m3 0h0m2 0h0m2 0h0m4 0h2m2 0h0m2 0h1m2 0h0m2 0h0m5 0h0m5 0h0m8 0h1m3 0h0m4 0h0m4 0h0m22 0h0m8 0h0m9 0h0m2 0h0m14 0h0m33 0h0m-221 2h0m20 0h0m7 0h0m6 0h0m5 0h0m8 0h0m10 0h0m3 0h0m5 0h0m3 0h0m2 0h0m2 0h0m4 0h0m3 0h0m2 0h0m8 0h0m4 0h0m2 0h0m2 0h2m2 0h0m3 0h0m5 0h0m3 0h0m4 0h4m2 0h0m2 0h0m2 0h0m6 0h0m14 0h0m5 0h0m13 0h0m25 0h1m-189 2h0m11 0h0m16 0h0m11 0h0m8 0h0m4 0h0m6 0h0m3 0h0m3 0h0m2 0h0m7 0h0m2 0h0m3 0h0m8 0h0m4 0h1m13 0h0m2 0h0m3 0h1m9 0h0m2 0h1m3 0h0m2 0h1m3 0h0m2 0h0m3 0h0m3 0h0m17 0h0m5 0h0m4 0h1m2 0h0m10 0h0m16 0h0m2 0h0m24 0h0m-218 3h0m11 0h0m9 0h0m7 0h0m11 0h0m4 0h0m4 0h0m4 0h0m3 0h0m3 0h0m3 0h0m3 0h0m5 0h0m2 0h0m6 0h0m6 0h0m3 0h0m3 0h0m4 0h0m6 0h0m5 0h0m5 0h1m3 0h0m3 0h0m4 0h1m3 0h0m2 0h1m6 0h0m9 0h0m2 0h0m8 0h0m4 0h0m8 0h0m-162 3h0m42 0h0m14 0h0m6 0h0m2 0h0m3 0h0m2 0h0m6 0h0m5 0h1m2 0h0m3 0h0m3 0h0m2 0h0m2 0h1m2 0h1m14 0h1m2 0h1m12 0h0m2 0h0m2 0h0m4 0h0m21 0h0m2 0h0m3 0h0m12 0h0m4 0h0m19 0h0m13 0h0m2 0h0m-200 3h0m16 0h0m15 0h0m4 0h0m13 0h0m3 0h0m5 0h0m8 0h1m4 0h0m4 0h0m3 0h2m4 0h0m5 0h0m3 0h0m2 0h0m4 0h0m6 0h0m2 0h0m4 0h0m2 0h0m6 0h0m10 0h0m6 0h1m20 0h0m5 0h0m3 0h0m21 0h0m5 0h0m39 0h0m-237 3h0m11 0h0m16 0h0m19 0h0m7 0h0m3 0h0m8 0h0m11 0h0m5 0h1m3 0h0m3 0h1m4 0h0m4 0h0m9 0h0m7 0h0m2 0h0m4 0h1m4 0h0m4 0h0m5 0h0m18 0h0m4 0h0m23 0h0m89 0h0m-266 4h0m33 0h0m9 0h0m4 0h0m7 0h0m3 0h0m3 0h0m3 0h0m7 0h0m2 0h0m4 0h0m3 0h0m3 0h0m6 0h0m7 0h0m13 0h0m4 0h1m3 0h0m6 0h0m2 0h0m7 0h0m3 0h0m28 0h0m14 0h0m8 0h0m5 0h0m-177 4h0m35 0h0m7 0h0m3 0h0m13 0h0m4 0h0m3 0h0m4 0h1m7 0h1m10 0h1m7 0h0m2 0h1m3 0h0m3 0h0m8 0h0m7 0h0m2 0h0m14 0h0m59 0h0m-179 5h0m19 0h0m4 0h0m6 0h0m6 0h0m11 0h0m2 0h0m6 0h0m13 0h3m5 0h0m2 0h0m3 0h0m6 0h0m7 0h0m4 0h0m2 0h0m2 0h0m14 0h0m17 0h0m3 0h0m2 0h1m11 0h0m14 0h0m11 0h0m-181 6h0m18 0h0m8 0h0m16 0h0m11 0h0m7 0h0m4 0h0m3 0h2m2 0h0m7 0h0m5 0h0m5 0h0m3 0h0m3 0h0m3 0h1m5 0h1m7 0h0m2 0h1m2 0h0m3 0h0m14 0h0m3 0h0m11 0h0m-140 7h0m11 0h0m4 0h0m4 0h0m4 0h0m17 0h0m2 0h0m2 0h0m2 0h0m5 0h0m5 0h0m8 0h1m9 0h0m3 0h0m4 0h1m2 0h0m6 0h0m9 0h0m2 0h0m5 0h0m2 0h0m3 0h0m3 0h0m4 0h0m13 0h0m2 0h0m18 0h0m4 0h0m9 0h0m-171 9h0m13 0h0m9 0h0m8 0h0m6 0h0m20 0h0m4 0h1m2 0h1m4 0h0m7 0h1m2 0h0m19 0h0m2 0h0m9 0h0m7 0h0m9 0h0m5 0h0m4 0h0m4 0h0m4 0h1" fill="none" stroke="#ea5f47" stroke-width="1.9" stroke-linecap="square"/>
<rect x="1265.2" y="1211.9" width="2.2" height="122.8" fill="#ea5f47"/>
<rect x="1335" y="1332" width="161.7" height="2.4" fill="#ea5f47"/>
<path d="M1496.7 1333.2h2.2M1500.4 1333.2h1.7M1506.8 1333.2h1.5M1269.7 1333.2h1.6M1276.3 1333.2h1.6M1281.6 1333.2h1.6M1284.7 1333.2h1.6M1292.3 1333.2h1.6M1299 1333.2h1.6M1305 1333.2h1.6M1309.2 1333.2h1.6M1313.6 1333.2h1.6M1318.3 1333.2h1.6M1326.8 1333.2h1.6M1329.9 1333.2h1.6" stroke="#ea5f47" stroke-width="2.2" fill="none"/>
<g transform="translate(1264.7 964.9) scale(1.0313 0.9962)">
<use href="#tpl"/>
<g>
<text x="0.6" y="20" font-size="21.4" fill="#111" textLength="26.66" lengthAdjust="spacingAndGlyphs">UL</text>
<text x="1.3" y="45.1" font-size="21.4" fill="#111" textLength="43.32" lengthAdjust="spacingAndGlyphs">0.29</text>
<text x="385.2" y="20" font-size="21.4" fill="#111" textLength="28.45" lengthAdjust="spacingAndGlyphs">UR</text>
<text x="385.6" y="45.1" font-size="21.4" fill="#111" textLength="43.44" lengthAdjust="spacingAndGlyphs">6.38</text>
<text x="0.5" y="340.7" font-size="21.4" fill="#111" textLength="23.36" lengthAdjust="spacingAndGlyphs">LL</text>
<text x="1.1" y="365.7" font-size="21.4" fill="#111" textLength="55.24" lengthAdjust="spacingAndGlyphs">76.15</text>
<text x="385.1" y="340.7" font-size="21.4" fill="#111" textLength="26.01" lengthAdjust="spacingAndGlyphs">LR</text>
<text x="385" y="365.7" font-size="21.4" fill="#111" textLength="44.15" lengthAdjust="spacingAndGlyphs">17.1</text>
</g></g>
<path d="M1403 964.9V1335.7 M1264.7 1211.9H1707.3" stroke="#0a0a0a" stroke-width="2.05" fill="none"/>
<clipPath id="c9"><rect x="0" y="0" width="1734" height="1425.8"/></clipPath>
<g clip-path="url(#c9)"><text x="1351.2" y="1423.5" font-size="29.5" fill="#111" textLength="163.39" lengthAdjust="spacingAndGlyphs">AGS-10mg/l</text></g>
<path d="m438 1617h0m22 5h0m2 0h0m-122 1h0m143 1h0m-25 1h0m15 1h0m-30 1h0m-11 1h0m3 0h0m17 0h0m37 0h0m-32 1h0m-41 1h0m31 0h0m7 0h0m20 1h0m2 0h0m-45 1h0m6 0h0m22 0h0m16 0h0m-112 1h0m72 0h0m2 0h0m-10 1h0m5 0h0m28 0h1m7 0h0m22 0h0m-155 1h0m93 0h0m5 0h0m2 0h0m5 0h0m21 0h0m12 0h0m-79 1h0m10 0h0m33 0h0m2 0h2m17 0h0m14 0h0m-87 1h0m22 0h0m28 0h0m2 0h0m11 0h0m4 0h0m7 0h0m-46 1h0m14 0h0m3 0h0m9 0h0m19 0h0m12 0h0m7 0h0m-36 1h0m7 0h0m2 0h0m7 0h0m-44 1h0m23 0h0m4 0h0m2 0h0m3 0h0m12 0h0m-80 1h0m36 0h0m28 0h0m6 0h0m9 0h1m2 0h1m3 0h0m9 0h0m-35 1h2m2 0h0m26 0h0m3 0h0m-41 1h0m5 0h0m4 0h0m7 0h0m2 0h1m13 0h0m3 0h1m4 0h0m2 0h1m2 0h0m2 0h0m4 0h0m2 0h0m-127 1h0m18 0h0m28 0h0m13 0h0m11 0h0m4 0h0m3 0h0m6 0h1m2 0h0m5 0h0m9 0h0m7 0h0m10 0h0m-95 1h0m7 0h0m38 0h0m18 0h0m6 0h0m4 0h0m3 0h0m4 0h2m10 0h0m-174 1h0m18 0h0m36 0h0m32 0h0m30 0h0m5 0h0m7 0h0m14 0h0m3 0h0m2 0h1m5 0h1m8 0h0m-82 1h0m35 0h1m7 0h0m15 0h1m2 0h0m3 0h0m3 0h0m9 0h1m4 0h0m9 0h0m29 0h0m-155 1h0m25 0h0m19 0h1m29 0h0m12 0h0m7 0h0m9 0h0m12 0h0m3 0h0m2 0h1m21 0h0m10 0h0m-105 1h0m3 0h0m15 0h0m32 0h1m5 0h0m6 0h0m6 0h0m3 0h4m4 0h0m56 0h0m-211 1h0m51 0h0m33 0h0m5 0h0m20 0h0m8 0h0m5 0h0m7 0h0m4 0h0m7 0h0m3 0h1m2 0h1m12 0h0m5 0h0m2 0h0m2 0h0m19 0h0m-163 1h0m29 0h0m16 0h0m2 0h0m2 0h0m11 0h0m2 0h0m4 0h0m5 0h0m17 0h0m18 0h0m3 0h0m4 0h0m2 0h0m2 0h0m4 0h0m5 0h0m7 0h0m12 0h0m5 0h0m-127 1h0m15 0h0m4 0h0m24 0h0m25 0h0m3 0h1m11 0h0m2 0h0m2 0h0m3 0h1m3 0h1m6 0h0m14 0h0m-147 1h0m16 0h0m8 0h0m44 0h0m11 0h0m4 0h0m10 0h0m5 0h0m6 0h0m6 0h1m4 0h1m4 0h3m2 0h0m6 0h0m2 0h0m13 0h0m12 0h0m-64 1h1m3 0h0m2 0h0m5 0h0m2 0h0m7 0h0m2 0h0m4 0h0m7 0h4m9 0h0m7 0h0m4 0h0m-81 1h0m2 0h0m5 0h0m2 0h0m8 0h0m5 0h0m13 0h0m3 0h0m15 0h0m6 0h1m4 0h0m11 0h0m14 0h0m-148 1h0m7 0h0m3 0h0m54 0h0m25 0h0m2 0h0m4 0h0m7 0h0m3 0h0m8 0h0m4 0h0m3 0h0m7 0h0m13 0h0m-136 1h0m37 0h1m14 0h0m2 0h1m16 0h0m13 0h0m9 0h1m4 0h1m4 0h0m5 0h2m8 0h1m2 0h1m4 0h0m4 0h1m22 0h0m-217 1h0m44 0h0m25 0h0m21 0h0m12 0h0m4 0h0m5 0h0m24 0h0m8 0h0m3 0h0m3 0h0m3 0h0m2 0h0m7 0h1m2 0h0m2 0h0m4 0h0m3 0h0m3 0h0m2 0h0m10 0h0m2 0h0m-84 1h0m14 0h0m4 0h0m3 0h0m12 0h0m7 0h1m8 0h1m6 0h0m2 0h0m2 0h0m2 0h2m3 0h0m8 0h0m2 0h0m2 0h0m5 0h0m-144 1h0m27 0h0m56 0h0m13 0h0m11 0h0m3 0h2m2 0h0m6 0h0m7 0h0m20 0h0m-196 1h0m68 0h0m26 0h0m4 0h0m15 0h0m7 0h0m7 0h0m3 0h0m20 0h0m4 0h0m2 0h0m5 0h1m8 0h1m11 0h0m2 0h0m4 0h0m-154 1h0m31 0h0m69 0h0m17 0h0m3 0h0m3 0h1m2 0h0m6 0h0m3 0h0m2 0h1m2 0h0m6 0h0m2 0h0m15 0h0m5 0h0m-165 1h0m9 0h0m41 0h0m2 0h0m9 0h0m4 0h0m7 0h0m13 0h0m12 0h1m5 0h0m11 0h0m3 0h0m6 0h0m10 0h0m2 0h0m4 0h0m2 0h0m7 0h1m2 0h0m4 0h0m-123 1h0m15 0h0m2 0h1m37 0h0m8 0h0m14 0h2m2 0h0m9 0h1m2 0h0m7 0h1m2 0h0m6 0h0m-98 1h0m21 0h0m2 0h0m33 0h0m13 0h1m8 0h0m3 0h1m3 0h0m2 0h0m8 0h0m4 0h0m5 0h0m2 0h0m7 0h0m29 0h0m-289 1h0m153 0h0m19 0h0m7 0h0m4 0h0m16 0h0m8 0h0m10 0h0m7 0h0m6 0h4m9 0h1m8 0h0m8 0h0m3 0h0m-101 1h0m27 0h0m4 0h0m3 0h0m9 0h0m11 0h0m10 0h1m10 0h0m5 0h0m2 0h0m14 0h0m12 0h0m-157 1h0m28 0h0m27 0h0m6 0h0m14 0h0m10 0h0m12 0h0m2 0h0m2 0h0m10 0h0m3 0h0m24 0h1m18 0h0m-166 1h0m36 0h0m24 0h0m8 0h0m4 0h0m16 0h0m18 0h0m10 0h1m9 0h1m5 0h0m3 0h0m6 0h0m4 0h0m10 0h0m5 0h0m-124 1h0m13 0h0m4 0h0m8 0h1m29 0h0m9 0h0m5 0h0m4 0h1m3 0h0m4 0h1m2 0h1m8 0h0m10 0h0m6 0h0m-138 1h0m28 0h0m13 0h0m27 0h0m6 0h0m4 0h0m5 0h0m3 0h0m7 0h0m8 0h0m6 0h1m6 0h0m20 0h0m-196 1h0m92 0h1m9 0h0m6 0h0m11 0h0m40 0h0m70 0h0m-206 1h0m50 0h0m74 0h0m10 0h1m3 0h0m6 0h0m14 0h0m8 0h0m2 0h0m9 0h0m-243 1h0m99 0h0m12 0h0m16 0h0m8 0h0m26 0h0m9 0h0m2 0h0m12 0h0m3 0h0m2 0h0m6 0h0m12 0h0m2 0h0m13 0h1m4 0h0m7 0h0m13 0h0m-200 1h0m111 0h0m4 0h1m14 0h0m11 0h0m18 0h0m4 0h0m15 0h0m4 0h0m2 0h0m13 0h0m-227 1h0m147 0h0m22 0h0m5 0h0m5 0h0m25 0h0m3 0h0m2 0h1m5 0h0m15 0h0m2 0h0m-121 1h0m23 0h0m17 0h0m14 0h0m4 0h0m2 0h0m11 0h0m3 0h0m16 0h0m12 0h1m-132 1h0m40 0h0m19 0h0m3 0h0m3 0h0m19 0h0m22 0h0m10 0h0m5 0h0m4 0h0m9 0h0m7 0h0m-99 1h0m21 0h0m7 0h0m30 0h0m9 0h0m7 0h1m11 0h0m14 0h0m-221 1h0m34 0h0m61 0h0m6 0h0m39 0h0m9 0h0m12 0h0m6 0h0m9 0h2m5 0h0m15 0h0m5 0h0m2 0h0m4 0h0m-251 1h0m16 0h0m19 0h0m94 0h0m28 0h0m23 0h0m12 0h0m3 0h0m5 0h0m2 0h0m6 0h0m7 0h0m14 0h0m-74 1h0m37 0h0m4 0h0m6 0h0m26 0h0m15 0h0m15 0h0m-185 1h0m7 0h0m80 0h0m23 0h0m14 0h0m2 0h0m7 0h0m6 0h0m14 0h0m8 0h2m4 0h0m6 0h0m3 0h0m3 0h0m8 0h0m14 0h1m6 0h0m-221 1h0m5 0h0m81 0h0m7 0h0m20 0h0m8 0h0m31 0h0m5 0h0m2 0h0m7 0h0m4 0h0m9 0h1m-171 1h0m7 0h0m45 0h0m46 0h0m10 0h0m12 0h0m12 0h0m18 0h0m3 0h0m58 0h0m-220 1h0m7 0h0m23 0h0m79 0h0m2 0h0m7 0h0m9 0h0m20 0h0m2 0h0m2 0h0m2 0h0m3 0h0m3 0h1m2 0h0m5 0h0m2 0h0m8 0h0m6 0h0m8 0h0m-169 1h0m4 0h0m103 0h0m12 0h0m8 0h0m5 0h2m2 0h0m6 0h0m5 0h1m5 0h0m10 0h1m13 0h1m20 0h0m-104 1h0m13 0h0m2 0h0m10 0h0m5 0h0m3 0h0m8 0h1m21 0h0m-200 1h0m54 0h0m29 0h0m37 0h1m21 0h0m4 0h0m5 0h0m17 0h0m8 0h0m10 0h0m9 0h0m47 0h0m-211 1h0m49 0h0m68 0h0m3 0h0m7 0h0m4 0h0m6 0h1m4 0h0m43 0h0m8 0h0m-263 1h0m35 0h0m38 0h0m24 0h0m74 0h0m6 0h0m15 0h0m3 0h0m18 0h0m11 0h0m8 0h0m-193 1h0m37 0h0m15 0h0m2 0h0m73 0h0m10 0h0m10 0h0m6 0h0m4 0h0m12 0h0m8 0h0m8 0h0m17 0h0m11 0h0m21 0h0m-273 1h0m48 0h0m16 0h0m12 0h0m46 0h0m77 0h0m5 0h0m8 0h1m4 0h0m4 0h1m4 0h0m3 0h0m11 0h0m3 0h0m63 0h0m-317 1h0m53 0h0m18 0h0m35 0h0m78 0h0m13 0h0m2 0h0m2 0h0m9 0h0m7 0h0m11 0h0m5 0h0m19 0h0m4 0h0m2 0h2m13 0h0m-246 1h0m6 0h0m29 0h0m13 0h0m83 0h0m18 0h0m20 0h0m6 0h0m7 0h0m14 0h1m10 0h1m8 0h0m2 0h0m28 0h1m27 0h0m-301 1h0m53 0h0m20 0h0m18 0h0m2 0h0m7 0h0m14 0h0m65 0h1m28 0h0m4 0h2m3 0h0m4 0h0m2 0h0m5 0h0m18 0h0m3 0h0m8 0h0m32 0h0m-247 1h0m4 0h0m30 0h0m16 0h0m41 0h0m11 0h0m58 0h0m4 0h0m17 0h0m13 0h0m3 0h2m24 0h0m-209 1h0m3 0h0m49 0h0m11 0h0m25 0h0m23 0h0m20 0h0m3 0h1m24 0h0m3 0h0m9 0h0m9 0h0m3 0h0m7 0h0m4 0h0m2 0h0m9 0h0m21 0h0m8 0h0m-234 1h0m3 0h0m8 0h0m44 0h0m57 0h0m35 0h0m8 0h0m12 0h0m7 0h0m12 0h0m13 0h0m8 0h0m3 0h0m20 0h0m-259 1h0m56 0h0m9 0h0m42 0h0m39 0h0m15 0h0m7 0h0m6 0h0m4 0h1m20 0h0m3 0h0m13 0h0m8 0h0m-239 1h0m22 0h0m9 0h0m11 0h0m16 0h0m4 0h0m15 0h0m24 0h0m63 0h0m11 0h0m14 0h0m7 0h0m7 0h0m7 0h0m10 0h0m11 0h0m36 0h0m-228 1h0m3 0h0m18 0h0m5 0h0m5 0h0m6 0h0m18 0h0m9 0h0m54 0h0m13 0h0m6 0h0m5 0h0m20 0h0m4 0h0m3 0h0m26 0h0m11 0h1m3 0h0m2 0h0m17 0h0m-268 1h0m22 0h0m5 0h0m15 0h0m11 0h0m16 0h1m5 0h0m2 0h0m5 0h0m10 0h0m9 0h0m12 0h0m27 0h0m7 0h0m9 0h0m22 0h0m13 0h0m4 0h1m9 0h1m9 0h0m7 0h0m4 0h0m2 0h1m6 0h0m2 0h0m13 0h1m-229 1h0m20 0h0m9 0h0m7 0h0m27 0h0m6 0h0m87 0h0m18 0h0m14 0h0m4 0h0m13 0h0m4 0h1m4 0h0m4 0h0m-213 1h0m4 0h0m25 0h0m2 0h0m2 0h0m7 0h0m10 0h0m2 0h0m3 0h0m2 0h0m10 0h0m6 0h0m13 0h0m7 0h0m71 0h1m4 0h0m3 0h0m5 0h0m10 0h0m12 0h0m7 0h1m2 0h0m-214 1h0m17 0h0m28 0h0m5 0h0m8 0h0m5 0h0m13 0h0m14 0h0m72 0h0m2 0h0m24 0h0m6 0h0m21 0h0m7 0h0m42 0h0m-270 1h0m6 0h0m36 0h0m6 0h0m5 0h0m12 0h0m3 0h0m3 0h0m5 0h0m11 0h0m43 0h0m10 0h0m7 0h0m19 0h0m8 0h0m8 0h0m3 0h1m4 0h0m3 0h0m7 0h0m6 0h0m3 0h0m15 0h0m47 0h0m-278 1h0m13 0h0m5 0h0m8 0h0m18 0h0m5 0h0m6 0h1m4 0h0m3 0h0m8 0h0m27 0h0m69 0h0m2 0h0m5 0h0m4 0h0m7 0h0m2 0h0m14 0h1m12 0h0m8 0h0m8 0h0m4 0h0m-221 1h0m5 0h0m12 0h0m9 0h0m8 0h0m11 0h0m2 0h0m25 0h1m7 0h0m26 0h0m45 0h0m8 0h0m3 0h0m11 0h0m9 0h1m3 0h0m5 0h0m9 0h0m-222 1h0m16 0h0m6 0h0m13 0h0m4 0h0m3 0h0m9 0h0m5 0h0m2 0h0m2 0h0m13 0h0m4 0h0m2 0h0m3 0h0m2 0h1m9 0h0m2 0h1m3 0h1m2 0h0m35 0h0m9 0h0m17 0h0m9 0h0m6 0h0m15 0h0m2 0h1m11 0h3m3 0h0m6 0h0m7 0h1m7 0h0m11 0h0m26 0h0m-283 1h0m53 0h0m11 0h0m3 0h0m2 0h0m4 0h0m8 0h0m5 0h0m7 0h0m4 0h0m19 0h0m69 0h0m18 0h0m6 0h0m19 0h0m48 0h0m15 0h0m-249 1h0m14 0h0m13 0h0m2 0h0m4 0h0m3 0h0m5 0h0m12 0h2m3 0h0m5 0h0m3 0h1m12 0h0m13 0h0m7 0h0m24 0h0m15 0h0m7 0h1m4 0h0m5 0h2m6 0h0m6 0h0m9 0h0m3 0h0m5 0h0m2 0h2m33 0h0m-232 1h0m5 0h0m4 0h0m4 0h0m10 0h0m22 0h0m5 0h0m3 0h0m5 0h0m12 0h0m8 0h0m13 0h0m18 0h0m27 0h0m15 0h0m2 0h1m11 0h0m6 0h0m5 0h0m3 0h0m5 0h1m8 0h0m4 0h0m3 0h0m6 0h0m2 0h0m5 0h0m14 0h0m2 0h0m13 0h0m-233 1h0m17 0h0m5 0h0m3 0h0m2 0h0m4 0h0m2 0h0m3 0h0m3 0h0m3 0h0m4 0h0m3 0h1m3 0h0m2 0h0m17 0h0m8 0h1m5 0h0m27 0h1m18 0h0m9 0h0m7 0h0m2 0h0m6 0h0m2 0h0m4 0h0m8 0h0m12 0h0m20 0h0m11 0h0m10 0h0m-265 1h0m59 0h0m3 0h0m2 0h0m7 0h0m20 0h0m2 0h0m2 0h1m3 0h0m5 0h0m14 0h0m64 0h2m7 0h0m9 0h2m8 0h0m3 0h1m10 0h0m2 0h0m2 0h0m5 0h0m9 0h0m-196 1h0m4 0h0m31 0h0m2 0h1m2 0h0m9 0h0m5 0h0m8 0h0m6 0h0m7 0h0m22 0h0m19 0h0m9 0h0m26 0h0m2 0h0m2 0h0m18 0h0m18 0h0m5 0h0m-215 1h0m11 0h0m12 0h0m14 0h0m5 0h0m6 0h0m3 0h0m8 0h0m2 0h0m2 0h0m4 0h1m3 0h0m13 0h0m4 0h0m4 0h0m6 0h0m27 0h0m3 0h0m13 0h0m18 0h0m9 0h0m21 0h0m2 0h0m7 0h0m4 0h0m9 0h2m7 0h0m18 0h0m-265 1h0m27 0h0m6 0h0m9 0h0m11 0h0m6 0h0m5 0h0m7 0h0m2 0h0m14 0h1m4 0h0m2 0h0m2 0h0m2 0h0m3 0h5m4 0h0m2 0h0m6 0h0m43 0h0m3 0h0m6 0h0m15 0h0m9 0h0m2 0h0m3 0h0m4 0h0m5 0h0m10 0h0m5 0h0m5 0h0m6 0h0m8 0h0m2 0h0m10 0h0m50 0h0m-284 1h0m22 0h0m20 0h0m7 0h0m2 0h0m4 0h0m3 0h0m8 0h0m30 0h0m2 0h1m7 0h0m49 0h0m7 0h0m4 0h0m8 0h0m47 0h0m12 0h0m5 0h0m-247 1h0m9 0h0m7 0h0m11 0h0m8 0h0m4 0h0m3 0h0m3 0h0m11 0h0m4 0h0m5 0h0m2 0h0m5 0h1m2 0h1m3 0h2m9 0h0m3 0h0m4 0h0m3 0h0m2 0h0m5 0h1m24 0h0m28 0h0m10 0h0m9 0h0m5 0h0m3 0h1m3 0h0m5 0h0m6 0h2m6 0h0m6 0h0m8 0h0m6 0h0m5 0h0m40 0h0m-286 1h0m11 0h0m35 0h0m7 0h0m3 0h0m3 0h0m5 0h0m3 0h0m6 0h0m2 0h0m5 0h0m6 0h1m3 0h4m5 0h0m14 0h0m6 0h0m8 0h1m2 0h0m3 0h0m16 0h0m10 0h0m2 0h0m3 0h0m2 0h0m2 0h0m3 0h0m19 0h0m14 0h0m5 0h1m2 0h0m7 0h0m4 0h1m23 0h0m-227 1h0m33 0h0m18 0h0m2 0h0m2 0h1m2 0h0m2 0h0m7 0h1m4 0h0m2 0h0m4 0h0m5 0h0m2 0h0m32 0h0m52 0h0m4 0h0m2 0h0m4 0h0m6 0h0m4 0h1m17 0h0m29 0h1m-257 1h0m11 0h0m9 0h0m22 0h0m14 0h0m11 0h0m2 0h0m2 0h0m2 0h0m2 0h1m2 0h0m3 0h0m5 0h2m2 0h0m3 0h0m2 0h0m2 0h3m3 0h0m7 0h1m2 0h0m4 0h0m8 0h0m2 0h0m41 0h0m8 0h2m2 0h0m7 0h0m8 0h0m3 0h0m3 0h0m7 0h0m6 0h0m2 0h0m6 0h0m5 0h0m11 0h0m4 0h0m13 0h0m4 0h0m8 0h0m25 0h0m-292 1h0m27 0h0m15 0h0m11 0h0m14 0h0m2 0h0m2 0h0m2 0h0m2 0h1m2 0h0m2 0h0m3 0h1m3 0h0m11 0h1m14 0h0m6 0h0m14 0h0m45 0h0m4 0h0m12 0h0m12 0h0m13 0h1m5 0h0m2 0h0m6 0h0m33 0h0m-266 1h0m42 0h0m8 0h0m3 0h0m3 0h0m8 0h0m7 0h0m4 0h1m2 0h0m5 0h0m3 0h2m10 0h1m2 0h1m5 0h0m10 0h0m10 0h0m4 0h0m5 0h0m44 0h1m10 0h0m3 0h0m4 0h0m11 0h0m8 0h0m3 0h0m33 0h0m23 0h0m-276 1h0m20 0h0m7 0h0m19 0h0m4 0h0m3 0h0m16 0h0m2 0h0m4 0h1m2 0h0m2 0h1m3 0h0m3 0h1m3 0h6m3 0h0m2 0h0m3 0h1m5 0h0m3 0h0m6 0h0m9 0h0m45 0h1m8 0h1m2 0h0m3 0h0m5 0h0m2 0h0m4 0h1m3 0h1m3 0h0m12 0h1m4 0h0m13 0h0m6 0h1m-245 1h0m11 0h0m16 0h0m23 0h0m6 0h0m3 0h0m10 0h0m4 0h0m2 0h1m2 0h0m3 0h0m3 0h0m2 0h1m3 0h0m6 0h1m2 0h0m5 0h0m9 0h0m4 0h0m21 0h0m27 0h0m8 0h0m3 0h0m4 0h0m3 0h0m8 0h0m4 0h1m10 0h0m34 0h0m7 0h0m29 0h0m-276 1h0m11 0h0m9 0h0m7 0h0m19 0h0m4 0h0m6 0h0m19 0h0m3 0h0m3 0h0m2 0h0m5 0h0m2 0h0m9 0h0m2 0h1m3 0h0m2 0h2m2 0h0m30 0h0m20 0h0m37 0h0m41 0h0m-239 1h0m27 0h0m6 0h0m23 0h0m3 0h0m3 0h0m2 0h0m3 0h0m9 0h0m10 0h1m3 0h1m8 0h0m2 0h0m10 0h0m2 0h0m3 0h0m7 0h0m5 0h0m9 0h0m16 0h0m17 0h0m5 0h0m6 0h0m25 0h0m9 0h0m2 0h0m16 0h0m18 0h0m-251 1h0m11 0h0m22 0h0m9 0h0m8 0h0m3 0h0m6 0h0m3 0h0m2 0h0m3 0h0m4 0h0m2 0h0m5 0h0m2 0h0m3 0h0m3 0h0m2 0h0m2 0h2m3 0h0m5 0h0m2 0h0m4 0h1m5 0h0m2 0h0m13 0h0m34 0h0m4 0h0m4 0h0m7 0h0m9 0h0m6 0h0m29 0h0m5 0h0m-225 1h0m11 0h0m22 0h0m9 0h0m4 0h0m10 0h0m3 0h0m3 0h0m5 0h0m4 0h0m4 0h0m6 0h0m2 0h1m2 0h0m2 0h0m4 0h0m2 0h0m2 0h0m3 0h1m2 0h0m2 0h2m2 0h2m3 0h0m3 0h1m8 0h0m3 0h0m10 0h0m20 0h0m19 0h0m3 0h0m11 0h1m4 0h0m8 0h0m6 0h0m12 0h0m10 0h0m-199 1h0m9 0h0m4 0h0m10 0h0m3 0h0m5 0h0m3 0h0m2 0h0m2 0h0m2 0h0m2 0h0m3 0h0m2 0h1m2 0h0m4 0h0m3 0h0m2 0h0m4 0h1m3 0h0m24 0h0m35 0h0m13 0h0m9 0h0m12 0h0m4 0h2m4 0h1m9 0h0m12 0h0m5 0h0m3 0h0m4 0h0m3 0h0m-240 1h0m11 0h0m16 0h0m15 0h0m4 0h0m10 0h0m3 0h0m12 0h0m4 0h0m3 0h0m2 0h1m2 0h1m8 0h3m15 0h0m46 0h0m9 0h0m5 0h1m2 0h1m11 0h0m2 0h0m15 0h0m2 0h0m15 0h0m2 0h0m5 0h0m14 0h0m-229 1h0m9 0h0m18 0h0m4 0h0m17 0h0m3 0h0m2 0h0m5 0h0m4 0h0m2 0h0m5 0h0m4 0h0m2 0h0m2 0h0m3 0h0m2 0h1m4 0h1m6 0h0m3 0h0m10 0h1m9 0h0m10 0h0m9 0h0m4 0h0m35 0h0m4 0h0m7 0h0m10 0h0m12 0h0m2 0h0m10 0h0m15 0h0m2 0h0m3 0h0m31 0h0m-282 1h0m20 0h0m22 0h0m8 0h0m3 0h0m3 0h0m3 0h0m3 0h0m2 0h0m9 0h0m2 0h1m2 0h0m3 0h0m6 0h0m3 0h0m2 0h0m3 0h1m4 0h0m6 0h0m2 0h2m3 0h0m8 0h0m11 0h0m15 0h0m16 0h0m4 0h0m7 0h0m9 0h0m6 0h0m4 0h1m4 0h0m3 0h0m6 0h1m3 0h0m11 0h0m22 0h0m-244 1h0m27 0h0m6 0h0m5 0h0m12 0h0m3 0h0m6 0h0m3 0h0m2 0h0m3 0h0m4 0h0m2 0h0m3 0h0m7 0h1m2 0h1m3 0h1m3 0h0m12 0h1m2 0h0m4 0h0m7 0h0m3 0h1m43 0h0m10 0h1m5 0h0m5 0h0m3 0h1m21 0h0m2 0h0m10 0h0m11 0h0m-236 1h0m11 0h0m9 0h0m26 0h0m13 0h0m3 0h0m5 0h0m6 0h0m3 0h0m2 0h0m3 0h0m6 0h1m4 0h1m3 0h0m2 0h3m3 0h1m5 0h1m5 0h0m4 0h0m42 0h0m4 0h0m21 0h0m7 0h0m11 0h0m5 0h0m3 0h0m11 0h0m12 0h0m8 0h0m7 0h0m-251 1h0m11 0h0m9 0h0m7 0h0m6 0h0m20 0h0m3 0h0m11 0h0m4 0h0m2 0h0m3 0h0m2 0h0m2 0h1m6 0h1m2 0h3m2 0h0m2 0h1m2 0h0m2 0h1m4 0h0m7 0h0m7 0h0m4 0h0m28 0h0m2 0h0m2 0h0m6 0h0m4 0h0m11 0h0m14 0h0m2 0h0m3 0h0m2 0h0m3 0h0m2 0h0m10 0h1m4 0h1m-209 2h0m9 0h0m13 0h0m9 0h0m8 0h0m3 0h0m16 0h0m6 0h0m3 0h0m2 0h1m2 0h0m3 0h2m2 0h0m2 0h1m2 0h0m4 0h1m3 0h1m2 0h0m2 0h0m2 0h0m13 0h0m13 0h0m2 0h0m16 0h0m15 0h0m5 0h0m7 0h0m2 0h0m2 0h0m8 0h2m11 0h0m7 0h0m35 0h0m-248 1h0m11 0h0m16 0h0m6 0h0m5 0h0m8 0h0m4 0h0m3 0h0m9 0h0m2 0h0m3 0h0m2 0h0m2 0h0m4 0h1m4 0h1m2 0h0m3 0h0m2 0h0m2 0h0m2 0h0m2 0h0m2 0h1m6 0h0m2 0h0m2 0h0m3 0h0m2 0h0m5 0h0m5 0h1m7 0h0m3 0h0m3 0h0m14 0h0m3 0h0m14 0h1m7 0h0m9 0h0m7 0h0m2 0h0m4 0h1m3 0h0m3 0h0m7 0h1m4 0h0m23 0h0m3 0h0m19 0h0m-261 1h0m11 0h0m9 0h0m13 0h0m17 0h0m12 0h0m2 0h0m3 0h0m2 0h0m2 0h0m5 0h0m2 0h0m2 0h0m4 0h0m2 0h2m2 0h7m6 0h0m3 0h0m2 0h0m3 0h0m2 0h0m9 0h0m4 0h0m14 0h1m10 0h0m29 0h2m4 0h0m11 0h0m8 0h0m34 0h0m-239 1h0m11 0h0m16 0h0m6 0h0m5 0h0m4 0h0m14 0h0m3 0h0m3 0h0m2 0h0m3 0h0m4 0h0m2 0h0m2 0h1m2 0h0m2 0h0m3 0h0m4 0h0m4 0h0m2 0h0m2 0h0m3 0h1m6 0h0m7 0h0m4 0h0m4 0h0m30 0h2m9 0h0m5 0h0m2 0h0m8 0h0m2 0h0m7 0h0m32 0h0m-217 2h0m11 0h0m9 0h0m7 0h0m6 0h0m5 0h0m12 0h0m3 0h0m3 0h0m11 0h0m2 0h0m7 0h0m2 0h0m3 0h0m3 0h0m2 0h2m2 0h0m4 0h2m4 0h0m2 0h2m3 0h1m9 0h0m2 0h0m2 0h0m6 0h0m3 0h0m2 0h0m6 0h0m13 0h0m5 0h0m8 0h0m7 0h0m11 0h0m6 0h0m2 0h0m9 0h0m2 0h0m2 0h0m40 0h0m3 0h0m-246 1h0m11 0h0m9 0h0m7 0h0m11 0h0m4 0h0m8 0h0m3 0h0m3 0h0m3 0h0m3 0h0m7 0h0m2 0h0m2 0h0m2 0h0m5 0h1m2 0h0m3 0h1m3 0h0m2 0h0m3 0h1m7 0h0m2 0h0m7 0h0m7 0h1m4 0h1m3 0h0m16 0h0m33 0h1m4 0h0m6 0h0m10 0h0m35 0h0m18 0h0m-240 2h0m16 0h0m6 0h0m5 0h0m4 0h0m4 0h0m7 0h0m3 0h0m3 0h0m5 0h0m3 0h0m2 0h0m2 0h0m2 0h0m3 0h0m2 0h0m2 0h0m6 0h2m2 0h5m2 0h0m2 0h2m4 0h0m5 0h2m5 0h0m4 0h0m8 0h0m14 0h0m21 0h0m4 0h0m9 0h0m10 0h0m7 0h0m4 0h0m2 0h1m17 0h0m19 0h0m8 0h0m-245 1h0m11 0h0m16 0h0m11 0h0m4 0h0m4 0h0m4 0h0m6 0h0m3 0h0m3 0h0m2 0h0m3 0h0m2 0h0m6 0h0m3 0h0m2 0h1m2 0h1m3 0h0m4 0h3m2 0h0m4 0h0m3 0h0m4 0h1m13 0h0m25 0h0m3 0h0m24 0h0m19 0h0m2 0h0m2 0h0m13 0h0m5 0h1m4 0h0m2 0h0m10 0h0m12 0h0m15 0h0m-247 2h0m9 0h0m18 0h0m4 0h0m8 0h0m3 0h0m6 0h0m5 0h0m3 0h0m4 0h0m4 0h1m7 0h0m3 0h0m4 0h0m3 0h1m2 0h0m12 0h0m3 0h0m2 0h1m3 0h0m11 0h0m3 0h0m10 0h0m8 0h2m20 0h0m14 0h1m6 0h0m3 0h0m15 0h0m4 0h0m8 0h0m3 0h0m7 0h0m29 0h0m-261 1h0m11 0h0m27 0h0m12 0h0m3 0h0m3 0h0m11 0h0m2 0h0m2 0h0m2 0h0m2 0h0m3 0h0m2 0h1m3 0h0m8 0h0m2 0h0m9 0h0m4 0h0m4 0h0m3 0h1m14 0h0m10 0h0m12 0h0m22 0h1m21 0h0m6 0h0m14 0h0m25 0h0m24 0h0m-264 2h0m20 0h0m7 0h0m6 0h0m5 0h0m4 0h0m8 0h0m3 0h0m3 0h0m6 0h0m5 0h0m2 0h0m2 0h0m2 0h0m3 0h0m2 0h0m2 0h1m2 0h1m14 0h0m4 0h1m2 0h0m6 0h0m2 0h0m3 0h1m7 0h0m10 0h0m21 0h0m3 0h0m5 0h0m3 0h0m2 0h0m2 0h0m7 0h0m9 0h0m7 0h0m7 0h0m9 0h0m13 0h0m-222 2h0m11 0h0m9 0h0m7 0h0m11 0h0m4 0h0m11 0h0m3 0h0m6 0h0m2 0h0m7 0h0m4 0h1m2 0h0m2 0h0m4 0h0m16 0h1m4 0h0m18 0h0m2 0h0m33 0h0m8 0h0m16 0h0m2 0h1m16 0h0m5 0h0m2 0h0m9 0h0m-217 2h0m11 0h0m9 0h0m7 0h0m6 0h0m9 0h0m4 0h0m4 0h0m3 0h0m3 0h0m8 0h0m5 0h0m2 0h0m2 0h0m7 0h1m5 0h0m2 0h0m2 0h0m2 0h0m3 0h1m3 0h0m9 0h1m2 0h0m2 0h0m2 0h0m2 0h0m3 0h0m25 0h2m5 0h0m5 0h0m8 0h0m8 0h0m9 0h0m13 0h0m10 0h0m8 0h0m8 0h0m3 0h0m-224 2h0m11 0h0m16 0h0m6 0h0m5 0h0m8 0h0m4 0h0m6 0h0m3 0h0m3 0h0m5 0h0m2 0h0m2 0h0m9 0h1m2 0h0m3 0h0m5 0h0m3 0h1m3 0h2m4 0h3m3 0h0m5 0h0m4 0h0m4 0h0m6 0h0m2 0h0m3 0h0m13 0h0m9 0h1m5 0h0m11 0h0m2 0h0m8 0h0m4 0h0m3 0h0m14 0h1m3 0h0m-208 3h0m20 0h0m7 0h0m6 0h0m5 0h0m4 0h0m8 0h0m6 0h0m3 0h0m3 0h0m2 0h0m3 0h0m2 0h0m4 0h0m2 0h1m4 0h0m3 0h0m7 0h5m6 0h0m3 0h0m4 0h0m2 0h1m2 0h0m4 0h0m17 0h0m4 0h0m7 0h1m3 0h0m5 0h0m4 0h0m8 0h0m13 0h0m3 0h0m8 0h1m2 0h0m13 0h0m26 0h0m-232 2h0m20 0h0m7 0h0m11 0h0m4 0h0m4 0h0m10 0h0m6 0h0m5 0h0m4 0h0m2 0h0m3 0h0m4 0h0m7 0h1m2 0h1m5 0h2m7 0h0m2 0h0m2 0h0m12 0h0m5 0h0m10 0h0m29 0h0m5 0h0m26 0h0m11 0h0m-207 3h0m20 0h0m7 0h0m15 0h0m4 0h0m10 0h0m3 0h0m5 0h0m9 0h0m7 0h0m6 0h1m5 0h0m2 0h0m2 0h0m2 0h0m6 0h2m2 0h0m9 0h0m16 0h0m7 0h0m29 0h0m3 0h0m12 0h0m11 0h0m11 0h0m6 0h0m6 0h0m-218 3h0m20 0h0m7 0h0m19 0h0m4 0h0m3 0h0m16 0h0m2 0h0m7 0h0m2 0h0m3 0h1m3 0h0m11 0h1m8 0h0m5 0h1m6 0h0m2 0h2m26 0h1m3 0h0m5 0h0m10 0h0m2 0h0m26 0h0m22 0h0m-168 3h0m9 0h0m5 0h0m17 0h0m15 0h0m7 0h0m4 0h0m5 0h2m28 0h1m12 0h1m2 0h0m5 0h0m4 0h0m29 0h0m10 0h0m3 0h0m8 0h0m-206 4h0m22 0h0m5 0h0m4 0h0m4 0h0m16 0h0m5 0h0m6 0h0m11 0h0m2 0h0m2 0h0m2 0h0m6 0h1m6 0h0m6 0h0m5 0h0m3 0h0m2 0h0m3 0h0m9 0h0m8 0h0m3 0h0m13 0h1m2 0h0m-125 4h0m17 0h0m21 0h0m4 0h0m3 0h0m19 0h0m2 0h0m3 0h0m2 0h1m2 0h0m4 0h0m13 0h0m5 0h0m4 0h0m45 0h0m-151 5h0m15 0h0m8 0h0m3 0h0m9 0h0m2 0h0m9 0h0m3 0h0m7 0h0m3 0h0m6 0h0m4 0h0m3 0h1m2 0h1m2 0h1m5 0h0m7 0h0m7 0h0m4 0h0m5 0h0m2 0h0m3 0h0m2 0h0m13 0h0m2 0h0m-145 6h0m22 0h0m13 0h0m4 0h0m9 0h0m16 0h0m3 0h0m2 0h1m15 0h1m2 0h0m2 0h0m3 0h1m3 0h0m5 0h0m6 0h0m3 0h0m5 0h1m9 0h0m15 0h0m6 0h0m10 0h0m5 0h0m19 0h0m16 0h0m-162 7h0m10 0h0m6 0h0m2 0h0m3 0h0m2 0h0m2 0h0m5 0h0m8 0h0m9 0h0m8 0h0m3 0h0m6 0h0m5 0h0m5 0h1m9 0h0m9 0h0m3 0h0m2 0h0m16 0h0m-127 9h0m34 0h0m2 0h0m2 0h0m16 0h0m3 0h0m12 0h0m6 0h0m3 0h0m3 0h0m5 0h0m3 0h1m2 0h0m10 0h0m13 0h0m2 0h1m12 0h0m3 0h1m13 0h0m4 0h0" fill="none" stroke="#ea5f47" stroke-width="1.9" stroke-linecap="square"/>
<rect x="171.3" y="1693.2" width="2.2" height="121.5" fill="#ea5f47"/>
<rect x="241.9" y="1812" width="149.3" height="2.4" fill="#ea5f47"/>
<path d="M391.2 1813.2h6.6M400.7 1813.2h9.7M415.6 1813.2h3M420.5 1813.2h1.7M175.8 1813.2h1.6M179.6 1813.2h1.6M183.4 1813.2h1.6M192.1 1813.2h1.6M197.8 1813.2h1.6M206.8 1813.2h1.6M211.7 1813.2h1.6M216.2 1813.2h1.6M220.9 1813.2h1.6M226 1813.2h1.6M232.7 1813.2h1.6M238.3 1813.2h1.6" stroke="#ea5f47" stroke-width="2.2" fill="none"/>
<g transform="translate(170.8 1447.5) scale(1.0306 0.9892)">
<use href="#tpl"/>
<g>
<text x="0.6" y="20" font-size="21.4" fill="#111" textLength="26.66" lengthAdjust="spacingAndGlyphs">UL</text>
<text x="1.3" y="45.1" font-size="21.4" fill="#111" textLength="43.44" lengthAdjust="spacingAndGlyphs">0.37</text>
<text x="385.2" y="20" font-size="21.4" fill="#111" textLength="28.45" lengthAdjust="spacingAndGlyphs">UR</text>
<text x="385.7" y="45.1" font-size="21.4" fill="#111" textLength="43.32" lengthAdjust="spacingAndGlyphs">8.58</text>
<text x="0.5" y="340.7" font-size="21.4" fill="#111" textLength="23.36" lengthAdjust="spacingAndGlyphs">LL</text>
<text x="1.1" y="365.7" font-size="21.4" fill="#111" textLength="55.24" lengthAdjust="spacingAndGlyphs">71.05</text>
<text x="373.3" y="340.7" font-size="21.4" fill="#111" textLength="26.01" lengthAdjust="spacingAndGlyphs">LR</text>
<text x="373.8" y="365.7" font-size="21.4" fill="#111" textLength="55.13" lengthAdjust="spacingAndGlyphs">20.00</text>
</g></g>
<path d="M308.9 1447.5V1815.7 M170.8 1693.2H613.1" stroke="#0a0a0a" stroke-width="2.05" fill="none"/>
<g><text x="276.3" y="1895.8" font-size="29.5" fill="#111" textLength="163.29" lengthAdjust="spacingAndGlyphs">AGS-20mg/l</text></g>
<path d="m1007 1628h0m-113 2h0m105 2h0m-53 1h0m36 1h0m30 1h0m2 0h1m-6 3h0m-10 3h0m62 0h0m-111 1h0m16 0h0m35 0h0m9 0h0m-30 1h0m13 0h0m2 0h0m6 0h0m12 0h0m-83 1h0m104 0h0m-102 1h0m83 0h0m-54 1h0m62 0h0m13 0h0m-158 1h0m125 0h0m24 0h0m-27 1h0m33 0h0m-85 1h0m22 0h0m3 0h0m33 0h0m-138 1h0m111 0h0m8 0h1m11 0h0m29 0h0m19 0h0m9 0h0m-178 1h0m27 0h0m68 0h0m15 1h0m41 0h0m15 0h0m-190 1h0m109 0h0m20 0h0m9 0h0m23 0h0m8 0h0m12 0h0m-105 1h0m21 0h0m6 0h0m11 0h0m35 0h0m3 0h0m10 0h0m23 0h0m-100 1h0m40 0h0m7 0h0m3 0h0m5 0h0m13 0h0m24 0h0m-191 1h0m14 0h0m46 0h0m9 0h0m5 0h0m3 0h0m35 0h0m32 0h0m8 0h0m11 0h0m15 0h0m18 0h0m-231 1h0m66 0h0m30 0h0m70 0h0m36 0h0m21 0h0m6 0h0m40 0h0m-241 1h0m67 0h0m57 0h1m32 0h0m5 0h0m2 0h1m3 0h1m4 0h0m4 0h1m2 0h0m15 0h0m2 0h0m-263 1h0m150 0h0m26 0h0m20 0h0m15 0h0m3 0h0m17 0h0m7 0h0m2 0h1m3 0h1m6 0h0m4 0h0m4 0h0m3 0h0m6 0h0m-131 1h0m11 0h0m53 0h0m9 0h0m4 0h2m7 0h0m19 0h0m10 0h1m4 0h0m30 0h0m-155 1h0m18 0h0m40 0h0m21 0h0m16 0h0m5 0h0m8 0h0m16 0h0m-126 1h0m49 0h0m2 0h0m23 0h0m5 0h0m2 0h0m2 0h0m3 0h0m14 0h0m26 0h0m-138 1h0m5 0h0m16 0h0m5 0h0m11 0h0m16 0h0m12 0h0m8 0h0m20 0h1m12 0h4m10 0h0m-78 1h0m36 0h0m7 0h0m3 0h0m9 0h0m3 0h0m4 0h0m7 0h0m4 0h0m10 0h1m10 0h0m18 0h0m2 0h0m-154 1h0m33 0h0m11 0h0m5 0h0m3 0h0m2 0h0m2 0h0m7 0h0m9 0h0m28 0h0m3 0h1m3 0h0m3 0h0m10 0h0m4 0h0m3 0h0m-188 1h0m159 0h0m3 0h0m6 0h1m2 0h2m8 0h0m3 0h0m3 0h0m3 0h0m9 0h0m6 0h0m2 0h0m-187 1h0m23 0h0m9 0h0m58 0h0m30 0h0m5 0h0m8 0h1m12 0h0m8 0h2m4 0h0m4 0h0m11 0h0m-114 1h0m43 0h0m26 0h1m11 0h0m15 0h1m4 0h0m8 0h0m7 0h0m-172 1h0m81 0h0m12 0h0m4 0h1m8 0h0m14 0h0m6 0h0m8 0h1m2 0h1m2 0h0m2 0h1m6 0h0m10 0h0m17 0h0m-226 1h0m53 0h0m36 0h0m6 0h0m30 0h0m29 0h0m7 0h0m3 0h1m9 0h0m5 0h1m13 0h0m7 0h2m2 0h0m3 0h0m10 0h0m3 0h0m21 0h0m-160 1h0m15 0h0m5 0h0m3 0h0m63 0h0m15 0h2m8 0h0m4 0h0m4 0h0m7 0h1m16 0h0m6 0h0m-209 1h0m49 0h0m5 0h0m16 0h0m4 0h0m10 0h1m6 0h0m13 0h1m8 0h0m20 0h1m4 0h0m3 0h0m3 0h0m4 0h0m7 0h0m5 0h0m2 0h0m4 0h0m10 0h0m2 0h0m17 0h1m10 0h0m-276 1h0m79 0h0m20 0h0m41 0h0m9 0h0m62 0h0m5 0h0m2 0h0m9 0h0m8 0h1m4 0h0m3 0h0m4 0h1m9 0h0m4 0h0m14 0h0m-224 1h0m17 0h0m52 0h0m7 0h0m22 0h0m3 0h0m23 0h0m10 0h0m4 0h0m7 0h0m10 0h0m5 0h0m2 0h0m4 0h0m5 0h0m3 0h0m16 0h0m6 0h0m5 0h1m4 0h0m7 0h0m13 0h0m25 0h0m-182 1h0m6 0h0m12 0h0m35 0h0m4 0h0m27 0h0m11 0h1m8 0h0m3 0h0m3 0h0m2 0h0m2 0h0m10 0h0m2 0h1m7 0h0m18 0h0m7 0h0m6 0h0m-181 1h0m12 0h0m16 0h0m13 0h1m6 0h0m6 0h0m18 0h0m7 0h0m5 0h0m18 0h0m2 0h1m4 0h0m3 0h0m2 0h0m4 0h0m5 0h0m7 0h0m2 0h1m2 0h0m5 0h1m5 0h1m3 0h0m18 0h0m-185 1h0m10 0h0m5 0h0m25 0h0m14 0h0m7 0h1m13 0h0m9 0h0m3 0h1m15 0h0m7 0h0m3 0h0m6 0h0m4 0h1m6 0h0m9 0h0m2 0h0m7 0h0m2 0h0m7 0h1m3 0h0m10 0h0m4 0h0m3 0h1m34 0h0m-263 1h0m45 0h0m38 0h0m6 0h0m4 0h0m7 0h0m18 0h0m6 0h0m3 0h0m4 0h0m14 0h0m5 0h0m12 0h1m5 0h0m8 0h1m6 0h0m4 0h0m7 0h0m4 0h0m2 0h1m6 0h0m9 0h0m5 0h0m5 0h0m5 0h0m17 0h0m-176 1h0m56 0h0m8 0h0m13 0h0m14 0h0m2 0h0m2 0h0m13 0h0m3 0h0m4 0h1m8 0h0m5 0h0m9 0h0m5 0h0m5 0h0m24 0h0m11 0h0m-241 1h0m27 0h0m43 0h0m33 0h0m24 0h1m8 0h0m31 0h0m3 0h2m7 0h0m4 0h0m7 0h1m16 0h1m8 0h0m-166 1h0m16 0h0m2 0h0m15 0h0m14 0h0m3 0h0m9 0h0m6 0h0m2 0h0m9 0h0m11 0h0m7 0h0m4 0h0m5 0h0m9 0h2m5 0h0m3 0h0m11 0h2m3 0h0m13 0h0m3 0h0m10 0h0m3 0h0m2 0h0m-255 1h0m55 0h0m35 0h0m23 0h0m3 0h0m7 0h0m6 0h0m18 0h0m12 0h0m12 0h0m3 0h0m5 0h0m2 0h0m7 0h0m5 0h0m3 0h1m2 0h0m3 0h0m6 0h0m2 0h0m4 0h0m2 0h0m3 0h0m9 0h0m3 0h0m8 0h0m2 0h0m7 0h0m7 0h1m-193 1h0m43 0h0m4 0h0m5 0h1m13 0h0m13 0h0m4 0h0m2 0h0m6 0h0m2 0h0m2 0h0m6 0h0m5 0h1m3 0h0m4 0h0m15 0h0m6 0h0m7 0h0m6 0h1m2 0h0m3 0h0m5 0h0m2 0h0m10 0h0m7 0h0m19 0h0m-209 1h0m91 0h1m3 0h0m5 0h0m5 0h0m15 0h0m2 0h0m6 0h0m3 0h0m9 0h0m3 0h1m11 0h0m5 0h0m7 0h0m6 0h0m5 0h1m19 0h0m9 0h0m-147 1h0m36 0h0m11 0h0m7 0h0m5 0h0m5 0h0m3 0h0m3 0h0m3 0h0m7 0h0m2 0h0m7 0h0m4 0h1m5 0h1m8 0h0m4 0h0m16 0h0m-264 1h0m75 0h0m52 0h0m2 0h0m9 0h0m4 0h0m2 0h0m2 0h0m13 0h0m10 0h0m13 0h0m11 0h0m3 0h0m3 0h0m4 0h1m5 0h2m4 0h0m2 0h0m7 0h0m10 0h0m6 0h3m2 0h0m14 0h0m4 0h0m35 0h0m-227 1h0m47 0h0m25 0h0m17 0h0m17 0h0m4 0h0m31 0h1m10 0h0m5 0h0m5 0h1m2 0h0m7 0h2m9 0h0m16 0h0m-197 1h0m7 0h0m78 0h0m27 0h0m5 0h0m5 0h0m5 0h0m7 0h0m13 0h0m3 0h1m5 0h0m3 0h0m9 0h0m9 0h0m3 0h0m5 0h0m2 0h0m6 0h0m8 0h0m-230 1h0m74 0h0m9 0h0m25 0h0m3 0h0m13 0h0m6 0h1m2 0h0m2 0h1m8 0h0m3 0h0m6 0h1m3 0h0m4 0h0m4 0h0m2 0h0m4 0h0m5 0h0m4 0h1m2 0h0m22 0h0m2 0h0m3 0h0m9 0h0m3 0h0m20 0h0m43 0h0m-329 1h0m112 0h0m5 0h0m16 0h1m4 0h0m19 0h0m8 0h0m5 0h0m5 0h0m6 0h0m4 0h0m2 0h0m13 0h0m3 0h0m8 0h0m10 0h0m12 0h0m6 0h0m5 0h0m12 0h0m4 0h0m5 0h0m17 0h0m6 0h0m25 0h0m-303 1h0m128 0h0m4 0h0m7 0h0m44 0h0m6 0h0m2 0h1m2 0h0m12 0h1m9 0h1m2 0h0m2 0h0m7 0h0m7 0h0m5 0h0m2 0h0m11 0h0m7 0h0m13 0h0m-239 1h0m25 0h0m2 0h0m28 0h0m46 0h0m16 0h0m2 0h0m4 0h1m4 0h0m8 0h0m9 0h0m13 0h0m6 0h0m3 0h0m2 0h0m9 0h1m5 0h0m11 0h0m4 0h1m4 0h0m5 0h0m4 0h0m4 0h0m6 0h0m4 0h0m-183 1h0m8 0h0m18 0h0m32 0h1m7 0h1m3 0h0m4 0h0m8 0h0m5 0h0m3 0h0m13 0h1m11 0h1m7 0h0m2 0h0m4 0h0m4 0h2m8 0h0m4 0h0m3 0h0m12 0h0m22 0h0m-153 1h0m14 0h0m4 0h0m9 0h0m5 0h0m7 0h0m11 0h0m8 0h0m3 0h1m2 0h0m10 0h0m10 0h0m5 0h0m4 0h0m3 0h0m7 0h0m2 0h0m3 0h0m5 0h0m13 0h0m2 0h0m2 0h0m2 0h0m3 0h0m6 0h0m-158 1h0m3 0h0m46 0h0m14 0h0m14 0h0m5 0h0m19 0h0m8 0h0m2 0h0m8 0h0m5 0h0m12 0h0m-207 1h0m13 0h0m35 0h0m38 0h0m25 0h0m21 0h0m4 0h0m8 0h0m10 0h0m3 0h0m10 0h1m2 0h0m5 0h0m8 0h0m2 0h0m5 0h1m2 0h2m6 0h0m6 0h0m-142 1h0m3 0h0m4 0h0m33 0h0m7 0h0m13 0h0m17 0h0m8 0h0m5 0h0m3 0h1m3 0h0m5 0h0m4 0h0m5 0h1m7 0h1m5 0h0m5 0h0m5 0h1m7 0h0m6 0h0m3 0h0m5 0h0m16 0h0m23 0h0m-282 1h0m77 0h0m72 0h0m5 0h0m4 0h0m2 0h0m18 0h2m3 0h0m4 0h0m4 0h0m4 0h0m10 0h0m9 0h0m10 0h0m5 0h0m2 0h1m3 0h0m3 0h1m2 0h0m13 0h0m-254 1h0m15 0h0m31 0h0m10 0h0m3 0h0m46 0h0m17 0h0m10 0h0m2 0h0m10 0h0m27 0h0m3 0h0m2 0h0m2 0h0m3 0h0m9 0h1m12 0h1m2 0h0m6 0h0m9 0h0m7 0h0m4 0h0m10 0h0m4 0h0m-166 1h0m4 0h0m15 0h2m4 0h0m48 0h0m5 0h0m10 0h0m6 0h1m15 0h0m7 0h0m18 0h0m6 0h0m3 0h0m12 0h0m2 0h0m-151 1h1m6 0h0m42 0h0m15 0h0m3 0h0m9 0h0m18 0h0m3 0h0m8 0h1m20 0h1m2 0h0m5 0h0m7 0h0m7 0h0m12 0h0m5 0h0m2 0h0m6 0h0m-188 1h0m14 0h0m18 0h0m31 0h0m5 0h0m2 0h0m3 0h0m20 0h1m3 0h0m11 0h1m6 0h0m10 0h1m5 0h1m8 0h2m6 0h0m2 0h0m3 0h0m12 0h0m-222 1h0m98 0h0m7 0h0m12 0h0m11 0h0m15 0h0m5 0h0m3 0h3m11 0h0m15 0h2m3 0h2m2 0h0m2 0h1m5 0h0m6 0h0m21 0h0m23 0h0m-211 1h0m27 0h1m15 0h0m11 0h0m33 0h0m13 0h0m17 0h0m3 0h0m11 0h0m2 0h1m5 0h0m5 0h0m2 0h0m5 0h0m7 0h0m12 0h0m3 0h0m6 0h0m5 0h0m2 0h0m24 0h0m4 0h0m2 0h0m-252 1h0m22 0h0m21 0h0m16 0h0m2 0h0m3 0h1m29 0h0m18 0h0m9 0h0m12 0h0m9 0h0m3 0h0m23 0h0m4 0h0m6 0h0m8 0h0m22 0h0m10 0h0m6 0h0m17 0h0m9 0h0m-200 1h0m52 0h0m10 0h0m2 0h1m2 0h0m23 0h0m16 0h1m2 0h1m4 0h0m5 0h1m2 0h0m11 0h1m4 0h0m20 0h0m2 0h0m8 0h0m2 0h0m4 0h0m2 0h0m-136 1h0m2 0h0m7 0h0m53 0h0m4 0h0m6 0h0m7 0h0m22 0h0m9 0h1m18 0h0m18 0h0m12 0h0m-264 1h0m15 0h0m22 0h0m4 0h0m8 0h0m2 0h0m2 0h0m21 0h0m7 0h0m11 0h0m3 0h0m41 0h0m19 0h0m16 0h0m6 0h0m2 0h0m2 0h0m2 0h0m3 0h0m3 0h0m2 0h0m11 0h0m2 0h1m7 0h0m11 0h0m11 0h0m7 0h0m-233 1h0m26 0h0m32 0h0m17 0h0m11 0h0m6 0h0m59 0h0m2 0h0m5 0h0m4 0h0m4 0h0m3 0h0m2 0h0m5 0h0m2 0h0m3 0h0m4 0h0m9 0h0m3 0h0m4 0h1m7 0h0m3 0h0m5 0h0m3 0h0m4 0h0m3 0h0m3 0h0m-238 1h0m30 0h0m36 0h0m2 0h0m20 0h0m40 0h0m9 0h0m15 0h1m39 0h0m5 0h0m2 0h0m2 0h0m4 0h1m3 0h0m7 0h1m4 0h0m42 0h0m2 0h0m-250 1h0m44 0h0m9 0h0m53 0h0m20 0h0m8 0h0m14 0h1m2 0h0m7 0h0m7 0h0m17 0h0m10 0h1m2 0h0m6 0h0m-190 1h0m23 0h0m12 0h0m2 0h0m6 0h1m13 0h0m3 0h0m36 0h0m4 0h0m4 0h0m11 0h0m5 0h0m7 0h0m9 0h0m5 0h0m2 0h3m11 0h0m6 0h0m3 0h0m13 0h0m4 0h0m2 0h0m8 0h0m2 0h1m-232 1h0m31 0h0m28 0h0m7 0h0m10 0h0m37 0h0m39 0h1m17 0h0m8 0h0m2 0h1m18 0h0m5 0h0m2 0h0m3 0h0m8 0h1m7 0h0m2 0h0m10 0h0m-219 1h0m7 0h0m11 0h0m11 0h0m12 0h0m2 0h0m18 0h0m5 0h0m26 0h0m9 0h0m20 0h0m6 0h0m21 0h0m3 0h0m8 0h0m3 0h0m6 0h0m5 0h0m2 0h1m3 0h0m4 0h0m4 0h0m2 0h0m6 0h0m7 0h0m20 0h0m-215 1h0m11 0h0m32 0h1m4 0h0m20 0h0m4 0h1m45 0h0m30 0h0m11 0h0m2 0h0m5 0h0m6 0h0m13 0h0m5 0h1m6 0h0m2 0h0m25 0h0m16 0h0m2 0h0m-257 1h0m26 0h0m4 0h0m7 0h0m9 0h0m22 0h0m2 0h0m9 0h0m9 0h0m6 0h0m3 0h0m13 0h0m2 0h0m40 0h0m2 0h0m2 0h0m7 0h0m3 0h1m5 0h2m2 0h0m5 0h0m8 0h0m11 0h1m2 0h0m9 0h0m2 0h0m2 0h0m3 0h0m6 0h0m7 0h0m-224 1h0m7 0h0m11 0h0m15 0h0m3 0h0m7 0h0m2 0h0m8 0h0m4 0h0m4 0h0m34 0h0m28 0h0m10 0h0m10 0h0m7 0h0m3 0h1m4 0h0m2 0h0m3 0h1m3 0h0m3 0h0m5 0h0m8 0h2m14 0h0m4 0h0m7 0h0m4 0h0m12 0h0m40 0h0m3 0h0m-287 1h0m10 0h0m15 0h0m11 0h0m4 0h0m11 0h0m5 0h0m3 0h0m9 0h0m12 0h0m2 0h0m13 0h0m6 0h0m48 0h0m2 0h0m8 0h0m10 0h0m22 0h0m6 0h0m2 0h1m5 0h0m3 0h0m2 0h0m6 0h0m8 0h0m8 0h0m13 0h0m12 0h0m17 0h0m-274 1h0m31 0h0m5 0h0m32 0h0m31 0h0m6 0h0m3 0h0m22 0h0m24 0h0m14 0h0m4 0h0m7 0h0m5 0h0m2 0h0m19 0h0m6 0h0m2 0h0m18 0h0m28 0h0m7 0h0m-222 1h0m12 0h0m5 0h0m5 0h0m3 0h0m6 0h0m3 0h0m15 0h0m3 0h0m11 0h0m25 0h0m20 0h0m2 0h0m2 0h2m2 0h0m4 0h0m7 0h0m3 0h0m3 0h0m6 0h0m2 0h1m3 0h1m6 0h0m5 0h1m5 0h0m3 0h2m5 0h0m2 0h0m2 0h0m4 0h0m11 0h0m5 0h0m14 0h0m-255 1h0m10 0h0m21 0h0m13 0h0m3 0h0m7 0h0m17 0h0m2 0h0m11 0h0m12 0h0m6 0h0m18 0h0m31 0h0m19 0h0m2 0h0m5 0h0m4 0h2m2 0h0m2 0h0m2 0h0m2 0h0m6 0h0m7 0h0m3 0h0m3 0h0m11 0h0m4 0h0m-225 1h0m31 0h0m13 0h0m10 0h0m2 0h0m3 0h0m2 0h0m14 0h0m14 0h0m8 0h0m4 0h0m15 0h0m2 0h0m24 0h0m15 0h0m2 0h0m2 0h0m20 0h0m2 0h0m3 0h0m5 0h0m6 0h0m41 0h0m-238 1h0m10 0h0m8 0h0m26 0h0m22 0h0m2 0h0m8 0h0m11 0h0m4 0h0m6 0h0m3 0h0m9 0h1m23 0h0m5 0h0m4 0h1m8 0h0m6 0h3m2 0h0m5 0h0m6 0h0m3 0h0m4 0h0m2 0h0m8 0h0m2 0h0m3 0h0m2 0h1m3 0h1m2 0h0m2 0h0m3 0h0m3 0h0m13 0h0m2 0h0m2 0h1m5 0h0m6 0h0m17 0h0m5 0h0m-227 1h0m15 0h0m3 0h0m5 0h0m9 0h0m34 0h0m3 0h0m37 0h0m12 0h0m3 0h0m3 0h0m9 0h1m12 0h0m5 0h1m12 0h0m4 0h0m4 0h0m6 0h0m4 0h0m16 0h0m7 0h0m7 0h0m-248 1h0m36 0h0m11 0h0m4 0h0m17 0h1m22 0h0m9 0h2m8 0h0m45 0h0m19 0h0m2 0h0m5 0h1m8 0h0m7 0h1m4 0h0m3 0h0m2 0h0m3 0h0m5 0h0m5 0h0m13 0h0m3 0h0m-236 1h0m31 0h0m23 0h0m7 0h0m7 0h1m7 0h0m7 0h0m6 0h0m6 0h0m9 0h0m9 0h0m2 0h0m12 0h0m3 0h0m21 0h0m3 0h0m16 0h0m3 0h0m4 0h0m3 0h0m5 0h0m3 0h0m4 0h0m3 0h0m5 0h0m2 0h0m2 0h0m2 0h0m14 0h0m2 0h0m11 0h1m10 0h0m-226 1h0m18 0h0m4 0h0m19 0h0m12 0h0m2 0h0m3 0h0m14 0h1m4 0h0m3 0h0m12 0h0m14 0h0m6 0h0m6 0h0m2 0h1m7 0h0m4 0h0m2 0h0m16 0h0m16 0h1m3 0h0m2 0h0m2 0h2m4 0h1m7 0h0m3 0h4m20 0h0m12 0h0m18 0h0m-223 1h0m7 0h0m4 0h0m3 0h0m7 0h0m2 0h0m3 0h0m5 0h0m8 0h1m7 0h0m6 0h0m6 0h0m7 0h0m3 0h0m5 0h0m14 0h0m21 0h0m6 0h0m4 0h0m2 0h0m3 0h0m5 0h0m3 0h0m8 0h1m3 0h0m2 0h0m6 0h1m13 0h0m3 0h1m2 0h0m2 0h0m2 0h0m10 0h0m15 0h0m-241 1h0m10 0h0m8 0h0m26 0h0m7 0h0m8 0h0m2 0h0m2 0h0m6 0h0m13 0h1m13 0h0m4 0h0m5 0h0m2 0h0m18 0h0m18 0h1m5 0h0m9 0h0m2 0h0m3 0h0m11 0h1m7 0h1m7 0h1m8 0h0m2 0h0m3 0h0m11 0h0m6 0h0m35 0h0m-246 1h0m21 0h0m9 0h0m7 0h0m4 0h0m3 0h0m2 0h0m24 0h0m38 0h0m6 0h0m3 0h0m10 0h0m7 0h0m5 0h0m13 0h1m7 0h0m8 0h0m6 0h0m3 0h0m2 0h0m4 0h0m10 0h0m3 0h0m2 0h0m7 0h0m4 0h0m26 0h0m-227 1h0m29 0h0m4 0h0m3 0h0m19 0h0m2 0h1m3 0h0m3 0h0m6 0h0m6 0h0m3 0h0m2 0h0m5 0h0m5 0h0m5 0h0m3 0h1m3 0h0m2 0h0m14 0h0m4 0h1m14 0h0m3 0h0m3 0h0m11 0h0m2 0h0m4 0h3m4 0h3m3 0h0m4 0h1m9 0h1m14 0h0m8 0h2m3 0h0m-234 1h0m10 0h0m15 0h0m6 0h0m9 0h0m4 0h0m15 0h0m4 0h0m5 0h0m3 0h0m4 0h0m8 0h1m5 0h1m2 0h0m2 0h0m3 0h1m2 0h0m3 0h0m2 0h0m9 0h0m2 0h0m4 0h0m7 0h0m10 0h0m4 0h0m7 0h0m2 0h0m23 0h0m13 0h0m4 0h1m2 0h0m4 0h1m8 0h0m15 0h0m2 0h0m4 0h1m28 0h0m-256 1h0m61 0h0m2 0h0m6 0h0m2 0h0m12 0h0m7 0h0m6 0h0m2 0h0m48 0h0m20 0h0m2 0h0m7 0h0m9 0h1m2 0h0m6 0h2m5 0h0m8 0h1m5 0h0m-214 1h0m40 0h0m4 0h0m7 0h0m3 0h0m5 0h0m2 0h0m2 0h0m5 0h1m4 0h0m6 0h1m4 0h0m8 0h1m6 0h2m15 0h0m13 0h0m11 0h0m6 0h0m2 0h1m4 0h0m18 0h0m7 0h2m16 0h0m2 0h0m2 0h0m2 0h0m4 0h0m3 0h0m7 0h0m10 0h0m21 0h0m25 0h0m-262 1h0m44 0h0m7 0h0m2 0h0m3 0h0m3 0h0m6 0h1m2 0h0m2 0h0m14 0h0m19 0h0m8 0h0m3 0h0m11 0h0m7 0h0m7 0h0m6 0h0m13 0h0m4 0h0m6 0h0m4 0h0m3 0h0m5 0h1m4 0h1m6 0h0m6 0h0m19 0h0m6 0h0m-223 1h0m8 0h0m13 0h0m13 0h0m12 0h0m3 0h0m2 0h0m5 0h0m2 0h0m3 0h0m2 0h0m7 0h0m3 0h0m3 0h1m15 0h1m2 0h1m2 0h0m2 0h0m2 0h0m5 0h0m4 0h0m10 0h0m4 0h0m5 0h0m12 0h0m2 0h0m2 0h0m2 0h0m4 0h0m5 0h0m7 0h1m4 0h3m5 0h0m6 0h0m13 0h1m5 0h0m4 0h0m17 0h0m2 0h0m-225 1h0m8 0h0m33 0h0m3 0h0m14 0h0m3 0h0m4 0h0m7 0h0m9 0h0m5 0h1m8 0h0m13 0h0m16 0h0m9 0h1m19 0h0m9 0h0m2 0h1m7 0h0m5 0h0m22 0h1m3 0h1m-214 1h0m10 0h0m8 0h0m13 0h0m9 0h0m11 0h0m3 0h0m2 0h0m3 0h0m2 0h0m2 0h0m3 0h0m3 0h0m2 0h0m4 0h0m3 0h1m3 0h1m3 0h0m4 0h0m5 0h0m8 0h0m2 0h0m5 0h0m4 0h0m3 0h0m4 0h0m5 0h0m8 0h0m3 0h0m2 0h0m2 0h0m12 0h1m2 0h0m3 0h0m2 0h1m3 0h0m4 0h1m2 0h0m3 0h0m4 0h0m4 0h0m4 0h2m9 0h3m2 0h1m2 0h0m4 0h2m2 0h0m-214 1h0m31 0h0m9 0h0m4 0h0m24 0h0m8 0h0m8 0h0m2 0h0m9 0h0m5 0h0m5 0h2m6 0h0m13 0h0m13 0h0m5 0h0m7 0h1m6 0h0m2 0h0m13 0h0m14 0h0m5 0h2m5 0h0m6 0h0m5 0h0m2 0h0m7 0h0m4 0h0m12 0h0m2 0h1m-238 1h0m25 0h0m6 0h0m13 0h0m7 0h0m3 0h0m9 0h0m3 0h0m2 0h1m6 0h0m7 0h0m2 0h0m10 0h0m8 0h0m15 0h1m32 0h0m10 0h0m5 0h0m3 0h1m15 0h1m3 0h0m2 0h0m10 0h1m2 0h0m4 0h0m7 0h0m4 0h0m10 0h0m3 0h0m4 0h0m8 0h0m-243 1h0m18 0h0m13 0h0m9 0h0m7 0h0m4 0h0m3 0h0m2 0h0m3 0h0m2 0h0m5 0h0m3 0h0m2 0h0m2 0h0m5 0h2m2 0h0m2 0h0m3 0h0m3 0h0m4 0h0m11 0h0m2 0h0m3 0h0m4 0h0m3 0h0m4 0h1m16 0h0m2 0h0m10 0h0m15 0h0m3 0h3m2 0h0m2 0h0m8 0h0m2 0h1m2 0h0m2 0h0m3 0h1m5 0h0m3 0h1m2 0h0m5 0h0m4 0h1m4 0h0m6 0h0m15 0h0m-240 1h0m10 0h0m15 0h0m11 0h0m4 0h0m14 0h0m14 0h1m14 0h0m3 0h0m2 0h0m3 0h0m4 0h0m4 0h0m2 0h0m3 0h0m5 0h0m15 0h1m6 0h0m8 0h0m3 0h0m4 0h2m6 0h1m27 0h1m3 0h0m19 0h0m12 0h0m48 0h0m-255 1h0m8 0h0m7 0h0m6 0h0m13 0h0m7 0h0m5 0h0m7 0h0m5 0h1m4 0h0m3 0h0m2 0h0m2 0h0m6 0h0m10 0h0m4 0h0m2 0h0m4 0h0m2 0h1m3 0h0m11 0h0m15 0h0m6 0h0m12 0h2m3 0h2m10 0h0m5 0h0m6 0h1m2 0h2m6 0h1m7 0h0m13 0h0m13 0h0m66 0h0m-295 1h0m10 0h0m15 0h0m19 0h0m10 0h0m9 0h0m6 0h0m2 0h0m2 0h0m3 0h0m2 0h0m4 0h2m11 0h0m2 0h0m2 0h0m3 0h0m2 0h0m9 0h0m9 0h1m8 0h0m12 0h0m5 0h1m4 0h1m8 0h0m7 0h0m4 0h2m12 0h0m2 0h0m4 0h1m2 0h0m7 0h0m5 0h0m2 0h0m30 0h1m-241 1h0m10 0h0m8 0h0m13 0h0m5 0h0m18 0h0m2 0h0m5 0h0m2 0h0m6 0h0m2 0h0m8 0h1m8 0h1m2 0h0m6 0h0m3 0h0m10 0h0m8 0h0m30 0h1m9 0h0m6 0h0m6 0h1m3 0h2m7 0h1m4 0h0m7 0h0m14 0h0m4 0h0m2 0h1m6 0h0m35 0h0m3 0h0m-260 1h0m10 0h0m15 0h0m15 0h0m4 0h0m7 0h0m12 0h0m3 0h0m2 0h1m10 0h0m4 0h1m3 0h0m11 0h0m6 0h0m25 0h1m10 0h0m14 0h0m3 0h0m2 0h0m4 0h0m8 0h0m2 0h0m2 0h0m5 0h1m9 0h0m13 0h0m12 0h0m19 0h0m9 0h1m-213 1h0m5 0h0m18 0h0m2 0h0m3 0h0m9 0h0m5 0h0m2 0h0m3 0h0m2 0h0m9 0h0m4 0h0m5 0h0m8 0h1m3 0h0m4 0h0m8 0h0m21 0h0m14 0h0m3 0h0m4 0h0m3 0h0m9 0h0m3 0h0m3 0h1m11 0h2m16 0h0m10 0h0m23 0h0m-235 1h0m8 0h0m7 0h0m6 0h0m5 0h0m4 0h0m11 0h0m5 0h0m7 0h0m5 0h0m3 0h0m2 0h0m2 0h0m4 0h0m7 0h0m3 0h0m7 0h0m23 0h0m3 0h0m14 0h0m4 0h0m2 0h0m4 0h0m6 0h0m5 0h0m3 0h0m5 0h1m6 0h0m4 0h1m3 0h0m5 0h0m7 0h1m3 0h0m7 0h0m7 0h0m14 0h1m3 0h0m-228 1h0m10 0h0m8 0h0m13 0h0m16 0h0m14 0h0m8 0h0m2 0h0m4 0h1m12 0h2m4 0h0m8 0h0m2 0h1m5 0h0m13 0h0m7 0h0m5 0h0m5 0h0m3 0h1m11 0h0m2 0h0m6 0h0m8 0h1m6 0h1m4 0h0m4 0h0m3 0h0m25 0h0m-215 1h0m18 0h0m7 0h0m6 0h0m5 0h0m27 0h0m6 0h0m2 0h0m2 0h0m2 0h0m5 0h0m3 0h0m3 0h0m2 0h0m3 0h0m4 0h1m5 0h6m3 0h0m7 0h1m3 0h0m2 0h0m4 0h0m5 0h0m4 0h1m2 0h0m3 0h0m7 0h0m4 0h3m6 0h0m13 0h0m2 0h0m2 0h1m7 0h0m7 0h0m7 0h0m3 0h0m2 0h0m4 0h0m6 0h0m6 0h0m4 0h0m41 0h0m-267 1h0m10 0h0m8 0h0m13 0h0m9 0h0m4 0h0m22 0h0m2 0h1m6 0h0m3 0h0m4 0h1m3 0h0m8 0h0m3 0h0m7 0h0m6 0h0m2 0h0m14 0h0m3 0h0m10 0h0m3 0h0m2 0h1m2 0h0m3 0h0m2 0h0m3 0h0m2 0h1m8 0h0m3 0h0m2 0h1m2 0h1m4 0h0m3 0h0m2 0h1m3 0h1m12 0h1m34 0h0m3 0h0m-239 1h0m10 0h0m15 0h0m15 0h0m7 0h0m12 0h0m2 0h0m2 0h0m3 0h0m3 0h0m2 0h0m8 0h1m2 0h0m6 0h0m2 0h0m5 0h1m2 0h0m11 0h0m4 0h0m3 0h0m6 0h0m5 0h0m2 0h1m2 0h1m5 0h0m13 0h0m2 0h0m7 0h0m11 0h1m2 0h0m2 0h0m7 0h0m5 0h0m20 0h0m2 0h0m19 0h1m-230 1h0m10 0h0m8 0h0m7 0h0m19 0h0m3 0h0m7 0h0m2 0h0m15 0h0m2 0h0m2 0h0m4 0h0m3 0h1m3 0h0m3 0h0m3 0h0m2 0h0m10 0h0m11 0h0m5 0h0m4 0h0m9 0h0m3 0h0m13 0h0m2 0h0m2 0h0m15 0h0m5 0h0m2 0h0m2 0h1m2 0h0m7 0h0m4 0h1m2 0h0m6 0h1m3 0h0m15 0h1m-220 1h0m10 0h0m26 0h0m4 0h0m11 0h0m5 0h0m5 0h0m2 0h0m3 0h0m3 0h0m6 0h1m2 0h0m4 0h1m5 0h0m8 0h0m7 0h1m4 0h0m7 0h1m4 0h1m4 0h0m3 0h0m2 0h0m8 0h0m12 0h0m5 0h0m2 0h0m4 0h0m2 0h0m19 0h1m6 0h1m21 0h0m17 0h0m-228 2h0m10 0h0m21 0h0m5 0h0m4 0h0m4 0h0m3 0h0m4 0h0m3 0h0m2 0h0m10 0h0m3 0h0m6 0h0m4 0h0m4 0h1m3 0h0m6 0h0m4 0h0m4 0h0m4 0h0m2 0h0m2 0h1m4 0h0m22 0h0m3 0h0m11 0h0m3 0h0m3 0h0m2 0h0m2 0h3m4 0h0m3 0h1m2 0h2m3 0h0m5 0h0m2 0h0m3 0h1m6 0h0m2 0h0m2 0h0m7 0h0m2 0h0m4 0h0m-212 1h0m10 0h0m8 0h0m7 0h0m19 0h0m3 0h0m4 0h0m3 0h0m2 0h0m3 0h0m7 0h0m3 0h0m2 0h0m2 0h0m2 0h1m3 0h0m4 0h0m7 0h0m3 0h1m2 0h2m6 0h1m2 0h0m2 0h0m4 0h0m5 0h0m11 0h0m5 0h1m9 0h0m4 0h0m8 0h1m6 0h0m9 0h0m3 0h1m7 0h3m4 0h0m17 0h0m5 0h0m6 0h0m4 0h0m12 0h0m-224 1h0m15 0h0m6 0h0m16 0h0m14 0h0m5 0h0m12 0h2m2 0h0m5 0h0m6 0h0m17 0h0m11 0h0m4 0h0m9 0h0m7 0h1m6 0h0m5 0h0m8 0h0m4 0h0m2 0h0m2 0h0m3 0h2m4 0h2m2 0h0m11 0h0m3 0h0m2 0h1m11 0h0m2 0h0m20 0h0m29 0h0m-230 2h0m5 0h0m8 0h0m7 0h0m12 0h0m3 0h0m2 0h1m2 0h0m2 0h0m3 0h0m2 0h0m2 0h0m3 0h1m8 0h0m2 0h0m6 0h0m5 0h0m2 0h0m20 0h0m3 0h0m2 0h1m12 0h1m3 0h2m6 0h0m5 0h1m2 0h0m11 0h0m5 0h0m5 0h1m2 0h0m53 0h0m-242 1h0m10 0h0m8 0h0m13 0h0m13 0h0m7 0h0m15 0h0m7 0h0m3 0h0m2 0h1m3 0h0m9 0h0m3 0h0m4 0h0m4 0h0m3 0h0m2 0h0m4 0h0m14 0h0m2 0h0m12 0h1m4 0h0m3 0h0m10 0h0m14 0h0m4 0h0m4 0h1m6 0h1m7 0h0m3 0h0m5 0h1m7 0h0m19 0h0m-229 2h0m10 0h0m15 0h0m6 0h0m9 0h0m7 0h0m9 0h0m3 0h0m4 0h0m3 0h0m2 0h1m2 0h0m2 0h0m3 0h0m2 0h0m4 0h2m4 0h0m9 0h1m3 0h1m11 0h0m2 0h0m2 0h0m3 0h0m9 0h0m6 0h0m5 0h1m2 0h0m5 0h0m5 0h0m2 0h0m4 0h0m9 0h0m8 0h0m2 0h0m3 0h0m6 0h0m15 0h0m2 0h0m16 0h1m-221 2h0m10 0h0m21 0h0m9 0h0m11 0h0m12 0h0m5 0h0m7 0h0m4 0h0m9 0h0m2 0h1m4 0h0m2 0h0m4 0h0m4 0h0m8 0h0m24 0h1m2 0h0m8 0h0m7 0h0m2 0h0m5 0h1m8 0h0m6 0h0m14 0h0m5 0h0m3 0h0m16 0h0m-215 1h0m10 0h0m15 0h0m11 0h0m4 0h0m7 0h0m4 0h0m3 0h0m5 0h0m2 0h0m2 0h0m5 0h1m2 0h0m2 0h0m6 0h0m7 0h1m9 0h0m4 0h0m19 0h0m5 0h0m3 0h0m2 0h1m18 0h0m8 0h1m4 0h0m16 0h0m16 0h0m18 0h0m-211 2h0m18 0h0m7 0h0m6 0h0m5 0h0m4 0h0m4 0h0m3 0h0m4 0h0m8 0h0m7 0h0m3 0h0m2 0h0m2 0h0m2 0h0m3 0h0m11 0h0m6 0h0m6 0h0m14 0h2m3 0h0m6 0h1m2 0h0m8 0h0m8 0h0m5 0h0m16 0h1m7 0h0m2 0h0m7 0h0m5 0h0m6 0h0m5 0h0m2 0h0m2 0h0m2 0h0m10 0h0m12 0h0m2 0h0m-229 2h0m25 0h0m6 0h0m5 0h0m4 0h0m11 0h0m5 0h0m12 0h0m10 0h0m13 0h1m4 0h1m4 0h1m3 0h1m6 0h0m2 0h0m5 0h0m3 0h0m2 0h0m8 0h1m3 0h0m5 0h0m5 0h1m10 0h0m3 0h0m8 0h0m3 0h0m2 0h1m6 0h0m9 0h0m7 0h0m9 0h0m20 0h0m-225 2h0m18 0h0m7 0h0m15 0h0m7 0h0m4 0h0m5 0h0m3 0h0m2 0h0m2 0h0m5 0h1m9 0h1m9 0h0m9 0h0m2 0h0m4 0h0m2 0h0m2 0h0m4 0h0m16 0h0m7 0h1m11 0h1m9 0h0m6 0h0m5 0h0m4 0h0m6 0h2m2 0h0m5 0h0m4 0h0m7 0h0m59 0h0m-246 3h0m15 0h0m19 0h0m3 0h0m4 0h0m5 0h0m3 0h0m4 0h0m3 0h0m5 0h0m2 0h0m3 0h0m2 0h2m6 0h0m2 0h1m5 0h0m5 0h1m4 0h0m11 0h0m4 0h1m3 0h0m3 0h0m5 0h0m2 0h0m7 0h0m3 0h0m11 0h0m8 0h0m12 0h1m2 0h1m6 0h1m13 0h0m18 0h0m4 0h0m-202 2h0m7 0h0m11 0h0m4 0h0m11 0h0m8 0h0m2 0h0m7 0h1m2 0h0m2 0h0m5 0h0m10 0h0m4 0h0m2 0h0m2 0h1m3 0h0m2 0h0m4 0h0m4 0h0m2 0h0m2 0h1m12 0h0m11 0h0m4 0h0m2 0h0m2 0h0m4 0h0m5 0h0m2 0h0m3 0h1m2 0h0m12 0h0m10 0h0m15 0h0m-190 3h0m8 0h0m7 0h0m6 0h0m5 0h0m4 0h0m4 0h0m3 0h0m7 0h0m2 0h0m3 0h0m7 0h0m2 0h0m3 0h0m5 0h0m2 0h0m6 0h0m2 0h0m2 0h0m4 0h1m4 0h2m6 0h0m3 0h0m4 0h1m2 0h0m22 0h1m2 0h0m4 0h0m7 0h0m11 0h0m6 0h0m9 0h0m2 0h0m3 0h0m8 0h0m9 0h0m2 0h0m19 0h0m-220 3h0m10 0h0m26 0h0m4 0h0m11 0h0m3 0h0m5 0h0m10 0h0m2 0h0m2 0h0m2 0h0m5 0h0m4 0h0m2 0h0m3 0h0m5 0h0m8 0h0m2 0h0m5 0h1m3 0h0m5 0h1m8 0h0m5 0h0m11 0h0m7 0h1m27 0h0m6 0h0m6 0h0m-180 3h0m8 0h0m7 0h0m11 0h0m8 0h0m3 0h0m4 0h0m3 0h0m2 0h0m3 0h0m7 0h0m3 0h0m2 0h0m2 0h0m3 0h0m2 0h2m2 0h1m3 0h0m10 0h0m11 0h1m7 0h0m8 0h0m3 0h1m11 0h0m2 0h0m11 0h0m14 0h0m6 0h0m5 0h0m2 0h1m4 0h0m5 0h0m19 0h0m-207 4h0m25 0h0m11 0h0m8 0h0m3 0h0m4 0h0m5 0h0m5 0h0m2 0h0m3 0h0m2 0h0m11 0h0m4 0h0m4 0h0m2 0h1m3 0h0m5 0h1m5 0h0m9 0h0m4 0h0m9 0h1m4 0h2m17 0h0m15 0h0m3 0h0m3 0h0m7 0h0m4 0h0m3 0h0m3 0h0m6 0h0m-169 4h0m6 0h0m9 0h0m11 0h0m3 0h0m2 0h0m5 0h0m2 0h0m3 0h0m7 0h0m2 0h1m2 0h0m2 0h0m3 0h1m2 0h0m2 0h0m11 0h1m8 0h1m2 0h0m6 0h0m7 0h1m2 0h3m21 0h0m3 0h0m6 0h0m5 0h0m12 0h0m2 0h0m23 0h0m-184 5h0m22 0h0m19 0h0m4 0h0m3 0h0m3 0h0m4 0h0m2 0h0m15 0h0m2 0h0m3 0h0m3 0h0m2 0h0m5 0h3m2 0h0m7 0h2m4 0h0m7 0h0m2 0h0m2 0h2m2 0h0m8 0h0m8 0h0m2 0h0m4 0h0m2 0h1m14 0h0m9 0h0m35 0h0m-221 5h0m36 0h0m8 0h0m3 0h0m9 0h0m7 0h0m5 0h1m22 0h1m2 0h1m3 0h0m4 0h0m2 0h0m3 0h0m12 0h0m8 0h0m5 0h0m4 0h0m7 0h0m3 0h0m2 0h1m-149 7h0m10 0h0m15 0h0m11 0h0m4 0h0m4 0h0m3 0h0m16 0h0m6 0h0m7 0h0m8 0h0m6 0h0m5 0h0m3 0h1m5 0h0m3 0h0m2 0h2m2 0h0m18 0h0m4 0h0m13 0h0m3 0h0m3 0h0m8 0h0m23 0h0m-175 9h0m44 0h0m12 0h0m5 0h0m20 0h1m4 0h0m4 0h0m2 0h0m3 0h0m2 0h0m16 0h0m10 0h0m12 0h0m3 0h0m6 0h0m16 0h0m24 0h0m9 0h0" fill="none" stroke="#ea5f47" stroke-width="1.9" stroke-linecap="square"/>
<rect x="734.8" y="1700" width="2.2" height="125.7" fill="#ea5f47"/>
<rect x="802" y="1823" width="161.7" height="2.4" fill="#ea5f47"/>
<path d="M963.7 1824.2h11.4M976.9 1824.2h2.2M739.3 1824.2h1.6M743.4 1824.2h1.6M751.5 1824.2h1.6M757.9 1824.2h1.6M765 1824.2h1.6M768.4 1824.2h1.6M776.8 1824.2h1.6M783.3 1824.2h1.6M788.2 1824.2h1.6M795.6 1824.2h1.6M801 1824.2h1.6" stroke="#ea5f47" stroke-width="2.2" fill="none"/>
<g transform="translate(734.3 1465.6) scale(0.9935 0.9701)">
<use href="#tpl"/>
<g>
<text x="0.6" y="20" font-size="21.4" fill="#111" textLength="26.66" lengthAdjust="spacingAndGlyphs">UL</text>
<text x="0.5" y="45.1" font-size="21.4" fill="#111" textLength="44.15" lengthAdjust="spacingAndGlyphs">1.59</text>
<text x="385.2" y="20" font-size="21.4" fill="#111" textLength="28.45" lengthAdjust="spacingAndGlyphs">UR</text>
<text x="385" y="45.1" font-size="21.4" fill="#111" textLength="44.03" lengthAdjust="spacingAndGlyphs">12.3</text>
<text x="0.5" y="340.7" font-size="21.4" fill="#111" textLength="23.36" lengthAdjust="spacingAndGlyphs">LL</text>
<text x="1.3" y="365.7" font-size="21.4" fill="#111" textLength="55.01" lengthAdjust="spacingAndGlyphs">55.25</text>
<text x="373.3" y="340.7" font-size="21.4" fill="#111" textLength="26.01" lengthAdjust="spacingAndGlyphs">LR</text>
<text x="374" y="365.7" font-size="21.4" fill="#111" textLength="55.01" lengthAdjust="spacingAndGlyphs">30.83</text>
</g></g>
<path d="M868.2 1465.6V1826.7 M734.3 1706.7H1160.7" stroke="#0a0a0a" stroke-width="2.05" fill="none"/>
<path d="m1354 1615h0m260 10h0m-42 2h0m5 7h0m-124 1h0m85 6h0m-2 2h0m33 0h0m-46 1h0m42 0h0m-83 1h0m70 0h0m33 0h0m4 0h0m-124 1h0m58 0h0m6 0h0m7 0h0m28 0h0m17 0h0m-84 1h0m72 0h0m2 0h0m5 0h0m-136 1h0m109 0h0m5 0h0m-94 1h0m51 0h0m1 1h0m16 0h1m23 0h0m34 0h0m-108 1h0m19 0h0m8 0h0m35 0h1m31 0h0m6 0h0m-71 1h0m11 0h0m27 0h0m7 0h0m3 0h0m6 0h0m8 0h0m-73 1h0m25 0h0m11 0h0m19 0h0m6 0h0m3 0h0m17 0h0m2 0h0m13 0h0m-143 1h0m71 0h0m6 0h0m15 0h0m3 0h0m7 0h0m-42 1h0m3 0h0m3 0h0m10 0h0m8 0h0m22 0h0m4 0h0m8 0h0m7 0h1m4 0h0m2 0h0m4 0h0m-143 1h0m35 0h0m53 0h0m19 0h0m15 0h1m2 0h1m9 0h0m-63 1h1m19 0h1m6 0h0m3 0h0m45 0h0m-265 1h0m137 0h0m80 0h0m3 0h0m4 0h0m11 0h0m11 0h0m28 0h0m-109 1h0m37 0h0m7 0h1m8 0h0m5 0h0m16 0h0m2 0h0m3 0h0m-143 1h0m2 0h0m11 0h1m38 0h0m37 0h0m3 0h0m2 0h0m7 0h0m13 0h0m9 0h0m7 0h0m4 0h1m3 0h0m21 0h0m30 0h0m-223 1h0m101 0h0m4 0h0m15 0h0m6 0h0m9 0h2m6 0h0m4 0h0m6 0h0m3 0h0m2 0h0m7 0h1m7 0h0m2 0h0m4 0h0m23 0h0m-124 1h0m10 0h0m9 0h0m33 0h0m6 0h0m7 0h0m2 0h0m2 0h0m29 0h0m8 0h0m8 0h0m3 0h1m7 0h0m-177 1h0m24 0h1m33 0h0m16 0h0m28 0h0m9 0h0m13 0h0m9 0h2m6 0h0m5 0h0m2 0h0m5 0h0m-144 1h0m10 0h0m9 0h0m5 0h0m28 0h0m18 0h1m11 0h1m15 0h0m3 0h1m2 0h0m2 0h0m7 0h0m3 0h0m7 0h0m4 0h1m3 0h1m6 0h0m5 0h0m5 0h1m2 0h0m3 0h0m-182 1h0m26 0h0m52 0h0m8 0h0m10 0h0m22 0h0m9 0h0m7 0h0m6 0h0m2 0h0m2 0h0m4 0h0m4 0h1m3 0h1m13 0h0m2 0h0m12 0h1m8 0h0m3 0h0m-191 1h0m23 0h0m50 0h1m23 0h0m19 0h0m6 0h1m6 0h1m8 0h0m5 0h0m4 0h2m5 0h1m6 0h0m10 0h0m4 0h1m17 0h0m9 0h0m-157 1h0m16 0h0m4 0h0m33 0h0m12 0h0m12 0h0m12 0h0m4 0h3m4 0h0m4 0h0m5 0h1m3 0h0m9 0h1m8 0h0m9 0h0m3 0h0m3 0h0m-161 1h0m59 0h0m4 0h0m15 0h0m11 0h0m3 0h0m3 0h0m4 0h0m4 0h0m8 0h0m2 0h0m4 0h0m5 0h0m3 0h0m6 0h0m2 0h4m3 0h0m4 0h0m27 0h0m-179 1h0m22 0h0m9 0h0m2 0h0m25 0h0m16 0h0m4 0h0m17 0h0m7 0h1m11 0h0m4 0h0m4 0h0m4 0h0m8 0h0m3 0h1m4 0h0m2 0h0m12 0h0m9 0h0m7 0h0m-162 1h0m19 0h1m13 0h0m36 0h0m8 0h0m13 0h0m4 0h0m4 0h0m10 0h0m2 0h0m2 0h1m3 0h2m2 0h0m3 0h1m7 0h0m3 0h0m4 0h0m5 0h0m-131 1h0m10 0h0m10 0h0m17 0h0m31 0h0m8 0h1m6 0h0m2 0h0m2 0h0m2 0h0m2 0h1m7 0h0m3 0h0m5 0h0m2 0h1m6 0h0m4 0h0m17 0h0m-175 1h0m19 0h1m7 0h0m23 0h0m4 0h0m5 0h0m2 0h0m3 0h0m13 0h0m14 0h0m2 0h0m10 0h0m4 0h2m9 0h1m2 0h2m4 0h1m3 0h1m6 0h0m4 0h0m3 0h0m7 0h1m14 0h0m5 0h0m11 0h0m-185 1h0m7 0h0m10 0h0m27 0h0m4 0h0m18 0h0m20 0h0m10 0h0m4 0h0m3 0h0m2 0h0m12 0h0m4 0h0m3 0h0m4 0h0m2 0h1m2 0h0m2 0h0m7 0h0m4 0h0m5 0h1m8 0h0m16 0h0m-170 1h0m74 0h0m16 0h0m5 0h0m2 0h0m4 0h0m2 0h0m5 0h0m5 0h0m6 0h0m3 0h1m4 0h0m7 0h0m3 0h3m2 0h0m2 0h1m9 0h0m2 0h0m2 0h0m2 0h0m3 0h0m6 0h0m-172 1h0m16 0h0m15 0h0m7 0h0m18 0h0m10 0h0m4 0h0m10 0h0m8 0h1m17 0h2m4 0h0m4 0h0m3 0h0m2 0h1m3 0h0m2 0h0m3 0h1m3 0h0m4 0h1m4 0h2m9 0h0m2 0h0m2 0h2m8 0h0m6 0h0m3 0h0m-289 1h0m83 0h0m57 0h0m17 0h1m2 0h0m5 0h0m6 0h0m2 0h0m8 0h0m24 0h1m4 0h0m8 0h0m2 0h0m3 0h0m2 0h0m5 0h0m3 0h0m3 0h0m4 0h0m2 0h1m2 0h0m4 0h0m3 0h0m3 0h0m2 0h0m6 0h0m7 0h1m3 0h1m14 0h0m-212 1h0m17 0h0m14 0h0m26 0h0m18 0h0m13 0h0m17 0h0m11 0h0m4 0h0m2 0h0m7 0h0m5 0h0m2 0h0m7 0h0m3 0h0m2 0h0m4 0h0m2 0h0m2 0h1m3 0h0m7 0h0m2 0h1m2 0h0m8 0h1m10 0h0m6 0h0m2 0h0m2 0h0m7 0h2m-234 1h0m93 0h0m6 0h0m3 0h0m16 0h0m24 0h0m3 0h1m2 0h0m13 0h0m4 0h0m3 0h0m4 0h0m2 0h0m5 0h0m3 0h0m3 0h0m3 0h0m7 0h0m2 0h0m2 0h1m7 0h0m6 0h0m3 0h0m7 0h1m5 0h0m4 0h0m24 0h0m-185 1h0m6 0h0m17 0h0m18 0h0m16 0h0m12 0h0m10 0h0m3 0h0m3 0h0m6 0h0m3 0h0m2 0h0m4 0h2m4 0h5m3 0h0m4 0h0m2 0h1m4 0h0m3 0h0m4 0h0m3 0h0m2 0h1m3 0h0m2 0h0m2 0h0m8 0h0m6 0h0m-231 1h0m37 0h0m5 0h0m29 0h0m27 0h0m23 0h0m2 0h0m4 0h0m14 0h0m17 0h0m2 0h0m5 0h0m4 0h0m9 0h0m3 0h0m2 0h2m6 0h0m2 0h0m5 0h0m2 0h0m2 0h0m4 0h1m8 0h1m13 0h0m-155 1h0m8 0h1m15 0h0m7 0h0m5 0h0m12 0h1m2 0h0m13 0h0m15 0h0m2 0h0m3 0h0m2 0h1m7 0h1m3 0h1m3 0h0m4 0h0m3 0h0m2 0h1m2 0h0m2 0h0m4 0h0m3 0h2m10 0h0m7 0h0m4 0h0m7 0h0m10 0h0m17 0h0m5 0h0m-286 1h0m20 0h0m43 0h0m53 0h0m12 0h0m8 0h0m10 0h0m6 0h2m6 0h0m22 0h0m3 0h0m8 0h0m3 0h1m4 0h0m7 0h2m3 0h2m2 0h1m2 0h0m4 0h1m5 0h0m2 0h0m3 0h0m3 0h0m5 0h0m3 0h0m10 0h0m9 0h0m3 0h0m12 0h0m-161 1h3m20 0h0m15 0h0m15 0h0m4 0h0m2 0h0m10 0h0m9 0h1m2 0h0m2 0h0m5 0h0m5 0h3m2 0h0m11 0h0m2 0h0m4 0h0m2 0h0m4 0h0m2 0h0m3 0h0m2 0h0m27 0h0m-196 1h0m2 0h0m44 0h0m18 0h0m2 0h0m8 0h0m12 0h0m9 0h0m2 0h0m2 0h0m3 0h0m13 0h1m2 0h0m7 0h2m7 0h2m2 0h0m5 0h1m2 0h0m2 0h0m7 0h0m4 0h0m7 0h0m16 0h0m2 0h0m-148 1h0m21 0h1m5 0h0m9 0h0m5 0h0m4 0h0m5 0h0m2 0h0m14 0h0m5 0h0m5 0h1m9 0h0m4 0h0m6 0h1m4 0h0m2 0h0m2 0h1m3 0h0m2 0h0m8 0h0m3 0h0m5 0h0m-139 1h0m5 0h0m10 0h0m9 0h0m8 0h0m9 0h0m4 0h0m6 0h0m26 0h0m7 0h0m2 0h0m3 0h0m3 0h0m2 0h0m2 0h0m3 0h0m2 0h1m3 0h0m4 0h1m2 0h0m2 0h0m3 0h0m6 0h1m2 0h0m2 0h0m4 0h0m2 0h0m4 0h0m4 0h0m3 0h0m2 0h0m3 0h0m-137 1h0m2 0h0m10 0h0m20 0h0m4 0h0m8 0h0m6 0h0m6 0h1m7 0h0m4 0h0m8 0h2m8 0h1m3 0h2m4 0h0m6 0h1m4 0h0m4 0h0m3 0h0m3 0h0m5 0h0m3 0h0m-198 1h0m11 0h0m30 0h0m4 0h0m11 0h0m22 0h0m20 0h0m5 0h0m13 0h0m8 0h0m6 0h0m2 0h0m2 0h0m2 0h0m7 0h0m3 0h2m7 0h0m3 0h0m13 0h0m2 0h2m8 0h1m4 0h0m2 0h0m8 0h0m6 0h0m17 0h0m7 0h0m-173 1h0m6 0h0m5 0h1m13 0h0m4 0h0m13 0h0m19 0h0m19 0h0m3 0h0m8 0h0m6 0h0m7 0h0m3 0h1m5 0h0m6 0h1m2 0h1m5 0h0m11 0h0m8 0h0m24 0h0m-217 1h0m51 0h0m9 0h0m29 0h0m6 0h0m5 0h0m2 0h0m14 0h0m4 0h0m10 0h0m16 0h0m3 0h0m4 0h0m11 0h0m3 0h1m2 0h0m4 0h0m8 0h0m4 0h0m2 0h0m16 0h1m4 0h0m17 0h0m-178 1h0m35 0h0m13 0h0m23 0h0m2 0h0m4 0h0m15 0h0m2 0h1m2 0h0m2 0h0m10 0h0m4 0h0m16 0h0m8 0h0m12 0h0m-228 1h0m84 0h1m15 0h0m2 0h0m22 0h2m7 0h0m3 0h0m7 0h0m4 0h0m18 0h1m3 0h1m4 0h0m2 0h0m9 0h0m4 0h0m6 0h0m3 0h1m2 0h0m4 0h0m5 0h0m11 0h0m12 0h0m12 0h0m-265 1h0m32 0h0m43 0h0m9 0h0m11 0h0m20 0h0m14 0h0m13 0h1m9 0h0m6 0h0m9 0h1m11 0h0m4 0h0m12 0h0m7 0h0m16 0h0m10 0h0m11 0h0m8 0h0m26 0h0m-203 1h0m13 0h0m13 0h0m8 0h0m2 0h0m17 0h0m73 0h0m8 0h0m22 0h0m5 0h0m5 0h0m3 0h0m27 0h0m-273 1h0m95 0h1m15 0h0m5 0h0m8 0h0m3 0h0m29 0h0m11 0h0m8 0h0m5 0h0m4 0h1m10 0h0m6 0h0m2 0h0m3 0h0m14 0h2m14 0h2m3 0h0m-260 1h0m103 0h0m27 0h0m22 0h0m26 0h0m5 0h0m5 0h0m17 0h0m7 0h0m5 0h2m9 0h0m4 0h0m2 0h0m16 0h0m2 0h0m4 0h1m2 0h0m20 0h0m-213 1h0m39 0h0m12 0h0m24 0h0m22 0h0m4 0h0m8 0h0m8 0h0m15 0h0m11 0h0m8 0h2m2 0h1m30 0h2m-228 1h0m27 0h0m5 0h0m34 0h0m9 0h0m26 0h0m18 0h0m33 0h0m7 0h0m10 0h1m10 0h0m11 0h0m5 0h0m4 0h1m4 0h0m6 0h0m10 0h1m7 0h0m3 0h0m4 0h0m7 0h0m-269 1h0m79 0h0m15 0h0m19 0h0m15 0h0m28 0h0m22 0h0m20 0h0m17 0h0m5 0h1m4 0h0m18 0h0m18 0h0m-187 1h0m71 0h0m27 0h0m9 0h0m12 0h0m14 0h0m9 0h0m5 0h1m14 0h0m5 0h0m5 0h1m2 0h0m15 0h0m5 0h0m4 0h0m5 0h0m24 0h0m-239 1h0m73 0h0m13 0h0m10 0h0m22 0h1m10 0h0m9 0h0m12 0h0m12 0h1m8 0h0m5 0h0m13 0h1m-120 1h0m22 0h0m3 0h0m17 0h0m3 0h0m4 0h0m14 0h1m2 0h0m12 0h2m20 0h0m6 0h1m7 0h0m5 0h0m14 0h0m7 0h0m9 0h0m-200 1h0m34 0h0m26 0h0m7 0h0m9 0h0m23 0h0m2 0h0m12 0h0m14 0h0m3 0h0m12 0h0m3 0h0m6 0h0m11 0h0m-191 1h0m13 0h0m13 0h0m34 0h0m41 0h0m28 0h0m8 0h0m37 0h0m7 0h0m-215 1h0m120 0h0m32 0h0m7 0h0m5 0h0m3 0h0m11 0h0m2 0h0m7 0h0m2 0h0m5 0h0m8 0h0m2 0h2m2 0h0m3 0h1m4 0h0m29 0h0m27 0h0m-280 1h0m85 0h0m19 0h0m42 0h0m10 0h0m5 0h0m26 0h1m2 0h0m5 0h0m6 0h0m12 0h0m5 0h0m2 0h2m23 0h0m-230 1h0m32 0h0m5 0h0m3 0h0m6 0h0m9 0h0m12 0h0m20 0h0m13 0h0m21 0h0m18 0h0m13 0h0m17 0h0m6 0h1m7 0h0m22 0h0m3 0h1m3 0h0m3 0h1m15 0h0m2 0h0m8 0h0m18 0h0m-248 1h0m29 0h0m20 0h0m104 0h1m12 0h1m24 0h0m8 0h0m2 0h0m14 0h0m5 0h0m3 0h2m-225 1h0m35 0h0m31 0h0m9 0h0m68 0h0m3 0h0m7 0h0m6 0h0m17 0h0m3 0h0m9 0h0m14 0h0m7 0h0m14 0h0m-241 1h0m49 0h0m8 0h1m19 0h0m75 0h0m10 0h0m12 0h0m4 0h0m4 0h0m5 0h0m5 0h1m9 0h0m31 0h0m3 0h0m44 0h0m-280 1h0m13 0h0m5 0h0m9 0h0m3 0h0m30 0h0m27 0h0m2 0h0m3 0h0m15 0h0m21 0h1m20 0h0m3 0h0m9 0h0m4 0h0m7 0h0m11 0h0m2 0h0m9 0h0m2 0h0m2 0h0m4 0h0m7 0h0m6 0h0m10 0h0m30 0h0m13 0h0m-255 1h0m42 0h0m38 0h0m16 0h0m29 0h0m11 0h0m11 0h0m3 0h0m2 0h0m3 0h0m20 0h0m4 0h1m2 0h0m2 0h0m3 0h0m13 0h0m3 0h0m17 0h0m16 0h0m2 0h0m-244 1h0m32 0h0m10 0h0m15 0h0m13 0h0m5 0h0m30 0h0m25 0h0m6 0h0m4 0h0m4 0h0m23 0h0m8 0h2m9 0h0m2 0h0m5 0h0m5 0h0m4 0h0m6 0h0m7 0h0m16 0h0m3 0h0m14 0h0m12 0h0m16 0h0m-161 1h0m27 0h0m4 0h0m5 0h0m11 0h0m4 0h0m3 0h0m17 0h0m5 0h0m2 0h0m6 0h0m17 0h1m5 0h0m57 0h0m-259 1h0m3 0h0m21 0h0m4 0h0m25 0h0m5 0h0m12 0h0m16 0h0m31 0h0m3 0h0m3 0h0m11 0h0m11 0h1m2 0h0m2 0h0m5 0h0m13 0h1m8 0h1m11 0h0m9 0h0m2 0h0m67 0h0m-226 1h0m4 0h0m51 0h0m12 0h1m4 0h0m3 0h0m5 0h0m9 0h0m11 0h1m3 0h0m2 0h1m6 0h0m4 0h0m5 0h1m2 0h1m4 0h0m6 0h0m13 0h0m5 0h0m4 0h0m-203 1h0m28 0h0m2 0h0m29 0h0m5 0h0m5 0h0m4 0h0m12 0h0m10 0h0m21 0h0m5 0h0m2 0h0m7 0h0m14 0h0m6 0h0m2 0h1m12 0h1m4 0h0m6 0h0m2 0h0m12 0h0m8 0h2m6 0h0m-211 1h0m5 0h0m4 0h0m30 0h0m13 0h0m9 0h0m6 0h0m48 0h0m21 0h0m27 0h0m35 0h0m-235 1h0m53 0h0m8 0h0m15 0h0m5 0h1m14 0h0m2 0h0m3 0h0m21 0h0m3 0h0m26 0h0m6 0h0m22 0h0m15 0h0m7 0h0m3 0h0m12 0h0m11 0h0m31 0h0m-232 1h0m42 0h0m54 0h0m15 0h0m17 0h0m2 0h0m6 0h0m4 0h0m2 0h0m10 0h0m5 0h0m5 0h2m18 0h0m22 0h0m6 0h0m9 0h0m-213 1h0m5 0h0m19 0h0m2 0h0m75 0h0m5 0h0m5 0h0m9 0h0m4 0h0m3 0h0m15 0h0m6 0h0m5 0h0m9 0h0m4 0h0m4 0h1m4 0h0m5 0h1m14 0h1m22 0h0m-231 1h0m18 0h0m24 0h0m5 0h0m6 0h0m10 0h0m53 0h0m6 0h0m7 0h0m3 0h0m5 0h0m3 0h0m2 0h0m16 0h0m4 0h0m3 0h0m27 0h2m3 0h0m7 0h0m3 0h1m5 0h1m15 0h0m-211 1h0m12 0h0m21 0h0m21 0h0m10 0h0m12 0h1m6 0h0m7 0h0m4 0h0m8 0h0m7 0h0m3 0h0m12 0h0m7 0h0m11 0h0m3 0h0m12 0h0m3 0h0m3 0h0m8 0h0m7 0h0m3 0h0m9 0h0m4 0h0m2 0h0m5 0h0m12 0h0m3 0h0m15 0h0m19 0h0m-287 1h0m32 0h0m34 0h0m8 0h0m12 0h0m7 0h0m18 0h0m54 0h0m9 0h1m2 0h0m6 0h1m4 0h0m8 0h0m14 0h0m2 0h1m18 0h1m32 0h0m-264 1h0m42 0h0m11 0h0m5 0h0m5 0h0m23 0h0m3 0h0m2 0h0m40 0h0m17 0h0m3 0h0m3 0h0m2 0h0m2 0h0m12 0h0m14 0h0m2 0h0m7 0h1m13 0h0m15 0h0m18 0h0m4 0h0m-153 1h0m8 0h0m10 0h0m27 0h0m23 0h0m5 0h0m13 0h0m6 0h1m5 0h0m3 0h0m5 0h1m3 0h0m3 0h0m5 0h0m4 0h0m14 0h3m6 0h0m2 0h0m30 0h0m-268 1h0m42 0h0m4 0h0m12 0h0m3 0h0m11 0h0m9 0h1m21 0h0m11 0h0m11 0h0m6 0h0m25 0h0m6 0h0m6 0h0m4 0h0m4 0h0m3 0h0m2 0h0m8 0h0m2 0h1m8 0h0m2 0h0m7 0h1m6 0h0m2 0h0m7 0h0m3 0h0m14 0h0m3 0h0m-196 1h0m4 0h0m5 0h0m8 0h0m2 0h0m11 0h0m4 0h0m3 0h0m22 0h0m46 0h0m4 0h0m10 0h1m2 0h0m5 0h0m9 0h1m11 0h0m3 0h3m12 0h0m2 0h1m11 0h0m28 0h0m-225 1h0m21 0h0m8 0h0m26 0h0m2 0h0m16 0h0m9 0h0m22 0h0m15 0h0m6 0h0m6 0h0m8 0h0m4 0h0m2 0h1m5 0h0m2 0h1m5 0h0m4 0h0m6 0h1m11 0h0m5 0h1m2 0h0m3 0h0m27 0h0m4 0h0m-255 1h0m53 0h0m13 0h0m30 0h0m12 0h0m7 0h0m8 0h0m2 0h1m9 0h0m8 0h0m3 0h0m10 0h0m4 0h0m3 0h1m15 0h0m4 0h0m6 0h0m12 0h0m2 0h1m5 0h0m6 0h0m4 0h0m9 0h0m-191 1h0m9 0h0m3 0h0m23 0h0m7 0h0m17 0h0m4 0h0m5 0h0m24 0h0m11 0h0m24 0h0m17 0h0m2 0h0m5 0h1m4 0h0m2 0h0m10 0h1m6 0h0m-186 1h0m16 0h0m4 0h0m3 0h0m7 0h0m7 0h0m3 0h0m16 0h0m8 0h0m5 0h1m5 0h0m12 0h0m8 0h2m10 0h0m23 0h0m5 0h0m5 0h0m6 0h0m7 0h0m13 0h0m10 0h2m3 0h0m4 0h1m8 0h1m7 0h0m5 0h0m26 0h0m3 0h0m14 0h0m-276 1h0m11 0h0m21 0h0m5 0h0m5 0h0m30 0h0m4 0h0m14 0h0m3 0h0m6 0h0m14 0h0m4 0h0m34 0h0m8 0h0m7 0h0m7 0h0m5 0h0m3 0h0m12 0h0m6 0h0m6 0h0m8 0h1m6 0h0m4 0h1m4 0h0m2 0h1m9 0h1m13 0h0m11 0h0m3 0h0m-243 1h0m11 0h0m5 0h0m26 0h0m2 0h0m12 0h0m34 0h0m8 0h0m11 0h0m10 0h0m22 0h0m7 0h0m10 0h0m9 0h0m3 0h0m2 0h0m2 0h0m3 0h0m3 0h0m5 0h0m6 0h0m50 0h0m-267 1h0m11 0h0m15 0h0m11 0h0m5 0h0m7 0h0m14 0h0m9 0h0m7 0h0m3 0h1m8 0h1m11 0h1m2 0h0m14 0h0m8 0h0m13 0h0m3 0h0m8 0h0m3 0h0m8 0h0m4 0h0m9 0h0m8 0h0m10 0h0m10 0h0m3 0h0m8 0h1m3 0h0m7 0h0m21 0h0m6 0h0m19 0h0m-272 1h0m11 0h0m35 0h0m31 0h0m8 0h0m20 0h0m11 0h0m10 0h0m7 0h0m34 0h0m8 0h0m5 0h0m3 0h0m10 0h0m4 0h0m3 0h0m26 0h0m2 0h0m9 0h0m-237 1h0m32 0h0m10 0h0m14 0h0m7 0h0m5 0h0m19 0h0m7 0h0m5 0h0m2 0h0m14 0h0m9 0h0m4 0h0m10 0h1m3 0h0m24 0h1m3 0h0m2 0h0m7 0h0m2 0h0m2 0h0m10 0h0m2 0h2m3 0h0m3 0h1m3 0h1m2 0h0m6 0h1m8 0h0m3 0h0m12 0h0m2 0h0m6 0h0m4 0h0m4 0h0m23 0h0m47 0h0m-289 1h0m29 0h0m8 0h0m2 0h0m3 0h0m20 0h0m46 0h0m6 0h0m22 0h0m8 0h0m8 0h0m7 0h1m2 0h0m8 0h0m8 0h1m10 0h0m13 0h0m3 0h0m-242 1h0m32 0h0m10 0h0m4 0h0m3 0h0m7 0h0m2 0h0m5 0h0m11 0h0m5 0h0m4 0h0m4 0h0m3 0h1m2 0h0m12 0h0m7 0h0m11 0h0m14 0h0m8 0h0m8 0h0m3 0h0m9 0h1m3 0h0m3 0h0m9 0h0m6 0h1m2 0h2m3 0h0m4 0h0m2 0h0m4 0h1m3 0h1m21 0h0m4 0h0m22 0h1m-232 1h0m6 0h0m14 0h0m28 0h0m9 0h0m2 0h0m11 0h0m11 0h0m8 0h0m32 0h0m6 0h1m4 0h0m6 0h0m3 0h0m2 0h0m23 0h0m4 0h1m4 0h0m8 0h0m4 0h0m10 0h0m11 0h0m25 0h0m-217 1h0m19 0h0m9 0h0m11 0h0m10 0h1m3 0h0m12 0h0m3 0h0m20 0h0m8 0h0m22 0h1m2 0h0m13 0h0m4 0h0m2 0h0m11 0h0m7 0h0m10 0h0m20 0h0m-230 1h0m11 0h0m8 0h0m7 0h0m11 0h0m9 0h0m3 0h0m7 0h0m10 0h0m4 0h0m6 0h0m7 0h0m2 0h0m5 0h0m4 0h0m3 0h0m11 0h0m4 0h0m9 0h2m14 0h0m2 0h0m2 0h0m10 0h0m6 0h0m2 0h0m3 0h1m13 0h1m2 0h0m2 0h0m17 0h0m3 0h0m3 0h0m7 0h1m6 0h1m3 0h1m4 0h0m4 0h0m7 0h0m5 0h0m7 0h0m-224 1h0m6 0h0m5 0h0m9 0h0m3 0h0m7 0h0m7 0h0m3 0h0m2 0h0m8 0h0m3 0h0m2 0h0m5 0h0m3 0h0m22 0h0m7 0h0m5 0h0m16 0h0m2 0h0m28 0h0m6 0h0m16 0h0m2 0h0m5 0h0m3 0h0m15 0h0m2 0h1m3 0h1m41 0h0m-264 1h0m11 0h0m45 0h0m12 0h0m8 0h1m4 0h0m2 0h0m7 0h0m18 0h0m16 0h0m3 0h0m4 0h0m8 0h1m6 0h0m6 0h0m3 0h0m3 0h0m32 0h0m15 0h0m3 0h0m24 0h0m12 0h0m16 0h0m-218 1h0m14 0h0m7 0h0m45 0h0m2 0h1m17 0h0m8 0h0m8 0h0m5 0h0m16 0h0m3 0h0m5 0h0m3 0h0m3 0h0m12 0h1m6 0h0m4 0h0m3 0h0m3 0h0m14 0h0m6 0h0m2 0h0m5 0h0m2 0h0m7 0h0m-225 1h0m13 0h0m10 0h0m4 0h0m3 0h0m14 0h0m3 0h0m11 0h0m6 0h0m4 0h0m18 0h0m11 0h0m35 0h0m22 0h0m10 0h0m5 0h1m7 0h0m2 0h1m8 0h0m5 0h1m9 0h0m6 0h0m5 0h0m5 0h0m-238 1h0m26 0h0m6 0h0m36 0h0m9 0h0m5 0h1m6 0h2m5 0h0m3 0h0m6 0h0m5 0h0m5 0h0m13 0h0m15 0h0m20 0h0m5 0h1m6 0h0m4 0h1m5 0h0m7 0h0m7 0h1m11 0h0m2 0h1m-214 1h0m11 0h0m8 0h0m7 0h0m6 0h0m29 0h0m15 0h1m4 0h0m14 0h1m11 0h1m5 0h0m13 0h1m3 0h0m2 0h0m4 0h0m7 0h0m5 0h0m3 0h1m6 0h0m5 0h0m4 0h0m3 0h0m12 0h1m3 0h0m3 0h0m4 0h0m5 0h0m3 0h0m5 0h1m3 0h0m32 0h0m2 0h0m-244 1h0m11 0h0m26 0h0m5 0h0m16 0h0m5 0h0m9 0h0m4 0h0m7 0h0m6 0h0m6 0h0m12 0h0m14 0h0m9 0h1m20 0h0m7 0h1m4 0h1m8 0h0m10 0h0m4 0h0m3 0h1m5 0h0m3 0h0m2 0h0m14 0h0m4 0h0m6 0h0m24 0h0m-248 1h0m68 0h0m8 0h1m6 0h0m19 0h0m3 0h0m17 0h0m14 0h0m5 0h0m2 0h0m8 0h0m3 0h0m5 0h0m10 0h1m2 0h0m8 0h0m4 0h0m2 0h0m2 0h0m6 0h0m19 0h0m4 0h0m-217 1h0m11 0h0m8 0h0m37 0h0m2 0h0m10 0h0m2 0h0m11 0h2m3 0h0m6 0h1m9 0h0m6 0h0m16 0h0m2 0h0m9 0h0m6 0h1m8 0h0m4 0h0m4 0h0m2 0h0m11 0h0m3 0h0m11 0h1m5 0h0m2 0h0m12 0h0m5 0h0m2 0h0m8 0h0m5 0h0m4 0h0m9 0h0m18 0h0m-256 1h0m11 0h0m35 0h0m7 0h0m3 0h0m7 0h0m3 0h0m4 0h0m2 0h0m2 0h0m2 0h1m2 0h0m4 0h0m6 0h0m2 0h0m14 0h1m4 0h0m11 0h0m12 0h0m13 0h0m13 0h0m6 0h0m2 0h1m2 0h0m3 0h0m10 0h0m9 0h0m2 0h1m6 0h0m2 0h0m8 0h1m3 0h0m4 0h0m7 0h1m4 0h0m26 0h0m-246 1h0m15 0h0m11 0h0m5 0h0m11 0h0m3 0h0m2 0h0m3 0h0m5 0h0m2 0h0m6 0h0m5 0h0m6 0h0m8 0h0m4 0h0m5 0h0m3 0h0m2 0h1m2 0h0m11 0h0m2 0h0m16 0h1m5 0h0m3 0h0m10 0h0m7 0h0m3 0h1m3 0h1m7 0h0m4 0h0m9 0h0m2 0h0m7 0h0m2 0h0m10 0h0m2 0h0m3 0h0m30 0h0m-217 1h0m14 0h0m17 0h0m14 0h0m6 0h0m3 0h0m3 0h0m11 0h1m10 0h0m2 0h3m5 0h0m20 0h0m6 0h0m4 0h0m4 0h0m3 0h0m5 0h0m4 0h0m3 0h0m3 0h0m2 0h0m7 0h1m4 0h0m6 0h0m5 0h0m2 0h0m6 0h0m6 0h0m40 0h0m-241 1h0m8 0h0m7 0h0m16 0h0m4 0h0m3 0h0m12 0h0m5 0h0m10 0h1m8 0h0m11 0h0m2 0h0m10 0h0m11 0h0m18 0h0m5 0h0m5 0h0m6 0h0m3 0h0m6 0h0m9 0h0m4 0h0m9 0h1m4 0h1m11 0h0m4 0h0m2 0h0m6 0h0m9 0h0m6 0h0m22 0h0m-250 1h0m11 0h0m15 0h0m11 0h0m5 0h0m7 0h0m14 0h0m5 0h0m6 0h0m2 0h0m7 0h0m22 0h0m4 0h0m2 0h0m2 0h1m8 0h1m12 0h1m10 0h0m7 0h0m2 0h0m7 0h0m6 0h1m10 0h0m4 0h0m8 0h1m2 0h0m7 0h0m6 0h0m6 0h0m7 0h0m22 0h0m7 0h0m-238 2h0m21 0h0m10 0h0m7 0h0m7 0h0m5 0h0m7 0h0m4 0h0m4 0h0m6 0h0m8 0h0m4 0h0m2 0h0m7 0h1m4 0h0m12 0h0m41 0h1m6 0h0m2 0h0m5 0h0m7 0h0m4 0h0m2 0h0m3 0h0m2 0h0m2 0h1m6 0h0m11 0h0m5 0h0m7 0h1m6 0h0m6 0h0m13 0h0m8 0h0m-259 1h0m11 0h0m15 0h0m11 0h0m9 0h0m7 0h0m3 0h0m2 0h0m3 0h0m9 0h0m6 0h0m10 0h0m22 0h0m8 0h0m6 0h0m2 0h0m13 0h0m9 0h0m2 0h0m4 0h0m18 0h0m2 0h0m3 0h0m7 0h2m2 0h0m3 0h0m21 0h1m15 0h0m-226 2h0m37 0h0m9 0h0m7 0h0m3 0h0m5 0h0m2 0h0m7 0h0m2 0h0m15 0h0m2 0h0m2 0h0m4 0h0m2 0h0m7 0h0m7 0h0m7 0h0m3 0h1m5 0h1m4 0h0m3 0h0m3 0h0m4 0h0m4 0h1m5 0h0m3 0h0m4 0h0m3 0h0m2 0h0m8 0h0m6 0h0m2 0h0m4 0h0m7 0h0m4 0h0m4 0h0m2 0h0m11 0h0m2 0h0m2 0h0m10 0h1m5 0h1m38 0h0m7 0h0m-259 1h0m18 0h0m9 0h0m3 0h0m4 0h0m5 0h0m5 0h0m18 0h0m2 0h0m11 0h0m20 0h0m6 0h1m33 0h2m8 0h0m2 0h0m2 0h0m3 0h0m6 0h0m6 0h0m9 0h3m9 0h0m18 0h0m5 0h0m20 0h0m-247 2h0m11 0h0m8 0h0m7 0h0m6 0h0m5 0h0m5 0h0m7 0h0m4 0h0m13 0h0m4 0h0m2 0h0m2 0h0m7 0h0m13 0h0m9 0h0m12 0h0m2 0h0m7 0h0m5 0h0m3 0h0m6 0h0m4 0h0m11 0h1m4 0h0m5 0h1m6 0h0m4 0h0m3 0h0m5 0h0m3 0h0m12 0h0m2 0h0m3 0h0m4 0h0m5 0h0m6 0h0m14 0h0m15 0h0m-246 1h0m11 0h0m21 0h0m5 0h0m5 0h0m4 0h0m3 0h0m7 0h0m7 0h0m3 0h0m4 0h0m6 0h0m5 0h1m10 0h0m16 0h0m3 0h0m6 0h1m15 0h0m5 0h0m5 0h2m4 0h0m11 0h0m6 0h0m2 0h0m7 0h1m18 0h0m4 0h0m7 0h0m16 0h0m3 0h0m41 0h0m-265 2h0m11 0h0m8 0h0m13 0h0m5 0h0m9 0h0m10 0h0m7 0h0m3 0h0m2 0h0m8 0h0m5 0h1m7 0h0m2 0h2m9 0h0m2 0h0m8 0h0m12 0h0m22 0h0m10 0h0m2 0h0m6 0h1m4 0h0m3 0h0m2 0h0m8 0h0m9 0h0m7 0h1m21 0h0m2 0h0m3 0h0m6 0h1m-221 2h0m8 0h0m13 0h0m10 0h0m24 0h0m2 0h0m6 0h0m5 0h0m6 0h1m3 0h0m19 0h0m3 0h0m2 0h0m3 0h0m3 0h0m6 0h0m2 0h0m2 0h0m7 0h0m2 0h0m2 0h0m3 0h0m11 0h0m2 0h1m3 0h0m4 0h0m5 0h0m4 0h1m5 0h3m14 0h0m2 0h1m4 0h0m19 0h0m-222 2h0m37 0h0m5 0h0m4 0h0m3 0h0m4 0h0m3 0h0m10 0h0m8 0h0m5 0h0m4 0h0m2 0h0m12 0h1m3 0h0m7 0h1m10 0h0m5 0h0m15 0h0m7 0h0m4 0h0m3 0h0m6 0h0m6 0h0m14 0h0m2 0h0m2 0h0m2 0h0m6 0h0m12 0h0m4 0h1m11 0h0m-219 2h0m11 0h0m15 0h0m11 0h0m12 0h0m4 0h0m3 0h0m2 0h0m3 0h0m2 0h0m5 0h0m8 0h1m2 0h0m11 0h0m18 0h0m18 0h0m6 0h0m14 0h0m3 0h0m3 0h0m4 0h1m3 0h0m8 0h1m3 0h0m6 0h1m2 0h0m3 0h0m8 0h0m8 0h0m4 0h2m5 0h0m3 0h0m8 0h0m23 0h0m29 0h0m-274 2h0m11 0h0m8 0h0m18 0h0m5 0h0m4 0h0m10 0h0m7 0h0m5 0h0m2 0h0m2 0h0m2 0h0m3 0h0m10 0h0m3 0h1m5 0h0m5 0h0m4 0h0m4 0h0m13 0h0m4 0h2m5 0h0m4 0h0m2 0h0m3 0h0m6 0h0m10 0h0m5 0h2m3 0h0m4 0h0m10 0h1m4 0h0m5 0h0m4 0h0m3 0h0m24 0h0m-186 2h0m5 0h0m4 0h0m7 0h0m8 0h0m2 0h0m3 0h0m4 0h0m2 0h0m9 0h0m6 0h0m2 0h0m13 0h0m2 0h0m4 0h0m7 0h0m8 0h1m3 0h0m12 0h0m11 0h0m6 0h0m4 0h0m3 0h0m2 0h0m2 0h0m3 0h1m2 0h0m3 0h0m4 0h0m5 0h0m8 0h0m11 0h1m19 0h0m36 0h0m-249 3h0m15 0h0m6 0h0m17 0h0m4 0h0m3 0h0m2 0h0m3 0h0m5 0h0m2 0h0m2 0h0m6 0h0m7 0h0m2 0h1m3 0h0m3 0h0m2 0h0m2 0h0m24 0h0m8 0h0m2 0h1m6 0h0m3 0h1m8 0h0m2 0h0m8 0h0m2 0h0m5 0h0m9 0h0m11 0h0m6 0h0m6 0h0m2 0h0m5 0h0m3 0h0m7 0h0m9 0h0m16 0h0m-240 2h0m11 0h0m8 0h0m7 0h0m6 0h0m5 0h0m9 0h0m3 0h0m4 0h0m5 0h0m3 0h0m9 0h0m4 0h0m3 0h0m6 0h0m4 0h0m11 0h0m10 0h0m3 0h0m2 0h0m5 0h0m2 0h0m2 0h0m8 0h0m5 0h0m2 0h0m4 0h1m3 0h0m15 0h0m5 0h0m6 0h1m10 0h0m9 0h0m5 0h0m14 0h0m7 0h0m14 0h0m-220 3h0m15 0h0m16 0h0m11 0h0m5 0h0m3 0h0m13 0h0m2 0h1m4 0h0m4 0h2m5 0h0m9 0h0m4 0h0m15 0h0m9 0h0m5 0h2m11 0h0m2 0h1m10 0h0m5 0h2m8 0h1m3 0h0m9 0h0m10 0h1m3 0h0m2 0h1m7 0h0m-212 4h0m32 0h0m17 0h0m14 0h0m5 0h0m4 0h0m5 0h0m4 0h0m2 0h0m2 0h0m2 0h0m5 0h0m2 0h0m14 0h0m9 0h0m3 0h0m10 0h0m16 0h0m2 0h1m5 0h1m2 0h0m3 0h0m8 0h0m4 0h0m9 0h1m9 0h0m20 0h0m6 0h0m3 0h0m6 0h0m4 0h0m-211 3h0m13 0h0m5 0h0m9 0h0m12 0h0m8 0h0m2 0h0m2 0h0m2 0h0m2 0h0m8 0h0m10 0h0m5 0h0m9 0h0m2 0h0m7 0h0m4 0h0m6 0h0m10 0h0m7 0h0m4 0h0m9 0h3m5 0h0m2 0h0m5 0h0m8 0h0m7 0h0m2 0h0m8 0h0m3 0h0m37 0h0m-235 5h0m11 0h0m35 0h0m3 0h0m4 0h0m3 0h0m7 0h0m5 0h0m2 0h0m2 0h0m2 0h0m7 0h0m12 0h1m34 0h0m8 0h0m27 0h0m4 0h0m6 0h0m2 0h0m5 0h1m8 0h0m7 0h0m3 0h0m-199 5h0m11 0h0m31 0h0m11 0h0m5 0h0m3 0h0m9 0h0m2 0h0m2 0h0m3 0h0m2 0h0m2 0h0m5 0h0m4 0h1m3 0h1m3 0h0m2 0h1m15 0h0m6 0h1m16 0h0m6 0h0m6 0h0m5 0h0m8 0h0m28 0h0m-192 5h0m11 0h0m26 0h0m9 0h0m3 0h0m9 0h0m5 0h0m3 0h0m4 0h0m4 0h0m8 0h0m4 0h1m2 0h0m13 0h0m3 0h0m6 0h0m14 0h0m15 0h0m9 0h0m3 0h0m5 0h0m4 0h0m6 0h1m5 0h0m6 0h0m2 0h0m4 0h0m4 0h0m-163 7h0m16 0h0m7 0h0m9 0h0m3 0h0m9 0h0m6 0h1m2 0h0m4 0h0m9 0h0m8 0h0m2 0h0m2 0h0m2 0h0m2 0h0m3 0h0m2 0h0m5 0h1m5 0h0m5 0h0m26 0h0m10 0h0m34 0h0m-188 9h0m15 0h0m27 0h0m3 0h0m7 0h0m5 0h0m2 0h0m4 0h0m11 0h0m9 0h2m9 0h0m10 0h0m15 0h0m2 0h0m21 0h1m2 0h0m4 0h2m10 0h0m4 0h0m4 0h0m35 0h0" fill="none" stroke="#ea5f47" stroke-width="1.9" stroke-linecap="square"/>
<rect x="1290.5" y="1707.8" width="2.2" height="121.5" fill="#ea5f47"/>
<rect x="1362" y="1826.6" width="173" height="2.4" fill="#ea5f47"/>
<path d="M1535 1827.8h5.1M1543.6 1827.8h2.2M1295 1827.8h1.6M1302.1 1827.8h1.6M1305.4 1827.8h1.6M1312.1 1827.8h1.6M1320.9 1827.8h1.6M1327.4 1827.8h1.6M1333.2 1827.8h1.6M1338.4 1827.8h1.6M1341.7 1827.8h1.6M1347.1 1827.8h1.6M1355.7 1827.8h1.6" stroke="#ea5f47" stroke-width="2.2" fill="none"/>
<g transform="translate(1290 1461.4) scale(1.0306 0.9911)">
<use href="#tpl"/>
<g>
<text x="0.6" y="20" font-size="21.4" fill="#111" textLength="26.66" lengthAdjust="spacingAndGlyphs">UL</text>
<text x="0.5" y="45.1" font-size="21.4" fill="#111" textLength="44.03" lengthAdjust="spacingAndGlyphs">1.53</text>
<text x="373.4" y="20" font-size="21.4" fill="#111" textLength="28.45" lengthAdjust="spacingAndGlyphs">UR</text>
<text x="373.2" y="45.1" font-size="21.4" fill="#111" textLength="55.82" lengthAdjust="spacingAndGlyphs">18.58</text>
<text x="0.5" y="340.7" font-size="21.4" fill="#111" textLength="23.36" lengthAdjust="spacingAndGlyphs">LL</text>
<text x="1.8" y="365.7" font-size="21.4" fill="#111" textLength="54.79" lengthAdjust="spacingAndGlyphs">40.17</text>
<text x="373.3" y="340.7" font-size="21.4" fill="#111" textLength="26.01" lengthAdjust="spacingAndGlyphs">LR</text>
<text x="374" y="365.7" font-size="21.4" fill="#111" textLength="55.24" lengthAdjust="spacingAndGlyphs">39.72</text>
</g></g>
<path d="M1428 1461.4V1830.3 M1290 1707.8H1732.3" stroke="#0a0a0a" stroke-width="2.05" fill="none"/>
<text x="6.6" y="34.2" font-size="29.2" font-weight="bold" fill="#111" textLength="36.18" lengthAdjust="spacingAndGlyphs">(a)</text>
<text x="6.6" y="945.3" font-size="29.2" font-weight="bold" fill="#111" textLength="37.98" lengthAdjust="spacingAndGlyphs">(b)</text>
<text x="6.6" y="1856.4" font-size="29.2" font-weight="bold" fill="#111" textLength="36.18" lengthAdjust="spacingAndGlyphs">(c)</text>
<path d="M1142.6 184.4q-2.4 4.4 0 8.8" stroke="#333" stroke-width="1.3" fill="none"/>
<path d="M318.6 14.4l4 .8" stroke="#555" stroke-width="1.1" fill="none"/>
</svg></body></html>
